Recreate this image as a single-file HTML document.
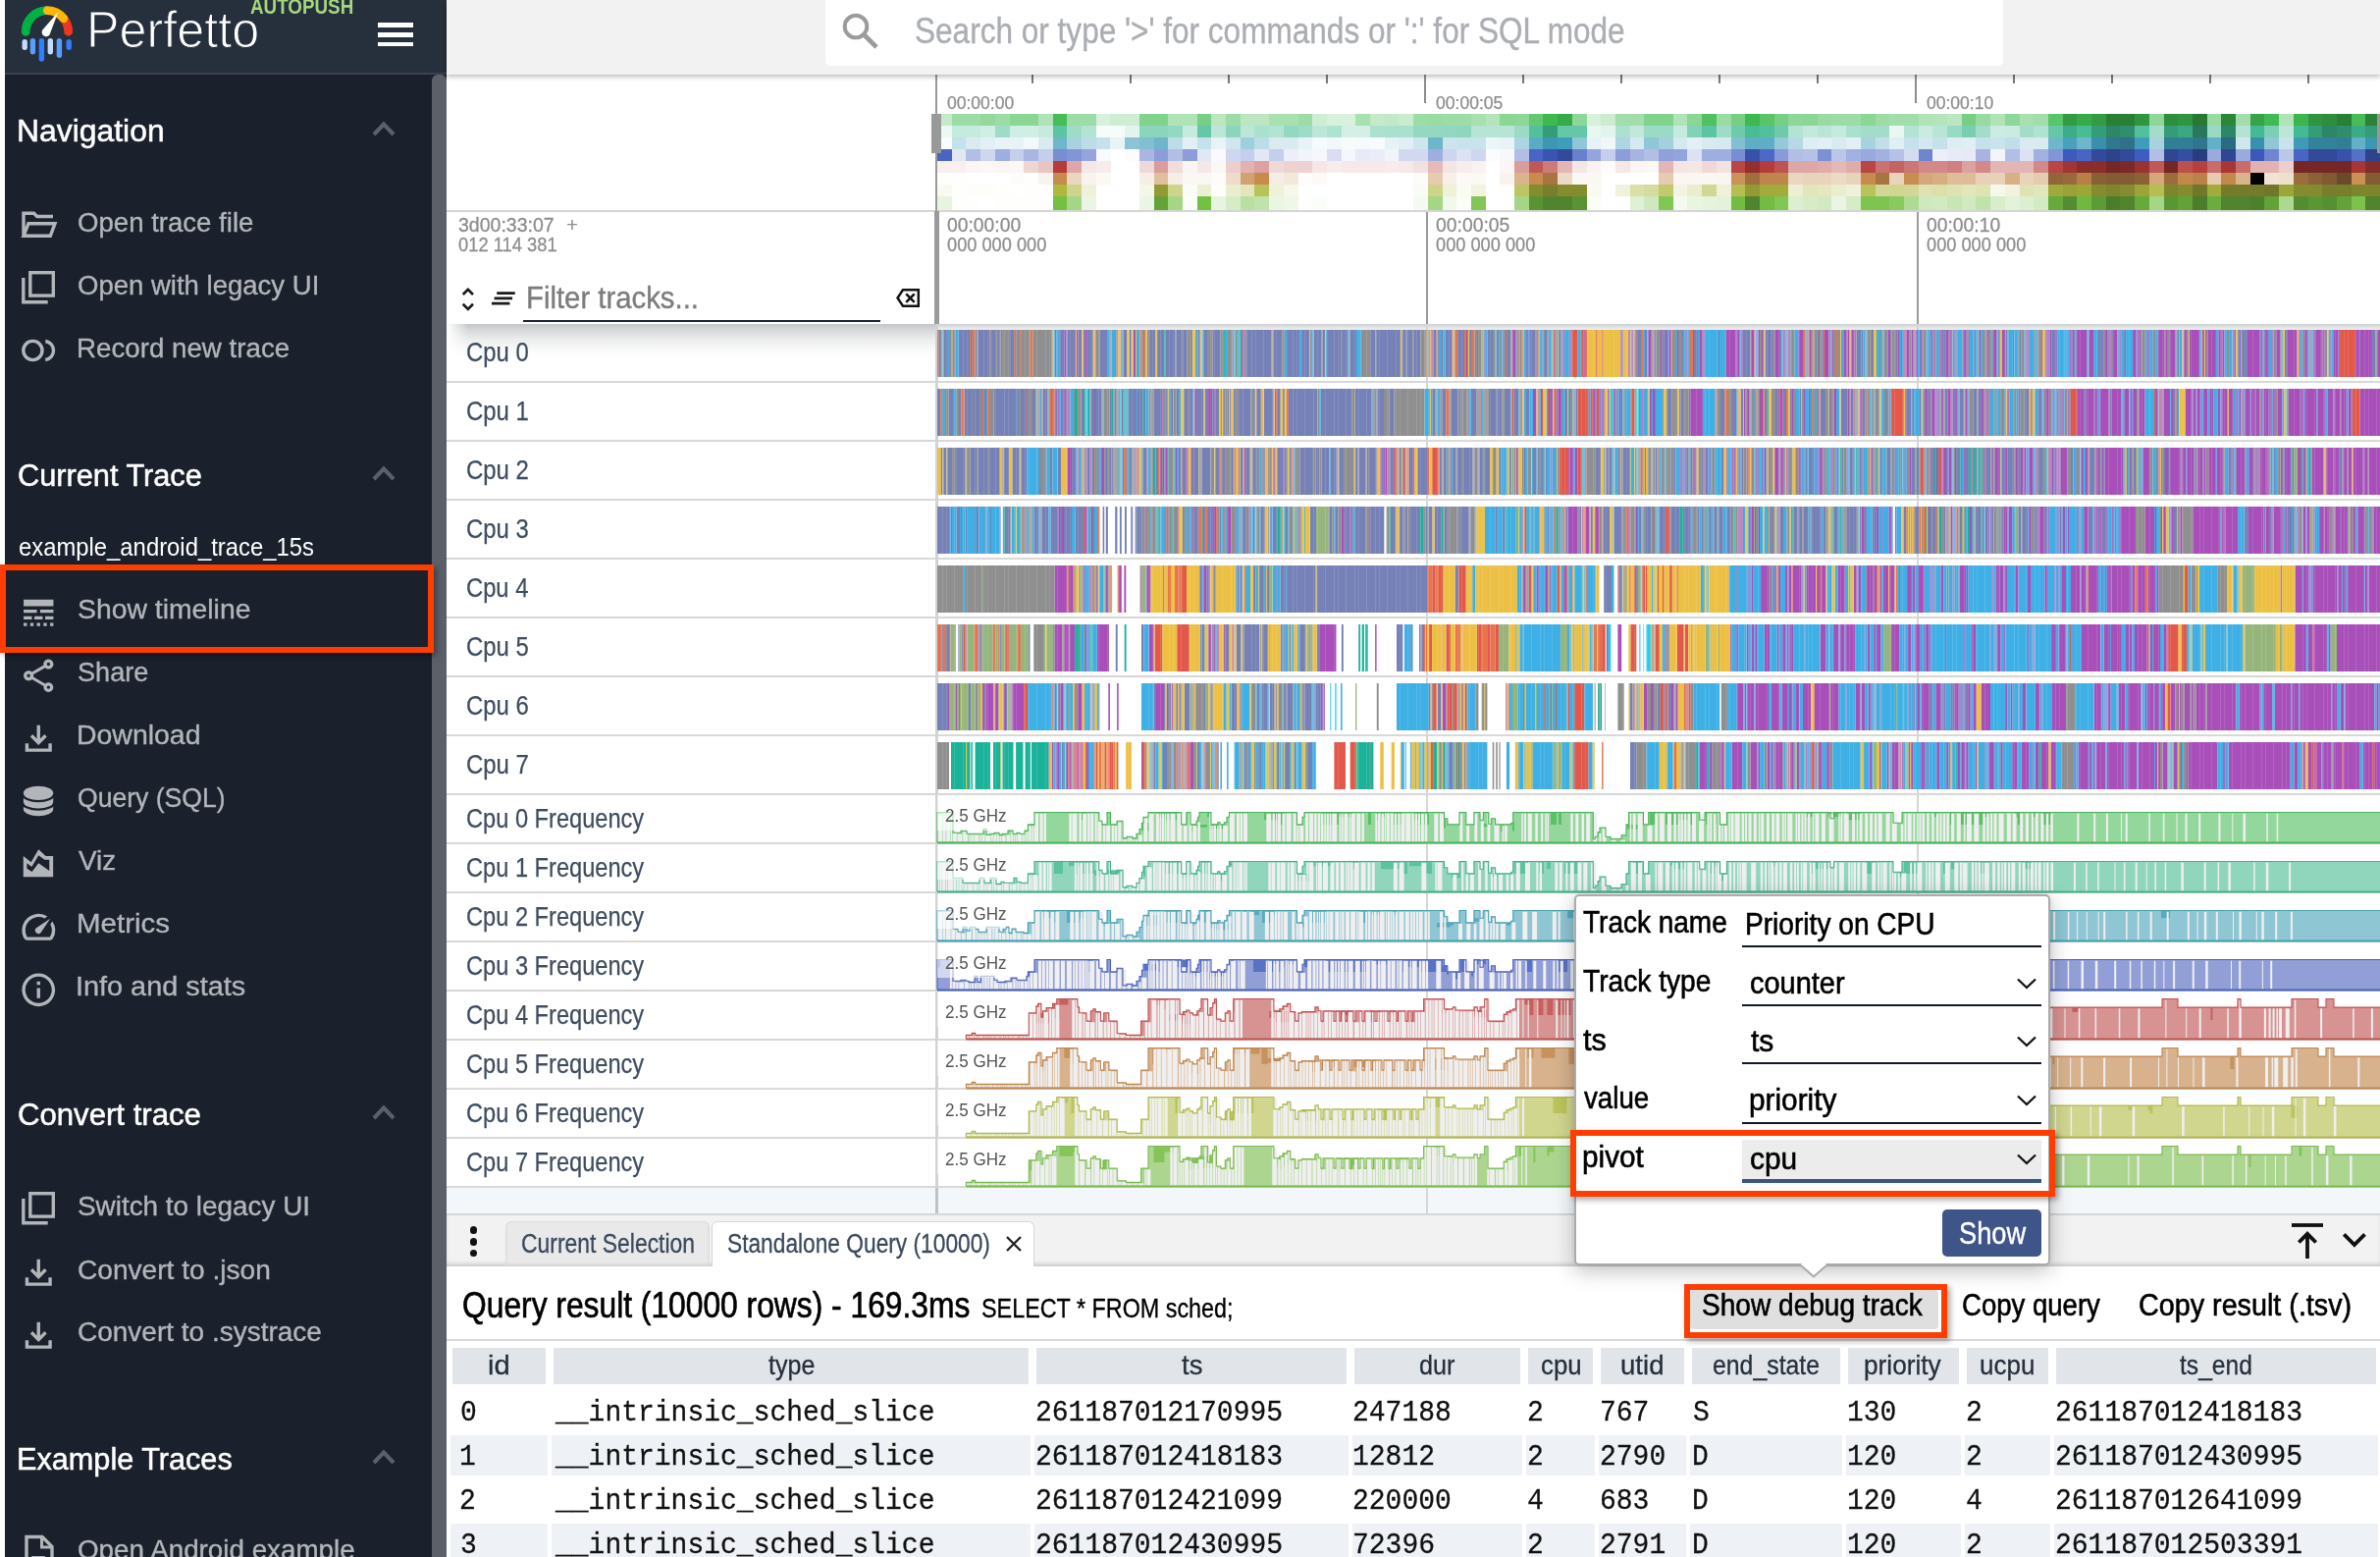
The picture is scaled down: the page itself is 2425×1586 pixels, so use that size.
<!DOCTYPE html>
<html lang="en"><head><meta charset="utf-8"><title>Perfetto UI</title>
<style>
html,body{margin:0;padding:0;background:#fff}
body{width:2425px;height:1586px;position:relative;overflow:hidden;font-family:"Liberation Sans",sans-serif}
.b{position:absolute;box-sizing:border-box}
.t{position:absolute;white-space:pre;line-height:1;transform-origin:0 0}
svg{position:absolute;overflow:visible}
#w{position:absolute;left:0;top:0;width:2425px;height:1586px;will-change:transform}
</style></head>
<body>
<div id="w">
<div class="b" style="left:5px;top:0px;width:450px;height:1586px;background:#1b212c;"></div>
<div class="b" style="left:5px;top:0px;width:450px;height:76px;background:#262f3c;border-bottom:2px solid #3a424e;"></div>
<div class="b" style="left:440px;top:76px;width:15px;height:1510px;background:#5c6069;border-radius:6px 6px 0 0;"></div>
<svg style="left:0;top:0" width="90" height="72" viewBox="0 0 90 72"><path d="M64.52 18.45 A21.7 21.7 0 0 1 69.60 32.21" fill="none" stroke="#ef3623" stroke-width="8.8" stroke-linecap="round"/><path d="M26.20 32.40 A21.7 21.7 0 0 1 47.14 10.71" fill="none" stroke="#02b144" stroke-width="8.8" stroke-linecap="round"/><path d="M48.28 10.70 A21.7 21.7 0 0 1 64.76 18.74" fill="none" stroke="#ffb606" stroke-width="8.8" stroke-linecap="round"/><path d="M59.4 12 L50.6 35.3 A4.3 4.3 0 1 1 43.3 30.6 Z" fill="#fafafa"/><rect x="22.5" y="40" width="5.4" height="10.9" rx="2.7" fill="#c3dbff"/><rect x="30.7" y="39" width="5.4" height="16.5" rx="2.7" fill="#5c9cff"/><rect x="39.7" y="39" width="5.4" height="23.7" rx="2.7" fill="#2f7fff"/><rect x="48.6" y="39" width="5.4" height="16.5" rx="2.7" fill="#c3dbff"/><rect x="57.7" y="39" width="5.4" height="20.0" rx="2.7" fill="#5c9cff"/><rect x="67.5" y="40" width="5.4" height="10.9" rx="2.7" fill="#2f7fff"/></svg>
<span class="t" style="left:87.9px;top:4.0px;font-size:52px;color:#fff;transform:scaleX(0.9670);font-weight:400;-webkit-text-stroke:1.1px #262f3c;">Perfetto</span>
<span class="t" style="left:254.6px;top:-3.0px;font-size:21.5px;color:#a6d67d;font-weight:700;transform:scaleX(0.8749);">AUTOPUSH</span>
<div class="b" style="left:385px;top:23px;width:36px;height:4.6px;background:#fff;"></div>
<div class="b" style="left:385px;top:33px;width:36px;height:4.6px;background:#fff;"></div>
<div class="b" style="left:385px;top:42.5px;width:36px;height:4.6px;background:#fff;"></div>
<span class="t" style="left:17.2px;top:118.2px;font-size:31px;color:#fff;transform:scaleX(1.0282);-webkit-text-stroke:0.5px #fff;">Navigation</span>
<svg style="left:379px;top:123.2px" width="24" height="16" viewBox="0 0 24 16"><path d="M2 14 L12 3.5 L22 14" fill="none" stroke="#5b616c" stroke-width="4"/></svg>
<span class="t" style="left:18.3px;top:469.0px;font-size:31px;color:#fff;transform:scaleX(0.9909);-webkit-text-stroke:0.5px #fff;">Current Trace</span>
<svg style="left:379px;top:474.0px" width="24" height="16" viewBox="0 0 24 16"><path d="M2 14 L12 3.5 L22 14" fill="none" stroke="#5b616c" stroke-width="4"/></svg>
<span class="t" style="left:18.3px;top:1119.8px;font-size:31px;color:#fff;transform:scaleX(1.0044);-webkit-text-stroke:0.5px #fff;">Convert trace</span>
<svg style="left:379px;top:1124.8px" width="24" height="16" viewBox="0 0 24 16"><path d="M2 14 L12 3.5 L22 14" fill="none" stroke="#5b616c" stroke-width="4"/></svg>
<span class="t" style="left:17.3px;top:1470.7px;font-size:31px;color:#fff;transform:scaleX(0.9886);-webkit-text-stroke:0.5px #fff;">Example Traces</span>
<svg style="left:379px;top:1475.7px" width="24" height="16" viewBox="0 0 24 16"><path d="M2 14 L12 3.5 L22 14" fill="none" stroke="#5b616c" stroke-width="4"/></svg>
<span class="t" style="left:18.5px;top:543.7px;font-size:26px;color:#fff;transform:scaleX(0.9169);">example_android_trace_15s</span>
<span class="t" style="left:78.8px;top:214.1px;font-size:27px;color:#b2b5ba;transform:scaleX(1.0214);-webkit-text-stroke:0.35px #b2b5ba;">Open trace file</span>
<svg style="left:20.0px;top:209.1px" width="40" height="40" viewBox="0 0 40 40"><path fill="none" stroke="#b2b5ba" stroke-width="3.4" stroke-linejoin="miter" d="M4 31.3 V8.3 H14.5 L17.8 11.5 H34 M4 31.3 L9 18.7 H36 L31.3 31.3 Z"/></svg>
<span class="t" style="left:78.8px;top:278.1px;font-size:27px;color:#b2b5ba;transform:scaleX(1.0193);-webkit-text-stroke:0.35px #b2b5ba;">Open with legacy UI</span>
<svg style="left:20.0px;top:273.1px" width="40" height="40" viewBox="0 0 40 40"><rect x="10.8" y="4.7" width="23.5" height="23.4" fill="none" stroke="#b2b5ba" stroke-width="3.4"/><path fill="none" stroke="#b2b5ba" stroke-width="3.4" d="M3.8 9.9 V34.8 H28.7"/></svg>
<span class="t" style="left:77.7px;top:342.0px;font-size:27px;color:#b2b5ba;transform:scaleX(1.0264);-webkit-text-stroke:0.35px #b2b5ba;">Record new trace</span>
<svg style="left:20.0px;top:337.0px" width="40" height="40" viewBox="0 0 40 40"><circle cx="13.4" cy="20" r="9.6" fill="none" stroke="#b2b5ba" stroke-width="3.4"/><path fill="none" stroke="#b2b5ba" stroke-width="3.4" d="M26.3 10.5 A9.6 9.6 0 0 1 26.3 29.5"/></svg>
<span class="t" style="left:78.7px;top:608.2px;font-size:27px;color:#b2b5ba;transform:scaleX(1.0495);-webkit-text-stroke:0.35px #b2b5ba;">Show timeline</span>
<svg style="left:18.9px;top:603.8px" width="40.5" height="40.5" viewBox="0 0 24 24"><path fill="#b2b5ba" fill-rule="evenodd" d="M3 16h5v-2H3v2zm6.5 0h5v-2h-5v2zm6.5 0h5v-2h-5v2zM3 20h2v-2H3v2zm4 0h2v-2H7v2zm4 0h2v-2h-2v2zm4 0h2v-2h-2v2zm4 0h2v-2h-2v2zM3 12h8v-2H3v2zm10 0h8v-2h-8v2zM3 4v4h18V4H3z"/></svg>
<span class="t" style="left:78.8px;top:672.1px;font-size:27px;color:#b2b5ba;transform:scaleX(1.0043);-webkit-text-stroke:0.35px #b2b5ba;">Share</span>
<svg style="left:18.9px;top:667.6px" width="40.5" height="40.5" viewBox="0 0 24 24"><path fill="#b2b5ba" fill-rule="evenodd" d="M18 16.08c-.76 0-1.44.3-1.96.77L8.91 12.7c.05-.23.09-.46.09-.7s-.04-.47-.09-.7l7.05-4.11c.54.5 1.25.81 2.04.81 1.66 0 3-1.34 3-3s-1.34-3-3-3-3 1.34-3 3c0 .24.04.47.09.7L8.04 9.81C7.5 9.31 6.79 9 6 9c-1.66 0-3 1.34-3 3s1.34 3 3 3c.79 0 1.5-.31 2.04-.81l7.12 4.16c-.05.21-.08.43-.08.65 0 1.61 1.31 2.92 2.92 2.92s2.92-1.31 2.92-2.92c0-1.61-1.31-2.92-2.92-2.92zM18 4c.55 0 1 .45 1 1s-.45 1-1 1-1-.45-1-1 .45-1 1-1zM6 13c-.55 0-1-.45-1-1s.45-1 1-1 1 .45 1 1-.45 1-1 1zm12 7.02c-.55 0-1-.45-1-1s.45-1 1-1 1 .45 1 1-.45 1-1 1z"/></svg>
<span class="t" style="left:77.7px;top:736.3px;font-size:27px;color:#b2b5ba;transform:scaleX(1.0534);-webkit-text-stroke:0.35px #b2b5ba;">Download</span>
<svg style="left:18.9px;top:731.8px" width="40.5" height="40.5" viewBox="0 0 24 24"><path fill="#b2b5ba" fill-rule="evenodd" d="M12 16l-5-5 1.4-1.45 2.6 2.6V4h2v8.15l2.6-2.6L17 11zM4 20v-5h2v3h12v-3h2v5z"/></svg>
<span class="t" style="left:78.8px;top:800.1px;font-size:27px;color:#b2b5ba;transform:scaleX(0.9834);-webkit-text-stroke:0.35px #b2b5ba;">Query (SQL)</span>
<svg style="left:20.0px;top:795.1px" width="40" height="40" viewBox="0 0 40 40"><path fill="#b2b5ba" d="M3.9 12.6 A15.15 6.9 0 0 1 34.2 12.6 V29.3 A15.15 6.9 0 0 1 3.9 29.3 Z"/><path fill="none" stroke="#1b212c" stroke-width="2.3" d="M3 13.8 A15.15 6.9 0 0 0 35.1 13.8 M3 22.4 A15.15 6.9 0 0 0 35.1 22.4"/></svg>
<span class="t" style="left:79.9px;top:864.1px;font-size:27px;color:#b2b5ba;transform:scaleX(1.0309);-webkit-text-stroke:0.35px #b2b5ba;">Viz</span>
<svg style="left:19.0px;top:859.1px" width="40" height="40" viewBox="0 0 40 40"><path fill="#b2b5ba" fill-rule="evenodd" d="M4.75 12.9 L12.7 19.2 L20.25 6.2 L27.6 12.9 H35.15 V34.2 H4.75 Z M8.4 20.2 L13.3 24.1 L20.25 12.3 L26.4 16.8 H31.25 V28.1 L20.25 20.2 L13.55 29 L8.4 25.7 Z"/></svg>
<span class="t" style="left:77.6px;top:928.4px;font-size:27px;color:#b2b5ba;transform:scaleX(1.0918);-webkit-text-stroke:0.35px #b2b5ba;">Metrics</span>
<svg style="left:18.9px;top:923.9px" width="40.5" height="40.5" viewBox="0 0 24 24"><path fill="#b2b5ba" fill-rule="evenodd" d="M20.38 8.57l-1.23 1.85a8 8 0 0 1-.22 7.58H5.07A8 8 0 0 1 15.58 6.85l1.85-1.23A10 10 0 0 0 3.35 19a2 2 0 0 0 1.72 1h13.85a2 2 0 0 0 1.74-1 10 10 0 0 0-.27-10.44zm-9.79 6.84a2 2 0 0 0 2.83 0l5.66-8.49-8.49 5.66a2 2 0 0 0 0 2.83z"/></svg>
<span class="t" style="left:77.4px;top:992.2px;font-size:27px;color:#b2b5ba;transform:scaleX(1.0680);-webkit-text-stroke:0.35px #b2b5ba;">Info and stats</span>
<svg style="left:18.9px;top:987.8px" width="40.5" height="40.5" viewBox="0 0 24 24"><path fill="#b2b5ba" fill-rule="evenodd" d="M11 7h2v2h-2zm0 4h2v6h-2zm1-9C6.48 2 2 6.48 2 12s4.48 10 10 10 10-4.48 10-10S17.52 2 12 2zm0 18c-4.41 0-8-3.59-8-8s3.59-8 8-8 8 3.59 8 8-3.59 8-8 8z"/></svg>
<span class="t" style="left:78.8px;top:1216.3px;font-size:27px;color:#b2b5ba;transform:scaleX(1.0323);-webkit-text-stroke:0.35px #b2b5ba;">Switch to legacy UI</span>
<svg style="left:20.0px;top:1211.3px" width="40" height="40" viewBox="0 0 40 40"><rect x="10.8" y="4.7" width="23.5" height="23.4" fill="none" stroke="#b2b5ba" stroke-width="3.4"/><path fill="none" stroke="#b2b5ba" stroke-width="3.4" d="M3.8 9.9 V34.8 H28.7"/></svg>
<span class="t" style="left:78.6px;top:1280.6px;font-size:27px;color:#b2b5ba;transform:scaleX(1.0408);-webkit-text-stroke:0.35px #b2b5ba;">Convert to .json</span>
<svg style="left:18.9px;top:1276.1px" width="40.5" height="40.5" viewBox="0 0 24 24"><path fill="#b2b5ba" fill-rule="evenodd" d="M12 16l-5-5 1.4-1.45 2.6 2.6V4h2v8.15l2.6-2.6L17 11zM4 20v-5h2v3h12v-3h2v5z"/></svg>
<span class="t" style="left:78.7px;top:1344.3px;font-size:27px;color:#b2b5ba;transform:scaleX(1.0366);-webkit-text-stroke:0.35px #b2b5ba;">Convert to .systrace</span>
<svg style="left:18.9px;top:1339.8px" width="40.5" height="40.5" viewBox="0 0 24 24"><path fill="#b2b5ba" fill-rule="evenodd" d="M12 16l-5-5 1.4-1.45 2.6 2.6V4h2v8.15l2.6-2.6L17 11zM4 20v-5h2v3h12v-3h2v5z"/></svg>
<span class="t" style="left:78.8px;top:1566.0px;font-size:27px;color:#b2b5ba;transform:scaleX(1.0290);-webkit-text-stroke:0.35px #b2b5ba;">Open Android example</span>
<svg style="left:20.0px;top:1561.0px" width="40" height="40" viewBox="0 0 40 40"><path fill="none" stroke="#b2b5ba" stroke-width="3.4" d="M7 37 V4.5 H23 L33 14.5 V37 Z"/><path fill="#b2b5ba" d="M21 5 V16.5 H32.5 V13.5 H24 V5Z"/><rect x="12" y="24" width="14" height="3.2" fill="#b2b5ba"/></svg>
<div class="b" style="left:455px;top:330px;width:498px;height:34px;background:linear-gradient(#c4c7ca,#d9dbdd 22%,#eceded 48%,#f8f8f9 72%,#fff);-webkit-mask-image:linear-gradient(90deg,transparent,#000 22px);mask-image:linear-gradient(90deg,transparent,#000 22px);"></div>
<div class="b" style="left:956px;top:330px;width:1469px;height:7px;background:linear-gradient(#cdd0d2,#e4e5e6 55%,#f6f6f6);"></div>
<span class="t" style="left:474.8px;top:345.0px;font-size:28px;color:#3f4d5f;transform:scaleX(0.8518);-webkit-text-stroke:0.25px #3f4d5f;">Cpu 0</span>
<div class="b" style="left:455px;top:388px;width:1970px;height:2px;background:#d8d8d8;"></div>
<span class="t" style="left:474.8px;top:405.0px;font-size:28px;color:#3f4d5f;transform:scaleX(0.8542);-webkit-text-stroke:0.25px #3f4d5f;">Cpu 1</span>
<div class="b" style="left:455px;top:448px;width:1970px;height:2px;background:#d8d8d8;"></div>
<span class="t" style="left:474.8px;top:465.0px;font-size:28px;color:#3f4d5f;transform:scaleX(0.8554);-webkit-text-stroke:0.25px #3f4d5f;">Cpu 2</span>
<div class="b" style="left:455px;top:508px;width:1970px;height:2px;background:#d8d8d8;"></div>
<span class="t" style="left:474.8px;top:525.0px;font-size:28px;color:#3f4d5f;transform:scaleX(0.8530);-webkit-text-stroke:0.25px #3f4d5f;">Cpu 3</span>
<div class="b" style="left:455px;top:568px;width:1970px;height:2px;background:#d8d8d8;"></div>
<span class="t" style="left:474.8px;top:585.0px;font-size:28px;color:#3f4d5f;transform:scaleX(0.8483);-webkit-text-stroke:0.25px #3f4d5f;">Cpu 4</span>
<div class="b" style="left:455px;top:628px;width:1970px;height:2px;background:#d8d8d8;"></div>
<span class="t" style="left:474.8px;top:645.0px;font-size:28px;color:#3f4d5f;transform:scaleX(0.8530);-webkit-text-stroke:0.25px #3f4d5f;">Cpu 5</span>
<div class="b" style="left:455px;top:688px;width:1970px;height:2px;background:#d8d8d8;"></div>
<span class="t" style="left:474.8px;top:705.0px;font-size:28px;color:#3f4d5f;transform:scaleX(0.8530);-webkit-text-stroke:0.25px #3f4d5f;">Cpu 6</span>
<div class="b" style="left:455px;top:748px;width:1970px;height:2px;background:#d8d8d8;"></div>
<span class="t" style="left:474.8px;top:765.0px;font-size:28px;color:#3f4d5f;transform:scaleX(0.8554);-webkit-text-stroke:0.25px #3f4d5f;">Cpu 7</span>
<div class="b" style="left:455px;top:808px;width:1970px;height:2px;background:#d8d8d8;"></div>
<span class="t" style="left:474.8px;top:820.0px;font-size:28px;color:#3f4d5f;transform:scaleX(0.8435);-webkit-text-stroke:0.25px #3f4d5f;">Cpu 0 Frequency</span>
<div class="b" style="left:455px;top:858px;width:1970px;height:2px;background:#d8d8d8;"></div>
<span class="t" style="left:474.8px;top:870.0px;font-size:28px;color:#3f4d5f;transform:scaleX(0.8435);-webkit-text-stroke:0.25px #3f4d5f;">Cpu 1 Frequency</span>
<div class="b" style="left:455px;top:908px;width:1970px;height:2px;background:#d8d8d8;"></div>
<span class="t" style="left:474.8px;top:920.0px;font-size:28px;color:#3f4d5f;transform:scaleX(0.8435);-webkit-text-stroke:0.25px #3f4d5f;">Cpu 2 Frequency</span>
<div class="b" style="left:455px;top:958px;width:1970px;height:2px;background:#d8d8d8;"></div>
<span class="t" style="left:474.8px;top:970.0px;font-size:28px;color:#3f4d5f;transform:scaleX(0.8435);-webkit-text-stroke:0.25px #3f4d5f;">Cpu 3 Frequency</span>
<div class="b" style="left:455px;top:1008px;width:1970px;height:2px;background:#d8d8d8;"></div>
<span class="t" style="left:474.8px;top:1020.0px;font-size:28px;color:#3f4d5f;transform:scaleX(0.8435);-webkit-text-stroke:0.25px #3f4d5f;">Cpu 4 Frequency</span>
<div class="b" style="left:455px;top:1058px;width:1970px;height:2px;background:#d8d8d8;"></div>
<span class="t" style="left:474.8px;top:1070.0px;font-size:28px;color:#3f4d5f;transform:scaleX(0.8435);-webkit-text-stroke:0.25px #3f4d5f;">Cpu 5 Frequency</span>
<div class="b" style="left:455px;top:1108px;width:1970px;height:2px;background:#d8d8d8;"></div>
<span class="t" style="left:474.8px;top:1120.0px;font-size:28px;color:#3f4d5f;transform:scaleX(0.8435);-webkit-text-stroke:0.25px #3f4d5f;">Cpu 6 Frequency</span>
<div class="b" style="left:455px;top:1158px;width:1970px;height:2px;background:#d8d8d8;"></div>
<span class="t" style="left:474.8px;top:1170.0px;font-size:28px;color:#3f4d5f;transform:scaleX(0.8435);-webkit-text-stroke:0.25px #3f4d5f;">Cpu 7 Frequency</span>
<div class="b" style="left:455px;top:1208px;width:1970px;height:2px;background:#d8d8d8;"></div>
<div class="b" style="left:953px;top:330px;width:3px;height:907px;background:#d0d4d9;"></div>
<div class="b" style="left:455px;top:1210px;width:1970px;height:26px;background:#f3f7fa;"></div>
<div class="b" style="left:953px;top:1210px;width:3px;height:27px;background:#bcc2c9;"></div>
<div class="b" style="left:1453px;top:330px;width:2px;height:907px;background:#d6d6d6;"></div>
<div class="b" style="left:1953px;top:330px;width:2px;height:907px;background:#d6d6d6;"></div>
<svg style="left:0;top:0" width="2425" height="220" viewBox="0 0 2425 220" shape-rendering="crispEdges"><rect x="955.0" y="116.00" width="15.0" height="12.30" fill="#c5eaca"/><rect x="969.7" y="116.00" width="29.7" height="12.30" fill="#9edca7"/><rect x="999.1" y="116.00" width="15.0" height="12.30" fill="#94d89e"/><rect x="1013.8" y="116.00" width="15.0" height="12.30" fill="#9edca7"/><rect x="1028.5" y="116.00" width="29.7" height="12.30" fill="#8bd595"/><rect x="1057.9" y="116.00" width="15.0" height="12.30" fill="#b1e3b9"/><rect x="1072.6" y="116.00" width="15.0" height="12.30" fill="#47bc58"/><rect x="1087.3" y="116.00" width="29.7" height="12.30" fill="#9edca7"/><rect x="1116.7" y="116.00" width="15.0" height="12.30" fill="#d8f1dc"/><rect x="1131.4" y="116.00" width="29.7" height="12.30" fill="#ceeed3"/><rect x="1160.8" y="116.00" width="29.7" height="12.30" fill="#81d28d"/><rect x="1190.2" y="116.00" width="29.7" height="12.30" fill="#b1e3b9"/><rect x="1219.6" y="116.00" width="15.0" height="12.30" fill="#77ce84"/><rect x="1234.3" y="116.00" width="15.0" height="12.30" fill="#bbe6c1"/><rect x="1249.0" y="116.00" width="15.0" height="12.30" fill="#9edca7"/><rect x="1263.7" y="116.00" width="29.7" height="12.30" fill="#bbe6c1"/><rect x="1293.1" y="116.00" width="29.7" height="12.30" fill="#a8e0b0"/><rect x="1322.5" y="116.00" width="15.0" height="12.30" fill="#9edca7"/><rect x="1337.2" y="116.00" width="15.0" height="12.30" fill="#ceeed3"/><rect x="1351.9" y="116.00" width="29.7" height="12.30" fill="#d8f1dc"/><rect x="1381.3" y="116.00" width="15.0" height="12.30" fill="#a8e0b0"/><rect x="1396.0" y="116.00" width="15.0" height="12.30" fill="#c5eaca"/><rect x="1410.7" y="116.00" width="15.0" height="12.30" fill="#c1e9c7"/><rect x="1425.4" y="116.00" width="15.0" height="12.30" fill="#c9ebce"/><rect x="1440.1" y="116.00" width="15.0" height="12.30" fill="#9edca7"/><rect x="1454.8" y="116.00" width="15.0" height="12.30" fill="#9adba3"/><rect x="1469.5" y="116.00" width="29.7" height="12.30" fill="#9edca7"/><rect x="1498.9" y="116.00" width="15.0" height="12.30" fill="#a8e0b0"/><rect x="1513.6" y="116.00" width="15.0" height="12.30" fill="#b5e4bc"/><rect x="1528.3" y="116.00" width="15.0" height="12.30" fill="#8bd595"/><rect x="1543.0" y="116.00" width="15.0" height="12.30" fill="#8ed699"/><rect x="1557.7" y="116.00" width="15.0" height="12.30" fill="#64c772"/><rect x="1572.4" y="116.00" width="15.0" height="12.30" fill="#3db94f"/><rect x="1587.1" y="116.00" width="15.0" height="12.30" fill="#38ab49"/><rect x="1601.8" y="116.00" width="15.0" height="12.30" fill="#8ed699"/><rect x="1616.5" y="116.00" width="15.0" height="12.30" fill="#d8f1dc"/><rect x="1631.2" y="116.00" width="15.0" height="12.30" fill="#cbeccf"/><rect x="1645.9" y="116.00" width="29.7" height="12.30" fill="#a2ddab"/><rect x="1675.3" y="116.00" width="29.7" height="12.30" fill="#81d28d"/><rect x="1704.7" y="116.00" width="15.0" height="12.30" fill="#b1e3b9"/><rect x="1719.4" y="116.00" width="15.0" height="12.30" fill="#8bd595"/><rect x="1734.1" y="116.00" width="15.0" height="12.30" fill="#50c061"/><rect x="1748.8" y="116.00" width="15.0" height="12.30" fill="#9adba3"/><rect x="1763.5" y="116.00" width="15.0" height="12.30" fill="#77ce84"/><rect x="1778.2" y="116.00" width="15.0" height="12.30" fill="#3db94f"/><rect x="1792.9" y="116.00" width="15.0" height="12.30" fill="#5ac469"/><rect x="1807.6" y="116.00" width="15.0" height="12.30" fill="#77ce84"/><rect x="1822.3" y="116.00" width="15.0" height="12.30" fill="#8ed699"/><rect x="1837.0" y="116.00" width="15.0" height="12.30" fill="#8bd595"/><rect x="1851.7" y="116.00" width="15.0" height="12.30" fill="#98daa2"/><rect x="1866.4" y="116.00" width="29.7" height="12.30" fill="#9edca7"/><rect x="1895.8" y="116.00" width="15.0" height="12.30" fill="#8bd595"/><rect x="1910.5" y="116.00" width="15.0" height="12.30" fill="#9edca7"/><rect x="1925.2" y="116.00" width="29.7" height="12.30" fill="#a2ddab"/><rect x="1954.6" y="116.00" width="15.0" height="12.30" fill="#b1e3b9"/><rect x="1969.3" y="116.00" width="15.0" height="12.30" fill="#b5e4bc"/><rect x="1984.0" y="116.00" width="15.0" height="12.30" fill="#bbe6c1"/><rect x="1998.7" y="116.00" width="15.0" height="12.30" fill="#77ce84"/><rect x="2013.4" y="116.00" width="15.0" height="12.30" fill="#98daa2"/><rect x="2028.1" y="116.00" width="15.0" height="12.30" fill="#b1e3b9"/><rect x="2042.8" y="116.00" width="15.0" height="12.30" fill="#8ed699"/><rect x="2057.5" y="116.00" width="15.0" height="12.30" fill="#a8e0b0"/><rect x="2072.2" y="116.00" width="15.0" height="12.30" fill="#a2ddab"/><rect x="2086.9" y="116.00" width="15.0" height="12.30" fill="#5ac469"/><rect x="2101.6" y="116.00" width="15.0" height="12.30" fill="#339c43"/><rect x="2116.3" y="116.00" width="15.0" height="12.30" fill="#38ab49"/><rect x="2131.0" y="116.00" width="15.0" height="12.30" fill="#339c43"/><rect x="2145.7" y="116.00" width="29.7" height="12.30" fill="#2a7f36"/><rect x="2175.1" y="116.00" width="15.0" height="12.30" fill="#319540"/><rect x="2189.8" y="116.00" width="15.0" height="12.30" fill="#8ed699"/><rect x="2204.5" y="116.00" width="15.0" height="12.30" fill="#2f8e3d"/><rect x="2219.2" y="116.00" width="15.0" height="12.30" fill="#319540"/><rect x="2233.9" y="116.00" width="15.0" height="12.30" fill="#287833"/><rect x="2248.6" y="116.00" width="15.0" height="12.30" fill="#98daa2"/><rect x="2263.3" y="116.00" width="15.0" height="12.30" fill="#2c8639"/><rect x="2278.0" y="116.00" width="15.0" height="12.30" fill="#a2ddab"/><rect x="2292.7" y="116.00" width="15.0" height="12.30" fill="#36a346"/><rect x="2307.4" y="116.00" width="15.0" height="12.30" fill="#41ba53"/><rect x="2322.1" y="116.00" width="15.0" height="12.30" fill="#b1e3b9"/><rect x="2336.8" y="116.00" width="15.0" height="12.30" fill="#3cb54d"/><rect x="2351.5" y="116.00" width="15.0" height="12.30" fill="#319540"/><rect x="2366.2" y="116.00" width="15.0" height="12.30" fill="#2f8e3d"/><rect x="2380.9" y="116.00" width="15.0" height="12.30" fill="#2a7f36"/><rect x="2395.6" y="116.00" width="15.0" height="12.30" fill="#47bc58"/><rect x="2410.3" y="116.00" width="15.0" height="12.30" fill="#2b8238"/><rect x="955.0" y="128.00" width="15.0" height="12.30" fill="#ecf8f4"/><rect x="969.7" y="128.00" width="29.7" height="12.30" fill="#c5eade"/><rect x="999.1" y="128.00" width="15.0" height="12.30" fill="#cfeee4"/><rect x="1013.8" y="128.00" width="15.0" height="12.30" fill="#9fdcc8"/><rect x="1028.5" y="128.00" width="29.7" height="12.30" fill="#cfeee4"/><rect x="1057.9" y="128.00" width="15.0" height="12.30" fill="#c5eade"/><rect x="1072.6" y="128.00" width="15.0" height="12.30" fill="#5cc4a2"/><rect x="1087.3" y="128.00" width="15.0" height="12.30" fill="#9fdcc8"/><rect x="1102.0" y="128.00" width="15.0" height="12.30" fill="#b2e3d3"/><rect x="1116.7" y="128.00" width="29.7" height="12.30" fill="#f5fcfa"/><rect x="1146.1" y="128.00" width="15.0" height="12.30" fill="#e2f4ee"/><rect x="1160.8" y="128.00" width="29.7" height="12.30" fill="#8cd5bd"/><rect x="1190.2" y="128.00" width="15.0" height="12.30" fill="#95d8c2"/><rect x="1204.9" y="128.00" width="15.0" height="12.30" fill="#c5eade"/><rect x="1219.6" y="128.00" width="15.0" height="12.30" fill="#65c7a7"/><rect x="1234.3" y="128.00" width="15.0" height="12.30" fill="#bce6d8"/><rect x="1249.0" y="128.00" width="15.0" height="12.30" fill="#8cd5bd"/><rect x="1263.7" y="128.00" width="15.0" height="12.30" fill="#bce6d8"/><rect x="1278.4" y="128.00" width="15.0" height="12.30" fill="#a9e0ce"/><rect x="1293.1" y="128.00" width="15.0" height="12.30" fill="#b2e3d3"/><rect x="1307.8" y="128.00" width="15.0" height="12.30" fill="#95d8c2"/><rect x="1322.5" y="128.00" width="15.0" height="12.30" fill="#9fdcc8"/><rect x="1337.2" y="128.00" width="15.0" height="12.30" fill="#bce6d8"/><rect x="1351.9" y="128.00" width="15.0" height="12.30" fill="#aee2d1"/><rect x="1366.6" y="128.00" width="29.7" height="12.30" fill="#d3efe6"/><rect x="1396.0" y="128.00" width="15.0" height="12.30" fill="#ace1d0"/><rect x="1410.7" y="128.00" width="29.7" height="12.30" fill="#a9e0ce"/><rect x="1440.1" y="128.00" width="29.7" height="12.30" fill="#95d8c2"/><rect x="1469.5" y="128.00" width="15.0" height="12.30" fill="#92d7c0"/><rect x="1484.2" y="128.00" width="15.0" height="12.30" fill="#90d6bf"/><rect x="1498.9" y="128.00" width="44.4" height="12.30" fill="#b6e4d5"/><rect x="1543.0" y="128.00" width="15.0" height="12.30" fill="#9bdbc6"/><rect x="1557.7" y="128.00" width="15.0" height="12.30" fill="#52c09c"/><rect x="1572.4" y="128.00" width="15.0" height="12.30" fill="#359c7a"/><rect x="1587.1" y="128.00" width="29.7" height="12.30" fill="#65c7a7"/><rect x="1616.5" y="128.00" width="15.0" height="12.30" fill="#e8f7f2"/><rect x="1631.2" y="128.00" width="15.0" height="12.30" fill="#e2f4ee"/><rect x="1645.9" y="128.00" width="15.0" height="12.30" fill="#ace1d0"/><rect x="1660.6" y="128.00" width="15.0" height="12.30" fill="#c0e8db"/><rect x="1675.3" y="128.00" width="29.7" height="12.30" fill="#9bdbc6"/><rect x="1704.7" y="128.00" width="15.0" height="12.30" fill="#c5eade"/><rect x="1719.4" y="128.00" width="15.0" height="12.30" fill="#82d2b8"/><rect x="1734.1" y="128.00" width="15.0" height="12.30" fill="#5cc4a2"/><rect x="1748.8" y="128.00" width="15.0" height="12.30" fill="#9fdcc8"/><rect x="1763.5" y="128.00" width="15.0" height="12.30" fill="#6fcaac"/><rect x="1778.2" y="128.00" width="15.0" height="12.30" fill="#49bc96"/><rect x="1792.9" y="128.00" width="15.0" height="12.30" fill="#52c09c"/><rect x="1807.6" y="128.00" width="15.0" height="12.30" fill="#6fcaac"/><rect x="1822.3" y="128.00" width="15.0" height="12.30" fill="#b2e3d3"/><rect x="1837.0" y="128.00" width="15.0" height="12.30" fill="#c2e9dc"/><rect x="1851.7" y="128.00" width="15.0" height="12.30" fill="#b8e5d6"/><rect x="1866.4" y="128.00" width="15.0" height="12.30" fill="#c5eade"/><rect x="1881.1" y="128.00" width="15.0" height="12.30" fill="#a9e0ce"/><rect x="1895.8" y="128.00" width="29.7" height="12.30" fill="#a3ddca"/><rect x="1925.2" y="128.00" width="15.0" height="12.30" fill="#e8f7f2"/><rect x="1939.9" y="128.00" width="15.0" height="12.30" fill="#b2e3d3"/><rect x="1954.6" y="128.00" width="15.0" height="12.30" fill="#c9ebe0"/><rect x="1969.3" y="128.00" width="15.0" height="12.30" fill="#b8e5d6"/><rect x="1984.0" y="128.00" width="15.0" height="12.30" fill="#99dac5"/><rect x="1998.7" y="128.00" width="15.0" height="12.30" fill="#79ceb2"/><rect x="2013.4" y="128.00" width="15.0" height="12.30" fill="#a3ddca"/><rect x="2028.1" y="128.00" width="15.0" height="12.30" fill="#cbece1"/><rect x="2042.8" y="128.00" width="15.0" height="12.30" fill="#c9ebe0"/><rect x="2057.5" y="128.00" width="15.0" height="12.30" fill="#a3ddca"/><rect x="2072.2" y="128.00" width="15.0" height="12.30" fill="#aee2d1"/><rect x="2086.9" y="128.00" width="15.0" height="12.30" fill="#65c7a7"/><rect x="2101.6" y="128.00" width="15.0" height="12.30" fill="#3bad88"/><rect x="2116.3" y="128.00" width="15.0" height="12.30" fill="#49bc96"/><rect x="2131.0" y="128.00" width="15.0" height="12.30" fill="#359c7a"/><rect x="2145.7" y="128.00" width="15.0" height="12.30" fill="#2e8669"/><rect x="2160.4" y="128.00" width="15.0" height="12.30" fill="#308e6f"/><rect x="2175.1" y="128.00" width="15.0" height="12.30" fill="#52c09c"/><rect x="2189.8" y="128.00" width="15.0" height="12.30" fill="#a3ddca"/><rect x="2204.5" y="128.00" width="15.0" height="12.30" fill="#359c7a"/><rect x="2219.2" y="128.00" width="15.0" height="12.30" fill="#39a883"/><rect x="2233.9" y="128.00" width="15.0" height="12.30" fill="#29785e"/><rect x="2248.6" y="128.00" width="15.0" height="12.30" fill="#99dac5"/><rect x="2263.3" y="128.00" width="15.0" height="12.30" fill="#2e8669"/><rect x="2278.0" y="128.00" width="15.0" height="12.30" fill="#b2e3d3"/><rect x="2292.7" y="128.00" width="15.0" height="12.30" fill="#43ba93"/><rect x="2307.4" y="128.00" width="15.0" height="12.30" fill="#7ccfb4"/><rect x="2322.1" y="128.00" width="15.0" height="12.30" fill="#bce6d8"/><rect x="2336.8" y="128.00" width="15.0" height="12.30" fill="#43ba93"/><rect x="2351.5" y="128.00" width="15.0" height="12.30" fill="#359c7a"/><rect x="2366.2" y="128.00" width="15.0" height="12.30" fill="#2e8669"/><rect x="2380.9" y="128.00" width="15.0" height="12.30" fill="#308e6f"/><rect x="2395.6" y="128.00" width="15.0" height="12.30" fill="#3aab86"/><rect x="2410.3" y="128.00" width="15.0" height="12.30" fill="#359c7a"/><rect x="955.0" y="140.00" width="15.0" height="12.30" fill="#f9fcfd"/><rect x="969.7" y="140.00" width="15.0" height="12.30" fill="#c5e1eb"/><rect x="984.4" y="140.00" width="15.0" height="12.30" fill="#d9ebf1"/><rect x="999.1" y="140.00" width="15.0" height="12.30" fill="#e2f0f5"/><rect x="1013.8" y="140.00" width="29.7" height="12.30" fill="#e8f3f7"/><rect x="1043.2" y="140.00" width="15.0" height="12.30" fill="#f3f9fb"/><rect x="1057.9" y="140.00" width="15.0" height="12.30" fill="#d9ebf1"/><rect x="1072.6" y="140.00" width="15.0" height="12.30" fill="#6fb5cc"/><rect x="1087.3" y="140.00" width="15.0" height="12.30" fill="#a9d2e0"/><rect x="1102.0" y="140.00" width="15.0" height="12.30" fill="#bcdce7"/><rect x="1116.7" y="140.00" width="15.0" height="12.30" fill="#c5e1eb"/><rect x="1131.4" y="140.00" width="15.0" height="12.30" fill="#e8f3f7"/><rect x="1146.1" y="140.00" width="15.0" height="12.30" fill="#8cc4d6"/><rect x="1160.8" y="140.00" width="15.0" height="12.30" fill="#82bfd3"/><rect x="1175.5" y="140.00" width="15.0" height="12.30" fill="#6fb5cc"/><rect x="1190.2" y="140.00" width="15.0" height="12.30" fill="#bcdce7"/><rect x="1204.9" y="140.00" width="15.0" height="12.30" fill="#e2f0f5"/><rect x="1219.6" y="140.00" width="15.0" height="12.30" fill="#c5e1eb"/><rect x="1234.3" y="140.00" width="15.0" height="12.30" fill="#e8f3f7"/><rect x="1249.0" y="140.00" width="15.0" height="12.30" fill="#cfe6ee"/><rect x="1263.7" y="140.00" width="15.0" height="12.30" fill="#9fcedd"/><rect x="1278.4" y="140.00" width="15.0" height="12.30" fill="#bcdce7"/><rect x="1293.1" y="140.00" width="29.7" height="12.30" fill="#d9ebf1"/><rect x="1322.5" y="140.00" width="15.0" height="12.30" fill="#e8f3f7"/><rect x="1337.2" y="140.00" width="15.0" height="12.30" fill="#f5fafc"/><rect x="1351.9" y="140.00" width="15.0" height="12.30" fill="#f2f8fa"/><rect x="1366.6" y="140.00" width="15.0" height="12.30" fill="#f7fbfc"/><rect x="1381.3" y="140.00" width="15.0" height="12.30" fill="#f5fafc"/><rect x="1396.0" y="140.00" width="15.0" height="12.30" fill="#f7fbfc"/><rect x="1410.7" y="140.00" width="15.0" height="12.30" fill="#e6f2f6"/><rect x="1425.4" y="140.00" width="15.0" height="12.30" fill="#e0eff4"/><rect x="1440.1" y="140.00" width="15.0" height="12.30" fill="#cde5ed"/><rect x="1454.8" y="140.00" width="15.0" height="12.30" fill="#6fb5cc"/><rect x="1469.5" y="140.00" width="15.0" height="12.30" fill="#cbe4ed"/><rect x="1484.2" y="140.00" width="29.7" height="12.30" fill="#c9e3ec"/><rect x="1513.6" y="140.00" width="15.0" height="12.30" fill="#ecf5f8"/><rect x="1528.3" y="140.00" width="15.0" height="12.30" fill="#e8f3f7"/><rect x="1543.0" y="140.00" width="15.0" height="12.30" fill="#acd4e2"/><rect x="1557.7" y="140.00" width="15.0" height="12.30" fill="#5cabc5"/><rect x="1572.4" y="140.00" width="15.0" height="12.30" fill="#3d96b4"/><rect x="1587.1" y="140.00" width="15.0" height="12.30" fill="#3f9cbb"/><rect x="1601.8" y="140.00" width="15.0" height="12.30" fill="#90c6d8"/><rect x="1616.5" y="140.00" width="15.0" height="12.30" fill="#e6f2f6"/><rect x="1631.2" y="140.00" width="15.0" height="12.30" fill="#f0f7fa"/><rect x="1645.9" y="140.00" width="15.0" height="12.30" fill="#aed5e2"/><rect x="1660.6" y="140.00" width="15.0" height="12.30" fill="#d5e9f0"/><rect x="1675.3" y="140.00" width="15.0" height="12.30" fill="#90c6d8"/><rect x="1690.0" y="140.00" width="15.0" height="12.30" fill="#a3cfde"/><rect x="1704.7" y="140.00" width="15.0" height="12.30" fill="#d5e9f0"/><rect x="1719.4" y="140.00" width="15.0" height="12.30" fill="#e2f0f5"/><rect x="1734.1" y="140.00" width="15.0" height="12.30" fill="#d9ebf1"/><rect x="1748.8" y="140.00" width="15.0" height="12.30" fill="#d5e9f0"/><rect x="1763.5" y="140.00" width="15.0" height="12.30" fill="#82bfd3"/><rect x="1778.2" y="140.00" width="29.7" height="12.30" fill="#60adc7"/><rect x="1807.6" y="140.00" width="15.0" height="12.30" fill="#95c9da"/><rect x="1822.3" y="140.00" width="15.0" height="12.30" fill="#b6d9e5"/><rect x="1837.0" y="140.00" width="15.0" height="12.30" fill="#dcedf3"/><rect x="1851.7" y="140.00" width="15.0" height="12.30" fill="#e2f0f5"/><rect x="1866.4" y="140.00" width="15.0" height="12.30" fill="#d9ebf1"/><rect x="1881.1" y="140.00" width="15.0" height="12.30" fill="#e2f0f5"/><rect x="1895.8" y="140.00" width="15.0" height="12.30" fill="#a9d2e0"/><rect x="1910.5" y="140.00" width="15.0" height="12.30" fill="#c2dfe9"/><rect x="1925.2" y="140.00" width="15.0" height="12.30" fill="#e0eff4"/><rect x="1939.9" y="140.00" width="15.0" height="12.30" fill="#c5e1eb"/><rect x="1954.6" y="140.00" width="15.0" height="12.30" fill="#d3e8ef"/><rect x="1969.3" y="140.00" width="15.0" height="12.30" fill="#c5e1eb"/><rect x="1984.0" y="140.00" width="15.0" height="12.30" fill="#dcedf3"/><rect x="1998.7" y="140.00" width="15.0" height="12.30" fill="#e0eff4"/><rect x="2013.4" y="140.00" width="15.0" height="12.30" fill="#c5e1eb"/><rect x="2028.1" y="140.00" width="15.0" height="12.30" fill="#c9e3ec"/><rect x="2042.8" y="140.00" width="15.0" height="12.30" fill="#c0dee9"/><rect x="2057.5" y="140.00" width="29.7" height="12.30" fill="#d9ebf1"/><rect x="2086.9" y="140.00" width="15.0" height="12.30" fill="#6fb5cc"/><rect x="2101.6" y="140.00" width="15.0" height="12.30" fill="#49a1be"/><rect x="2116.3" y="140.00" width="15.0" height="12.30" fill="#6fb5cc"/><rect x="2131.0" y="140.00" width="15.0" height="12.30" fill="#3a90ac"/><rect x="2145.7" y="140.00" width="15.0" height="12.30" fill="#30778f"/><rect x="2160.4" y="140.00" width="15.0" height="12.30" fill="#2e7188"/><rect x="2175.1" y="140.00" width="15.0" height="12.30" fill="#3f9cbb"/><rect x="2189.8" y="140.00" width="15.0" height="12.30" fill="#a9d2e0"/><rect x="2204.5" y="140.00" width="29.7" height="12.30" fill="#337e97"/><rect x="2233.9" y="140.00" width="15.0" height="12.30" fill="#2f758c"/><rect x="2248.6" y="140.00" width="15.0" height="12.30" fill="#65b0c9"/><rect x="2263.3" y="140.00" width="15.0" height="12.30" fill="#2b6b81"/><rect x="2278.0" y="140.00" width="15.0" height="12.30" fill="#cfe6ee"/><rect x="2292.7" y="140.00" width="15.0" height="12.30" fill="#3a90ac"/><rect x="2307.4" y="140.00" width="15.0" height="12.30" fill="#90c6d8"/><rect x="2322.1" y="140.00" width="15.0" height="12.30" fill="#c9e3ec"/><rect x="2336.8" y="140.00" width="15.0" height="12.30" fill="#3e9ab8"/><rect x="2351.5" y="140.00" width="29.7" height="12.30" fill="#34819b"/><rect x="2380.9" y="140.00" width="15.0" height="12.30" fill="#337e97"/><rect x="2395.6" y="140.00" width="15.0" height="12.30" fill="#65b0c9"/><rect x="2410.3" y="140.00" width="15.0" height="12.30" fill="#3d96b4"/><rect x="955.0" y="152.00" width="15.0" height="12.30" fill="#4964c3"/><rect x="969.7" y="152.00" width="15.0" height="12.30" fill="#e2e7f6"/><rect x="984.4" y="152.00" width="15.0" height="12.30" fill="#b2bee6"/><rect x="999.1" y="152.00" width="15.0" height="12.30" fill="#cfd6ef"/><rect x="1013.8" y="152.00" width="15.0" height="12.30" fill="#9faee0"/><rect x="1028.5" y="152.00" width="15.0" height="12.30" fill="#c5ceec"/><rect x="1043.2" y="152.00" width="15.0" height="12.30" fill="#a9b6e3"/><rect x="1057.9" y="152.00" width="15.0" height="12.30" fill="#c5ceec"/><rect x="1072.6" y="152.00" width="15.0" height="12.30" fill="#798dd3"/><rect x="1087.3" y="152.00" width="15.0" height="12.30" fill="#8295d6"/><rect x="1102.0" y="152.00" width="15.0" height="12.30" fill="#95a5dc"/><rect x="1116.7" y="152.00" width="15.0" height="12.30" fill="#f9fafd"/><rect x="1146.1" y="152.00" width="15.0" height="12.30" fill="#fbfcfe"/><rect x="1160.8" y="152.00" width="15.0" height="12.30" fill="#a9b6e3"/><rect x="1175.5" y="152.00" width="15.0" height="12.30" fill="#8c9dd9"/><rect x="1190.2" y="152.00" width="15.0" height="12.30" fill="#b2bee6"/><rect x="1204.9" y="152.00" width="15.0" height="12.30" fill="#8c9dd9"/><rect x="1219.6" y="152.00" width="15.0" height="12.30" fill="#e2e7f6"/><rect x="1234.3" y="152.00" width="15.0" height="12.30" fill="#f9fafd"/><rect x="1249.0" y="152.00" width="15.0" height="12.30" fill="#cfd6ef"/><rect x="1263.7" y="152.00" width="15.0" height="12.30" fill="#c5ceec"/><rect x="1278.4" y="152.00" width="15.0" height="12.30" fill="#e2e7f6"/><rect x="1293.1" y="152.00" width="15.0" height="12.30" fill="#c5ceec"/><rect x="1307.8" y="152.00" width="15.0" height="12.30" fill="#eceff9"/><rect x="1322.5" y="152.00" width="15.0" height="12.30" fill="#f2f4fb"/><rect x="1337.2" y="152.00" width="15.0" height="12.30" fill="#f5f7fc"/><rect x="1351.9" y="152.00" width="15.0" height="12.30" fill="#d9def2"/><rect x="1366.6" y="152.00" width="15.0" height="12.30" fill="#f5f7fc"/><rect x="1381.3" y="152.00" width="15.0" height="12.30" fill="#e8ebf7"/><rect x="1396.0" y="152.00" width="15.0" height="12.30" fill="#eaedf8"/><rect x="1410.7" y="152.00" width="15.0" height="12.30" fill="#f2f4fb"/><rect x="1425.4" y="152.00" width="29.7" height="12.30" fill="#d1d8f0"/><rect x="1454.8" y="152.00" width="15.0" height="12.30" fill="#9faee0"/><rect x="1469.5" y="152.00" width="15.0" height="12.30" fill="#cdd5ef"/><rect x="1484.2" y="152.00" width="15.0" height="12.30" fill="#dce2f4"/><rect x="1498.9" y="152.00" width="15.0" height="12.30" fill="#cfd6ef"/><rect x="1513.6" y="152.00" width="15.0" height="12.30" fill="#fbfcfe"/><rect x="1528.3" y="152.00" width="15.0" height="12.30" fill="#f7f8fc"/><rect x="1543.0" y="152.00" width="15.0" height="12.30" fill="#b2bee6"/><rect x="1557.7" y="152.00" width="15.0" height="12.30" fill="#4964c3"/><rect x="1572.4" y="152.00" width="15.0" height="12.30" fill="#3a55b1"/><rect x="1587.1" y="152.00" width="15.0" height="12.30" fill="#334a9b"/><rect x="1601.8" y="152.00" width="15.0" height="12.30" fill="#6980ce"/><rect x="1616.5" y="152.00" width="15.0" height="12.30" fill="#95a5dc"/><rect x="1631.2" y="152.00" width="15.0" height="12.30" fill="#c5ceec"/><rect x="1645.9" y="152.00" width="15.0" height="12.30" fill="#8c9dd9"/><rect x="1660.6" y="152.00" width="15.0" height="12.30" fill="#a7b4e2"/><rect x="1675.3" y="152.00" width="15.0" height="12.30" fill="#b2bee6"/><rect x="1690.0" y="152.00" width="15.0" height="12.30" fill="#90a0da"/><rect x="1704.7" y="152.00" width="15.0" height="12.30" fill="#93a4dc"/><rect x="1719.4" y="152.00" width="15.0" height="12.30" fill="#dce2f4"/><rect x="1734.1" y="152.00" width="29.7" height="12.30" fill="#9faee0"/><rect x="1763.5" y="152.00" width="15.0" height="12.30" fill="#798dd3"/><rect x="1778.2" y="152.00" width="15.0" height="12.30" fill="#3851aa"/><rect x="1792.9" y="152.00" width="15.0" height="12.30" fill="#4e69c5"/><rect x="1807.6" y="152.00" width="15.0" height="12.30" fill="#889ad8"/><rect x="1822.3" y="152.00" width="15.0" height="12.30" fill="#b2bee6"/><rect x="1837.0" y="152.00" width="15.0" height="12.30" fill="#b6c1e7"/><rect x="1851.7" y="152.00" width="15.0" height="12.30" fill="#7c90d4"/><rect x="1866.4" y="152.00" width="15.0" height="12.30" fill="#bcc6e9"/><rect x="1881.1" y="152.00" width="15.0" height="12.30" fill="#a3b1e1"/><rect x="1895.8" y="152.00" width="15.0" height="12.30" fill="#99a9de"/><rect x="1910.5" y="152.00" width="15.0" height="12.30" fill="#a3b1e1"/><rect x="1925.2" y="152.00" width="15.0" height="12.30" fill="#b6c1e7"/><rect x="1939.9" y="152.00" width="15.0" height="12.30" fill="#d5dbf1"/><rect x="1954.6" y="152.00" width="15.0" height="12.30" fill="#6f85d0"/><rect x="1969.3" y="152.00" width="15.0" height="12.30" fill="#eceff9"/><rect x="1984.0" y="152.00" width="15.0" height="12.30" fill="#e8ebf7"/><rect x="1998.7" y="152.00" width="15.0" height="12.30" fill="#e6eaf7"/><rect x="2013.4" y="152.00" width="15.0" height="12.30" fill="#a7b4e2"/><rect x="2028.1" y="152.00" width="15.0" height="12.30" fill="#f3f5fb"/><rect x="2042.8" y="152.00" width="15.0" height="12.30" fill="#b2bee6"/><rect x="2057.5" y="152.00" width="15.0" height="12.30" fill="#dce2f4"/><rect x="2072.2" y="152.00" width="15.0" height="12.30" fill="#a3b1e1"/><rect x="2086.9" y="152.00" width="15.0" height="12.30" fill="#8295d6"/><rect x="2101.6" y="152.00" width="15.0" height="12.30" fill="#3e5abc"/><rect x="2116.3" y="152.00" width="15.0" height="12.30" fill="#4964c3"/><rect x="2131.0" y="152.00" width="15.0" height="12.30" fill="#334a9b"/><rect x="2145.7" y="152.00" width="15.0" height="12.30" fill="#2e438c"/><rect x="2160.4" y="152.00" width="15.0" height="12.30" fill="#334a9b"/><rect x="2175.1" y="152.00" width="15.0" height="12.30" fill="#3f5cc0"/><rect x="2189.8" y="152.00" width="15.0" height="12.30" fill="#b2bee6"/><rect x="2204.5" y="152.00" width="15.0" height="12.30" fill="#304693"/><rect x="2219.2" y="152.00" width="15.0" height="12.30" fill="#354ea2"/><rect x="2233.9" y="152.00" width="15.0" height="12.30" fill="#293c7d"/><rect x="2248.6" y="152.00" width="15.0" height="12.30" fill="#9baade"/><rect x="2263.3" y="152.00" width="15.0" height="12.30" fill="#304693"/><rect x="2278.0" y="152.00" width="15.0" height="12.30" fill="#9baade"/><rect x="2292.7" y="152.00" width="15.0" height="12.30" fill="#3d58b9"/><rect x="2307.4" y="152.00" width="15.0" height="12.30" fill="#6f85d0"/><rect x="2322.1" y="152.00" width="15.0" height="12.30" fill="#bcc6e9"/><rect x="2336.8" y="152.00" width="15.0" height="12.30" fill="#4964c3"/><rect x="2351.5" y="152.00" width="29.7" height="12.30" fill="#334a9b"/><rect x="2380.9" y="152.00" width="15.0" height="12.30" fill="#3851aa"/><rect x="2395.6" y="152.00" width="15.0" height="12.30" fill="#5670c8"/><rect x="2410.3" y="152.00" width="15.0" height="12.30" fill="#2e438c"/><rect x="955.0" y="164.00" width="29.7" height="12.30" fill="#f9efef"/><rect x="984.4" y="164.00" width="15.0" height="12.30" fill="#fbf5f5"/><rect x="999.1" y="164.00" width="15.0" height="12.30" fill="#fcf7f7"/><rect x="1013.8" y="164.00" width="15.0" height="12.30" fill="#fbf5f5"/><rect x="1028.5" y="164.00" width="15.0" height="12.30" fill="#fcf7f7"/><rect x="1043.2" y="164.00" width="15.0" height="12.30" fill="#efd4d4"/><rect x="1057.9" y="164.00" width="15.0" height="12.30" fill="#e9c4c4"/><rect x="1072.6" y="164.00" width="15.0" height="12.30" fill="#b63b3b"/><rect x="1087.3" y="164.00" width="15.0" height="12.30" fill="#dea7a7"/><rect x="1102.0" y="164.00" width="15.0" height="12.30" fill="#f6e7e7"/><rect x="1116.7" y="164.00" width="15.0" height="12.30" fill="#f8ebeb"/><rect x="1160.8" y="164.00" width="15.0" height="12.30" fill="#f0d8d8"/><rect x="1175.5" y="164.00" width="15.0" height="12.30" fill="#da9d9d"/><rect x="1190.2" y="164.00" width="15.0" height="12.30" fill="#f2dcdc"/><rect x="1204.9" y="164.00" width="15.0" height="12.30" fill="#fbf5f5"/><rect x="1219.6" y="164.00" width="15.0" height="12.30" fill="#f6e7e7"/><rect x="1234.3" y="164.00" width="15.0" height="12.30" fill="#fcf7f7"/><rect x="1249.0" y="164.00" width="15.0" height="12.30" fill="#edcece"/><rect x="1263.7" y="164.00" width="15.0" height="12.30" fill="#e2b1b1"/><rect x="1278.4" y="164.00" width="15.0" height="12.30" fill="#dca1a1"/><rect x="1293.1" y="164.00" width="15.0" height="12.30" fill="#f0d8d8"/><rect x="1307.8" y="164.00" width="29.7" height="12.30" fill="#eed2d2"/><rect x="1337.2" y="164.00" width="15.0" height="12.30" fill="#f6e6e6"/><rect x="1351.9" y="164.00" width="15.0" height="12.30" fill="#f8eded"/><rect x="1366.6" y="164.00" width="44.4" height="12.30" fill="#f7e9e9"/><rect x="1410.7" y="164.00" width="15.0" height="12.30" fill="#f8ebeb"/><rect x="1425.4" y="164.00" width="15.0" height="12.30" fill="#f7e9e9"/><rect x="1440.1" y="164.00" width="15.0" height="12.30" fill="#f3e0e0"/><rect x="1454.8" y="164.00" width="15.0" height="12.30" fill="#e5baba"/><rect x="1469.5" y="164.00" width="15.0" height="12.30" fill="#f5e4e4"/><rect x="1484.2" y="164.00" width="15.0" height="12.30" fill="#f8eded"/><rect x="1498.9" y="164.00" width="15.0" height="12.30" fill="#faf1f1"/><rect x="1528.3" y="164.00" width="15.0" height="12.30" fill="#fbf5f5"/><rect x="1543.0" y="164.00" width="15.0" height="12.30" fill="#da9d9d"/><rect x="1557.7" y="164.00" width="15.0" height="12.30" fill="#c15858"/><rect x="1572.4" y="164.00" width="15.0" height="12.30" fill="#cd7a7a"/><rect x="1587.1" y="164.00" width="15.0" height="12.30" fill="#e3b5b5"/><rect x="1601.8" y="164.00" width="15.0" height="12.30" fill="#f6e7e7"/><rect x="1616.5" y="164.00" width="15.0" height="12.30" fill="#fbf3f3"/><rect x="1631.2" y="164.00" width="15.0" height="12.30" fill="#fefbfb"/><rect x="1645.9" y="164.00" width="15.0" height="12.30" fill="#f6e7e7"/><rect x="1660.6" y="164.00" width="15.0" height="12.30" fill="#fbf5f5"/><rect x="1675.3" y="164.00" width="15.0" height="12.30" fill="#fcf7f7"/><rect x="1690.0" y="164.00" width="15.0" height="12.30" fill="#e3b5b5"/><rect x="1704.7" y="164.00" width="15.0" height="12.30" fill="#f5e4e4"/><rect x="1719.4" y="164.00" width="15.0" height="12.30" fill="#f6e7e7"/><rect x="1734.1" y="164.00" width="15.0" height="12.30" fill="#f0d8d8"/><rect x="1748.8" y="164.00" width="15.0" height="12.30" fill="#f4e2e2"/><rect x="1763.5" y="164.00" width="15.0" height="12.30" fill="#ba4545"/><rect x="1778.2" y="164.00" width="15.0" height="12.30" fill="#932f2f"/><rect x="1792.9" y="164.00" width="15.0" height="12.30" fill="#b63b3b"/><rect x="1807.6" y="164.00" width="15.0" height="12.30" fill="#bf5353"/><rect x="1822.3" y="164.00" width="29.7" height="12.30" fill="#dea7a7"/><rect x="1851.7" y="164.00" width="15.0" height="12.30" fill="#e0abab"/><rect x="1866.4" y="164.00" width="15.0" height="12.30" fill="#e5b8b8"/><rect x="1881.1" y="164.00" width="15.0" height="12.30" fill="#e0abab"/><rect x="1895.8" y="164.00" width="15.0" height="12.30" fill="#ba4545"/><rect x="1910.5" y="164.00" width="15.0" height="12.30" fill="#ca7272"/><rect x="1925.2" y="164.00" width="15.0" height="12.30" fill="#c56262"/><rect x="1939.9" y="164.00" width="15.0" height="12.30" fill="#cc7676"/><rect x="1954.6" y="164.00" width="29.7" height="12.30" fill="#d38989"/><rect x="1984.0" y="164.00" width="15.0" height="12.30" fill="#d08080"/><rect x="1998.7" y="164.00" width="15.0" height="12.30" fill="#dca1a1"/><rect x="2013.4" y="164.00" width="15.0" height="12.30" fill="#d38989"/><rect x="2028.1" y="164.00" width="44.4" height="12.30" fill="#e3b5b5"/><rect x="2072.2" y="164.00" width="15.0" height="12.30" fill="#d38989"/><rect x="2086.9" y="164.00" width="15.0" height="12.30" fill="#ba4545"/><rect x="2101.6" y="164.00" width="15.0" height="12.30" fill="#a13434"/><rect x="2116.3" y="164.00" width="29.7" height="12.30" fill="#8b2d2d"/><rect x="2145.7" y="164.00" width="15.0" height="12.30" fill="#762626"/><rect x="2160.4" y="164.00" width="15.0" height="12.30" fill="#7d2929"/><rect x="2175.1" y="164.00" width="15.0" height="12.30" fill="#9a3232"/><rect x="2189.8" y="164.00" width="15.0" height="12.30" fill="#c15858"/><rect x="2204.5" y="164.00" width="15.0" height="12.30" fill="#762626"/><rect x="2219.2" y="164.00" width="15.0" height="12.30" fill="#bd4f4f"/><rect x="2233.9" y="164.00" width="15.0" height="12.30" fill="#b73f3f"/><rect x="2248.6" y="164.00" width="15.0" height="12.30" fill="#c86c6c"/><rect x="2263.3" y="164.00" width="15.0" height="12.30" fill="#a83636"/><rect x="2278.0" y="164.00" width="15.0" height="12.30" fill="#c86c6c"/><rect x="2292.7" y="164.00" width="29.7" height="12.30" fill="#e2b1b1"/><rect x="2322.1" y="164.00" width="15.0" height="12.30" fill="#edcece"/><rect x="2336.8" y="164.00" width="59.1" height="12.30" fill="#762626"/><rect x="2395.6" y="164.00" width="15.0" height="12.30" fill="#a83636"/><rect x="2410.3" y="164.00" width="15.0" height="12.30" fill="#842b2b"/><rect x="955.0" y="176.00" width="29.7" height="12.30" fill="#fefefd"/><rect x="1028.5" y="176.00" width="15.0" height="12.30" fill="#fdfcfa"/><rect x="1043.2" y="176.00" width="15.0" height="12.30" fill="#fefefd"/><rect x="1057.9" y="176.00" width="15.0" height="12.30" fill="#f9f3ed"/><rect x="1072.6" y="176.00" width="15.0" height="12.30" fill="#c68b4d"/><rect x="1087.3" y="176.00" width="15.0" height="12.30" fill="#ebd6c1"/><rect x="1102.0" y="176.00" width="15.0" height="12.30" fill="#f9f3ed"/><rect x="1116.7" y="176.00" width="15.0" height="12.30" fill="#fcf8f4"/><rect x="1160.8" y="176.00" width="15.0" height="12.30" fill="#f6eee4"/><rect x="1175.5" y="176.00" width="15.0" height="12.30" fill="#e0bf9d"/><rect x="1190.2" y="176.00" width="15.0" height="12.30" fill="#f6eee4"/><rect x="1204.9" y="176.00" width="29.7" height="12.30" fill="#fbf7f3"/><rect x="1234.3" y="176.00" width="15.0" height="12.30" fill="#fdfcfa"/><rect x="1249.0" y="176.00" width="15.0" height="12.30" fill="#eedcca"/><rect x="1263.7" y="176.00" width="15.0" height="12.30" fill="#d1a271"/><rect x="1278.4" y="176.00" width="15.0" height="12.30" fill="#c68b4d"/><rect x="1293.1" y="176.00" width="15.0" height="12.30" fill="#f6eee4"/><rect x="1307.8" y="176.00" width="15.0" height="12.30" fill="#f4e8db"/><rect x="1322.5" y="176.00" width="15.0" height="12.30" fill="#fefdfb"/><rect x="1337.2" y="176.00" width="15.0" height="12.30" fill="#fcf9f6"/><rect x="1440.1" y="176.00" width="15.0" height="12.30" fill="#fdfcfa"/><rect x="1454.8" y="176.00" width="15.0" height="12.30" fill="#e5cbaf"/><rect x="1469.5" y="176.00" width="15.0" height="12.30" fill="#f8f0e8"/><rect x="1484.2" y="176.00" width="15.0" height="12.30" fill="#fcf9f6"/><rect x="1498.9" y="176.00" width="15.0" height="12.30" fill="#fcf8f4"/><rect x="1528.3" y="176.00" width="15.0" height="12.30" fill="#f9f3ed"/><rect x="1543.0" y="176.00" width="15.0" height="12.30" fill="#dab48b"/><rect x="1557.7" y="176.00" width="15.0" height="12.30" fill="#c68b4d"/><rect x="1572.4" y="176.00" width="15.0" height="12.30" fill="#a77541"/><rect x="1587.1" y="176.00" width="15.0" height="12.30" fill="#eddac6"/><rect x="1601.8" y="176.00" width="29.7" height="12.30" fill="#fbf7f3"/><rect x="1660.6" y="176.00" width="29.7" height="12.30" fill="#fefefd"/><rect x="1690.0" y="176.00" width="15.0" height="12.30" fill="#e5cbaf"/><rect x="1704.7" y="176.00" width="44.4" height="12.30" fill="#faf6f1"/><rect x="1748.8" y="176.00" width="15.0" height="12.30" fill="#faf5ef"/><rect x="1763.5" y="176.00" width="15.0" height="12.30" fill="#ca9359"/><rect x="1778.2" y="176.00" width="15.0" height="12.30" fill="#9f703e"/><rect x="1792.9" y="176.00" width="29.7" height="12.30" fill="#be864a"/><rect x="1822.3" y="176.00" width="15.0" height="12.30" fill="#ebd6c1"/><rect x="1837.0" y="176.00" width="29.7" height="12.30" fill="#e9d3bb"/><rect x="1866.4" y="176.00" width="15.0" height="12.30" fill="#eddac6"/><rect x="1881.1" y="176.00" width="15.0" height="12.30" fill="#e9d3bb"/><rect x="1895.8" y="176.00" width="15.0" height="12.30" fill="#c68b4d"/><rect x="1910.5" y="176.00" width="15.0" height="12.30" fill="#a77541"/><rect x="1925.2" y="176.00" width="15.0" height="12.30" fill="#e9d3bb"/><rect x="1939.9" y="176.00" width="15.0" height="12.30" fill="#c78d51"/><rect x="1954.6" y="176.00" width="15.0" height="12.30" fill="#d4a87a"/><rect x="1969.3" y="176.00" width="15.0" height="12.30" fill="#d7ae82"/><rect x="1984.0" y="176.00" width="15.0" height="12.30" fill="#dfbd9a"/><rect x="1998.7" y="176.00" width="15.0" height="12.30" fill="#debc98"/><rect x="2013.4" y="176.00" width="29.7" height="12.30" fill="#e8d1b8"/><rect x="2042.8" y="176.00" width="15.0" height="12.30" fill="#d8b086"/><rect x="2057.5" y="176.00" width="15.0" height="12.30" fill="#e9d3bb"/><rect x="2072.2" y="176.00" width="15.0" height="12.30" fill="#e5cbaf"/><rect x="2086.9" y="176.00" width="15.0" height="12.30" fill="#906538"/><rect x="2101.6" y="176.00" width="15.0" height="12.30" fill="#986a3b"/><rect x="2116.3" y="176.00" width="15.0" height="12.30" fill="#b78047"/><rect x="2131.0" y="176.00" width="15.0" height="12.30" fill="#886035"/><rect x="2145.7" y="176.00" width="29.7" height="12.30" fill="#845c33"/><rect x="2175.1" y="176.00" width="15.0" height="12.30" fill="#8b6236"/><rect x="2189.8" y="176.00" width="15.0" height="12.30" fill="#d4a87a"/><rect x="2204.5" y="176.00" width="15.0" height="12.30" fill="#9b6d3c"/><rect x="2219.2" y="176.00" width="15.0" height="12.30" fill="#c3894c"/><rect x="2233.9" y="176.00" width="15.0" height="12.30" fill="#ba8248"/><rect x="2248.6" y="176.00" width="15.0" height="12.30" fill="#e5cbaf"/><rect x="2263.3" y="176.00" width="15.0" height="12.30" fill="#c3894c"/><rect x="2278.0" y="176.00" width="15.0" height="12.30" fill="#dab48b"/><rect x="2292.7" y="176.00" width="15.0" height="12.30" fill="#050300"/><rect x="2307.4" y="176.00" width="15.0" height="12.30" fill="#f1e2d2"/><rect x="2322.1" y="176.00" width="15.0" height="12.30" fill="#efdfcd"/><rect x="2336.8" y="176.00" width="15.0" height="12.30" fill="#9b6d3c"/><rect x="2351.5" y="176.00" width="15.0" height="12.30" fill="#8b6236"/><rect x="2366.2" y="176.00" width="15.0" height="12.30" fill="#815a32"/><rect x="2380.9" y="176.00" width="15.0" height="12.30" fill="#694a29"/><rect x="2395.6" y="176.00" width="15.0" height="12.30" fill="#c99156"/><rect x="2410.3" y="176.00" width="15.0" height="12.30" fill="#845c33"/><rect x="955.0" y="188.00" width="15.0" height="12.30" fill="#f9faf1"/><rect x="969.7" y="188.00" width="15.0" height="12.30" fill="#fefefd"/><rect x="984.4" y="188.00" width="29.7" height="12.30" fill="#fdfdf9"/><rect x="1013.8" y="188.00" width="15.0" height="12.30" fill="#fefefd"/><rect x="1043.2" y="188.00" width="15.0" height="12.30" fill="#fefefd"/><rect x="1072.6" y="188.00" width="15.0" height="12.30" fill="#aeb73e"/><rect x="1087.3" y="188.00" width="15.0" height="12.30" fill="#ced48b"/><rect x="1102.0" y="188.00" width="15.0" height="12.30" fill="#eff1d8"/><rect x="1160.8" y="188.00" width="15.0" height="12.30" fill="#f4f6e6"/><rect x="1175.5" y="188.00" width="15.0" height="12.30" fill="#939a34"/><rect x="1190.2" y="188.00" width="15.0" height="12.30" fill="#ced48b"/><rect x="1204.9" y="188.00" width="15.0" height="12.30" fill="#fcfcf7"/><rect x="1219.6" y="188.00" width="15.0" height="12.30" fill="#edefd5"/><rect x="1234.3" y="188.00" width="15.0" height="12.30" fill="#fdfdf9"/><rect x="1249.0" y="188.00" width="15.0" height="12.30" fill="#ebedcf"/><rect x="1263.7" y="188.00" width="15.0" height="12.30" fill="#e3e6bb"/><rect x="1278.4" y="188.00" width="15.0" height="12.30" fill="#bac25b"/><rect x="1293.1" y="188.00" width="15.0" height="12.30" fill="#eff1d8"/><rect x="1307.8" y="188.00" width="15.0" height="12.30" fill="#f7f8ec"/><rect x="1322.5" y="188.00" width="15.0" height="12.30" fill="#fefefd"/><rect x="1440.1" y="188.00" width="15.0" height="12.30" fill="#fbfbf5"/><rect x="1454.8" y="188.00" width="15.0" height="12.30" fill="#ced48b"/><rect x="1469.5" y="188.00" width="15.0" height="12.30" fill="#eff1d8"/><rect x="1484.2" y="188.00" width="15.0" height="12.30" fill="#fafbf3"/><rect x="1498.9" y="188.00" width="15.0" height="12.30" fill="#f2f3e0"/><rect x="1543.0" y="188.00" width="15.0" height="12.30" fill="#bec565"/><rect x="1557.7" y="188.00" width="15.0" height="12.30" fill="#858c2f"/><rect x="1572.4" y="188.00" width="15.0" height="12.30" fill="#787e2b"/><rect x="1587.1" y="188.00" width="29.7" height="12.30" fill="#858c2f"/><rect x="1616.5" y="188.00" width="15.0" height="12.30" fill="#f9faf1"/><rect x="1645.9" y="188.00" width="15.0" height="12.30" fill="#f0f2dc"/><rect x="1660.6" y="188.00" width="15.0" height="12.30" fill="#dbdfa8"/><rect x="1675.3" y="188.00" width="15.0" height="12.30" fill="#d6db9e"/><rect x="1690.0" y="188.00" width="15.0" height="12.30" fill="#c2c96e"/><rect x="1704.7" y="188.00" width="15.0" height="12.30" fill="#f3f4e2"/><rect x="1719.4" y="188.00" width="15.0" height="12.30" fill="#ebedcf"/><rect x="1734.1" y="188.00" width="15.0" height="12.30" fill="#d2d795"/><rect x="1748.8" y="188.00" width="15.0" height="12.30" fill="#eff1d8"/><rect x="1763.5" y="188.00" width="15.0" height="12.30" fill="#b6be51"/><rect x="1778.2" y="188.00" width="15.0" height="12.30" fill="#939a34"/><rect x="1792.9" y="188.00" width="29.7" height="12.30" fill="#a3ac3a"/><rect x="1822.3" y="188.00" width="15.0" height="12.30" fill="#edefd5"/><rect x="1837.0" y="188.00" width="15.0" height="12.30" fill="#e3e6bb"/><rect x="1851.7" y="188.00" width="15.0" height="12.30" fill="#e4e7bf"/><rect x="1866.4" y="188.00" width="15.0" height="12.30" fill="#ebedcf"/><rect x="1881.1" y="188.00" width="15.0" height="12.30" fill="#eff1d8"/><rect x="1895.8" y="188.00" width="15.0" height="12.30" fill="#bac25b"/><rect x="1910.5" y="188.00" width="15.0" height="12.30" fill="#d2d795"/><rect x="1925.2" y="188.00" width="15.0" height="12.30" fill="#d0d58f"/><rect x="1939.9" y="188.00" width="15.0" height="12.30" fill="#d2d795"/><rect x="1954.6" y="188.00" width="15.0" height="12.30" fill="#dfe2b2"/><rect x="1969.3" y="188.00" width="15.0" height="12.30" fill="#dbdfa8"/><rect x="1984.0" y="188.00" width="15.0" height="12.30" fill="#dfe2b2"/><rect x="1998.7" y="188.00" width="15.0" height="12.30" fill="#e3e6bb"/><rect x="2013.4" y="188.00" width="15.0" height="12.30" fill="#dfe2b2"/><rect x="2028.1" y="188.00" width="15.0" height="12.30" fill="#f7f8ec"/><rect x="2042.8" y="188.00" width="15.0" height="12.30" fill="#f1f3de"/><rect x="2057.5" y="188.00" width="15.0" height="12.30" fill="#dfe2b2"/><rect x="2072.2" y="188.00" width="15.0" height="12.30" fill="#e3e6bb"/><rect x="2086.9" y="188.00" width="15.0" height="12.30" fill="#a0a939"/><rect x="2101.6" y="188.00" width="15.0" height="12.30" fill="#9aa237"/><rect x="2116.3" y="188.00" width="15.0" height="12.30" fill="#9ea638"/><rect x="2131.0" y="188.00" width="15.0" height="12.30" fill="#858c2f"/><rect x="2145.7" y="188.00" width="15.0" height="12.30" fill="#7e852d"/><rect x="2160.4" y="188.00" width="15.0" height="12.30" fill="#858c2f"/><rect x="2175.1" y="188.00" width="15.0" height="12.30" fill="#9ca438"/><rect x="2189.8" y="188.00" width="15.0" height="12.30" fill="#b6be51"/><rect x="2204.5" y="188.00" width="15.0" height="12.30" fill="#7e852d"/><rect x="2219.2" y="188.00" width="15.0" height="12.30" fill="#858c2f"/><rect x="2233.9" y="188.00" width="15.0" height="12.30" fill="#717728"/><rect x="2248.6" y="188.00" width="15.0" height="12.30" fill="#a3ac3a"/><rect x="2263.3" y="188.00" width="44.4" height="12.30" fill="#757b2a"/><rect x="2307.4" y="188.00" width="15.0" height="12.30" fill="#717728"/><rect x="2322.1" y="188.00" width="15.0" height="12.30" fill="#9ea638"/><rect x="2336.8" y="188.00" width="29.7" height="12.30" fill="#858c2f"/><rect x="2366.2" y="188.00" width="29.7" height="12.30" fill="#787e2b"/><rect x="2395.6" y="188.00" width="29.7" height="12.30" fill="#7e852d"/><rect x="955.0" y="200.00" width="15.0" height="14.00" fill="#e7f4df"/><rect x="969.7" y="200.00" width="29.7" height="14.00" fill="#fefefd"/><rect x="1013.8" y="200.00" width="59.1" height="14.00" fill="#fefefd"/><rect x="1072.6" y="200.00" width="15.0" height="14.00" fill="#74c043"/><rect x="1087.3" y="200.00" width="15.0" height="14.00" fill="#a5d685"/><rect x="1102.0" y="200.00" width="15.0" height="14.00" fill="#eaf6e3"/><rect x="1160.8" y="200.00" width="15.0" height="14.00" fill="#eaf6e3"/><rect x="1175.5" y="200.00" width="15.0" height="14.00" fill="#62a239"/><rect x="1190.2" y="200.00" width="15.0" height="14.00" fill="#a5d685"/><rect x="1204.9" y="200.00" width="15.0" height="14.00" fill="#fbfdf9"/><rect x="1219.6" y="200.00" width="15.0" height="14.00" fill="#74c043"/><rect x="1234.3" y="200.00" width="15.0" height="14.00" fill="#e7f4df"/><rect x="1249.0" y="200.00" width="15.0" height="14.00" fill="#d5ecc7"/><rect x="1263.7" y="200.00" width="15.0" height="14.00" fill="#bae0a1"/><rect x="1278.4" y="200.00" width="15.0" height="14.00" fill="#c0e3aa"/><rect x="1293.1" y="200.00" width="15.0" height="14.00" fill="#eaf6e3"/><rect x="1307.8" y="200.00" width="15.0" height="14.00" fill="#eef7e8"/><rect x="1322.5" y="200.00" width="15.0" height="14.00" fill="#fefefd"/><rect x="1337.2" y="200.00" width="15.0" height="14.00" fill="#fbfdf9"/><rect x="1440.1" y="200.00" width="15.0" height="14.00" fill="#f4faf0"/><rect x="1454.8" y="200.00" width="15.0" height="14.00" fill="#a5d685"/><rect x="1469.5" y="200.00" width="15.0" height="14.00" fill="#f1f9ec"/><rect x="1484.2" y="200.00" width="15.0" height="14.00" fill="#fbfdf9"/><rect x="1498.9" y="200.00" width="15.0" height="14.00" fill="#82c656"/><rect x="1543.0" y="200.00" width="15.0" height="14.00" fill="#a5d685"/><rect x="1557.7" y="200.00" width="15.0" height="14.00" fill="#599333"/><rect x="1572.4" y="200.00" width="29.7" height="14.00" fill="#50842e"/><rect x="1601.8" y="200.00" width="15.0" height="14.00" fill="#599333"/><rect x="1616.5" y="200.00" width="15.0" height="14.00" fill="#fbfdf9"/><rect x="1660.6" y="200.00" width="15.0" height="14.00" fill="#dff1d4"/><rect x="1675.3" y="200.00" width="15.0" height="14.00" fill="#cee9bd"/><rect x="1690.0" y="200.00" width="15.0" height="14.00" fill="#82c656"/><rect x="1704.7" y="200.00" width="15.0" height="14.00" fill="#f4faf0"/><rect x="1719.4" y="200.00" width="15.0" height="14.00" fill="#e9f5e1"/><rect x="1734.1" y="200.00" width="15.0" height="14.00" fill="#e6f4dd"/><rect x="1748.8" y="200.00" width="15.0" height="14.00" fill="#e3f2d9"/><rect x="1763.5" y="200.00" width="15.0" height="14.00" fill="#71bc41"/><rect x="1778.2" y="200.00" width="15.0" height="14.00" fill="#50842e"/><rect x="1792.9" y="200.00" width="15.0" height="14.00" fill="#71bc41"/><rect x="1807.6" y="200.00" width="15.0" height="14.00" fill="#82c656"/><rect x="1822.3" y="200.00" width="15.0" height="14.00" fill="#dcefd0"/><rect x="1837.0" y="200.00" width="15.0" height="14.00" fill="#d5ecc7"/><rect x="1851.7" y="200.00" width="15.0" height="14.00" fill="#d1eac1"/><rect x="1866.4" y="200.00" width="15.0" height="14.00" fill="#eaf6e3"/><rect x="1881.1" y="200.00" width="15.0" height="14.00" fill="#d5ecc7"/><rect x="1895.8" y="200.00" width="29.7" height="14.00" fill="#7ec450"/><rect x="1925.2" y="200.00" width="15.0" height="14.00" fill="#89c95f"/><rect x="1939.9" y="200.00" width="15.0" height="14.00" fill="#aeda92"/><rect x="1954.6" y="200.00" width="15.0" height="14.00" fill="#cee9bd"/><rect x="1969.3" y="200.00" width="15.0" height="14.00" fill="#d1eac1"/><rect x="1984.0" y="200.00" width="15.0" height="14.00" fill="#c7e6b4"/><rect x="1998.7" y="200.00" width="15.0" height="14.00" fill="#d1eac1"/><rect x="2013.4" y="200.00" width="15.0" height="14.00" fill="#c0e3aa"/><rect x="2028.1" y="200.00" width="15.0" height="14.00" fill="#d8edca"/><rect x="2042.8" y="200.00" width="15.0" height="14.00" fill="#e3f2d9"/><rect x="2057.5" y="200.00" width="15.0" height="14.00" fill="#dcefd0"/><rect x="2072.2" y="200.00" width="15.0" height="14.00" fill="#d3ebc3"/><rect x="2086.9" y="200.00" width="15.0" height="14.00" fill="#66aa3b"/><rect x="2101.6" y="200.00" width="15.0" height="14.00" fill="#548c31"/><rect x="2116.3" y="200.00" width="15.0" height="14.00" fill="#6fb940"/><rect x="2131.0" y="200.00" width="15.0" height="14.00" fill="#5d9b36"/><rect x="2145.7" y="200.00" width="15.0" height="14.00" fill="#4b7d2b"/><rect x="2160.4" y="200.00" width="15.0" height="14.00" fill="#50842e"/><rect x="2175.1" y="200.00" width="15.0" height="14.00" fill="#66aa3b"/><rect x="2189.8" y="200.00" width="15.0" height="14.00" fill="#a5d685"/><rect x="2204.5" y="200.00" width="15.0" height="14.00" fill="#5b9634"/><rect x="2219.2" y="200.00" width="15.0" height="14.00" fill="#62a239"/><rect x="2233.9" y="200.00" width="15.0" height="14.00" fill="#4b7d2b"/><rect x="2248.6" y="200.00" width="15.0" height="14.00" fill="#69ae3d"/><rect x="2263.3" y="200.00" width="29.7" height="14.00" fill="#50842e"/><rect x="2292.7" y="200.00" width="15.0" height="14.00" fill="#4d802d"/><rect x="2307.4" y="200.00" width="15.0" height="14.00" fill="#62a239"/><rect x="2322.1" y="200.00" width="15.0" height="14.00" fill="#acd98e"/><rect x="2336.8" y="200.00" width="15.0" height="14.00" fill="#548c31"/><rect x="2351.5" y="200.00" width="15.0" height="14.00" fill="#5b9634"/><rect x="2366.2" y="200.00" width="15.0" height="14.00" fill="#579032"/><rect x="2380.9" y="200.00" width="15.0" height="14.00" fill="#62a239"/><rect x="2395.6" y="200.00" width="15.0" height="14.00" fill="#7bc34c"/><rect x="2410.3" y="200.00" width="15.0" height="14.00" fill="#50842e"/></svg>
<svg style="left:0;top:336px" width="2425" height="48" viewBox="0 0 2425 48"><path fill="#e8744a" d="M955.0 0h1.5v48h-1.5zM969.5 0h1.0v48h-1.0zM988.0 0h1.0v48h-1.0zM991.0 0h2.5v48h-2.5zM1033.1 0h1.0v48h-1.0zM1039.1 0h1.0v48h-1.0zM1049.6 0h3.0v48h-3.0zM1079.1 0h1.0v48h-1.0zM1115.4 0h1.0v48h-1.0zM1130.4 0h1.0v48h-1.0zM1138.5 0h1.0v48h-1.0zM1161.5 0h2.0v48h-2.0zM1166.0 0h1.0v48h-1.0zM1295.4 0h1.0v48h-1.0zM1459.5 0h1.0v48h-1.0zM1463.5 0h1.0v48h-1.0zM1479.5 0h1.0v48h-1.0zM1482.5 0h2.5v48h-2.5zM1492.0 0h2.0v48h-2.0zM1500.0 0h2.5v48h-2.5zM1529.0 0h1.5v48h-1.5zM1533.0 0h1.0v48h-1.0zM1535.0 0h1.0v48h-1.0zM1540.5 0h0.7v48h-0.7zM1547.2 0h1.0v48h-1.0zM1550.2 0h1.5v48h-1.5zM1566.7 0h1.0v48h-1.0zM1571.7 0h1.0v48h-1.0zM1583.7 0h1.5v48h-1.5zM1590.7 0h1.0v48h-1.0zM1658.5 0h1.0v48h-1.0zM1672.0 0h2.0v48h-2.0zM1683.5 0h1.0v48h-1.0zM1702.5 0h1.0v48h-1.0zM1722.0 0h3.0v48h-3.0zM1837.0 0h2.5v48h-2.5zM1842.5 0h1.0v48h-1.0zM1845.0 0h1.0v48h-1.0zM1847.5 0h1.0v48h-1.0zM1858.0 0h1.0v48h-1.0zM1871.0 0h1.0v48h-1.0zM1900.5 0h1.0v48h-1.0zM1931.0 0h1.0v48h-1.0zM1940.5 0h1.0v48h-1.0zM2143.1 0h1.0v48h-1.0zM2150.6 0h1.5v48h-1.5z"/><path fill="#7581b7" d="M956.5 0h1.5v48h-1.5zM961.5 0h3.5v48h-3.5zM976.5 0h11.5v48h-11.5zM989.0 0h1.0v48h-1.0zM993.5 0h2.0v48h-2.0zM996.5 0h12.1v48h-12.1zM1010.1 0h5.0v48h-5.0zM1016.1 0h2.0v48h-2.0zM1019.6 0h1.5v48h-1.5zM1029.1 0h4.0v48h-4.0zM1034.1 0h1.0v48h-1.0zM1038.1 0h1.0v48h-1.0zM1071.6 0h1.0v48h-1.0zM1074.6 0h2.0v48h-2.0zM1080.1 0h4.5v48h-4.5zM1087.4 0h8.5v48h-8.5zM1098.4 0h4.0v48h-4.0zM1103.9 0h2.0v48h-2.0zM1107.9 0h5.5v48h-5.5zM1120.4 0h8.5v48h-8.5zM1131.5 0h1.0v48h-1.0zM1137.5 0h1.0v48h-1.0zM1142.5 0h1.0v48h-1.0zM1144.5 0h3.5v48h-3.5zM1150.5 0h2.0v48h-2.0zM1172.0 0h5.5v48h-5.5zM1180.0 0h6.4v48h-6.4zM1187.4 0h10.0v48h-10.0zM1198.4 0h6.5v48h-6.5zM1205.9 0h3.5v48h-3.5zM1220.4 0h2.0v48h-2.0zM1226.9 0h4.0v48h-4.0zM1235.4 0h8.0v48h-8.0zM1255.4 0h1.0v48h-1.0zM1261.4 0h1.0v48h-1.0zM1270.2 0h25.2v48h-25.2zM1297.4 0h9.0v48h-9.0zM1311.1 0h13.0v48h-13.0zM1326.1 0h8.0v48h-8.0zM1335.1 0h1.0v48h-1.0zM1338.6 0h8.0v48h-8.0zM1347.6 0h2.5v48h-2.5zM1352.1 0h14.0v48h-14.0zM1367.1 0h6.5v48h-6.5zM1375.6 0h6.4v48h-6.4zM1396.2 0h5.0v48h-5.0zM1402.2 0h25.0v48h-25.0zM1429.2 0h3.0v48h-3.0zM1433.2 0h6.0v48h-6.0zM1440.2 0h7.0v48h-7.0zM1451.7 0h1.0v48h-1.0zM1455.5 0h1.0v48h-1.0zM1460.5 0h3.0v48h-3.0zM1468.0 0h2.5v48h-2.5zM1472.5 0h7.0v48h-7.0zM1485.0 0h7.0v48h-7.0zM1497.0 0h2.0v48h-2.0zM1505.0 0h1.0v48h-1.0zM1515.5 0h5.5v48h-5.5zM1526.0 0h1.0v48h-1.0zM1534.0 0h1.0v48h-1.0zM1536.0 0h3.5v48h-3.5zM1546.2 0h1.0v48h-1.0zM1554.2 0h2.0v48h-2.0zM1558.2 0h6.5v48h-6.5zM1572.7 0h4.0v48h-4.0zM1577.7 0h1.0v48h-1.0zM1586.2 0h1.0v48h-1.0zM1588.2 0h2.5v48h-2.5zM1598.3 0h1.0v48h-1.0zM1616.8 0h0.1v48h-0.1zM1653.5 0h1.0v48h-1.0zM1669.0 0h3.0v48h-3.0zM1675.0 0h0.1v48h-0.1zM1676.0 0h2.5v48h-2.5zM1682.5 0h1.0v48h-1.0zM1685.5 0h2.0v48h-2.0zM1693.5 0h4.5v48h-4.5zM1707.0 0h1.0v48h-1.0zM1714.0 0h1.0v48h-1.0zM1718.5 0h1.0v48h-1.0zM1726.0 0h4.0v48h-4.0zM1751.0 0h1.0v48h-1.0zM1757.9 0h1.0v48h-1.0zM1768.4 0h1.0v48h-1.0zM1772.4 0h1.0v48h-1.0zM1775.4 0h8.1v48h-8.1zM1789.5 0h1.0v48h-1.0zM1798.5 0h4.5v48h-4.5zM1805.0 0h1.0v48h-1.0zM1813.0 0h2.5v48h-2.5zM1816.5 0h1.0v48h-1.0zM1821.5 0h1.0v48h-1.0zM1823.5 0h1.0v48h-1.0zM1841.5 0h1.0v48h-1.0zM1856.5 0h1.5v48h-1.5zM1891.5 0h4.5v48h-4.5zM1897.0 0h1.5v48h-1.5zM1907.0 0h2.0v48h-2.0zM1926.0 0h1.5v48h-1.5zM1932.0 0h1.5v48h-1.5zM1937.0 0h1.0v48h-1.0zM1941.5 0h1.0v48h-1.0zM1950.5 0h1.0v48h-1.0zM1955.8 0h2.5v48h-2.5zM1966.3 0h3.5v48h-3.5zM1978.8 0h4.0v48h-4.0zM1992.3 0h1.5v48h-1.5zM2003.3 0h1.5v48h-1.5zM2011.3 0h2.0v48h-2.0zM2023.4 0h1.0v48h-1.0zM2035.9 0h1.0v48h-1.0zM2043.9 0h1.5v48h-1.5zM2046.4 0h1.5v48h-1.5zM2050.9 0h1.5v48h-1.5zM2057.9 0h1.5v48h-1.5zM2075.4 0h1.0v48h-1.0zM2085.7 0h1.0v48h-1.0zM2090.2 0h5.0v48h-5.0zM2102.2 0h1.0v48h-1.0zM2104.2 0h1.0v48h-1.0zM2108.2 0h1.0v48h-1.0zM2110.2 0h1.5v48h-1.5zM2113.1 0h1.0v48h-1.0zM2115.1 0h1.0v48h-1.0zM2127.6 0h1.0v48h-1.0zM2137.1 0h6.0v48h-6.0zM2144.1 0h1.0v48h-1.0zM2147.6 0h2.0v48h-2.0zM2152.1 0h1.0v48h-1.0zM2157.6 0h1.0v48h-1.0zM2164.1 0h2.0v48h-2.0zM2179.3 0h2.0v48h-2.0zM2185.8 0h1.0v48h-1.0zM2218.8 0h1.5v48h-1.5zM2268.9 0h1.0v48h-1.0zM2276.4 0h2.0v48h-2.0zM2280.9 0h1.0v48h-1.0zM2284.9 0h5.0v48h-5.0zM2302.4 0h1.5v48h-1.5zM2306.4 0h1.5v48h-1.5zM2310.9 0h1.0v48h-1.0zM2327.9 0h3.0v48h-3.0zM2351.4 0h1.0v48h-1.0zM2353.4 0h1.0v48h-1.0zM2355.4 0h1.0v48h-1.0zM2358.9 0h1.0v48h-1.0zM2374.4 0h1.0v48h-1.0zM2382.4 0h1.7v48h-1.7zM2403.9 0h1.0v48h-1.0zM2416.9 0h3.5v48h-3.5zM2421.9 0h1.0v48h-1.0z"/><path fill="#8f8f8f" d="M958.0 0h1.5v48h-1.5zM960.5 0h1.0v48h-1.0zM965.0 0h1.0v48h-1.0zM967.0 0h2.5v48h-2.5zM970.5 0h3.0v48h-3.0zM990.0 0h1.0v48h-1.0zM995.5 0h1.0v48h-1.0zM1008.6 0h1.5v48h-1.5zM1015.1 0h1.0v48h-1.0zM1018.1 0h1.5v48h-1.5zM1021.1 0h8.0v48h-8.0zM1035.1 0h3.0v48h-3.0zM1040.1 0h9.5v48h-9.5zM1052.6 0h19.0v48h-19.0zM1113.4 0h1.0v48h-1.0zM1116.4 0h4.0v48h-4.0zM1136.0 0h1.5v48h-1.5zM1141.5 0h1.0v48h-1.0zM1152.5 0h1.0v48h-1.0zM1163.5 0h2.5v48h-2.5zM1168.5 0h3.5v48h-3.5zM1197.4 0h1.0v48h-1.0zM1204.9 0h1.0v48h-1.0zM1209.4 0h6.0v48h-6.0zM1217.9 0h1.0v48h-1.0zM1222.4 0h1.0v48h-1.0zM1224.4 0h1.0v48h-1.0zM1230.9 0h4.5v48h-4.5zM1243.4 0h3.5v48h-3.5zM1250.9 0h4.5v48h-4.5zM1256.4 0h1.0v48h-1.0zM1258.4 0h2.0v48h-2.0zM1265.9 0h1.5v48h-1.5zM1268.4 0h1.5v48h-1.5zM1296.4 0h1.0v48h-1.0zM1306.4 0h2.5v48h-2.5zM1337.6 0h1.0v48h-1.0zM1346.6 0h1.0v48h-1.0zM1366.1 0h1.0v48h-1.0zM1374.6 0h1.0v48h-1.0zM1386.8 0h9.5v48h-9.5zM1401.2 0h1.0v48h-1.0zM1428.2 0h1.0v48h-1.0zM1432.2 0h1.0v48h-1.0zM1439.2 0h1.0v48h-1.0zM1447.2 0h4.5v48h-4.5zM1452.7 0h1.0v48h-1.0zM1454.5 0h1.0v48h-1.0zM1456.5 0h1.0v48h-1.0zM1464.5 0h1.5v48h-1.5zM1481.5 0h1.0v48h-1.0zM1495.0 0h1.0v48h-1.0zM1499.0 0h1.0v48h-1.0zM1502.5 0h2.5v48h-2.5zM1506.0 0h3.5v48h-3.5zM1521.0 0h2.5v48h-2.5zM1524.5 0h1.5v48h-1.5zM1539.5 0h1.0v48h-1.0zM1545.2 0h1.0v48h-1.0zM1548.2 0h2.0v48h-2.0zM1564.7 0h1.0v48h-1.0zM1576.7 0h1.0v48h-1.0zM1580.7 0h1.0v48h-1.0zM1652.5 0h1.0v48h-1.0zM1663.5 0h1.0v48h-1.0zM1666.5 0h2.5v48h-2.5zM1674.0 0h1.0v48h-1.0zM1684.5 0h1.0v48h-1.0zM1687.5 0h4.5v48h-4.5zM1703.5 0h3.5v48h-3.5zM1710.0 0h4.0v48h-4.0zM1731.0 0h1.0v48h-1.0zM1734.5 0h1.0v48h-1.0zM1783.5 0h1.5v48h-1.5zM1793.0 0h2.0v48h-2.0zM1796.0 0h1.5v48h-1.5zM1806.0 0h2.5v48h-2.5zM1818.5 0h1.0v48h-1.0zM1820.5 0h1.0v48h-1.0zM1824.5 0h4.0v48h-4.0zM1840.5 0h1.0v48h-1.0zM1846.0 0h1.5v48h-1.5zM1848.5 0h2.5v48h-2.5zM1852.0 0h1.0v48h-1.0zM1854.0 0h2.5v48h-2.5zM1863.5 0h2.0v48h-2.0zM1868.0 0h3.0v48h-3.0zM1872.0 0h3.0v48h-3.0zM1876.0 0h1.0v48h-1.0zM1881.5 0h1.0v48h-1.0zM1885.5 0h1.0v48h-1.0zM1889.5 0h2.0v48h-2.0zM1902.5 0h4.5v48h-4.5zM1916.0 0h2.5v48h-2.5zM1919.5 0h4.0v48h-4.0zM1927.5 0h3.5v48h-3.5zM1935.0 0h1.0v48h-1.0zM1945.5 0h2.0v48h-2.0zM1949.5 0h1.0v48h-1.0zM1951.5 0h0.8v48h-0.8zM1959.3 0h3.0v48h-3.0zM1963.3 0h1.0v48h-1.0zM1969.8 0h1.0v48h-1.0zM1971.8 0h1.0v48h-1.0zM1976.8 0h1.0v48h-1.0zM1985.3 0h1.0v48h-1.0zM1989.3 0h1.0v48h-1.0zM1993.8 0h1.0v48h-1.0zM1999.3 0h1.0v48h-1.0zM2004.8 0h1.0v48h-1.0zM2015.4 0h1.5v48h-1.5zM2019.9 0h3.5v48h-3.5zM2025.9 0h3.0v48h-3.0zM2029.9 0h1.0v48h-1.0zM2042.9 0h1.0v48h-1.0zM2055.9 0h1.0v48h-1.0zM2059.4 0h3.0v48h-3.0zM2063.4 0h1.0v48h-1.0zM2065.4 0h1.0v48h-1.0zM2071.9 0h1.5v48h-1.5zM2076.4 0h3.5v48h-3.5zM2083.4 0h1.3v48h-1.3zM2182.3 0h3.5v48h-3.5zM2193.3 0h3.5v48h-3.5zM2205.3 0h1.0v48h-1.0zM2208.8 0h1.5v48h-1.5zM2217.3 0h1.5v48h-1.5zM2224.4 0h1.0v48h-1.0zM2227.9 0h2.0v48h-2.0zM2247.9 0h2.0v48h-2.0zM2262.9 0h1.5v48h-1.5zM2269.9 0h2.0v48h-2.0zM2274.4 0h1.0v48h-1.0zM2279.9 0h1.0v48h-1.0zM2283.9 0h1.0v48h-1.0zM2316.4 0h3.0v48h-3.0zM2323.4 0h1.0v48h-1.0zM2345.9 0h1.0v48h-1.0zM2347.9 0h1.0v48h-1.0zM2354.4 0h1.0v48h-1.0zM2364.9 0h1.5v48h-1.5zM2368.4 0h3.0v48h-3.0zM2420.4 0h1.5v48h-1.5z"/><path fill="#3eb0e5" d="M959.5 0h1.0v48h-1.0zM966.0 0h1.0v48h-1.0zM973.5 0h3.0v48h-3.0zM1073.6 0h1.0v48h-1.0zM1076.6 0h2.5v48h-2.5zM1086.6 0h0.8v48h-0.8zM1128.9 0h1.5v48h-1.5zM1131.4 0h0.1v48h-0.1zM1132.5 0h3.5v48h-3.5zM1143.5 0h1.0v48h-1.0zM1158.0 0h3.5v48h-3.5zM1179.0 0h1.0v48h-1.0zM1218.9 0h1.5v48h-1.5zM1225.4 0h1.5v48h-1.5zM1247.9 0h3.0v48h-3.0zM1257.4 0h1.0v48h-1.0zM1262.4 0h1.0v48h-1.0zM1308.9 0h2.3v48h-2.3zM1324.1 0h2.0v48h-2.0zM1336.1 0h1.5v48h-1.5zM1351.1 0h1.0v48h-1.0zM1373.6 0h1.0v48h-1.0zM1382.0 0h4.7v48h-4.7zM1466.0 0h2.0v48h-2.0zM1470.5 0h2.0v48h-2.0zM1511.5 0h1.0v48h-1.0zM1513.5 0h2.0v48h-2.0zM1523.5 0h1.0v48h-1.0zM1527.0 0h2.0v48h-2.0zM1530.5 0h2.5v48h-2.5zM1544.2 0h1.0v48h-1.0zM1552.7 0h1.5v48h-1.5zM1557.2 0h1.0v48h-1.0zM1568.7 0h3.0v48h-3.0zM1578.7 0h2.0v48h-2.0zM1591.7 0h1.0v48h-1.0zM1593.7 0h4.6v48h-4.6zM1600.3 0h1.0v48h-1.0zM1607.3 0h3.5v48h-3.5zM1660.5 0h1.0v48h-1.0zM1675.0 0h1.0v48h-1.0zM1678.5 0h1.0v48h-1.0zM1699.0 0h1.5v48h-1.5zM1708.0 0h1.0v48h-1.0zM1715.0 0h2.5v48h-2.5zM1719.5 0h2.5v48h-2.5zM1730.0 0h1.0v48h-1.0zM1736.5 0h14.5v48h-14.5zM1752.0 0h5.9v48h-5.9zM1773.4 0h1.0v48h-1.0zM1788.5 0h1.0v48h-1.0zM1790.5 0h1.0v48h-1.0zM1804.0 0h1.0v48h-1.0zM1815.5 0h1.0v48h-1.0zM1819.5 0h1.0v48h-1.0zM1828.5 0h4.0v48h-4.0zM1839.5 0h1.0v48h-1.0zM1851.0 0h1.0v48h-1.0zM1865.5 0h1.0v48h-1.0zM1877.0 0h2.0v48h-2.0zM1896.0 0h1.0v48h-1.0zM1898.5 0h2.0v48h-2.0zM1901.5 0h1.0v48h-1.0zM1912.0 0h4.0v48h-4.0zM1918.5 0h1.0v48h-1.0zM1936.0 0h1.0v48h-1.0zM1938.0 0h1.5v48h-1.5zM1953.8 0h2.0v48h-2.0zM1962.3 0h1.0v48h-1.0zM1964.3 0h2.0v48h-2.0zM1972.8 0h3.0v48h-3.0zM1987.8 0h1.5v48h-1.5zM1991.3 0h1.0v48h-1.0zM1994.8 0h4.5v48h-4.5zM2006.8 0h4.5v48h-4.5zM2013.3 0h2.0v48h-2.0zM2017.9 0h2.0v48h-2.0zM2028.9 0h1.0v48h-1.0zM2034.4 0h1.5v48h-1.5zM2036.9 0h1.0v48h-1.0zM2045.4 0h1.0v48h-1.0zM2047.9 0h3.0v48h-3.0zM2052.4 0h3.5v48h-3.5zM2056.9 0h1.0v48h-1.0zM2062.4 0h1.0v48h-1.0zM2067.4 0h4.5v48h-4.5zM2073.4 0h2.0v48h-2.0zM2087.7 0h1.0v48h-1.0zM2096.2 0h6.0v48h-6.0zM2103.2 0h1.0v48h-1.0zM2105.2 0h3.0v48h-3.0zM2114.1 0h1.0v48h-1.0zM2126.1 0h1.5v48h-1.5zM2133.1 0h4.0v48h-4.0zM2158.6 0h1.0v48h-1.0zM2160.6 0h3.5v48h-3.5zM2166.1 0h7.0v48h-7.0zM2176.6 0h1.0v48h-1.0zM2186.8 0h1.5v48h-1.5zM2189.8 0h3.5v48h-3.5zM2196.8 0h2.0v48h-2.0zM2216.3 0h1.0v48h-1.0zM2220.3 0h3.0v48h-3.0zM2240.9 0h2.0v48h-2.0zM2257.9 0h2.5v48h-2.5zM2266.4 0h2.5v48h-2.5zM2271.9 0h2.5v48h-2.5zM2282.9 0h1.0v48h-1.0zM2305.4 0h1.0v48h-1.0zM2311.9 0h3.5v48h-3.5zM2324.4 0h1.5v48h-1.5zM2343.4 0h2.5v48h-2.5zM2352.4 0h1.0v48h-1.0zM2356.4 0h1.0v48h-1.0zM2372.4 0h1.0v48h-1.0zM2375.4 0h2.0v48h-2.0z"/><path fill="#ecc044" d="M1072.6 0h1.0v48h-1.0zM1095.9 0h1.0v48h-1.0zM1102.4 0h1.5v48h-1.5zM1114.4 0h1.0v48h-1.0zM1139.5 0h2.0v48h-2.0zM1148.0 0h2.5v48h-2.5zM1153.5 0h1.5v48h-1.5zM1157.0 0h1.0v48h-1.0zM1167.0 0h1.5v48h-1.5zM1177.5 0h1.5v48h-1.5zM1215.4 0h2.5v48h-2.5zM1223.4 0h1.0v48h-1.0zM1334.1 0h1.0v48h-1.0zM1350.1 0h1.0v48h-1.0zM1427.2 0h1.0v48h-1.0zM1453.7 0h0.8v48h-0.8zM1457.5 0h1.0v48h-1.0zM1480.5 0h1.0v48h-1.0zM1496.0 0h1.0v48h-1.0zM1616.8 0h9.5v48h-9.5zM1627.3 0h5.0v48h-5.0zM1633.3 0h18.2v48h-18.2zM1654.5 0h4.0v48h-4.0zM1661.5 0h1.0v48h-1.0zM1664.5 0h1.0v48h-1.0zM1787.5 0h1.0v48h-1.0zM1797.5 0h1.0v48h-1.0zM1875.0 0h1.0v48h-1.0zM1884.5 0h1.0v48h-1.0zM1909.0 0h3.0v48h-3.0zM2037.9 0h2.0v48h-2.0zM2080.9 0h2.5v48h-2.5zM2223.4 0h1.0v48h-1.0zM2229.9 0h1.0v48h-1.0zM2242.9 0h1.0v48h-1.0zM2245.9 0h1.0v48h-1.0zM2278.4 0h1.5v48h-1.5zM2325.9 0h2.0v48h-2.0zM2340.4 0h2.0v48h-2.0zM2371.4 0h1.0v48h-1.0z"/><path fill="#a94fba" d="M1084.6 0h2.0v48h-2.0zM1096.9 0h1.5v48h-1.5zM1105.9 0h2.0v48h-2.0zM1155.0 0h2.0v48h-2.0zM1264.9 0h1.0v48h-1.0zM1267.4 0h1.0v48h-1.0zM1458.5 0h1.0v48h-1.0zM1494.0 0h1.0v48h-1.0zM1512.5 0h1.0v48h-1.0zM1541.2 0h3.0v48h-3.0zM1556.2 0h1.0v48h-1.0zM1565.7 0h1.0v48h-1.0zM1582.7 0h1.0v48h-1.0zM1592.7 0h1.0v48h-1.0zM1599.3 0h1.0v48h-1.0zM1613.8 0h1.0v48h-1.0zM1651.5 0h1.0v48h-1.0zM1659.5 0h1.0v48h-1.0zM1662.5 0h1.0v48h-1.0zM1665.5 0h1.0v48h-1.0zM1679.5 0h3.0v48h-3.0zM1692.0 0h1.5v48h-1.5zM1698.0 0h1.0v48h-1.0zM1700.5 0h2.0v48h-2.0zM1709.0 0h1.0v48h-1.0zM1717.5 0h1.0v48h-1.0zM1725.0 0h1.0v48h-1.0zM1732.0 0h2.5v48h-2.5zM1735.5 0h1.0v48h-1.0zM1758.9 0h9.5v48h-9.5zM1769.4 0h3.0v48h-3.0zM1774.4 0h1.0v48h-1.0zM1785.0 0h2.5v48h-2.5zM1791.5 0h1.5v48h-1.5zM1795.0 0h1.0v48h-1.0zM1803.0 0h1.0v48h-1.0zM1808.5 0h4.5v48h-4.5zM1817.5 0h1.0v48h-1.0zM1822.5 0h1.0v48h-1.0zM1832.5 0h4.5v48h-4.5zM1843.5 0h1.5v48h-1.5zM1853.0 0h1.0v48h-1.0zM1859.0 0h4.5v48h-4.5zM1866.5 0h1.5v48h-1.5zM1879.0 0h2.5v48h-2.5zM1882.5 0h2.0v48h-2.0zM1886.5 0h3.0v48h-3.0zM1923.5 0h2.5v48h-2.5zM1933.5 0h1.5v48h-1.5zM1939.5 0h1.0v48h-1.0zM1942.5 0h3.0v48h-3.0zM1947.5 0h2.0v48h-2.0zM1952.3 0h1.5v48h-1.5zM1958.3 0h1.0v48h-1.0zM1970.8 0h1.0v48h-1.0zM1975.8 0h1.0v48h-1.0zM1977.8 0h1.0v48h-1.0zM1982.8 0h2.5v48h-2.5zM1986.3 0h1.5v48h-1.5zM1990.3 0h1.0v48h-1.0zM2000.3 0h3.0v48h-3.0zM2005.8 0h1.0v48h-1.0zM2016.9 0h1.0v48h-1.0zM2024.4 0h1.5v48h-1.5zM2030.9 0h3.5v48h-3.5zM2039.9 0h3.0v48h-3.0zM2064.4 0h1.0v48h-1.0zM2066.4 0h1.0v48h-1.0zM2079.9 0h1.0v48h-1.0zM2084.7 0h1.0v48h-1.0zM2086.7 0h1.0v48h-1.0zM2088.7 0h1.5v48h-1.5zM2095.2 0h1.0v48h-1.0zM2109.2 0h1.0v48h-1.0zM2111.7 0h1.4v48h-1.4zM2116.1 0h10.0v48h-10.0zM2128.6 0h4.5v48h-4.5zM2145.1 0h2.5v48h-2.5zM2149.6 0h1.0v48h-1.0zM2153.1 0h4.5v48h-4.5zM2159.6 0h1.0v48h-1.0zM2173.1 0h3.5v48h-3.5zM2177.6 0h1.7v48h-1.7zM2181.3 0h1.0v48h-1.0zM2188.3 0h1.5v48h-1.5zM2198.8 0h6.5v48h-6.5zM2206.3 0h2.5v48h-2.5zM2210.3 0h6.0v48h-6.0zM2223.3 0h0.1v48h-0.1zM2225.4 0h2.5v48h-2.5zM2230.9 0h10.0v48h-10.0zM2243.9 0h2.0v48h-2.0zM2246.9 0h1.0v48h-1.0zM2249.9 0h8.0v48h-8.0zM2260.4 0h2.5v48h-2.5zM2264.4 0h2.0v48h-2.0zM2275.4 0h1.0v48h-1.0zM2281.9 0h1.0v48h-1.0zM2289.9 0h12.5v48h-12.5zM2303.9 0h1.5v48h-1.5zM2307.9 0h3.0v48h-3.0zM2315.4 0h1.0v48h-1.0zM2319.4 0h4.0v48h-4.0zM2330.9 0h9.5v48h-9.5zM2342.4 0h1.0v48h-1.0zM2346.9 0h1.0v48h-1.0zM2348.9 0h2.5v48h-2.5zM2357.4 0h1.5v48h-1.5zM2359.9 0h5.0v48h-5.0zM2366.4 0h2.0v48h-2.0zM2373.4 0h1.0v48h-1.0zM2377.4 0h5.0v48h-5.0zM2399.9 0h4.0v48h-4.0zM2404.9 0h12.0v48h-12.0zM2422.9 0h2.1v48h-2.1z"/><path fill="#1bb29a" d="M1186.4 0h1.0v48h-1.0zM1246.9 0h1.0v48h-1.0zM1260.4 0h1.0v48h-1.0zM1263.4 0h1.5v48h-1.5zM1269.9 0h0.2v48h-0.2z"/><path fill="#96b57c" d="M1509.5 0h2.0v48h-2.0zM1551.7 0h1.0v48h-1.0zM1567.7 0h1.0v48h-1.0zM1581.7 0h1.0v48h-1.0zM1585.2 0h1.0v48h-1.0zM1587.2 0h1.0v48h-1.0z"/><path fill="#e2594b" d="M1601.3 0h6.0v48h-6.0zM1610.8 0h3.0v48h-3.0zM1614.8 0h2.0v48h-2.0zM1626.3 0h1.0v48h-1.0zM1632.3 0h1.0v48h-1.0zM2384.1 0h15.8v48h-15.8z"/></svg>
<div class="b" style="left:955px;top:336px;width:1470px;height:48px;background:repeating-linear-gradient(90deg,transparent 0 5px,rgba(255,255,255,.12) 5px 6px,transparent 6px 9px,rgba(255,255,255,.1) 9px 10px,transparent 10px 17px,rgba(255,255,255,.12) 17px 18px,transparent 18px 21px);"></div>
<svg style="left:0;top:396px" width="2425" height="48" viewBox="0 0 2425 48"><path fill="#7581b7" d="M955.0 0h3.2v48h-3.2zM966.5 0h4.5v48h-4.5zM977.0 0h2.5v48h-2.5zM982.5 0h7.5v48h-7.5zM991.0 0h7.0v48h-7.0zM1000.0 0h1.0v48h-1.0zM1002.0 0h3.0v48h-3.0zM1012.5 0h23.5v48h-23.5zM1037.0 0h1.0v48h-1.0zM1040.0 0h6.0v48h-6.0zM1047.0 0h1.0v48h-1.0zM1052.0 0h3.5v48h-3.5zM1062.5 0h5.0v48h-5.0zM1071.0 0h1.0v48h-1.0zM1074.5 0h0.2v48h-0.2zM1075.8 0h2.0v48h-2.0zM1080.8 0h3.0v48h-3.0zM1084.8 0h2.5v48h-2.5zM1089.3 0h1.3v48h-1.3zM1101.5 0h2.5v48h-2.5zM1105.5 0h1.0v48h-1.0zM1111.5 0h2.5v48h-2.5zM1116.0 0h6.5v48h-6.5zM1130.5 0h2.5v48h-2.5zM1135.5 0h2.0v48h-2.0zM1142.5 0h2.0v48h-2.0zM1146.5 0h1.0v48h-1.0zM1149.5 0h8.5v48h-8.5zM1159.0 0h5.5v48h-5.5zM1166.0 0h1.5v48h-1.5zM1172.5 0h1.0v48h-1.0zM1175.6 0h7.5v48h-7.5zM1188.1 0h1.0v48h-1.0zM1193.1 0h2.5v48h-2.5zM1198.6 0h2.5v48h-2.5zM1206.6 0h3.5v48h-3.5zM1211.1 0h4.5v48h-4.5zM1219.1 0h7.5v48h-7.5zM1227.6 0h3.5v48h-3.5zM1238.6 0h3.5v48h-3.5zM1244.1 0h1.0v48h-1.0zM1247.1 0h1.5v48h-1.5zM1250.6 0h1.5v48h-1.5zM1253.1 0h1.5v48h-1.5zM1256.6 0h2.5v48h-2.5zM1262.1 0h12.5v48h-12.5zM1278.2 0h1.0v48h-1.0zM1280.2 0h4.5v48h-4.5zM1287.7 0h10.0v48h-10.0zM1298.7 0h1.5v48h-1.5zM1301.2 0h3.5v48h-3.5zM1312.7 0h29.6v48h-29.6zM1345.8 0h31.5v48h-31.5zM1380.8 0h16.5v48h-16.5zM1398.3 0h1.0v48h-1.0zM1400.8 0h1.7v48h-1.7zM1403.5 0h6.5v48h-6.5zM1415.5 0h5.0v48h-5.0zM1459.3 0h3.0v48h-3.0zM1469.3 0h4.0v48h-4.0zM1476.3 0h1.0v48h-1.0zM1478.8 0h7.0v48h-7.0zM1488.3 0h2.0v48h-2.0zM1495.8 0h1.0v48h-1.0zM1498.8 0h5.5v48h-5.5zM1505.8 0h1.0v48h-1.0zM1516.8 0h8.0v48h-8.0zM1525.8 0h4.5v48h-4.5zM1532.8 0h6.8v48h-6.8zM1542.5 0h5.0v48h-5.0zM1550.5 0h1.0v48h-1.0zM1555.0 0h3.5v48h-3.5zM1579.0 0h1.0v48h-1.0zM1585.5 0h2.0v48h-2.0zM1599.0 0h1.0v48h-1.0zM1605.5 0h1.8v48h-1.8zM1625.3 0h1.5v48h-1.5zM1631.8 0h2.0v48h-2.0zM1637.8 0h1.0v48h-1.0zM1646.8 0h1.0v48h-1.0zM1649.3 0h4.0v48h-4.0zM1682.0 0h1.0v48h-1.0zM1693.9 0h1.0v48h-1.0zM1698.9 0h4.5v48h-4.5zM1712.4 0h3.5v48h-3.5zM1720.9 0h1.4v48h-1.4zM1748.5 0h1.0v48h-1.0zM1753.0 0h4.5v48h-4.5zM1765.0 0h4.5v48h-4.5zM1773.5 0h2.5v48h-2.5zM1780.0 0h1.0v48h-1.0zM1783.5 0h1.0v48h-1.0zM1789.5 0h1.0v48h-1.0zM1797.5 0h2.5v48h-2.5zM1809.0 0h2.0v48h-2.0zM1816.5 0h3.5v48h-3.5zM1823.5 0h2.5v48h-2.5zM1834.0 0h1.0v48h-1.0zM1845.0 0h1.0v48h-1.0zM1852.0 0h1.5v48h-1.5zM1854.5 0h5.5v48h-5.5zM1875.5 0h7.0v48h-7.0zM1885.5 0h3.0v48h-3.0zM1894.5 0h1.0v48h-1.0zM1897.5 0h3.0v48h-3.0zM1906.5 0h1.0v48h-1.0zM1914.5 0h1.0v48h-1.0zM1921.0 0h1.0v48h-1.0zM1942.2 0h5.0v48h-5.0zM1948.2 0h2.0v48h-2.0zM1955.2 0h2.5v48h-2.5zM1963.1 0h1.0v48h-1.0zM1965.1 0h2.0v48h-2.0zM1971.6 0h1.0v48h-1.0zM1975.6 0h1.0v48h-1.0zM1977.6 0h1.5v48h-1.5zM1981.6 0h3.0v48h-3.0zM1989.6 0h2.5v48h-2.5zM1994.6 0h1.0v48h-1.0zM1996.6 0h3.5v48h-3.5zM2001.6 0h1.0v48h-1.0zM2004.6 0h1.0v48h-1.0zM2010.1 0h4.5v48h-4.5zM2015.6 0h3.5v48h-3.5zM2033.2 0h1.5v48h-1.5zM2043.2 0h1.0v48h-1.0zM2056.2 0h2.5v48h-2.5zM2062.7 0h5.0v48h-5.0zM2076.2 0h4.5v48h-4.5zM2081.7 0h1.0v48h-1.0zM2093.7 0h1.0v48h-1.0zM2096.7 0h1.0v48h-1.0zM2099.2 0h1.5v48h-1.5zM2123.2 0h2.5v48h-2.5zM2133.7 0h1.0v48h-1.0zM2149.7 0h2.0v48h-2.0zM2161.2 0h1.0v48h-1.0zM2163.2 0h1.5v48h-1.5zM2198.5 0h1.0v48h-1.0zM2214.0 0h2.5v48h-2.5zM2217.5 0h1.5v48h-1.5zM2280.8 0h1.0v48h-1.0zM2297.8 0h1.0v48h-1.0zM2311.3 0h2.0v48h-2.0zM2343.8 0h1.0v48h-1.0zM2368.8 0h1.0v48h-1.0zM2395.8 0h0.9v48h-0.9z"/><path fill="#e8744a" d="M958.2 0h1.9v48h-1.9zM961.0 0h1.0v48h-1.0zM979.5 0h3.0v48h-3.0zM1001.0 0h1.0v48h-1.0zM1006.0 0h2.0v48h-2.0zM1046.0 0h1.0v48h-1.0zM1057.5 0h1.0v48h-1.0zM1061.5 0h1.0v48h-1.0zM1068.5 0h2.5v48h-2.5zM1072.0 0h2.5v48h-2.5zM1087.3 0h1.0v48h-1.0zM1473.3 0h3.0v48h-3.0zM1494.8 0h1.0v48h-1.0zM1507.8 0h1.0v48h-1.0zM1514.8 0h1.0v48h-1.0zM1747.5 0h1.0v48h-1.0zM1757.5 0h3.5v48h-3.5zM1770.5 0h1.0v48h-1.0zM1788.0 0h1.5v48h-1.5zM1796.0 0h1.5v48h-1.5zM1813.0 0h1.0v48h-1.0zM1820.0 0h2.0v48h-2.0zM1846.0 0h1.0v48h-1.0zM1849.0 0h1.0v48h-1.0zM1853.5 0h1.0v48h-1.0zM1861.0 0h1.0v48h-1.0zM1889.5 0h1.0v48h-1.0zM1902.5 0h1.5v48h-1.5z"/><path fill="#3eb0e5" d="M960.0 0h1.0v48h-1.0zM962.0 0h1.0v48h-1.0zM971.0 0h3.5v48h-3.5zM1005.0 0h1.0v48h-1.0zM1036.0 0h1.0v48h-1.0zM1056.5 0h1.0v48h-1.0zM1059.5 0h2.0v48h-2.0zM1067.5 0h1.0v48h-1.0zM1078.8 0h2.0v48h-2.0zM1090.5 0h3.5v48h-3.5zM1107.5 0h1.5v48h-1.5zM1123.5 0h1.0v48h-1.0zM1128.0 0h1.0v48h-1.0zM1138.5 0h1.0v48h-1.0zM1145.5 0h1.0v48h-1.0zM1147.5 0h1.0v48h-1.0zM1158.0 0h1.0v48h-1.0zM1167.5 0h3.0v48h-3.0zM1187.1 0h1.0v48h-1.0zM1189.1 0h1.0v48h-1.0zM1192.1 0h1.0v48h-1.0zM1201.1 0h2.0v48h-2.0zM1215.6 0h1.0v48h-1.0zM1238.6 0h0.0v48h-0.0zM1344.8 0h1.0v48h-1.0zM1397.3 0h1.0v48h-1.0zM1451.4 0h5.5v48h-5.5zM1457.9 0h1.4v48h-1.4zM1462.3 0h1.0v48h-1.0zM1464.3 0h3.0v48h-3.0zM1496.8 0h2.0v48h-2.0zM1508.8 0h3.0v48h-3.0zM1512.8 0h1.0v48h-1.0zM1539.5 0h1.0v48h-1.0zM1547.5 0h1.0v48h-1.0zM1552.5 0h2.5v48h-2.5zM1558.5 0h3.5v48h-3.5zM1566.5 0h1.0v48h-1.0zM1568.5 0h1.5v48h-1.5zM1575.5 0h1.5v48h-1.5zM1592.0 0h3.0v48h-3.0zM1598.0 0h1.0v48h-1.0zM1602.5 0h1.0v48h-1.0zM1604.5 0h1.0v48h-1.0zM1619.8 0h1.0v48h-1.0zM1630.8 0h1.0v48h-1.0zM1647.8 0h1.5v48h-1.5zM1653.3 0h1.5v48h-1.5zM1655.8 0h5.5v48h-5.5zM1670.8 0h2.5v48h-2.5zM1675.0 0h4.5v48h-4.5zM1683.0 0h1.0v48h-1.0zM1687.0 0h6.9v48h-6.9zM1734.9 0h12.6v48h-12.6zM1769.5 0h1.0v48h-1.0zM1787.0 0h1.0v48h-1.0zM1801.0 0h1.0v48h-1.0zM1830.0 0h4.0v48h-4.0zM1837.0 0h1.0v48h-1.0zM1839.0 0h4.0v48h-4.0zM1844.0 0h1.0v48h-1.0zM1847.0 0h2.0v48h-2.0zM1851.0 0h1.0v48h-1.0zM1860.0 0h1.0v48h-1.0zM1862.0 0h1.0v48h-1.0zM1871.0 0h3.5v48h-3.5zM1891.5 0h1.0v48h-1.0zM1904.0 0h2.5v48h-2.5zM1909.5 0h1.0v48h-1.0zM1916.5 0h3.5v48h-3.5zM1924.5 0h2.0v48h-2.0zM1947.2 0h1.0v48h-1.0zM1950.2 0h5.0v48h-5.0zM1958.6 0h1.5v48h-1.5zM1973.6 0h1.0v48h-1.0zM1995.6 0h1.0v48h-1.0zM2005.6 0h1.0v48h-1.0zM2021.6 0h0.0v48h-0.0zM2027.7 0h3.5v48h-3.5zM2034.7 0h3.5v48h-3.5zM2042.2 0h1.0v48h-1.0zM2047.7 0h3.5v48h-3.5zM2054.2 0h2.0v48h-2.0zM2073.2 0h3.0v48h-3.0zM2080.7 0h1.0v48h-1.0zM2090.7 0h1.0v48h-1.0zM2092.7 0h1.0v48h-1.0zM2094.7 0h1.0v48h-1.0zM2101.7 0h2.0v48h-2.0zM2106.2 0h1.0v48h-1.0zM2137.7 0h2.0v48h-2.0zM2162.2 0h1.0v48h-1.0zM2169.2 0h1.5v48h-1.5zM2172.2 0h1.0v48h-1.0zM2185.6 0h9.5v48h-9.5zM2199.5 0h1.0v48h-1.0zM2203.5 0h1.0v48h-1.0zM2211.0 0h1.0v48h-1.0zM2219.0 0h1.2v48h-1.2zM2233.5 0h1.0v48h-1.0zM2237.5 0h1.0v48h-1.0zM2242.3 0h2.5v48h-2.5zM2249.3 0h2.0v48h-2.0zM2255.3 0h4.5v48h-4.5zM2262.3 0h2.1v48h-2.1zM2275.8 0h2.5v48h-2.5zM2279.8 0h1.0v48h-1.0zM2283.3 0h1.0v48h-1.0zM2286.3 0h1.0v48h-1.0zM2292.8 0h1.0v48h-1.0zM2305.3 0h1.5v48h-1.5zM2314.8 0h1.0v48h-1.0zM2325.3 0h2.0v48h-2.0zM2329.3 0h1.5v48h-1.5zM2346.8 0h1.5v48h-1.5zM2360.3 0h1.0v48h-1.0zM2369.8 0h1.5v48h-1.5zM2377.3 0h1.0v48h-1.0zM2390.8 0h2.0v48h-2.0z"/><path fill="#8f8f8f" d="M963.0 0h3.5v48h-3.5zM974.5 0h2.5v48h-2.5zM990.0 0h1.0v48h-1.0zM998.0 0h2.0v48h-2.0zM1008.0 0h4.5v48h-4.5zM1038.0 0h2.0v48h-2.0zM1048.0 0h4.0v48h-4.0zM1055.5 0h1.0v48h-1.0zM1058.5 0h1.0v48h-1.0zM1094.0 0h1.0v48h-1.0zM1098.0 0h3.5v48h-3.5zM1110.5 0h1.0v48h-1.0zM1122.5 0h1.0v48h-1.0zM1124.5 0h3.5v48h-3.5zM1129.0 0h1.5v48h-1.5zM1134.5 0h1.0v48h-1.0zM1137.5 0h1.0v48h-1.0zM1139.5 0h2.0v48h-2.0zM1170.5 0h2.0v48h-2.0zM1173.5 0h2.1v48h-2.1zM1184.6 0h2.5v48h-2.5zM1195.6 0h3.0v48h-3.0zM1205.6 0h1.0v48h-1.0zM1210.1 0h1.0v48h-1.0zM1216.6 0h1.0v48h-1.0zM1246.1 0h1.0v48h-1.0zM1248.6 0h2.0v48h-2.0zM1259.1 0h3.0v48h-3.0zM1274.7 0h3.5v48h-3.5zM1284.7 0h1.0v48h-1.0zM1306.7 0h2.5v48h-2.5zM1342.3 0h2.5v48h-2.5zM1377.3 0h3.5v48h-3.5zM1399.3 0h1.5v48h-1.5zM1402.5 0h1.0v48h-1.0zM1410.0 0h5.5v48h-5.5zM1420.5 0h30.8v48h-30.8zM1463.3 0h1.0v48h-1.0zM1467.3 0h2.0v48h-2.0zM1477.3 0h1.5v48h-1.5zM1485.8 0h2.5v48h-2.5zM1490.3 0h4.5v48h-4.5zM1504.3 0h1.5v48h-1.5zM1506.8 0h1.0v48h-1.0zM1511.8 0h1.0v48h-1.0zM1513.8 0h1.0v48h-1.0zM1515.8 0h1.0v48h-1.0zM1524.8 0h1.0v48h-1.0zM1530.3 0h2.5v48h-2.5zM1591.0 0h1.0v48h-1.0zM1596.0 0h1.0v48h-1.0zM1600.0 0h2.5v48h-2.5zM1603.5 0h1.0v48h-1.0zM1617.8 0h1.0v48h-1.0zM1645.8 0h1.0v48h-1.0zM1654.8 0h1.0v48h-1.0zM1661.3 0h1.0v48h-1.0zM1665.3 0h1.5v48h-1.5zM1697.9 0h1.0v48h-1.0zM1703.4 0h6.0v48h-6.0zM1710.9 0h1.5v48h-1.5zM1715.9 0h5.0v48h-5.0zM1749.5 0h3.5v48h-3.5zM1761.0 0h4.0v48h-4.0zM1778.5 0h1.5v48h-1.5zM1782.5 0h1.0v48h-1.0zM1784.5 0h2.5v48h-2.5zM1790.5 0h2.5v48h-2.5zM1800.0 0h1.0v48h-1.0zM1805.0 0h4.0v48h-4.0zM1811.0 0h1.0v48h-1.0zM1827.0 0h3.0v48h-3.0zM1836.0 0h1.0v48h-1.0zM1850.0 0h1.0v48h-1.0zM1865.0 0h3.5v48h-3.5zM1884.0 0h1.5v48h-1.5zM1890.5 0h1.0v48h-1.0zM1892.5 0h1.0v48h-1.0zM1900.5 0h2.0v48h-2.0zM1907.5 0h2.0v48h-2.0zM1910.5 0h4.0v48h-4.0zM1920.0 0h1.0v48h-1.0zM1922.0 0h2.5v48h-2.5zM1960.1 0h1.0v48h-1.0zM1967.1 0h1.0v48h-1.0zM1976.6 0h1.0v48h-1.0zM1980.6 0h1.0v48h-1.0zM1987.6 0h1.0v48h-1.0zM2000.1 0h1.5v48h-1.5zM2006.6 0h3.5v48h-3.5zM2014.6 0h1.0v48h-1.0zM2021.7 0h2.0v48h-2.0zM2024.7 0h2.0v48h-2.0zM2032.2 0h1.0v48h-1.0zM2038.2 0h4.0v48h-4.0zM2046.7 0h1.0v48h-1.0zM2051.2 0h3.0v48h-3.0zM2058.7 0h4.0v48h-4.0zM2070.2 0h1.0v48h-1.0zM2082.7 0h1.5v48h-1.5zM2087.7 0h3.0v48h-3.0zM2097.7 0h1.5v48h-1.5zM2103.7 0h2.5v48h-2.5zM2108.2 0h1.7v48h-1.7zM2148.7 0h1.0v48h-1.0zM2177.2 0h2.5v48h-2.5zM2284.3 0h1.0v48h-1.0zM2302.3 0h1.5v48h-1.5zM2317.8 0h3.0v48h-3.0zM2330.8 0h1.0v48h-1.0zM2384.3 0h1.0v48h-1.0z"/><path fill="#a94fba" d="M1074.8 0h1.0v48h-1.0zM1077.8 0h1.0v48h-1.0zM1083.8 0h1.0v48h-1.0zM1088.3 0h1.0v48h-1.0zM1115.0 0h1.0v48h-1.0zM1183.1 0h1.5v48h-1.5zM1191.1 0h1.0v48h-1.0zM1217.6 0h1.5v48h-1.5zM1231.1 0h4.5v48h-4.5zM1237.1 0h1.5v48h-1.5zM1562.0 0h3.5v48h-3.5zM1570.0 0h1.0v48h-1.0zM1578.0 0h1.0v48h-1.0zM1580.0 0h2.5v48h-2.5zM1587.5 0h3.5v48h-3.5zM1595.0 0h1.0v48h-1.0zM1618.8 0h1.0v48h-1.0zM1622.8 0h2.5v48h-2.5zM1629.3 0h1.5v48h-1.5zM1633.8 0h1.0v48h-1.0zM1638.8 0h1.0v48h-1.0zM1643.8 0h2.0v48h-2.0zM1669.8 0h1.0v48h-1.0zM1673.3 0h1.0v48h-1.0zM1681.0 0h1.0v48h-1.0zM1684.0 0h3.0v48h-3.0zM1722.3 0h12.6v48h-12.6zM1777.0 0h1.5v48h-1.5zM1781.0 0h1.5v48h-1.5zM1793.0 0h3.0v48h-3.0zM1812.0 0h1.0v48h-1.0zM1814.0 0h2.5v48h-2.5zM1826.0 0h1.0v48h-1.0zM1838.0 0h1.0v48h-1.0zM1843.0 0h1.0v48h-1.0zM1864.0 0h1.0v48h-1.0zM1868.5 0h2.5v48h-2.5zM1882.5 0h1.5v48h-1.5zM1888.5 0h1.0v48h-1.0zM1895.5 0h2.0v48h-2.0zM1926.5 0h0.6v48h-0.6zM1941.2 0h1.0v48h-1.0zM1961.1 0h2.0v48h-2.0zM1964.1 0h1.0v48h-1.0zM1968.1 0h3.5v48h-3.5zM1972.6 0h1.0v48h-1.0zM1974.6 0h1.0v48h-1.0zM1979.1 0h1.5v48h-1.5zM1984.6 0h3.0v48h-3.0zM1988.6 0h1.0v48h-1.0zM1992.1 0h2.5v48h-2.5zM2002.6 0h2.0v48h-2.0zM2019.1 0h2.5v48h-2.5zM2023.7 0h1.0v48h-1.0zM2026.7 0h1.0v48h-1.0zM2045.2 0h1.5v48h-1.5zM2069.2 0h1.0v48h-1.0zM2084.2 0h3.5v48h-3.5zM2091.7 0h1.0v48h-1.0zM2095.7 0h1.0v48h-1.0zM2100.7 0h1.0v48h-1.0zM2107.2 0h1.0v48h-1.0zM2116.2 0h7.0v48h-7.0zM2125.7 0h8.0v48h-8.0zM2134.7 0h3.0v48h-3.0zM2139.7 0h9.0v48h-9.0zM2151.7 0h9.5v48h-9.5zM2164.7 0h4.5v48h-4.5zM2170.7 0h1.5v48h-1.5zM2173.2 0h4.0v48h-4.0zM2179.7 0h5.8v48h-5.8zM2197.0 0h1.5v48h-1.5zM2200.5 0h1.0v48h-1.0zM2202.5 0h1.0v48h-1.0zM2204.5 0h6.5v48h-6.5zM2213.0 0h1.0v48h-1.0zM2226.5 0h7.0v48h-7.0zM2234.5 0h3.0v48h-3.0zM2238.5 0h3.8v48h-3.8zM2244.8 0h4.5v48h-4.5zM2251.3 0h4.0v48h-4.0zM2259.8 0h2.5v48h-2.5zM2264.3 0h5.5v48h-5.5zM2270.8 0h5.0v48h-5.0zM2278.3 0h1.5v48h-1.5zM2281.8 0h1.5v48h-1.5zM2285.3 0h1.0v48h-1.0zM2287.3 0h5.5v48h-5.5zM2293.8 0h4.0v48h-4.0zM2298.8 0h3.5v48h-3.5zM2303.8 0h1.5v48h-1.5zM2306.8 0h4.5v48h-4.5zM2313.3 0h1.5v48h-1.5zM2315.8 0h2.0v48h-2.0zM2320.8 0h4.5v48h-4.5zM2331.8 0h12.0v48h-12.0zM2344.8 0h2.0v48h-2.0zM2348.3 0h12.0v48h-12.0zM2361.3 0h7.5v48h-7.5zM2371.3 0h6.0v48h-6.0zM2378.3 0h6.0v48h-6.0zM2385.3 0h5.5v48h-5.5zM2392.8 0h3.0v48h-3.0zM2404.6 0h20.4v48h-20.4z"/><path fill="#1bb29a" d="M1095.0 0h3.0v48h-3.0zM1104.0 0h1.5v48h-1.5zM1109.0 0h1.5v48h-1.5zM1114.0 0h1.0v48h-1.0zM1133.0 0h1.5v48h-1.5zM1144.5 0h1.0v48h-1.0zM1148.5 0h1.0v48h-1.0zM1164.5 0h1.5v48h-1.5zM1235.6 0h1.5v48h-1.5zM1548.5 0h1.0v48h-1.0zM2031.2 0h1.0v48h-1.0z"/><path fill="#27cde6" d="M1106.5 0h1.0v48h-1.0zM1141.5 0h1.0v48h-1.0zM1640.8 0h3.0v48h-3.0zM1666.8 0h1.0v48h-1.0zM1668.8 0h1.0v48h-1.0z"/><path fill="#ecc044" d="M1190.1 0h1.0v48h-1.0zM1203.1 0h2.5v48h-2.5zM1226.6 0h1.0v48h-1.0zM1242.1 0h2.0v48h-2.0zM1245.1 0h1.0v48h-1.0zM1252.1 0h1.0v48h-1.0zM1254.6 0h2.0v48h-2.0zM1279.2 0h1.0v48h-1.0zM1285.7 0h2.0v48h-2.0zM1297.7 0h1.0v48h-1.0zM1304.7 0h2.0v48h-2.0zM1309.2 0h2.0v48h-2.0zM1456.9 0h1.0v48h-1.0zM1551.5 0h1.0v48h-1.0zM1565.5 0h1.0v48h-1.0zM1572.0 0h3.5v48h-3.5zM1582.5 0h1.0v48h-1.0zM1597.0 0h1.0v48h-1.0zM1634.8 0h3.0v48h-3.0zM1639.8 0h1.0v48h-1.0zM1667.8 0h1.0v48h-1.0zM1679.5 0h1.5v48h-1.5zM1694.9 0h3.0v48h-3.0zM1709.4 0h1.5v48h-1.5zM1771.5 0h2.0v48h-2.0zM1776.0 0h1.0v48h-1.0zM1802.0 0h3.0v48h-3.0zM1822.0 0h1.5v48h-1.5zM1835.0 0h1.0v48h-1.0zM1863.0 0h1.0v48h-1.0zM1874.5 0h1.0v48h-1.0zM1893.5 0h1.0v48h-1.0zM1915.5 0h1.0v48h-1.0zM1939.7 0h1.5v48h-1.5zM1957.7 0h0.9v48h-0.9zM2044.2 0h1.0v48h-1.0zM2067.7 0h1.5v48h-1.5zM2071.2 0h2.0v48h-2.0zM2220.2 0h6.3v48h-6.3zM2269.8 0h1.0v48h-1.0zM2327.3 0h2.0v48h-2.0z"/><path fill="#e2594b" d="M1300.2 0h1.0v48h-1.0zM1311.2 0h1.5v48h-1.5zM1540.5 0h2.0v48h-2.0zM1549.5 0h1.0v48h-1.0zM1567.5 0h1.0v48h-1.0zM1571.0 0h1.0v48h-1.0zM1577.0 0h1.0v48h-1.0zM1583.5 0h2.0v48h-2.0zM1607.4 0h10.5v48h-10.5zM1620.8 0h2.0v48h-2.0zM1626.8 0h2.5v48h-2.5zM1662.3 0h3.0v48h-3.0zM1674.3 0h0.8v48h-0.8zM1927.1 0h12.6v48h-12.6zM2109.9 0h6.3v48h-6.3zM2195.0 0h2.0v48h-2.0zM2201.5 0h1.0v48h-1.0zM2212.0 0h1.0v48h-1.0zM2216.5 0h1.0v48h-1.0zM2396.7 0h7.9v48h-7.9z"/></svg>
<div class="b" style="left:955px;top:396px;width:1470px;height:48px;background:repeating-linear-gradient(90deg,transparent 0 5px,rgba(255,255,255,.12) 5px 6px,transparent 6px 9px,rgba(255,255,255,.1) 9px 10px,transparent 10px 17px,rgba(255,255,255,.12) 17px 18px,transparent 18px 21px);"></div>
<svg style="left:0;top:456px" width="2425" height="48" viewBox="0 0 2425 48"><path fill="#ecc044" d="M955.0 0h3.8v48h-3.8zM960.3 0h1.0v48h-1.0zM964.3 0h1.0v48h-1.0zM983.6 0h1.0v48h-1.0zM1018.6 0h2.0v48h-2.0zM1021.6 0h1.0v48h-1.0zM1028.1 0h3.5v48h-3.5zM1038.6 0h1.0v48h-1.0zM1081.1 0h6.5v48h-6.5zM1102.6 0h2.0v48h-2.0zM1141.6 0h1.0v48h-1.0zM1157.6 0h1.0v48h-1.0zM1160.6 0h2.0v48h-2.0zM1210.8 0h2.0v48h-2.0zM1221.3 0h1.0v48h-1.0zM1237.3 0h1.0v48h-1.0zM1256.8 0h1.0v48h-1.0zM1258.8 0h3.0v48h-3.0zM1262.8 0h1.0v48h-1.0zM1266.8 0h1.0v48h-1.0zM1274.3 0h1.0v48h-1.0zM1288.8 0h3.0v48h-3.0zM1295.8 0h1.5v48h-1.5zM1299.3 0h2.0v48h-2.0zM1311.8 0h2.0v48h-2.0zM1362.6 0h1.0v48h-1.0zM1379.6 0h1.5v48h-1.5zM1403.4 0h3.0v48h-3.0zM1424.4 0h1.0v48h-1.0zM1427.9 0h1.0v48h-1.0zM1432.4 0h1.0v48h-1.0zM1441.4 0h3.0v48h-3.0zM1456.0 0h3.2v48h-3.2zM1465.6 0h1.0v48h-1.0zM1469.6 0h1.0v48h-1.0zM1500.6 0h1.0v48h-1.0zM1518.1 0h3.0v48h-3.0zM1524.6 0h2.5v48h-2.5zM1535.6 0h2.0v48h-2.0zM1540.0 0h1.0v48h-1.0zM1542.0 0h1.0v48h-1.0zM1544.0 0h1.0v48h-1.0zM1547.5 0h3.5v48h-3.5zM1560.0 0h1.0v48h-1.0zM1574.0 0h1.0v48h-1.0zM1586.0 0h1.0v48h-1.0zM1630.8 0h3.5v48h-3.5zM1635.3 0h1.0v48h-1.0zM1644.3 0h1.0v48h-1.0zM1650.8 0h1.0v48h-1.0zM1660.8 0h1.0v48h-1.0zM1665.1 0h1.0v48h-1.0zM1667.6 0h1.0v48h-1.0zM1675.0 0h1.0v48h-1.0zM1677.0 0h1.5v48h-1.5zM1682.5 0h1.0v48h-1.0zM1728.7 0h2.0v48h-2.0zM1756.3 0h3.0v48h-3.0zM1768.8 0h1.5v48h-1.5zM1782.8 0h1.5v48h-1.5zM1800.8 0h1.0v48h-1.0zM1806.3 0h2.0v48h-2.0zM1818.8 0h1.5v48h-1.5zM1826.3 0h3.0v48h-3.0zM1873.8 0h1.0v48h-1.0zM1889.8 0h1.0v48h-1.0zM1913.8 0h1.0v48h-1.0zM2038.4 0h1.0v48h-1.0zM2086.4 0h1.0v48h-1.0zM2165.5 0h1.5v48h-1.5zM2177.0 0h1.0v48h-1.0zM2200.5 0h1.5v48h-1.5zM2368.2 0h2.0v48h-2.0zM2396.2 0h1.5v48h-1.5z"/><path fill="#7581b7" d="M958.8 0h1.5v48h-1.5zM961.3 0h3.0v48h-3.0zM965.3 0h4.8v48h-4.8zM974.1 0h9.5v48h-9.5zM988.6 0h6.5v48h-6.5zM996.6 0h10.5v48h-10.5zM1008.1 0h10.5v48h-10.5zM1022.6 0h5.5v48h-5.5zM1031.6 0h7.0v48h-7.0zM1040.6 0h5.8v48h-5.8zM1056.9 0h1.0v48h-1.0zM1059.0 0h1.0v48h-1.0zM1070.0 0h2.5v48h-2.5zM1077.5 0h3.6v48h-3.6zM1092.1 0h4.5v48h-4.5zM1101.6 0h1.0v48h-1.0zM1104.6 0h1.0v48h-1.0zM1107.6 0h3.0v48h-3.0zM1112.6 0h2.5v48h-2.5zM1118.1 0h2.0v48h-2.0zM1126.1 0h3.0v48h-3.0zM1130.1 0h2.0v48h-2.0zM1133.1 0h1.5v48h-1.5zM1135.6 0h1.0v48h-1.0zM1137.6 0h1.0v48h-1.0zM1143.6 0h1.5v48h-1.5zM1151.1 0h2.5v48h-2.5zM1155.6 0h1.0v48h-1.0zM1164.6 0h4.0v48h-4.0zM1171.1 0h1.0v48h-1.0zM1172.5 0h1.0v48h-1.0zM1177.5 0h1.5v48h-1.5zM1195.5 0h1.0v48h-1.0zM1200.8 0h2.5v48h-2.5zM1204.3 0h4.0v48h-4.0zM1213.8 0h7.5v48h-7.5zM1222.3 0h1.0v48h-1.0zM1224.3 0h9.0v48h-9.0zM1238.3 0h4.5v48h-4.5zM1244.8 0h4.0v48h-4.0zM1253.8 0h3.0v48h-3.0zM1263.8 0h3.0v48h-3.0zM1269.3 0h4.0v48h-4.0zM1276.3 0h4.5v48h-4.5zM1287.8 0h1.0v48h-1.0zM1291.8 0h1.0v48h-1.0zM1297.3 0h1.0v48h-1.0zM1301.3 0h6.0v48h-6.0zM1308.3 0h2.5v48h-2.5zM1313.8 0h1.5v48h-1.5zM1317.4 0h1.0v48h-1.0zM1324.4 0h13.5v48h-13.5zM1340.4 0h4.0v48h-4.0zM1346.4 0h8.0v48h-8.0zM1355.4 0h6.0v48h-6.0zM1361.6 0h1.0v48h-1.0zM1364.6 0h4.5v48h-4.5zM1378.1 0h1.5v48h-1.5zM1381.1 0h2.5v48h-2.5zM1384.6 0h7.0v48h-7.0zM1392.6 0h1.5v48h-1.5zM1395.1 0h7.3v48h-7.3zM1407.4 0h2.5v48h-2.5zM1416.4 0h3.5v48h-3.5zM1425.4 0h2.5v48h-2.5zM1435.4 0h4.5v48h-4.5zM1444.4 0h10.0v48h-10.0zM1466.6 0h3.0v48h-3.0zM1470.6 0h2.5v48h-2.5zM1476.6 0h1.0v48h-1.0zM1480.1 0h3.5v48h-3.5zM1484.6 0h5.5v48h-5.5zM1491.1 0h9.5v48h-9.5zM1501.6 0h1.0v48h-1.0zM1505.6 0h1.0v48h-1.0zM1507.6 0h3.5v48h-3.5zM1513.1 0h5.0v48h-5.0zM1527.1 0h2.5v48h-2.5zM1534.6 0h1.0v48h-1.0zM1539.0 0h1.0v48h-1.0zM1543.0 0h1.0v48h-1.0zM1553.0 0h1.0v48h-1.0zM1562.0 0h3.5v48h-3.5zM1569.0 0h1.0v48h-1.0zM1571.0 0h1.0v48h-1.0zM1575.0 0h1.0v48h-1.0zM1579.5 0h1.0v48h-1.0zM1588.0 0h0.4v48h-0.4zM1625.8 0h5.0v48h-5.0zM1634.3 0h1.0v48h-1.0zM1636.3 0h2.5v48h-2.5zM1639.8 0h2.5v48h-2.5zM1643.3 0h1.0v48h-1.0zM1648.3 0h2.5v48h-2.5zM1653.3 0h7.5v48h-7.5zM1676.0 0h1.0v48h-1.0zM1678.5 0h1.0v48h-1.0zM1683.5 0h1.0v48h-1.0zM1686.5 0h2.0v48h-2.0zM1701.2 0h1.0v48h-1.0zM1705.2 0h2.5v48h-2.5zM1711.2 0h1.5v48h-1.5zM1713.7 0h1.0v48h-1.0zM1718.2 0h2.0v48h-2.0zM1722.2 0h2.0v48h-2.0zM1733.2 0h2.5v48h-2.5zM1737.7 0h2.5v48h-2.5zM1742.2 0h1.0v48h-1.0zM1753.8 0h2.5v48h-2.5zM1774.8 0h1.5v48h-1.5zM1790.3 0h2.5v48h-2.5zM1794.8 0h2.0v48h-2.0zM1812.3 0h1.0v48h-1.0zM1821.3 0h1.5v48h-1.5zM1839.8 0h2.0v48h-2.0zM1842.8 0h5.5v48h-5.5zM1857.8 0h1.0v48h-1.0zM1860.8 0h1.0v48h-1.0zM1864.8 0h1.0v48h-1.0zM1869.8 0h1.0v48h-1.0zM1876.3 0h2.0v48h-2.0zM1881.3 0h1.0v48h-1.0zM1884.3 0h3.5v48h-3.5zM1892.8 0h1.0v48h-1.0zM1894.8 0h3.0v48h-3.0zM1904.3 0h1.0v48h-1.0zM1906.3 0h2.0v48h-2.0zM1910.8 0h1.0v48h-1.0zM1915.8 0h2.5v48h-2.5zM1922.8 0h4.0v48h-4.0zM1939.8 0h1.0v48h-1.0zM1947.8 0h4.0v48h-4.0zM1952.8 0h2.7v48h-2.7zM1960.5 0h1.0v48h-1.0zM1966.5 0h4.5v48h-4.5zM1975.0 0h1.0v48h-1.0zM1978.5 0h1.0v48h-1.0zM1983.0 0h1.0v48h-1.0zM1988.5 0h1.0v48h-1.0zM1993.0 0h4.5v48h-4.5zM2002.0 0h3.9v48h-3.9zM2007.9 0h1.0v48h-1.0zM2012.9 0h1.5v48h-1.5zM2023.4 0h5.0v48h-5.0zM2036.9 0h1.5v48h-1.5zM2039.4 0h3.5v48h-3.5zM2045.4 0h5.5v48h-5.5zM2055.9 0h3.0v48h-3.0zM2066.4 0h1.0v48h-1.0zM2076.9 0h5.0v48h-5.0zM2088.4 0h1.0v48h-1.0zM2090.4 0h0.6v48h-0.6zM2096.5 0h1.0v48h-1.0zM2098.5 0h1.0v48h-1.0zM2110.0 0h2.5v48h-2.5zM2115.0 0h1.0v48h-1.0zM2122.0 0h1.0v48h-1.0zM2127.5 0h1.0v48h-1.0zM2130.0 0h4.5v48h-4.5zM2139.0 0h1.0v48h-1.0zM2144.0 0h0.6v48h-0.6zM2164.5 0h1.0v48h-1.0zM2167.0 0h1.0v48h-1.0zM2173.5 0h2.5v48h-2.5zM2205.0 0h1.0v48h-1.0zM2209.0 0h1.8v48h-1.8zM2222.8 0h1.0v48h-1.0zM2235.3 0h1.5v48h-1.5zM2238.3 0h1.0v48h-1.0zM2244.3 0h1.0v48h-1.0zM2264.8 0h1.0v48h-1.0zM2266.8 0h1.0v48h-1.0zM2270.3 0h3.5v48h-3.5zM2277.8 0h1.0v48h-1.0zM2287.3 0h1.5v48h-1.5zM2296.3 0h1.0v48h-1.0zM2299.3 0h1.0v48h-1.0zM2316.3 0h1.7v48h-1.7zM2377.2 0h1.0v48h-1.0zM2383.7 0h3.0v48h-3.0zM2407.7 0h1.0v48h-1.0z"/><path fill="#8f8f8f" d="M970.1 0h4.0v48h-4.0zM984.6 0h4.0v48h-4.0zM995.1 0h1.5v48h-1.5zM1007.1 0h1.0v48h-1.0zM1020.6 0h1.0v48h-1.0zM1039.6 0h1.0v48h-1.0zM1060.0 0h3.0v48h-3.0zM1064.0 0h2.5v48h-2.5zM1069.0 0h1.0v48h-1.0zM1097.6 0h1.0v48h-1.0zM1106.6 0h1.0v48h-1.0zM1117.1 0h1.0v48h-1.0zM1120.1 0h1.0v48h-1.0zM1125.1 0h1.0v48h-1.0zM1129.1 0h1.0v48h-1.0zM1134.6 0h1.0v48h-1.0zM1136.6 0h1.0v48h-1.0zM1156.6 0h1.0v48h-1.0zM1163.6 0h1.0v48h-1.0zM1168.6 0h1.0v48h-1.0zM1172.1 0h0.4v48h-0.4zM1173.5 0h1.5v48h-1.5zM1184.0 0h1.0v48h-1.0zM1189.0 0h1.5v48h-1.5zM1192.0 0h3.5v48h-3.5zM1209.3 0h1.5v48h-1.5zM1223.3 0h1.0v48h-1.0zM1233.3 0h4.0v48h-4.0zM1243.8 0h1.0v48h-1.0zM1248.8 0h5.0v48h-5.0zM1273.3 0h1.0v48h-1.0zM1275.3 0h1.0v48h-1.0zM1280.8 0h3.0v48h-3.0zM1285.8 0h1.0v48h-1.0zM1293.8 0h2.0v48h-2.0zM1310.8 0h1.0v48h-1.0zM1315.3 0h1.0v48h-1.0zM1317.3 0h0.1v48h-0.1zM1319.4 0h5.0v48h-5.0zM1337.9 0h2.5v48h-2.5zM1344.4 0h2.0v48h-2.0zM1363.6 0h1.0v48h-1.0zM1369.1 0h9.0v48h-9.0zM1383.6 0h1.0v48h-1.0zM1391.6 0h1.0v48h-1.0zM1394.1 0h1.0v48h-1.0zM1402.4 0h1.0v48h-1.0zM1410.9 0h1.0v48h-1.0zM1413.4 0h1.0v48h-1.0zM1415.4 0h1.0v48h-1.0zM1423.4 0h1.0v48h-1.0zM1428.9 0h1.0v48h-1.0zM1433.4 0h1.0v48h-1.0zM1454.4 0h0.2v48h-0.2zM1473.1 0h1.0v48h-1.0zM1475.1 0h1.5v48h-1.5zM1477.6 0h1.5v48h-1.5zM1483.6 0h1.0v48h-1.0zM1490.1 0h1.0v48h-1.0zM1502.6 0h3.0v48h-3.0zM1506.6 0h1.0v48h-1.0zM1512.1 0h1.0v48h-1.0zM1521.1 0h3.5v48h-3.5zM1538.0 0h1.0v48h-1.0zM1546.5 0h1.0v48h-1.0zM1551.0 0h1.0v48h-1.0zM1556.5 0h3.5v48h-3.5zM1566.5 0h1.5v48h-1.5zM1570.0 0h1.0v48h-1.0zM1587.0 0h1.0v48h-1.0zM1598.9 0h1.0v48h-1.0zM1610.9 0h1.5v48h-1.5zM1613.4 0h1.0v48h-1.0zM1616.8 0h9.0v48h-9.0zM1638.8 0h1.0v48h-1.0zM1651.8 0h1.5v48h-1.5zM1668.6 0h1.0v48h-1.0zM1671.6 0h2.0v48h-2.0zM1674.6 0h0.5v48h-0.5zM1679.5 0h3.0v48h-3.0zM1684.5 0h2.0v48h-2.0zM1692.5 0h4.0v48h-4.0zM1697.5 0h3.7v48h-3.7zM1702.2 0h3.0v48h-3.0zM1720.2 0h1.0v48h-1.0zM1724.2 0h2.0v48h-2.0zM1727.7 0h1.0v48h-1.0zM1730.7 0h2.5v48h-2.5zM1735.7 0h1.0v48h-1.0zM1744.2 0h3.3v48h-3.3zM1763.8 0h1.0v48h-1.0zM1765.8 0h1.0v48h-1.0zM1767.8 0h1.0v48h-1.0zM1773.3 0h1.5v48h-1.5zM1776.3 0h3.5v48h-3.5zM1784.3 0h3.0v48h-3.0zM1788.3 0h1.0v48h-1.0zM1799.3 0h1.5v48h-1.5zM1801.8 0h4.5v48h-4.5zM1813.3 0h1.0v48h-1.0zM1816.8 0h2.0v48h-2.0zM1822.8 0h3.5v48h-3.5zM1829.3 0h3.5v48h-3.5zM1834.8 0h1.0v48h-1.0zM1838.8 0h1.0v48h-1.0zM1856.8 0h1.0v48h-1.0zM1858.8 0h2.0v48h-2.0zM1865.8 0h1.0v48h-1.0zM1867.8 0h2.0v48h-2.0zM1878.3 0h3.0v48h-3.0zM1882.3 0h1.0v48h-1.0zM1897.8 0h1.0v48h-1.0zM1909.3 0h1.5v48h-1.5zM1912.8 0h1.0v48h-1.0zM1921.8 0h1.0v48h-1.0zM1927.8 0h3.0v48h-3.0zM1934.8 0h2.0v48h-2.0zM1938.8 0h1.0v48h-1.0zM1942.8 0h2.5v48h-2.5zM1951.8 0h1.0v48h-1.0zM1961.5 0h1.0v48h-1.0zM1964.0 0h1.5v48h-1.5zM1990.5 0h1.5v48h-1.5zM2008.9 0h1.0v48h-1.0zM2014.4 0h1.0v48h-1.0zM2016.9 0h1.0v48h-1.0zM2018.9 0h1.0v48h-1.0zM2020.9 0h1.0v48h-1.0zM2028.4 0h1.5v48h-1.5zM2031.9 0h1.0v48h-1.0zM2050.9 0h2.5v48h-2.5zM2061.4 0h1.0v48h-1.0zM2073.4 0h1.0v48h-1.0zM2075.4 0h1.5v48h-1.5zM2081.9 0h2.0v48h-2.0zM2095.5 0h1.0v48h-1.0zM2107.0 0h3.0v48h-3.0zM2116.0 0h3.5v48h-3.5zM2128.5 0h1.5v48h-1.5zM2134.5 0h1.0v48h-1.0zM2137.0 0h1.0v48h-1.0zM2140.0 0h1.0v48h-1.0zM2143.0 0h1.0v48h-1.0zM2171.0 0h2.5v48h-2.5zM2176.0 0h1.0v48h-1.0zM2179.5 0h2.0v48h-2.0zM2190.0 0h3.5v48h-3.5zM2197.0 0h2.5v48h-2.5zM2202.0 0h3.0v48h-3.0zM2221.8 0h1.0v48h-1.0zM2236.8 0h1.5v48h-1.5zM2247.3 0h3.0v48h-3.0zM2265.8 0h1.0v48h-1.0zM2274.8 0h1.5v48h-1.5zM2297.3 0h1.0v48h-1.0zM2301.3 0h1.5v48h-1.5zM2309.8 0h1.5v48h-1.5zM2313.3 0h2.0v48h-2.0zM2320.9 0h1.0v48h-1.0zM2334.9 0h1.0v48h-1.0zM2336.9 0h1.0v48h-1.0zM2348.9 0h1.0v48h-1.0zM2367.2 0h1.0v48h-1.0zM2386.7 0h1.0v48h-1.0zM2391.7 0h1.0v48h-1.0zM2412.7 0h1.0v48h-1.0z"/><path fill="#3eb0e5" d="M1046.4 0h10.5v48h-10.5zM1057.9 0h1.1v48h-1.1zM1063.0 0h1.0v48h-1.0zM1066.5 0h2.5v48h-2.5zM1072.5 0h5.0v48h-5.0zM1096.6 0h1.0v48h-1.0zM1099.6 0h2.0v48h-2.0zM1111.6 0h1.0v48h-1.0zM1121.1 0h1.0v48h-1.0zM1140.6 0h1.0v48h-1.0zM1142.6 0h1.0v48h-1.0zM1148.1 0h3.0v48h-3.0zM1154.6 0h1.0v48h-1.0zM1162.6 0h1.0v48h-1.0zM1169.6 0h1.5v48h-1.5zM1186.5 0h1.5v48h-1.5zM1199.0 0h1.9v48h-1.9zM1283.8 0h2.0v48h-2.0zM1318.4 0h1.0v48h-1.0zM1354.4 0h1.0v48h-1.0zM1361.4 0h0.1v48h-0.1zM1474.1 0h1.0v48h-1.0zM1479.1 0h1.0v48h-1.0zM1511.1 0h1.0v48h-1.0zM1529.6 0h5.0v48h-5.0zM1537.6 0h0.5v48h-0.5zM1541.0 0h1.0v48h-1.0zM1552.0 0h1.0v48h-1.0zM1554.0 0h2.5v48h-2.5zM1561.0 0h1.0v48h-1.0zM1565.5 0h1.0v48h-1.0zM1568.0 0h1.0v48h-1.0zM1572.0 0h2.0v48h-2.0zM1576.0 0h3.5v48h-3.5zM1581.5 0h4.5v48h-4.5zM1603.4 0h1.5v48h-1.5zM1612.4 0h1.0v48h-1.0zM1614.4 0h2.0v48h-2.0zM1642.3 0h1.0v48h-1.0zM1645.3 0h3.0v48h-3.0zM1661.8 0h3.3v48h-3.3zM1666.1 0h1.5v48h-1.5zM1669.6 0h1.0v48h-1.0zM1688.5 0h1.0v48h-1.0zM1690.5 0h2.0v48h-2.0zM1696.5 0h1.0v48h-1.0zM1707.7 0h3.5v48h-3.5zM1714.7 0h1.0v48h-1.0zM1716.7 0h1.5v48h-1.5zM1721.2 0h1.0v48h-1.0zM1740.2 0h1.0v48h-1.0zM1743.2 0h1.0v48h-1.0zM1747.5 0h6.3v48h-6.3zM1760.3 0h3.5v48h-3.5zM1771.3 0h2.0v48h-2.0zM1781.8 0h1.0v48h-1.0zM1787.3 0h1.0v48h-1.0zM1792.8 0h2.0v48h-2.0zM1796.8 0h1.0v48h-1.0zM1835.8 0h3.0v48h-3.0zM1841.8 0h1.0v48h-1.0zM1848.3 0h3.0v48h-3.0zM1852.3 0h1.0v48h-1.0zM1862.8 0h2.0v48h-2.0zM1870.8 0h1.0v48h-1.0zM1872.8 0h1.0v48h-1.0zM1883.3 0h1.0v48h-1.0zM1888.8 0h1.0v48h-1.0zM1891.8 0h1.0v48h-1.0zM1893.8 0h1.0v48h-1.0zM1898.8 0h3.5v48h-3.5zM1914.8 0h1.0v48h-1.0zM1918.3 0h3.5v48h-3.5zM1926.8 0h1.0v48h-1.0zM1931.8 0h3.0v48h-3.0zM1936.8 0h2.0v48h-2.0zM1940.8 0h2.0v48h-2.0zM1962.5 0h1.5v48h-1.5zM1984.0 0h1.5v48h-1.5zM1989.5 0h1.0v48h-1.0zM1999.0 0h2.0v48h-2.0zM2017.9 0h1.0v48h-1.0zM2030.9 0h1.0v48h-1.0zM2064.4 0h2.0v48h-2.0zM2071.4 0h2.0v48h-2.0zM2083.9 0h1.5v48h-1.5zM2092.0 0h1.5v48h-1.5zM2106.0 0h1.0v48h-1.0zM2112.5 0h2.5v48h-2.5zM2119.5 0h1.0v48h-1.0zM2123.0 0h2.0v48h-2.0zM2141.0 0h1.0v48h-1.0zM2163.5 0h1.0v48h-1.0zM2168.0 0h2.0v48h-2.0zM2178.0 0h1.5v48h-1.5zM2181.5 0h2.0v48h-2.0zM2193.5 0h3.5v48h-3.5zM2227.3 0h1.0v48h-1.0zM2257.8 0h1.0v48h-1.0zM2267.8 0h2.5v48h-2.5zM2276.3 0h1.5v48h-1.5zM2288.8 0h2.5v48h-2.5zM2312.3 0h1.0v48h-1.0zM2315.3 0h1.0v48h-1.0zM2317.9 0h3.0v48h-3.0zM2333.9 0h1.0v48h-1.0zM2350.9 0h2.0v48h-2.0z"/><path fill="#a94fba" d="M1087.6 0h4.5v48h-4.5zM1098.6 0h1.0v48h-1.0zM1105.6 0h1.0v48h-1.0zM1110.6 0h1.0v48h-1.0zM1122.1 0h3.0v48h-3.0zM1139.6 0h1.0v48h-1.0zM1158.6 0h1.0v48h-1.0zM1181.5 0h2.5v48h-2.5zM1185.0 0h1.5v48h-1.5zM1188.0 0h1.0v48h-1.0zM1197.5 0h1.5v48h-1.5zM1208.3 0h1.0v48h-1.0zM1257.8 0h1.0v48h-1.0zM1261.8 0h1.0v48h-1.0zM1267.8 0h1.5v48h-1.5zM1286.8 0h1.0v48h-1.0zM1298.3 0h1.0v48h-1.0zM1307.3 0h1.0v48h-1.0zM1406.4 0h1.0v48h-1.0zM1409.9 0h1.0v48h-1.0zM1411.9 0h1.5v48h-1.5zM1414.4 0h1.0v48h-1.0zM1419.9 0h1.0v48h-1.0zM1429.9 0h1.0v48h-1.0zM1545.0 0h1.5v48h-1.5zM1580.5 0h1.0v48h-1.0zM1597.9 0h1.0v48h-1.0zM1599.9 0h3.5v48h-3.5zM1604.9 0h2.5v48h-2.5zM1712.7 0h1.0v48h-1.0zM1715.7 0h1.0v48h-1.0zM1726.2 0h1.5v48h-1.5zM1736.7 0h1.0v48h-1.0zM1741.2 0h1.0v48h-1.0zM1759.3 0h1.0v48h-1.0zM1764.8 0h1.0v48h-1.0zM1766.8 0h1.0v48h-1.0zM1770.3 0h1.0v48h-1.0zM1779.8 0h1.0v48h-1.0zM1789.3 0h1.0v48h-1.0zM1797.8 0h1.5v48h-1.5zM1808.3 0h4.0v48h-4.0zM1814.3 0h2.5v48h-2.5zM1820.3 0h1.0v48h-1.0zM1832.8 0h2.0v48h-2.0zM1851.3 0h1.0v48h-1.0zM1853.3 0h3.5v48h-3.5zM1866.8 0h1.0v48h-1.0zM1871.8 0h1.0v48h-1.0zM1887.8 0h1.0v48h-1.0zM1908.3 0h1.0v48h-1.0zM1930.8 0h1.0v48h-1.0zM1945.3 0h2.5v48h-2.5zM1973.0 0h1.0v48h-1.0zM1979.5 0h3.5v48h-3.5zM1985.5 0h3.0v48h-3.0zM1992.0 0h1.0v48h-1.0zM2001.0 0h1.0v48h-1.0zM2009.9 0h1.0v48h-1.0zM2021.9 0h1.5v48h-1.5zM2029.9 0h1.0v48h-1.0zM2032.9 0h4.0v48h-4.0zM2042.9 0h2.5v48h-2.5zM2053.4 0h2.5v48h-2.5zM2058.9 0h2.5v48h-2.5zM2062.4 0h2.0v48h-2.0zM2067.4 0h4.0v48h-4.0zM2074.4 0h1.0v48h-1.0zM2087.4 0h1.0v48h-1.0zM2089.4 0h1.0v48h-1.0zM2091.0 0h1.0v48h-1.0zM2093.5 0h2.0v48h-2.0zM2097.5 0h1.0v48h-1.0zM2099.5 0h6.5v48h-6.5zM2120.5 0h1.5v48h-1.5zM2125.0 0h2.5v48h-2.5zM2135.5 0h1.5v48h-1.5zM2138.0 0h1.0v48h-1.0zM2142.0 0h1.0v48h-1.0zM2144.6 0h18.9v48h-18.9zM2170.0 0h1.0v48h-1.0zM2183.5 0h6.5v48h-6.5zM2199.5 0h1.0v48h-1.0zM2206.0 0h3.0v48h-3.0zM2210.8 0h11.0v48h-11.0zM2223.8 0h3.5v48h-3.5zM2228.3 0h7.0v48h-7.0zM2239.3 0h5.0v48h-5.0zM2245.3 0h2.0v48h-2.0zM2250.3 0h7.5v48h-7.5zM2258.8 0h6.0v48h-6.0zM2273.8 0h1.0v48h-1.0zM2278.8 0h8.5v48h-8.5zM2291.3 0h5.0v48h-5.0zM2298.3 0h1.0v48h-1.0zM2300.3 0h1.0v48h-1.0zM2302.8 0h7.0v48h-7.0zM2311.3 0h1.0v48h-1.0zM2321.9 0h1.0v48h-1.0zM2323.9 0h2.5v48h-2.5zM2327.4 0h6.5v48h-6.5zM2340.9 0h4.0v48h-4.0zM2346.4 0h2.5v48h-2.5zM2354.4 0h1.0v48h-1.0zM2355.7 0h11.5v48h-11.5zM2370.2 0h7.0v48h-7.0zM2378.2 0h5.5v48h-5.5zM2387.7 0h4.0v48h-4.0zM2392.7 0h3.5v48h-3.5zM2397.7 0h10.0v48h-10.0zM2408.7 0h4.0v48h-4.0zM2413.7 0h11.3v48h-11.3z"/><path fill="#e8744a" d="M1115.1 0h1.0v48h-1.0zM1132.1 0h1.0v48h-1.0zM1145.1 0h3.0v48h-3.0zM1153.6 0h1.0v48h-1.0zM1159.6 0h1.0v48h-1.0zM1180.0 0h1.5v48h-1.5zM1203.3 0h1.0v48h-1.0zM1212.8 0h1.0v48h-1.0zM1242.8 0h1.0v48h-1.0zM1292.8 0h1.0v48h-1.0zM1316.3 0h1.0v48h-1.0zM1420.9 0h2.5v48h-2.5zM1430.9 0h1.5v48h-1.5zM1434.4 0h1.0v48h-1.0zM1439.9 0h1.5v48h-1.5zM1670.6 0h1.0v48h-1.0zM1780.8 0h1.0v48h-1.0zM1903.3 0h1.0v48h-1.0zM1905.3 0h1.0v48h-1.0z"/><path fill="#1bb29a" d="M1116.1 0h1.0v48h-1.0zM1138.6 0h1.0v48h-1.0zM1175.0 0h2.5v48h-2.5zM1179.0 0h1.0v48h-1.0zM1190.5 0h1.5v48h-1.5zM1196.5 0h1.0v48h-1.0zM1861.8 0h1.0v48h-1.0zM1874.8 0h1.5v48h-1.5zM1890.8 0h1.0v48h-1.0zM1902.3 0h1.0v48h-1.0zM1911.8 0h1.0v48h-1.0zM1955.5 0h1.0v48h-1.0zM1971.0 0h2.0v48h-2.0zM1997.5 0h1.5v48h-1.5zM2005.9 0h2.0v48h-2.0zM2010.9 0h2.0v48h-2.0zM2015.4 0h1.5v48h-1.5zM2019.9 0h1.0v48h-1.0zM2085.4 0h1.0v48h-1.0zM2326.4 0h1.0v48h-1.0zM2335.9 0h1.0v48h-1.0zM2344.9 0h1.5v48h-1.5zM2352.9 0h1.5v48h-1.5z"/><path fill="#e2594b" d="M1454.5 0h1.5v48h-1.5zM1459.3 0h6.3v48h-6.3zM1588.5 0h9.5v48h-9.5zM1607.4 0h3.5v48h-3.5zM1616.4 0h0.4v48h-0.4zM1673.6 0h1.0v48h-1.0zM1689.5 0h1.0v48h-1.0zM1956.5 0h4.0v48h-4.0zM1965.5 0h1.0v48h-1.0zM1974.0 0h1.0v48h-1.0zM1976.0 0h2.5v48h-2.5z"/><path fill="#96b57c" d="M2322.9 0h1.0v48h-1.0zM2337.9 0h3.0v48h-3.0zM2349.9 0h1.0v48h-1.0zM2355.4 0h0.3v48h-0.3z"/></svg>
<div class="b" style="left:955px;top:456px;width:1470px;height:48px;background:repeating-linear-gradient(90deg,transparent 0 5px,rgba(255,255,255,.12) 5px 6px,transparent 6px 9px,rgba(255,255,255,.1) 9px 10px,transparent 10px 17px,rgba(255,255,255,.12) 17px 18px,transparent 18px 21px);"></div>
<svg style="left:0;top:516px" width="2425" height="48" viewBox="0 0 2425 48"><path fill="#7581b7" d="M955.0 0h12.0v48h-12.0zM968.5 0h1.5v48h-1.5zM974.5 0h3.5v48h-3.5zM979.0 0h1.0v48h-1.0zM983.5 0h1.5v48h-1.5zM993.0 0h1.0v48h-1.0zM995.0 0h2.5v48h-2.5zM1002.0 0h1.0v48h-1.0zM1004.5 0h1.0v48h-1.0zM1009.0 0h1.0v48h-1.0zM1018.5 0h1.0v48h-1.0zM1021.8 0h1.0v48h-1.0zM1023.8 0h6.0v48h-6.0zM1046.3 0h1.5v48h-1.5zM1053.5 0h5.0v48h-5.0zM1059.5 0h1.0v48h-1.0zM1061.5 0h7.0v48h-7.0zM1070.5 0h8.0v48h-8.0zM1080.0 0h2.0v48h-2.0zM1084.0 0h8.0v48h-8.0zM1095.5 0h7.5v48h-7.5zM1107.5 0h1.0v48h-1.0zM1113.0 0h2.0v48h-2.0zM1123.6 0h1.6v48h-1.6zM1126.8 0h2.2v48h-2.2zM1136.2 0h2.2v48h-2.2zM1140.9 0h1.9v48h-1.9zM1146.0 0h1.9v48h-1.9zM1152.3 0h1.9v48h-1.9zM1158.7 0h5.0v48h-5.0zM1194.7 0h1.0v48h-1.0zM1204.6 0h1.5v48h-1.5zM1211.1 0h1.0v48h-1.0zM1216.1 0h4.0v48h-4.0zM1221.1 0h1.0v48h-1.0zM1227.1 0h1.0v48h-1.0zM1230.1 0h6.0v48h-6.0zM1242.6 0h2.0v48h-2.0zM1250.1 0h1.0v48h-1.0zM1259.1 0h1.0v48h-1.0zM1262.6 0h1.0v48h-1.0zM1265.6 0h3.5v48h-3.5zM1274.3 0h1.0v48h-1.0zM1276.8 0h1.5v48h-1.5zM1280.3 0h1.5v48h-1.5zM1284.3 0h4.5v48h-4.5zM1291.8 0h1.0v48h-1.0zM1293.8 0h1.0v48h-1.0zM1296.8 0h5.0v48h-5.0zM1305.8 0h1.0v48h-1.0zM1309.8 0h2.5v48h-2.5zM1322.8 0h1.0v48h-1.0zM1324.8 0h1.0v48h-1.0zM1334.8 0h6.3v48h-6.3zM1354.7 0h2.5v48h-2.5zM1360.2 0h3.5v48h-3.5zM1369.7 0h6.0v48h-6.0zM1376.7 0h2.0v48h-2.0zM1380.2 0h11.5v48h-11.5zM1396.2 0h14.0v48h-14.0zM1416.6 0h4.5v48h-4.5zM1425.6 0h4.0v48h-4.0zM1431.6 0h3.0v48h-3.0zM1437.1 0h10.0v48h-10.0zM1452.6 0h2.0v48h-2.0zM1455.6 0h4.0v48h-4.0zM1461.6 0h6.5v48h-6.5zM1471.6 0h2.5v48h-2.5zM1476.1 0h1.0v48h-1.0zM1483.1 0h1.5v48h-1.5zM1488.1 0h8.5v48h-8.5zM1497.6 0h1.0v48h-1.0zM1502.6 0h0.8v48h-0.8zM1523.3 0h2.5v48h-2.5zM1530.8 0h2.5v48h-2.5zM1550.3 0h1.5v48h-1.5zM1553.8 0h2.0v48h-2.0zM1573.8 0h1.0v48h-1.0zM1576.3 0h2.0v48h-2.0zM1579.8 0h1.0v48h-1.0zM1591.3 0h1.0v48h-1.0zM1593.3 0h1.0v48h-1.0zM1595.3 0h2.0v48h-2.0zM1607.4 0h1.5v48h-1.5zM1609.9 0h1.5v48h-1.5zM1620.4 0h2.5v48h-2.5zM1628.9 0h0.6v48h-0.6zM1633.4 0h7.0v48h-7.0zM1644.4 0h8.0v48h-8.0zM1654.9 0h1.0v48h-1.0zM1660.4 0h1.0v48h-1.0zM1669.9 0h2.5v48h-2.5zM1674.9 0h0.2v48h-0.2zM1677.0 0h5.5v48h-5.5zM1684.0 0h1.0v48h-1.0zM1688.5 0h1.0v48h-1.0zM1690.5 0h6.6v48h-6.6zM1700.8 0h1.0v48h-1.0zM1702.8 0h9.0v48h-9.0zM1714.8 0h8.0v48h-8.0zM1723.8 0h1.0v48h-1.0zM1729.8 0h1.5v48h-1.5zM1733.3 0h2.5v48h-2.5zM1736.8 0h1.0v48h-1.0zM1740.8 0h3.0v48h-3.0zM1746.3 0h3.5v48h-3.5zM1751.8 0h4.0v48h-4.0zM1759.3 0h4.5v48h-4.5zM1781.5 0h3.0v48h-3.0zM1791.0 0h1.0v48h-1.0zM1801.0 0h1.0v48h-1.0zM1803.0 0h3.0v48h-3.0zM1810.5 0h1.0v48h-1.0zM1813.5 0h3.5v48h-3.5zM1824.5 0h1.7v48h-1.7zM1827.3 0h4.0v48h-4.0zM1832.3 0h4.0v48h-4.0zM1837.3 0h5.5v48h-5.5zM1845.8 0h10.0v48h-10.0zM1857.3 0h3.0v48h-3.0zM1861.8 0h1.0v48h-1.0zM1868.3 0h4.5v48h-4.5zM1877.3 0h1.0v48h-1.0zM1879.8 0h1.0v48h-1.0zM1881.8 0h10.0v48h-10.0zM1894.8 0h1.8v48h-1.8zM1899.1 0h1.0v48h-1.0zM1901.1 0h1.0v48h-1.0zM1907.6 0h4.5v48h-4.5zM1930.9 0h1.5v48h-1.5zM1939.4 0h3.0v48h-3.0zM1950.4 0h5.1v48h-5.1zM1966.0 0h2.0v48h-2.0zM1969.0 0h4.0v48h-4.0zM1980.0 0h2.5v48h-2.5zM1990.5 0h1.0v48h-1.0zM1992.5 0h1.0v48h-1.0zM1996.5 0h2.5v48h-2.5zM2012.5 0h6.0v48h-6.0zM2019.5 0h2.2v48h-2.2zM2022.7 0h3.0v48h-3.0zM2027.7 0h1.0v48h-1.0zM2029.7 0h1.5v48h-1.5zM2037.2 0h1.0v48h-1.0zM2039.2 0h2.5v48h-2.5zM2056.2 0h3.0v48h-3.0zM2060.2 0h6.0v48h-6.0zM2072.2 0h3.0v48h-3.0zM2077.2 0h1.0v48h-1.0zM2082.7 0h2.0v48h-2.0zM2084.7 0h1.5v48h-1.5zM2098.7 0h2.0v48h-2.0zM2117.2 0h1.0v48h-1.0zM2119.2 0h1.0v48h-1.0zM2127.7 0h4.5v48h-4.5zM2134.7 0h1.0v48h-1.0zM2137.7 0h1.5v48h-1.5zM2141.2 0h4.0v48h-4.0zM2153.2 0h1.0v48h-1.0zM2214.0 0h4.0v48h-4.0zM2260.9 0h2.0v48h-2.0zM2264.9 0h1.0v48h-1.0zM2266.9 0h0.6v48h-0.6zM2286.4 0h4.5v48h-4.5zM2306.4 0h2.0v48h-2.0zM2312.9 0h1.5v48h-1.5zM2315.4 0h1.0v48h-1.0zM2323.9 0h1.0v48h-1.0zM2325.9 0h1.0v48h-1.0zM2327.9 0h1.0v48h-1.0zM2330.5 0h4.5v48h-4.5zM2336.0 0h1.0v48h-1.0zM2338.5 0h1.0v48h-1.0zM2340.5 0h1.0v48h-1.0zM2356.5 0h1.0v48h-1.0zM2363.0 0h1.0v48h-1.0zM2378.4 0h1.5v48h-1.5zM2384.9 0h1.0v48h-1.0zM2399.9 0h1.0v48h-1.0zM2408.9 0h1.0v48h-1.0zM2411.9 0h1.0v48h-1.0zM2413.9 0h1.0v48h-1.0zM2417.4 0h1.0v48h-1.0z"/><path fill="#3eb0e5" d="M967.0 0h1.5v48h-1.5zM970.0 0h4.5v48h-4.5zM978.0 0h1.0v48h-1.0zM980.0 0h3.5v48h-3.5zM985.0 0h8.0v48h-8.0zM994.0 0h1.0v48h-1.0zM997.5 0h4.5v48h-4.5zM1003.0 0h1.5v48h-1.5zM1005.5 0h3.5v48h-3.5zM1010.0 0h8.5v48h-8.5zM1019.5 0h0.1v48h-0.1zM1030.8 0h3.0v48h-3.0zM1035.8 0h4.0v48h-4.0zM1041.8 0h2.0v48h-2.0zM1045.3 0h1.0v48h-1.0zM1047.8 0h1.0v48h-1.0zM1051.5 0h2.0v48h-2.0zM1058.5 0h1.0v48h-1.0zM1068.5 0h2.0v48h-2.0zM1092.0 0h3.5v48h-3.5zM1108.5 0h2.5v48h-2.5zM1115.0 0h3.0v48h-3.0zM1172.2 0h1.0v48h-1.0zM1177.7 0h1.0v48h-1.0zM1180.7 0h2.0v48h-2.0zM1183.7 0h3.5v48h-3.5zM1208.1 0h2.0v48h-2.0zM1212.1 0h2.0v48h-2.0zM1244.6 0h2.5v48h-2.5zM1249.1 0h1.0v48h-1.0zM1260.1 0h2.5v48h-2.5zM1264.6 0h1.0v48h-1.0zM1273.3 0h1.0v48h-1.0zM1275.3 0h1.5v48h-1.5zM1278.3 0h1.0v48h-1.0zM1283.3 0h1.0v48h-1.0zM1294.8 0h2.0v48h-2.0zM1307.8 0h1.0v48h-1.0zM1312.3 0h1.0v48h-1.0zM1317.3 0h1.0v48h-1.0zM1320.8 0h1.0v48h-1.0zM1328.8 0h1.2v48h-1.2zM1359.2 0h1.0v48h-1.0zM1378.7 0h1.5v48h-1.5zM1513.8 0h9.5v48h-9.5zM1525.8 0h5.0v48h-5.0zM1533.3 0h1.0v48h-1.0zM1535.3 0h9.0v48h-9.0zM1547.8 0h2.5v48h-2.5zM1556.8 0h1.5v48h-1.5zM1559.3 0h3.0v48h-3.0zM1563.3 0h5.0v48h-5.0zM1574.8 0h1.5v48h-1.5zM1578.3 0h1.5v48h-1.5zM1580.8 0h2.0v48h-2.0zM1588.8 0h1.5v48h-1.5zM1597.3 0h0.6v48h-0.6zM1643.4 0h1.0v48h-1.0zM1665.9 0h1.0v48h-1.0zM1668.9 0h1.0v48h-1.0zM1672.4 0h1.0v48h-1.0zM1676.0 0h1.0v48h-1.0zM1687.5 0h1.0v48h-1.0zM1689.5 0h1.0v48h-1.0zM1722.8 0h1.0v48h-1.0zM1731.3 0h2.0v48h-2.0zM1739.8 0h1.0v48h-1.0zM1743.8 0h1.5v48h-1.5zM1749.8 0h1.0v48h-1.0zM1755.8 0h3.5v48h-3.5zM1766.3 0h1.0v48h-1.0zM1777.0 0h1.5v48h-1.5zM1780.5 0h1.0v48h-1.0zM1793.0 0h3.5v48h-3.5zM1797.5 0h3.5v48h-3.5zM1817.0 0h3.5v48h-3.5zM1842.8 0h2.0v48h-2.0zM1855.8 0h1.5v48h-1.5zM1865.3 0h1.0v48h-1.0zM1872.8 0h1.0v48h-1.0zM1876.3 0h1.0v48h-1.0zM1892.8 0h1.0v48h-1.0zM1902.1 0h5.5v48h-5.5zM1914.1 0h3.0v48h-3.0zM1918.1 0h6.5v48h-6.5zM1927.6 0h1.0v48h-1.0zM1932.4 0h5.0v48h-5.0zM1944.9 0h1.0v48h-1.0zM1946.9 0h1.0v48h-1.0zM1989.5 0h1.0v48h-1.0zM1991.5 0h1.0v48h-1.0zM1995.5 0h1.0v48h-1.0zM2002.0 0h2.5v48h-2.5zM2009.0 0h1.0v48h-1.0zM2021.7 0h1.0v48h-1.0zM2026.7 0h1.0v48h-1.0zM2034.7 0h1.5v48h-1.5zM2045.2 0h1.5v48h-1.5zM2050.2 0h3.0v48h-3.0zM2066.2 0h1.0v48h-1.0zM2086.2 0h1.0v48h-1.0zM2088.2 0h7.5v48h-7.5zM2096.7 0h1.0v48h-1.0zM2100.7 0h1.0v48h-1.0zM2104.2 0h2.5v48h-2.5zM2108.7 0h7.5v48h-7.5zM2118.2 0h1.0v48h-1.0zM2120.2 0h3.0v48h-3.0zM2132.2 0h1.5v48h-1.5zM2146.7 0h4.5v48h-4.5zM2154.2 0h1.0v48h-1.0zM2156.2 0h4.1v48h-4.1zM2195.0 0h1.0v48h-1.0zM2197.0 0h4.0v48h-4.0zM2204.0 0h1.0v48h-1.0zM2209.5 0h1.0v48h-1.0zM2211.5 0h1.0v48h-1.0zM2262.9 0h1.0v48h-1.0zM2280.1 0h6.3v48h-6.3zM2326.9 0h1.0v48h-1.0zM2335.0 0h1.0v48h-1.0zM2339.5 0h1.0v48h-1.0zM2345.5 0h1.0v48h-1.0zM2349.5 0h1.0v48h-1.0zM2358.5 0h4.5v48h-4.5zM2400.9 0h1.5v48h-1.5zM2412.9 0h1.0v48h-1.0z"/><path fill="#1bb29a" d="M1022.8 0h1.0v48h-1.0zM1033.8 0h1.0v48h-1.0zM1048.8 0h0.7v48h-0.7zM1157.7 0h1.0v48h-1.0zM1179.7 0h1.0v48h-1.0zM1193.2 0h1.5v48h-1.5zM1225.1 0h1.0v48h-1.0zM1301.8 0h3.0v48h-3.0zM1308.8 0h1.0v48h-1.0zM1415.6 0h1.0v48h-1.0zM1447.1 0h3.0v48h-3.0zM1468.1 0h2.0v48h-2.0zM1512.8 0h1.0v48h-1.0zM1534.3 0h1.0v48h-1.0zM1545.3 0h1.5v48h-1.5zM1555.8 0h1.0v48h-1.0zM1585.3 0h2.5v48h-2.5zM1711.8 0h3.0v48h-3.0zM1724.8 0h1.0v48h-1.0zM1737.8 0h1.0v48h-1.0zM1767.3 0h1.0v48h-1.0zM1826.3 0h1.0v48h-1.0zM1867.3 0h1.0v48h-1.0zM1874.8 0h1.5v48h-1.5zM1962.0 0h1.0v48h-1.0zM1975.5 0h2.5v48h-2.5zM2004.5 0h2.5v48h-2.5zM2018.5 0h1.0v48h-1.0z"/><path fill="#ecc044" d="M1029.8 0h1.0v48h-1.0zM1034.8 0h1.0v48h-1.0zM1200.8 0h3.8v48h-3.8zM1288.8 0h3.0v48h-3.0zM1292.8 0h1.0v48h-1.0zM1306.8 0h1.0v48h-1.0zM1325.8 0h3.0v48h-3.0zM1330.0 0h4.7v48h-4.7zM1422.6 0h3.0v48h-3.0zM1459.6 0h2.0v48h-2.0zM1504.4 0h8.5v48h-8.5zM1546.8 0h1.0v48h-1.0zM1551.8 0h1.0v48h-1.0zM1569.3 0h3.5v48h-3.5zM1611.4 0h1.0v48h-1.0zM1613.4 0h1.0v48h-1.0zM1619.4 0h1.0v48h-1.0zM1622.9 0h2.0v48h-2.0zM1640.4 0h3.0v48h-3.0zM1778.5 0h2.0v48h-2.0zM1796.5 0h1.0v48h-1.0zM1802.0 0h1.0v48h-1.0zM1808.5 0h1.0v48h-1.0zM1823.0 0h1.5v48h-1.5zM1862.8 0h2.5v48h-2.5zM1893.8 0h1.0v48h-1.0zM1937.4 0h2.0v48h-2.0zM1943.9 0h1.0v48h-1.0zM1945.9 0h1.0v48h-1.0zM1947.9 0h1.5v48h-1.5zM1957.0 0h1.0v48h-1.0zM1963.0 0h1.0v48h-1.0zM1986.5 0h1.0v48h-1.0zM2000.0 0h1.0v48h-1.0zM2203.0 0h1.0v48h-1.0zM2207.0 0h2.5v48h-2.5zM2218.0 0h1.0v48h-1.0z"/><path fill="#96b57c" d="M1039.8 0h1.0v48h-1.0zM1279.3 0h1.0v48h-1.0zM1318.3 0h1.5v48h-1.5zM1341.1 0h12.6v48h-12.6zM1503.4 0h1.0v48h-1.0zM1787.0 0h1.0v48h-1.0zM1809.5 0h1.0v48h-1.0zM1974.5 0h1.0v48h-1.0zM1982.5 0h1.0v48h-1.0zM1984.5 0h1.0v48h-1.0zM1999.0 0h1.0v48h-1.0zM2011.5 0h1.0v48h-1.0zM2053.2 0h3.0v48h-3.0zM2059.2 0h1.0v48h-1.0zM2353.5 0h3.0v48h-3.0zM2368.0 0h0.3v48h-0.3zM2393.4 0h1.5v48h-1.5z"/><path fill="#e8744a" d="M1040.8 0h1.0v48h-1.0zM1043.8 0h1.5v48h-1.5zM1049.5 0h1.0v48h-1.0zM1105.0 0h1.0v48h-1.0zM1118.0 0h2.4v48h-2.4zM1188.2 0h1.0v48h-1.0zM1220.1 0h1.0v48h-1.0zM1222.1 0h3.0v48h-3.0zM1228.1 0h2.0v48h-2.0zM1239.1 0h1.0v48h-1.0zM1248.1 0h1.0v48h-1.0zM1552.8 0h1.0v48h-1.0zM1568.3 0h1.0v48h-1.0zM1582.8 0h1.0v48h-1.0zM1594.3 0h1.0v48h-1.0zM1608.9 0h1.0v48h-1.0zM1614.4 0h1.0v48h-1.0zM1624.9 0h1.0v48h-1.0zM1632.4 0h1.0v48h-1.0zM1656.9 0h2.5v48h-2.5zM1942.4 0h1.5v48h-1.5zM1949.4 0h1.0v48h-1.0zM1955.5 0h1.5v48h-1.5zM1959.0 0h3.0v48h-3.0zM1973.0 0h1.5v48h-1.5zM1993.5 0h2.0v48h-2.0z"/><path fill="#8f8f8f" d="M1050.5 0h1.0v48h-1.0zM1060.5 0h1.0v48h-1.0zM1103.0 0h1.0v48h-1.0zM1111.0 0h1.0v48h-1.0zM1163.7 0h3.0v48h-3.0zM1167.7 0h4.5v48h-4.5zM1173.2 0h4.5v48h-4.5zM1178.7 0h1.0v48h-1.0zM1182.7 0h1.0v48h-1.0zM1190.2 0h3.0v48h-3.0zM1195.7 0h4.5v48h-4.5zM1206.1 0h2.0v48h-2.0zM1210.1 0h1.0v48h-1.0zM1214.1 0h1.0v48h-1.0zM1240.1 0h2.5v48h-2.5zM1247.1 0h1.0v48h-1.0zM1254.6 0h4.5v48h-4.5zM1263.6 0h1.0v48h-1.0zM1269.1 0h3.5v48h-3.5zM1281.8 0h1.5v48h-1.5zM1304.8 0h1.0v48h-1.0zM1313.3 0h4.0v48h-4.0zM1319.8 0h1.0v48h-1.0zM1321.8 0h1.0v48h-1.0zM1323.8 0h1.0v48h-1.0zM1353.7 0h1.0v48h-1.0zM1357.2 0h2.0v48h-2.0zM1363.7 0h3.0v48h-3.0zM1391.7 0h3.5v48h-3.5zM1410.2 0h0.2v48h-0.2zM1412.6 0h3.0v48h-3.0zM1421.1 0h1.5v48h-1.5zM1429.6 0h2.0v48h-2.0zM1434.6 0h2.5v48h-2.5zM1450.1 0h2.5v48h-2.5zM1454.6 0h1.0v48h-1.0zM1470.1 0h1.5v48h-1.5zM1474.1 0h2.0v48h-2.0zM1477.1 0h6.0v48h-6.0zM1484.6 0h3.5v48h-3.5zM1496.6 0h1.0v48h-1.0zM1498.6 0h4.0v48h-4.0zM1544.3 0h1.0v48h-1.0zM1558.3 0h1.0v48h-1.0zM1562.3 0h1.0v48h-1.0zM1572.8 0h1.0v48h-1.0zM1583.8 0h1.5v48h-1.5zM1587.8 0h1.0v48h-1.0zM1590.3 0h1.0v48h-1.0zM1592.3 0h1.0v48h-1.0zM1629.4 0h3.0v48h-3.0zM1652.4 0h2.5v48h-2.5zM1655.9 0h1.0v48h-1.0zM1661.4 0h4.5v48h-4.5zM1673.4 0h1.5v48h-1.5zM1675.0 0h1.0v48h-1.0zM1682.5 0h1.5v48h-1.5zM1685.0 0h2.5v48h-2.5zM1701.8 0h1.0v48h-1.0zM1725.8 0h4.0v48h-4.0zM1735.8 0h1.0v48h-1.0zM1738.8 0h1.0v48h-1.0zM1745.3 0h1.0v48h-1.0zM1750.8 0h1.0v48h-1.0zM1763.8 0h2.5v48h-2.5zM1768.3 0h2.2v48h-2.2zM1771.5 0h1.0v48h-1.0zM1773.5 0h1.0v48h-1.0zM1775.5 0h1.5v48h-1.5zM1789.0 0h2.0v48h-2.0zM1806.0 0h2.5v48h-2.5zM1812.5 0h1.0v48h-1.0zM1820.5 0h2.5v48h-2.5zM1831.3 0h1.0v48h-1.0zM1836.3 0h1.0v48h-1.0zM1844.8 0h1.0v48h-1.0zM1860.3 0h1.5v48h-1.5zM1866.3 0h1.0v48h-1.0zM1873.8 0h1.0v48h-1.0zM1878.3 0h1.5v48h-1.5zM1880.8 0h1.0v48h-1.0zM1891.8 0h1.0v48h-1.0zM1958.0 0h1.0v48h-1.0zM1964.0 0h1.0v48h-1.0zM1968.0 0h1.0v48h-1.0zM1978.0 0h2.0v48h-2.0zM1985.5 0h1.0v48h-1.0zM2001.0 0h1.0v48h-1.0zM2010.0 0h1.5v48h-1.5zM2031.2 0h3.5v48h-3.5zM2036.2 0h1.0v48h-1.0zM2038.2 0h1.0v48h-1.0zM2069.7 0h2.5v48h-2.5zM2075.2 0h1.0v48h-1.0zM2151.2 0h1.0v48h-1.0zM2176.1 0h9.5v48h-9.5zM2201.0 0h1.0v48h-1.0zM2206.0 0h1.0v48h-1.0zM2219.0 0h2.5v48h-2.5zM2223.4 0h11.0v48h-11.0zM2337.0 0h1.5v48h-1.5zM2342.5 0h3.0v48h-3.0zM2372.9 0h3.5v48h-3.5zM2377.4 0h1.0v48h-1.0zM2391.9 0h1.5v48h-1.5zM2395.9 0h2.0v48h-2.0zM2409.9 0h2.0v48h-2.0zM2414.9 0h1.5v48h-1.5z"/><path fill="#a94fba" d="M1078.5 0h1.5v48h-1.5zM1082.0 0h2.0v48h-2.0zM1104.0 0h1.0v48h-1.0zM1106.0 0h1.5v48h-1.5zM1112.0 0h1.0v48h-1.0zM1156.7 0h1.0v48h-1.0zM1166.7 0h1.0v48h-1.0zM1187.2 0h1.0v48h-1.0zM1189.2 0h1.0v48h-1.0zM1200.2 0h0.6v48h-0.6zM1215.1 0h1.0v48h-1.0zM1226.1 0h1.0v48h-1.0zM1236.1 0h3.0v48h-3.0zM1251.1 0h3.5v48h-3.5zM1272.6 0h0.7v48h-0.7zM1366.7 0h3.0v48h-3.0zM1375.7 0h1.0v48h-1.0zM1395.2 0h1.0v48h-1.0zM1597.9 0h9.5v48h-9.5zM1612.4 0h1.0v48h-1.0zM1615.4 0h4.0v48h-4.0zM1625.9 0h3.0v48h-3.0zM1659.4 0h1.0v48h-1.0zM1666.9 0h2.0v48h-2.0zM1770.5 0h1.0v48h-1.0zM1772.5 0h1.0v48h-1.0zM1774.5 0h1.0v48h-1.0zM1784.5 0h2.5v48h-2.5zM1788.0 0h1.0v48h-1.0zM1792.0 0h1.0v48h-1.0zM1811.5 0h1.0v48h-1.0zM1896.6 0h2.5v48h-2.5zM1900.1 0h1.0v48h-1.0zM1912.1 0h2.0v48h-2.0zM1917.1 0h1.0v48h-1.0zM1924.6 0h3.0v48h-3.0zM1928.6 0h0.1v48h-0.1zM1965.0 0h1.0v48h-1.0zM1983.5 0h1.0v48h-1.0zM1987.5 0h2.0v48h-2.0zM2007.0 0h2.0v48h-2.0zM2025.7 0h1.0v48h-1.0zM2028.7 0h1.0v48h-1.0zM2041.7 0h3.5v48h-3.5zM2046.7 0h3.5v48h-3.5zM2067.2 0h2.5v48h-2.5zM2076.2 0h1.0v48h-1.0zM2078.2 0h4.5v48h-4.5zM2084.7 0h0.0v48h-0.0zM2087.2 0h1.0v48h-1.0zM2095.7 0h1.0v48h-1.0zM2097.7 0h1.0v48h-1.0zM2101.7 0h2.5v48h-2.5zM2106.7 0h2.0v48h-2.0zM2116.2 0h1.0v48h-1.0zM2123.2 0h4.5v48h-4.5zM2133.7 0h1.0v48h-1.0zM2135.7 0h2.0v48h-2.0zM2139.2 0h2.0v48h-2.0zM2145.2 0h1.5v48h-1.5zM2152.2 0h1.0v48h-1.0zM2155.2 0h1.0v48h-1.0zM2160.3 0h15.8v48h-15.8zM2185.6 0h9.5v48h-9.5zM2196.0 0h1.0v48h-1.0zM2202.0 0h1.0v48h-1.0zM2205.0 0h1.0v48h-1.0zM2210.5 0h1.0v48h-1.0zM2212.5 0h1.5v48h-1.5zM2221.5 0h1.9v48h-1.9zM2234.4 0h26.5v48h-26.5zM2263.9 0h1.0v48h-1.0zM2265.9 0h1.0v48h-1.0zM2267.5 0h12.6v48h-12.6zM2290.9 0h15.5v48h-15.5zM2308.4 0h4.5v48h-4.5zM2314.4 0h1.0v48h-1.0zM2316.4 0h7.5v48h-7.5zM2324.9 0h1.0v48h-1.0zM2328.9 0h1.6v48h-1.6zM2341.5 0h1.0v48h-1.0zM2346.5 0h3.0v48h-3.0zM2350.5 0h3.0v48h-3.0zM2357.5 0h1.0v48h-1.0zM2364.0 0h4.0v48h-4.0zM2368.4 0h4.5v48h-4.5zM2376.4 0h1.0v48h-1.0zM2379.9 0h5.0v48h-5.0zM2385.9 0h6.0v48h-6.0zM2394.9 0h1.0v48h-1.0zM2397.9 0h2.0v48h-2.0zM2402.4 0h6.5v48h-6.5zM2416.4 0h1.0v48h-1.0zM2418.4 0h6.6v48h-6.6z"/><path fill="#e2594b" d="M1697.1 0h3.8v48h-3.8z"/></svg>
<div class="b" style="left:955px;top:516px;width:1470px;height:48px;background:repeating-linear-gradient(90deg,transparent 0 5px,rgba(255,255,255,.12) 5px 6px,transparent 6px 9px,rgba(255,255,255,.1) 9px 10px,transparent 10px 17px,rgba(255,255,255,.12) 17px 18px,transparent 18px 21px);"></div>
<svg style="left:0;top:576px" width="2425" height="48" viewBox="0 0 2425 48"><path fill="#8f8f8f" d="M955.0 0h27.1v48h-27.1zM984.0 0h16.1v48h-16.1zM1001.0 0h73.7v48h-73.7zM1802.1 0h2.0v48h-2.0zM1805.1 0h1.0v48h-1.0zM1811.1 0h1.0v48h-1.0zM1891.6 0h1.0v48h-1.0zM1901.1 0h1.0v48h-1.0zM1908.1 0h1.0v48h-1.0zM1913.6 0h1.0v48h-1.0zM1970.6 0h1.0v48h-1.0zM1983.6 0h2.0v48h-2.0zM1990.6 0h1.0v48h-1.0zM1995.6 0h0.8v48h-0.8zM2199.7 0h25.2v48h-25.2zM2232.5 0h4.5v48h-4.5zM2238.0 0h1.0v48h-1.0zM2259.6 0h9.5v48h-9.5z"/><path fill="#3eb0e5" d="M982.1 0h1.9v48h-1.9zM1101.7 0h1.0v48h-1.0zM1104.7 0h5.0v48h-5.0zM1118.2 0h1.0v48h-1.0zM1120.2 0h4.5v48h-4.5zM1125.7 0h1.0v48h-1.0zM1167.4 0h1.0v48h-1.0zM1225.3 0h1.0v48h-1.0zM1232.3 0h1.0v48h-1.0zM1259.1 0h1.5v48h-1.5zM1262.6 0h1.0v48h-1.0zM1265.6 0h1.0v48h-1.0zM1269.1 0h5.0v48h-5.0zM1279.1 0h3.0v48h-3.0zM1288.1 0h0.9v48h-0.9zM1296.6 0h3.5v48h-3.5zM1301.1 0h3.5v48h-3.5zM1310.1 0h1.0v48h-1.0zM1500.2 0h3.2v48h-3.2zM1545.9 0h4.7v48h-4.7zM1556.7 0h1.0v48h-1.0zM1562.2 0h3.5v48h-3.5zM1567.7 0h6.5v48h-6.5zM1580.2 0h6.5v48h-6.5zM1590.2 0h3.0v48h-3.0zM1598.2 0h3.0v48h-3.0zM1604.2 0h8.5v48h-8.5zM1613.7 0h1.0v48h-1.0zM1616.7 0h8.5v48h-8.5zM1642.0 0h2.5v48h-2.5zM1651.9 0h1.5v48h-1.5zM1671.4 0h1.0v48h-1.0zM1682.5 0h2.0v48h-2.0zM1686.5 0h1.0v48h-1.0zM1732.9 0h3.0v48h-3.0zM1738.4 0h1.0v48h-1.0zM1740.4 0h1.0v48h-1.0zM1747.4 0h0.1v48h-0.1zM1762.7 0h6.5v48h-6.5zM1771.1 0h9.5v48h-9.5zM1781.6 0h3.0v48h-3.0zM1786.6 0h7.5v48h-7.5zM1806.1 0h1.0v48h-1.0zM1808.1 0h1.0v48h-1.0zM1814.1 0h5.0v48h-5.0zM1821.6 0h1.0v48h-1.0zM1835.6 0h1.0v48h-1.0zM1838.6 0h2.0v48h-2.0zM1861.6 0h5.0v48h-5.0zM1869.6 0h3.0v48h-3.0zM1879.6 0h3.5v48h-3.5zM1884.1 0h1.5v48h-1.5zM1892.6 0h1.0v48h-1.0zM1896.1 0h5.0v48h-5.0zM1917.1 0h2.0v48h-2.0zM1933.1 0h2.0v48h-2.0zM1936.1 0h7.0v48h-7.0zM1948.1 0h1.0v48h-1.0zM1951.6 0h3.0v48h-3.0zM1960.6 0h6.0v48h-6.0zM1967.6 0h2.0v48h-2.0zM1971.6 0h6.0v48h-6.0zM1980.1 0h3.5v48h-3.5zM1985.6 0h4.0v48h-4.0zM1991.6 0h4.0v48h-4.0zM2003.0 0h1.0v48h-1.0zM2005.5 0h24.0v48h-24.0zM2030.5 0h3.0v48h-3.0zM2037.0 0h1.0v48h-1.0zM2041.5 0h1.0v48h-1.0zM2045.0 0h9.0v48h-9.0zM2056.5 0h9.5v48h-9.5zM2069.0 0h14.5v48h-14.5zM2086.0 0h7.5v48h-7.5zM2094.5 0h3.0v48h-3.0zM2098.5 0h2.5v48h-2.5zM2105.0 0h5.0v48h-5.0zM2119.4 0h1.0v48h-1.0zM2125.4 0h1.0v48h-1.0zM2137.9 0h3.0v48h-3.0zM2141.9 0h3.0v48h-3.0zM2145.9 0h1.0v48h-1.0zM2150.9 0h1.0v48h-1.0zM2170.9 0h1.5v48h-1.5zM2195.9 0h2.0v48h-2.0zM2229.5 0h3.0v48h-3.0zM2241.0 0h18.7v48h-18.7zM2275.6 0h4.0v48h-4.0zM2280.6 0h1.0v48h-1.0zM2345.9 0h1.0v48h-1.0zM2352.4 0h1.0v48h-1.0zM2354.4 0h2.0v48h-2.0zM2381.4 0h1.0v48h-1.0zM2385.9 0h1.0v48h-1.0zM2389.9 0h1.5v48h-1.5zM2408.9 0h1.0v48h-1.0zM2412.4 0h1.0v48h-1.0z"/><path fill="#96b57c" d="M1000.1 0h0.9v48h-0.9zM1094.7 0h2.0v48h-2.0zM1099.7 0h2.0v48h-2.0zM1115.2 0h2.0v48h-2.0zM1124.7 0h1.0v48h-1.0zM1129.2 0h1.5v48h-1.5zM1131.7 0h1.4v48h-1.4zM1161.4 0h1.0v48h-1.0zM1163.4 0h4.0v48h-4.0zM1293.6 0h3.0v48h-3.0zM1550.7 0h1.0v48h-1.0zM1554.7 0h1.0v48h-1.0zM1560.2 0h1.0v48h-1.0zM1577.2 0h2.0v48h-2.0zM1597.2 0h1.0v48h-1.0zM1602.2 0h1.0v48h-1.0zM1614.7 0h1.0v48h-1.0zM1625.2 0h1.1v48h-1.1zM1655.4 0h3.0v48h-3.0zM1668.9 0h2.5v48h-2.5zM1735.9 0h1.5v48h-1.5zM1739.4 0h1.0v48h-1.0zM2274.6 0h1.0v48h-1.0zM2279.6 0h1.0v48h-1.0zM2284.6 0h12.9v48h-12.9z"/><path fill="#a94fba" d="M1074.8 0h12.5v48h-12.5zM1088.8 0h4.9v48h-4.9zM1103.7 0h1.0v48h-1.0zM1110.7 0h1.0v48h-1.0zM1117.2 0h1.0v48h-1.0zM1126.7 0h2.5v48h-2.5zM1139.7 0h3.1v48h-3.1zM1145.4 0h1.9v48h-1.9zM1162.4 0h1.0v48h-1.0zM1168.4 0h4.0v48h-4.0zM1226.3 0h3.0v48h-3.0zM1231.3 0h1.0v48h-1.0zM1551.7 0h3.0v48h-3.0zM1565.7 0h2.0v48h-2.0zM1574.2 0h3.0v48h-3.0zM1579.2 0h1.0v48h-1.0zM1593.2 0h3.0v48h-3.0zM1780.6 0h1.0v48h-1.0zM1784.6 0h2.0v48h-2.0zM1794.1 0h8.0v48h-8.0zM1804.1 0h1.0v48h-1.0zM1807.1 0h1.0v48h-1.0zM1809.1 0h1.0v48h-1.0zM1812.1 0h2.0v48h-2.0zM1819.1 0h2.5v48h-2.5zM1822.6 0h3.0v48h-3.0zM1826.6 0h9.0v48h-9.0zM1836.6 0h1.0v48h-1.0zM1840.6 0h9.5v48h-9.5zM1851.1 0h4.0v48h-4.0zM1856.1 0h4.5v48h-4.5zM1872.6 0h7.0v48h-7.0zM1888.6 0h3.0v48h-3.0zM1893.6 0h2.5v48h-2.5zM1902.1 0h6.0v48h-6.0zM1909.1 0h3.0v48h-3.0zM1915.6 0h1.5v48h-1.5zM1919.1 0h5.0v48h-5.0zM1925.1 0h5.5v48h-5.5zM1935.1 0h1.0v48h-1.0zM1943.1 0h5.0v48h-5.0zM1949.1 0h2.5v48h-2.5zM1954.6 0h6.0v48h-6.0zM1966.6 0h1.0v48h-1.0zM1969.6 0h1.0v48h-1.0zM1977.6 0h2.5v48h-2.5zM1989.6 0h1.0v48h-1.0zM1996.5 0h6.5v48h-6.5zM2004.0 0h1.5v48h-1.5zM2029.5 0h1.0v48h-1.0zM2033.5 0h3.5v48h-3.5zM2038.0 0h3.5v48h-3.5zM2042.5 0h2.5v48h-2.5zM2054.0 0h2.5v48h-2.5zM2066.0 0h3.0v48h-3.0zM2083.5 0h2.5v48h-2.5zM2093.5 0h1.0v48h-1.0zM2097.5 0h1.0v48h-1.0zM2101.0 0h4.0v48h-4.0zM2109.9 0h9.5v48h-9.5zM2120.4 0h5.0v48h-5.0zM2127.9 0h10.0v48h-10.0zM2140.9 0h1.0v48h-1.0zM2144.9 0h1.0v48h-1.0zM2146.9 0h4.0v48h-4.0zM2151.9 0h19.0v48h-19.0zM2172.4 0h3.0v48h-3.0zM2177.4 0h8.5v48h-8.5zM2188.4 0h7.5v48h-7.5zM2197.9 0h1.8v48h-1.8zM2323.6 0h1.3v48h-1.3zM2338.4 0h7.5v48h-7.5zM2346.9 0h5.5v48h-5.5zM2353.4 0h1.0v48h-1.0zM2356.4 0h25.0v48h-25.0zM2382.4 0h3.5v48h-3.5zM2386.9 0h3.0v48h-3.0zM2391.4 0h17.5v48h-17.5zM2409.9 0h2.5v48h-2.5zM2413.4 0h11.6v48h-11.6z"/><path fill="#e8744a" d="M1087.3 0h1.5v48h-1.5zM1093.7 0h1.0v48h-1.0zM1098.7 0h1.0v48h-1.0zM1102.7 0h1.0v48h-1.0zM1111.7 0h1.0v48h-1.0zM1113.7 0h1.5v48h-1.5zM1130.7 0h1.0v48h-1.0zM1138.7 0h1.0v48h-1.0zM1185.0 0h1.5v48h-1.5zM1190.0 0h3.0v48h-3.0zM1197.0 0h3.5v48h-3.5zM1201.5 0h3.5v48h-3.5zM1268.1 0h1.0v48h-1.0zM1454.5 0h4.7v48h-4.7zM1462.3 0h3.5v48h-3.5zM1825.6 0h1.0v48h-1.0zM1855.1 0h1.0v48h-1.0zM1912.1 0h1.5v48h-1.5zM1914.6 0h1.0v48h-1.0zM1931.6 0h1.5v48h-1.5zM2126.4 0h1.5v48h-1.5zM2175.4 0h2.0v48h-2.0zM2185.9 0h2.5v48h-2.5z"/><path fill="#ecc044" d="M1096.7 0h2.0v48h-2.0zM1119.2 0h1.0v48h-1.0zM1172.5 0h12.5v48h-12.5zM1186.5 0h3.5v48h-3.5zM1193.0 0h4.1v48h-4.1zM1209.0 0h13.3v48h-13.3zM1233.3 0h3.0v48h-3.0zM1238.6 0h20.5v48h-20.5zM1266.6 0h1.5v48h-1.5zM1274.1 0h3.0v48h-3.0zM1282.1 0h1.0v48h-1.0zM1290.1 0h1.0v48h-1.0zM1340.4 0h1.3v48h-1.3zM1470.3 0h12.6v48h-12.6zM1493.9 0h6.3v48h-6.3zM1503.4 0h42.5v48h-42.5zM1561.2 0h1.0v48h-1.0zM1589.2 0h1.0v48h-1.0zM1603.2 0h1.0v48h-1.0zM1612.7 0h1.0v48h-1.0zM1626.3 0h3.2v48h-3.2zM1653.4 0h1.0v48h-1.0zM1658.4 0h2.0v48h-2.0zM1661.4 0h3.5v48h-3.5zM1672.4 0h1.0v48h-1.0zM1676.0 0h1.0v48h-1.0zM1678.5 0h4.0v48h-4.0zM1684.5 0h2.0v48h-2.0zM1687.5 0h1.5v48h-1.5zM1690.0 0h4.0v48h-4.0zM1695.5 0h5.7v48h-5.7zM1703.7 0h5.0v48h-5.0zM1709.7 0h23.2v48h-23.2zM1737.4 0h1.0v48h-1.0zM1741.4 0h6.0v48h-6.0zM1747.5 0h14.2v48h-14.2zM1810.1 0h1.0v48h-1.0zM1837.6 0h1.0v48h-1.0zM1850.1 0h1.0v48h-1.0zM1860.6 0h1.0v48h-1.0zM1866.6 0h3.0v48h-3.0zM1883.1 0h1.0v48h-1.0zM1885.6 0h3.0v48h-3.0zM1924.1 0h1.0v48h-1.0zM1930.6 0h1.0v48h-1.0zM2225.0 0h1.0v48h-1.0zM2237.0 0h1.0v48h-1.0zM2239.0 0h2.0v48h-2.0zM2269.1 0h5.5v48h-5.5zM2281.6 0h3.0v48h-3.0zM2297.4 0h26.2v48h-26.2zM2324.9 0h13.6v48h-13.6z"/><path fill="#7581b7" d="M1109.7 0h1.0v48h-1.0zM1112.7 0h1.0v48h-1.0zM1172.4 0h0.0v48h-0.0zM1222.3 0h3.0v48h-3.0zM1229.3 0h2.0v48h-2.0zM1236.3 0h2.3v48h-2.3zM1260.6 0h2.0v48h-2.0zM1263.6 0h2.0v48h-2.0zM1277.1 0h2.0v48h-2.0zM1283.1 0h5.0v48h-5.0zM1289.1 0h1.0v48h-1.0zM1291.1 0h2.5v48h-2.5zM1300.1 0h1.0v48h-1.0zM1304.6 0h5.5v48h-5.5zM1311.1 0h29.4v48h-29.4zM1341.7 0h112.8v48h-112.8zM1482.9 0h3.5v48h-3.5zM1493.4 0h0.5v48h-0.5zM1634.2 0h7.8v48h-7.8zM1649.4 0h2.5v48h-2.5zM1665.9 0h2.0v48h-2.0zM1761.7 0h1.0v48h-1.0zM1769.2 0h2.0v48h-2.0z"/><path fill="#e2594b" d="M1200.5 0h1.0v48h-1.0zM1205.0 0h4.0v48h-4.0zM1459.3 0h3.0v48h-3.0zM1465.8 0h4.5v48h-4.5zM1486.4 0h7.0v48h-7.0zM1555.7 0h1.0v48h-1.0zM1557.7 0h2.5v48h-2.5zM1586.7 0h2.5v48h-2.5zM1596.2 0h1.0v48h-1.0zM1601.2 0h1.0v48h-1.0zM1615.7 0h1.0v48h-1.0zM1648.4 0h1.0v48h-1.0zM1654.4 0h1.0v48h-1.0zM1660.4 0h1.0v48h-1.0zM1664.9 0h1.0v48h-1.0zM1667.9 0h1.0v48h-1.0zM1673.4 0h1.8v48h-1.8zM1675.0 0h1.0v48h-1.0zM1677.0 0h1.5v48h-1.5zM1689.0 0h1.0v48h-1.0zM1694.0 0h1.5v48h-1.5zM1701.2 0h2.5v48h-2.5zM1708.7 0h1.0v48h-1.0zM2226.0 0h3.5v48h-3.5z"/></svg>
<div class="b" style="left:955px;top:576px;width:1470px;height:48px;background:repeating-linear-gradient(90deg,transparent 0 5px,rgba(255,255,255,.12) 5px 6px,transparent 6px 9px,rgba(255,255,255,.1) 9px 10px,transparent 10px 17px,rgba(255,255,255,.12) 17px 18px,transparent 18px 21px);"></div>
<svg style="left:0;top:636px" width="2425" height="48" viewBox="0 0 2425 48"><path fill="#e8744a" d="M955.0 0h4.5v48h-4.5zM961.0 0h3.0v48h-3.0zM967.0 0h1.5v48h-1.5zM980.9 0h1.0v48h-1.0zM984.4 0h1.0v48h-1.0zM992.4 0h4.0v48h-4.0zM997.4 0h1.0v48h-1.0zM1011.4 0h2.5v48h-2.5zM1016.9 0h1.0v48h-1.0zM1023.9 0h1.0v48h-1.0zM1025.9 0h1.0v48h-1.0zM1036.4 0h1.5v48h-1.5zM1038.9 0h1.0v48h-1.0zM1447.5 0h1.0v48h-1.0zM1451.0 0h1.0v48h-1.0zM1453.0 0h1.0v48h-1.0zM1482.9 0h3.0v48h-3.0zM1486.9 0h1.0v48h-1.0zM1489.4 0h1.0v48h-1.0zM1493.4 0h0.6v48h-0.6zM1509.7 0h5.5v48h-5.5zM1518.7 0h5.0v48h-5.0zM1625.1 0h2.0v48h-2.0zM1628.1 0h3.0v48h-3.0z"/><path fill="#7581b7" d="M959.5 0h1.5v48h-1.5zM964.0 0h3.0v48h-3.0zM976.4 0h1.0v48h-1.0zM979.4 0h1.5v48h-1.5zM983.4 0h1.0v48h-1.0zM996.4 0h1.0v48h-1.0zM998.4 0h2.0v48h-2.0zM1018.9 0h1.0v48h-1.0zM1047.9 0h1.6v48h-1.6zM1136.8 0h1.9v48h-1.9zM1163.0 0h2.5v48h-2.5zM1175.5 0h0.1v48h-0.1zM1222.9 0h1.0v48h-1.0zM1224.9 0h2.7v48h-2.7zM1230.6 0h1.0v48h-1.0zM1235.1 0h1.5v48h-1.5zM1239.6 0h1.0v48h-1.0zM1248.6 0h4.0v48h-4.0zM1257.6 0h1.0v48h-1.0zM1259.6 0h5.0v48h-5.0zM1267.6 0h15.5v48h-15.5zM1286.1 0h5.0v48h-5.0zM1293.1 0h0.7v48h-0.7zM1304.7 0h2.0v48h-2.0zM1307.7 0h2.0v48h-2.0zM1313.7 0h1.5v48h-1.5zM1322.2 0h1.0v48h-1.0zM1324.2 0h6.0v48h-6.0zM1332.2 0h1.0v48h-1.0zM1334.2 0h1.0v48h-1.0zM1341.7 0h2.5v48h-2.5zM1366.9 0h1.9v48h-1.9zM1423.0 0h6.3v48h-6.3zM1436.9 0h1.0v48h-1.0zM1439.4 0h0.3v48h-0.3zM1446.0 0h1.5v48h-1.5zM1448.5 0h2.5v48h-2.5zM1636.7 0h2.2v48h-2.2z"/><path fill="#96b57c" d="M968.5 0h5.4v48h-5.4zM977.4 0h2.0v48h-2.0zM985.4 0h7.0v48h-7.0zM1000.4 0h11.0v48h-11.0zM1013.9 0h3.0v48h-3.0zM1017.9 0h1.0v48h-1.0zM1019.9 0h4.0v48h-4.0zM1027.9 0h8.5v48h-8.5zM1039.9 0h8.0v48h-8.0zM1063.8 0h1.5v48h-1.5zM1066.3 0h6.5v48h-6.5zM1082.3 0h2.0v48h-2.0zM1088.8 0h1.0v48h-1.0zM1312.2 0h1.5v48h-1.5zM1330.2 0h1.0v48h-1.0zM1333.2 0h1.0v48h-1.0zM1335.2 0h2.5v48h-2.5zM1527.0 0h10.5v48h-10.5zM1590.0 0h7.0v48h-7.0zM1599.5 0h1.0v48h-1.0zM1603.1 0h1.5v48h-1.5zM1617.6 0h1.0v48h-1.0zM1621.1 0h1.5v48h-1.5zM1725.4 0h1.0v48h-1.0zM1737.9 0h3.5v48h-3.5zM1750.9 0h1.3v48h-1.3zM1919.2 0h7.9v48h-7.9zM2288.0 0h30.9v48h-30.9zM2322.9 0h2.9v48h-2.9zM2374.7 0h6.3v48h-6.3z"/><path fill="#e2594b" d="M981.9 0h1.5v48h-1.5zM1024.9 0h1.0v48h-1.0zM1026.9 0h1.0v48h-1.0zM1037.9 0h1.0v48h-1.0zM1176.6 0h7.5v48h-7.5zM1199.2 0h12.6v48h-12.6zM1456.1 0h3.0v48h-3.0zM1469.6 0h1.0v48h-1.0zM1473.4 0h4.5v48h-4.5zM1485.9 0h1.0v48h-1.0zM1505.0 0h4.7v48h-4.7zM1515.2 0h3.5v48h-3.5zM1523.7 0h3.3v48h-3.3zM1624.1 0h1.0v48h-1.0zM1631.1 0h4.6v48h-4.6zM1661.4 0h5.9v48h-5.9zM1683.3 0h1.0v48h-1.0zM1686.3 0h4.5v48h-4.5zM1697.3 0h1.5v48h-1.5zM1700.2 0h1.0v48h-1.0zM1708.7 0h7.0v48h-7.0zM1716.7 0h3.5v48h-3.5zM1722.7 0h1.0v48h-1.0zM2109.0 0h1.0v48h-1.0zM2159.0 0h1.0v48h-1.0zM2161.0 0h1.0v48h-1.0zM2187.5 0h2.0v48h-2.0zM2194.0 0h1.0v48h-1.0zM2207.5 0h1.0v48h-1.0zM2209.2 0h10.5v48h-10.5zM2222.6 0h5.5v48h-5.5zM2356.4 0h1.0v48h-1.0z"/><path fill="#8f8f8f" d="M1053.3 0h10.5v48h-10.5zM1072.8 0h1.9v48h-1.9zM1265.6 0h2.0v48h-2.0zM1284.1 0h1.0v48h-1.0zM1291.1 0h1.0v48h-1.0z"/><path fill="#ecc044" d="M1065.3 0h1.0v48h-1.0zM1175.6 0h1.0v48h-1.0zM1184.1 0h15.1v48h-15.1zM1211.9 0h11.0v48h-11.0zM1227.6 0h3.0v48h-3.0zM1234.1 0h1.0v48h-1.0zM1241.6 0h5.5v48h-5.5zM1252.6 0h3.0v48h-3.0zM1256.6 0h0.9v48h-0.9zM1258.6 0h1.0v48h-1.0zM1264.6 0h1.0v48h-1.0zM1283.1 0h1.0v48h-1.0zM1285.1 0h1.0v48h-1.0zM1292.1 0h1.0v48h-1.0zM1293.8 0h10.9v48h-10.9zM1315.2 0h1.0v48h-1.0zM1318.2 0h4.0v48h-4.0zM1331.2 0h1.0v48h-1.0zM1337.7 0h4.0v48h-4.0zM1452.0 0h1.0v48h-1.0zM1454.0 0h2.1v48h-2.1zM1459.1 0h10.5v48h-10.5zM1470.6 0h2.8v48h-2.8zM1477.9 0h5.0v48h-5.0zM1487.9 0h1.5v48h-1.5zM1490.4 0h3.0v48h-3.0zM1493.9 0h11.0v48h-11.0zM1537.5 0h6.8v48h-6.8zM1545.3 0h3.0v48h-3.0zM1551.8 0h0.4v48h-0.4zM1601.1 0h2.0v48h-2.0zM1604.6 0h7.0v48h-7.0zM1612.6 0h5.0v48h-5.0zM1618.6 0h1.5v48h-1.5zM1623.1 0h1.0v48h-1.0zM1627.1 0h1.0v48h-1.0zM1659.4 0h2.0v48h-2.0zM1682.3 0h1.0v48h-1.0zM1685.3 0h1.0v48h-1.0zM1690.8 0h3.0v48h-3.0zM1701.2 0h7.5v48h-7.5zM1715.7 0h1.0v48h-1.0zM1720.2 0h2.5v48h-2.5zM1723.7 0h1.7v48h-1.7zM1726.4 0h11.5v48h-11.5zM1742.4 0h8.5v48h-8.5zM1752.2 0h11.0v48h-11.0zM2219.6 0h3.0v48h-3.0zM2230.6 0h1.0v48h-1.0zM2232.6 0h1.0v48h-1.0zM2242.6 0h1.5v48h-1.5zM2245.1 0h2.0v48h-2.0zM2268.6 0h1.0v48h-1.0zM2285.1 0h2.5v48h-2.5zM2318.9 0h4.0v48h-4.0zM2325.8 0h12.6v48h-12.6z"/><path fill="#a94fba" d="M1074.8 0h7.5v48h-7.5zM1084.3 0h4.5v48h-4.5zM1089.8 0h5.5v48h-5.5zM1100.7 0h1.0v48h-1.0zM1105.2 0h2.0v48h-2.0zM1108.2 0h1.0v48h-1.0zM1117.7 0h12.2v48h-12.2zM1170.5 0h5.0v48h-5.0zM1231.6 0h2.5v48h-2.5zM1236.6 0h2.0v48h-2.0zM1240.6 0h1.0v48h-1.0zM1247.1 0h1.5v48h-1.5zM1255.6 0h1.0v48h-1.0zM1344.2 0h17.3v48h-17.3zM1401.0 0h1.6v48h-1.6zM1648.4 0h3.8v48h-3.8zM1763.2 0h1.0v48h-1.0zM1769.2 0h2.0v48h-2.0zM1776.2 0h1.0v48h-1.0zM1779.7 0h2.0v48h-2.0zM1784.7 0h2.5v48h-2.5zM1788.2 0h2.5v48h-2.5zM1797.7 0h5.5v48h-5.5zM1810.7 0h2.0v48h-2.0zM1816.2 0h3.5v48h-3.5zM1820.7 0h2.0v48h-2.0zM1824.1 0h3.0v48h-3.0zM1838.6 0h1.0v48h-1.0zM1854.6 0h6.0v48h-6.0zM1863.6 0h1.0v48h-1.0zM1868.1 0h5.4v48h-5.4zM1874.6 0h5.0v48h-5.0zM1881.1 0h9.5v48h-9.5zM1899.6 0h1.0v48h-1.0zM1902.6 0h2.5v48h-2.5zM1909.1 0h2.0v48h-2.0zM1912.1 0h4.5v48h-4.5zM1927.1 0h8.5v48h-8.5zM1940.6 0h1.0v48h-1.0zM1944.1 0h3.5v48h-3.5zM1949.6 0h1.0v48h-1.0zM1952.1 0h4.0v48h-4.0zM1957.1 0h1.0v48h-1.0zM1960.1 0h1.0v48h-1.0zM1962.1 0h3.0v48h-3.0zM1966.1 0h1.5v48h-1.5zM1982.1 0h1.0v48h-1.0zM2001.1 0h1.0v48h-1.0zM2009.1 0h4.0v48h-4.0zM2027.6 0h1.0v48h-1.0zM2032.6 0h1.0v48h-1.0zM2034.6 0h4.0v48h-4.0zM2042.1 0h1.5v48h-1.5zM2066.1 0h1.0v48h-1.0zM2070.6 0h1.0v48h-1.0zM2072.6 0h1.0v48h-1.0zM2090.1 0h4.9v48h-4.9zM2097.5 0h6.5v48h-6.5zM2105.5 0h1.0v48h-1.0zM2121.0 0h19.5v48h-19.5zM2143.5 0h6.5v48h-6.5zM2151.0 0h8.0v48h-8.0zM2160.0 0h1.0v48h-1.0zM2166.0 0h3.0v48h-3.0zM2170.0 0h2.5v48h-2.5zM2175.0 0h12.5v48h-12.5zM2190.5 0h2.5v48h-2.5zM2195.0 0h6.0v48h-6.0zM2205.0 0h2.5v48h-2.5zM2208.5 0h0.7v48h-0.7zM2338.4 0h11.5v48h-11.5zM2351.9 0h4.5v48h-4.5zM2357.4 0h13.5v48h-13.5zM2372.9 0h1.7v48h-1.7zM2381.0 0h44.0v48h-44.0z"/><path fill="#1bb29a" d="M1095.2 0h5.5v48h-5.5zM1104.2 0h1.0v48h-1.0zM1110.2 0h1.5v48h-1.5zM1112.7 0h1.0v48h-1.0zM1145.7 0h1.9v48h-1.9zM1384.2 0h1.9v48h-1.9zM1387.7 0h2.2v48h-2.2zM1391.2 0h2.5v48h-2.5z"/><path fill="#3eb0e5" d="M1101.7 0h2.5v48h-2.5zM1107.2 0h1.0v48h-1.0zM1109.2 0h1.0v48h-1.0zM1111.7 0h1.0v48h-1.0zM1113.7 0h4.0v48h-4.0zM1165.5 0h5.0v48h-5.0zM1223.9 0h1.0v48h-1.0zM1238.6 0h1.0v48h-1.0zM1306.7 0h1.0v48h-1.0zM1309.7 0h2.5v48h-2.5zM1316.2 0h2.0v48h-2.0zM1323.2 0h1.0v48h-1.0zM1430.9 0h6.0v48h-6.0zM1437.9 0h1.5v48h-1.5zM1544.3 0h1.0v48h-1.0zM1548.3 0h3.5v48h-3.5zM1552.2 0h37.8v48h-37.8zM1597.0 0h2.5v48h-2.5zM1600.5 0h0.5v48h-0.5zM1611.6 0h1.0v48h-1.0zM1620.1 0h1.0v48h-1.0zM1622.6 0h0.6v48h-0.6zM1670.4 0h1.0v48h-1.0zM1681.3 0h1.0v48h-1.0zM1684.3 0h1.0v48h-1.0zM1693.8 0h3.5v48h-3.5zM1698.8 0h1.4v48h-1.4zM1741.4 0h1.0v48h-1.0zM1764.2 0h5.0v48h-5.0zM1771.2 0h5.0v48h-5.0zM1777.2 0h2.5v48h-2.5zM1781.7 0h3.0v48h-3.0zM1787.2 0h1.0v48h-1.0zM1790.7 0h7.0v48h-7.0zM1803.2 0h7.5v48h-7.5zM1812.7 0h3.5v48h-3.5zM1819.7 0h1.0v48h-1.0zM1822.7 0h1.4v48h-1.4zM1827.1 0h11.5v48h-11.5zM1839.6 0h15.0v48h-15.0zM1860.6 0h3.0v48h-3.0zM1864.6 0h3.5v48h-3.5zM1873.6 0h1.0v48h-1.0zM1879.6 0h1.5v48h-1.5zM1890.6 0h9.1v48h-9.1zM1900.6 0h2.0v48h-2.0zM1905.1 0h4.0v48h-4.0zM1911.1 0h1.0v48h-1.0zM1916.6 0h2.6v48h-2.6zM1935.6 0h5.0v48h-5.0zM1941.6 0h2.5v48h-2.5zM1947.6 0h2.0v48h-2.0zM1950.6 0h1.5v48h-1.5zM1956.1 0h1.0v48h-1.0zM1958.1 0h2.0v48h-2.0zM1961.1 0h1.0v48h-1.0zM1965.1 0h1.0v48h-1.0zM1967.6 0h14.5v48h-14.5zM1983.1 0h18.0v48h-18.0zM2002.1 0h7.0v48h-7.0zM2013.1 0h14.5v48h-14.5zM2028.6 0h4.0v48h-4.0zM2033.6 0h1.0v48h-1.0zM2038.6 0h3.5v48h-3.5zM2043.6 0h22.5v48h-22.5zM2067.1 0h3.5v48h-3.5zM2071.6 0h1.0v48h-1.0zM2073.6 0h16.5v48h-16.5zM2095.0 0h2.5v48h-2.5zM2104.0 0h1.5v48h-1.5zM2106.5 0h2.5v48h-2.5zM2110.0 0h11.0v48h-11.0zM2140.5 0h3.0v48h-3.0zM2150.0 0h1.0v48h-1.0zM2162.0 0h4.0v48h-4.0zM2169.0 0h1.0v48h-1.0zM2172.5 0h2.5v48h-2.5zM2189.5 0h1.0v48h-1.0zM2193.0 0h1.0v48h-1.0zM2201.0 0h4.0v48h-4.0zM2228.1 0h2.5v48h-2.5zM2231.6 0h1.0v48h-1.0zM2233.6 0h9.0v48h-9.0zM2244.1 0h1.0v48h-1.0zM2247.1 0h21.5v48h-21.5zM2269.6 0h15.5v48h-15.5zM2287.6 0h0.4v48h-0.4zM2349.9 0h2.0v48h-2.0zM2370.9 0h2.0v48h-2.0z"/><path fill="#27cde6" d="M1638.9 0h2.5v48h-2.5zM1674.4 0h0.7v48h-0.7zM1677.5 0h3.8v48h-3.8z"/></svg>
<div class="b" style="left:955px;top:636px;width:1470px;height:48px;background:repeating-linear-gradient(90deg,transparent 0 5px,rgba(255,255,255,.12) 5px 6px,transparent 6px 9px,rgba(255,255,255,.1) 9px 10px,transparent 10px 17px,rgba(255,255,255,.12) 17px 18px,transparent 18px 21px);"></div>
<svg style="left:0;top:696px" width="2425" height="48" viewBox="0 0 2425 48"><path fill="#7581b7" d="M955.0 0h11.0v48h-11.0zM977.0 0h1.0v48h-1.0zM987.0 0h2.5v48h-2.5zM1003.0 0h1.5v48h-1.5zM1025.0 0h1.0v48h-1.0zM1031.5 0h0.7v48h-0.7zM1078.1 0h2.5v48h-2.5zM1112.6 0h1.0v48h-1.0zM1114.6 0h1.0v48h-1.0zM1175.6 0h1.5v48h-1.5zM1186.1 0h1.5v48h-1.5zM1190.1 0h3.0v48h-3.0zM1198.7 0h1.5v48h-1.5zM1202.2 0h1.0v48h-1.0zM1206.7 0h5.5v48h-5.5zM1226.2 0h2.5v48h-2.5zM1234.2 0h1.5v48h-1.5zM1254.5 0h5.5v48h-5.5zM1262.5 0h1.0v48h-1.0zM1280.7 0h3.0v48h-3.0zM1285.7 0h6.0v48h-6.0zM1293.7 0h5.0v48h-5.0zM1307.7 0h3.0v48h-3.0zM1311.7 0h5.5v48h-5.5zM1326.2 0h1.5v48h-1.5zM1329.2 0h7.0v48h-7.0zM1338.7 0h1.0v48h-1.0zM1340.7 0h5.1v48h-5.1zM1464.6 0h4.0v48h-4.0zM1660.4 0h3.0v48h-3.0zM1665.4 0h1.0v48h-1.0zM1667.4 0h1.0v48h-1.0zM1674.9 0h0.3v48h-0.3zM1684.0 0h1.0v48h-1.0zM1688.5 0h2.5v48h-2.5zM1695.5 0h2.0v48h-2.0zM1699.5 0h3.5v48h-3.5zM1706.5 0h1.0v48h-1.0zM1950.2 0h1.0v48h-1.0zM1965.2 0h4.5v48h-4.5zM1977.2 0h1.0v48h-1.0zM1980.7 0h2.0v48h-2.0zM1987.2 0h4.5v48h-4.5zM1995.7 0h1.0v48h-1.0zM1999.2 0h1.0v48h-1.0zM2002.2 0h3.0v48h-3.0zM2007.2 0h1.0v48h-1.0z"/><path fill="#a94fba" d="M966.0 0h1.0v48h-1.0zM974.0 0h1.0v48h-1.0zM1001.0 0h2.0v48h-2.0zM1004.5 0h8.0v48h-8.0zM1013.5 0h4.0v48h-4.0zM1022.5 0h2.5v48h-2.5zM1028.5 0h1.0v48h-1.0zM1030.5 0h1.0v48h-1.0zM1032.2 0h11.0v48h-11.0zM1080.6 0h2.5v48h-2.5zM1095.1 0h1.0v48h-1.0zM1098.1 0h4.5v48h-4.5zM1110.6 0h1.0v48h-1.0zM1129.3 0h1.6v48h-1.6zM1138.1 0h1.6v48h-1.6zM1177.1 0h9.0v48h-9.0zM1188.6 0h1.5v48h-1.5zM1194.1 0h1.5v48h-1.5zM1345.8 0h2.0v48h-2.0zM1348.8 0h1.0v48h-1.0zM1456.1 0h1.5v48h-1.5zM1469.6 0h4.0v48h-4.0zM1485.6 0h1.0v48h-1.0zM1534.3 0h1.0v48h-1.0zM1537.3 0h0.8v48h-0.8zM1670.4 0h1.0v48h-1.0zM1675.0 0h3.0v48h-3.0zM1682.0 0h2.0v48h-2.0zM1703.0 0h2.5v48h-2.5zM1707.5 0h2.2v48h-2.2zM1769.5 0h7.0v48h-7.0zM1777.5 0h2.0v48h-2.0zM1781.0 0h6.5v48h-6.5zM1788.5 0h13.5v48h-13.5zM1805.0 0h8.5v48h-8.5zM1815.5 0h6.5v48h-6.5zM1823.0 0h3.5v48h-3.5zM1830.0 0h3.5v48h-3.5zM1837.0 0h8.1v48h-8.1zM1848.3 0h15.8v48h-15.8zM1865.1 0h8.5v48h-8.5zM1880.6 0h1.0v48h-1.0zM1890.6 0h5.0v48h-5.0zM1896.6 0h3.5v48h-3.5zM1903.6 0h3.0v48h-3.0zM1908.6 0h1.0v48h-1.0zM1915.6 0h1.0v48h-1.0zM1943.6 0h1.0v48h-1.0zM1949.2 0h1.0v48h-1.0zM1953.2 0h3.0v48h-3.0zM1957.7 0h7.5v48h-7.5zM1972.2 0h5.0v48h-5.0zM1979.2 0h1.5v48h-1.5zM1991.7 0h4.0v48h-4.0zM1996.7 0h1.0v48h-1.0zM2001.2 0h1.0v48h-1.0zM2005.2 0h2.0v48h-2.0zM2010.2 0h3.6v48h-3.6zM2018.5 0h9.5v48h-9.5zM2043.0 0h2.5v48h-2.5zM2048.5 0h2.0v48h-2.0zM2056.5 0h1.0v48h-1.0zM2061.0 0h3.5v48h-3.5zM2074.0 0h4.5v48h-4.5zM2080.5 0h1.0v48h-1.0zM2091.0 0h14.2v48h-14.2zM2133.6 0h8.0v48h-8.0zM2143.6 0h1.0v48h-1.0zM2145.6 0h1.0v48h-1.0zM2147.6 0h3.0v48h-3.0zM2156.6 0h1.0v48h-1.0zM2158.6 0h7.0v48h-7.0zM2168.1 0h13.5v48h-13.5zM2182.6 0h1.0v48h-1.0zM2185.6 0h1.5v48h-1.5zM2188.1 0h6.0v48h-6.0zM2195.1 0h5.5v48h-5.5zM2202.1 0h4.0v48h-4.0zM2211.5 0h5.0v48h-5.0zM2219.0 0h1.0v48h-1.0zM2221.0 0h1.0v48h-1.0zM2225.5 0h5.5v48h-5.5zM2232.8 0h2.0v48h-2.0zM2235.8 0h1.0v48h-1.0zM2237.8 0h9.5v48h-9.5zM2248.8 0h29.7v48h-29.7zM2281.7 0h20.5v48h-20.5zM2303.2 0h1.0v48h-1.0zM2306.2 0h9.0v48h-9.0zM2317.7 0h16.5v48h-16.5zM2335.2 0h7.0v48h-7.0zM2343.2 0h32.0v48h-32.0zM2376.2 0h5.5v48h-5.5zM2384.7 0h4.0v48h-4.0zM2389.7 0h29.5v48h-29.5zM2421.2 0h2.5v48h-2.5z"/><path fill="#96b57c" d="M967.0 0h7.0v48h-7.0zM975.0 0h2.0v48h-2.0zM978.0 0h1.0v48h-1.0zM980.0 0h7.0v48h-7.0zM989.5 0h4.0v48h-4.0zM996.5 0h2.5v48h-2.5zM1017.5 0h1.0v48h-1.0zM1021.5 0h1.0v48h-1.0zM1027.0 0h1.5v48h-1.5zM1029.5 0h1.0v48h-1.0zM1212.2 0h1.0v48h-1.0zM1214.2 0h1.5v48h-1.5zM1228.7 0h2.5v48h-2.5zM1381.1 0h1.3v48h-1.3zM1541.0 0h5.5v48h-5.5zM1553.0 0h1.0v48h-1.0zM1565.0 0h1.0v48h-1.0zM1578.0 0h1.0v48h-1.0zM1581.0 0h1.0v48h-1.0zM1596.5 0h1.0v48h-1.0zM1864.1 0h1.0v48h-1.0zM1910.6 0h1.0v48h-1.0zM1932.1 0h1.0v48h-1.0zM1939.1 0h1.0v48h-1.0z"/><path fill="#ecc044" d="M979.0 0h1.0v48h-1.0zM999.0 0h2.0v48h-2.0zM1012.5 0h1.0v48h-1.0zM1018.5 0h3.0v48h-3.0zM1026.0 0h1.0v48h-1.0zM1077.1 0h1.0v48h-1.0zM1084.6 0h1.0v48h-1.0zM1093.1 0h2.0v48h-2.0zM1102.6 0h2.5v48h-2.5zM1111.6 0h1.0v48h-1.0zM1115.6 0h2.5v48h-2.5zM1187.6 0h1.0v48h-1.0zM1193.1 0h1.0v48h-1.0zM1195.6 0h2.1v48h-2.1zM1200.2 0h1.0v48h-1.0zM1204.2 0h2.5v48h-2.5zM1216.7 0h1.5v48h-1.5zM1231.2 0h2.0v48h-2.0zM1235.7 0h10.8v48h-10.8zM1249.5 0h3.5v48h-3.5zM1260.0 0h2.5v48h-2.5zM1273.2 0h1.5v48h-1.5zM1292.7 0h1.0v48h-1.0zM1298.7 0h1.0v48h-1.0zM1301.2 0h1.5v48h-1.5zM1325.2 0h1.0v48h-1.0zM1457.6 0h1.5v48h-1.5zM1463.6 0h1.0v48h-1.0zM1468.6 0h1.0v48h-1.0zM1487.6 0h1.5v48h-1.5zM1491.1 0h1.5v48h-1.5zM1512.2 0h1.0v48h-1.0zM1535.3 0h2.0v48h-2.0zM1554.0 0h1.0v48h-1.0zM1564.0 0h1.0v48h-1.0zM1659.4 0h1.0v48h-1.0zM1666.4 0h1.0v48h-1.0zM1669.4 0h1.0v48h-1.0zM1671.4 0h3.5v48h-3.5zM1709.7 0h6.3v48h-6.3zM1845.2 0h3.2v48h-3.2zM2013.8 0h4.7v48h-4.7zM2206.0 0h2.5v48h-2.5zM2220.0 0h1.0v48h-1.0z"/><path fill="#8f8f8f" d="M993.5 0h3.0v48h-3.0zM1072.6 0h1.0v48h-1.0zM1088.1 0h1.0v48h-1.0zM1096.1 0h2.0v48h-2.0zM1118.1 0h1.0v48h-1.0zM1197.7 0h1.0v48h-1.0zM1201.2 0h1.0v48h-1.0zM1203.2 0h1.0v48h-1.0zM1213.2 0h1.0v48h-1.0zM1215.7 0h1.0v48h-1.0zM1218.2 0h8.0v48h-8.0zM1233.2 0h1.0v48h-1.0zM1274.7 0h5.0v48h-5.0zM1284.7 0h1.0v48h-1.0zM1299.7 0h1.5v48h-1.5zM1302.7 0h4.0v48h-4.0zM1310.7 0h1.0v48h-1.0zM1317.2 0h1.0v48h-1.0zM1320.2 0h1.0v48h-1.0zM1324.2 0h1.0v48h-1.0zM1327.7 0h1.5v48h-1.5zM1337.7 0h1.0v48h-1.0zM1402.8 0h1.9v48h-1.9zM1459.1 0h1.0v48h-1.0zM1473.6 0h1.0v48h-1.0zM1479.1 0h2.0v48h-2.0zM1484.6 0h1.0v48h-1.0zM1486.6 0h1.0v48h-1.0zM1490.1 0h1.0v48h-1.0zM1494.1 0h1.0v48h-1.0zM1503.5 0h3.0v48h-3.0zM1509.7 0h2.5v48h-2.5zM1513.2 0h2.2v48h-2.2zM1624.6 0h1.0v48h-1.0zM1629.1 0h1.5v48h-1.5zM1635.1 0h0.6v48h-0.6zM1648.4 0h6.3v48h-6.3zM1663.4 0h1.0v48h-1.0zM1678.0 0h4.0v48h-4.0zM1685.0 0h3.5v48h-3.5zM1691.0 0h1.0v48h-1.0zM1705.5 0h1.0v48h-1.0zM1717.5 0h1.0v48h-1.0zM1719.5 0h1.0v48h-1.0zM1722.5 0h3.0v48h-3.0zM1753.8 0h6.3v48h-6.3zM2105.2 0h9.5v48h-9.5zM2216.5 0h2.5v48h-2.5zM2222.0 0h3.5v48h-3.5zM2231.0 0h1.8v48h-1.8zM2234.8 0h1.0v48h-1.0zM2236.8 0h1.0v48h-1.0zM2247.3 0h1.5v48h-1.5z"/><path fill="#e2594b" d="M1043.2 0h3.8v48h-3.8zM1071.6 0h1.0v48h-1.0zM1074.6 0h1.5v48h-1.5zM1263.5 0h1.0v48h-1.0zM1460.1 0h3.5v48h-3.5zM1474.6 0h4.5v48h-4.5zM1481.1 0h3.5v48h-3.5zM1489.1 0h1.0v48h-1.0zM1492.6 0h1.5v48h-1.5zM1495.1 0h0.4v48h-0.4zM1552.0 0h1.0v48h-1.0zM1573.0 0h1.0v48h-1.0zM1580.0 0h1.0v48h-1.0zM1585.0 0h1.0v48h-1.0zM1597.5 0h1.5v48h-1.5zM1604.2 0h10.1v48h-10.1zM1664.4 0h1.0v48h-1.0zM1692.0 0h3.5v48h-3.5zM1697.5 0h2.0v48h-2.0zM1716.0 0h1.5v48h-1.5zM1718.5 0h1.0v48h-1.0zM1720.5 0h2.0v48h-2.0zM2208.5 0h3.0v48h-3.0z"/><path fill="#3eb0e5" d="M1047.0 0h24.6v48h-24.6zM1073.6 0h1.0v48h-1.0zM1076.1 0h1.0v48h-1.0zM1083.1 0h1.5v48h-1.5zM1085.6 0h2.5v48h-2.5zM1089.1 0h4.0v48h-4.0zM1105.1 0h5.5v48h-5.5zM1113.6 0h1.0v48h-1.0zM1119.1 0h1.3v48h-1.3zM1163.0 0h12.6v48h-12.6zM1246.5 0h3.0v48h-3.0zM1253.0 0h1.5v48h-1.5zM1264.5 0h8.6v48h-8.6zM1279.7 0h1.0v48h-1.0zM1283.7 0h1.0v48h-1.0zM1291.7 0h1.0v48h-1.0zM1306.7 0h1.0v48h-1.0zM1318.2 0h2.0v48h-2.0zM1321.2 0h3.0v48h-3.0zM1336.2 0h1.5v48h-1.5zM1339.7 0h1.0v48h-1.0zM1366.0 0h1.6v48h-1.6zM1423.0 0h33.1v48h-33.1zM1495.5 0h8.0v48h-8.0zM1538.0 0h3.0v48h-3.0zM1546.5 0h5.5v48h-5.5zM1555.0 0h9.0v48h-9.0zM1566.0 0h7.0v48h-7.0zM1574.0 0h4.0v48h-4.0zM1579.0 0h1.0v48h-1.0zM1582.0 0h3.0v48h-3.0zM1586.0 0h10.5v48h-10.5zM1599.0 0h5.2v48h-5.2zM1614.3 0h8.8v48h-8.8zM1668.4 0h1.0v48h-1.0zM1725.4 0h26.8v48h-26.8zM1760.1 0h9.5v48h-9.5zM1776.5 0h1.0v48h-1.0zM1779.5 0h1.5v48h-1.5zM1787.5 0h1.0v48h-1.0zM1802.0 0h3.0v48h-3.0zM1813.5 0h2.0v48h-2.0zM1822.0 0h1.0v48h-1.0zM1826.5 0h3.5v48h-3.5zM1833.5 0h3.5v48h-3.5zM1873.6 0h7.0v48h-7.0zM1881.6 0h9.0v48h-9.0zM1895.6 0h1.0v48h-1.0zM1900.1 0h3.5v48h-3.5zM1906.6 0h2.0v48h-2.0zM1909.6 0h1.0v48h-1.0zM1911.6 0h4.0v48h-4.0zM1916.6 0h15.5v48h-15.5zM1933.1 0h6.0v48h-6.0zM1940.1 0h3.5v48h-3.5zM1944.6 0h4.6v48h-4.6zM1951.2 0h2.0v48h-2.0zM1956.2 0h1.5v48h-1.5zM1969.7 0h2.5v48h-2.5zM1978.2 0h1.0v48h-1.0zM1982.7 0h4.5v48h-4.5zM1997.7 0h1.5v48h-1.5zM2000.2 0h1.0v48h-1.0zM2008.2 0h2.0v48h-2.0zM2028.0 0h15.0v48h-15.0zM2045.5 0h3.0v48h-3.0zM2050.5 0h6.0v48h-6.0zM2057.5 0h3.5v48h-3.5zM2064.5 0h9.5v48h-9.5zM2078.5 0h2.0v48h-2.0zM2081.5 0h9.5v48h-9.5zM2114.6 0h18.9v48h-18.9zM2141.6 0h2.0v48h-2.0zM2144.6 0h1.0v48h-1.0zM2146.6 0h1.0v48h-1.0zM2150.6 0h6.0v48h-6.0zM2157.6 0h1.0v48h-1.0zM2165.6 0h2.5v48h-2.5zM2181.6 0h1.0v48h-1.0zM2183.6 0h2.0v48h-2.0zM2187.1 0h1.0v48h-1.0zM2194.1 0h1.0v48h-1.0zM2200.6 0h1.5v48h-1.5zM2278.5 0h3.2v48h-3.2zM2302.2 0h1.0v48h-1.0zM2304.2 0h2.0v48h-2.0zM2315.2 0h2.5v48h-2.5zM2334.2 0h1.0v48h-1.0zM2342.2 0h1.0v48h-1.0zM2375.2 0h1.0v48h-1.0zM2381.7 0h3.0v48h-3.0zM2388.7 0h1.0v48h-1.0zM2419.2 0h2.0v48h-2.0zM2423.7 0h1.3v48h-1.3z"/><path fill="#27cde6" d="M1347.8 0h1.0v48h-1.0zM1355.3 0h1.0v48h-1.0zM1360.3 0h1.3v48h-1.3z"/><path fill="#1bb29a" d="M1628.1 0h1.0v48h-1.0zM1630.6 0h1.5v48h-1.5z"/></svg>
<div class="b" style="left:955px;top:696px;width:1470px;height:48px;background:repeating-linear-gradient(90deg,transparent 0 5px,rgba(255,255,255,.12) 5px 6px,transparent 6px 9px,rgba(255,255,255,.1) 9px 10px,transparent 10px 17px,rgba(255,255,255,.12) 17px 18px,transparent 18px 21px);"></div>
<svg style="left:0;top:756px" width="2425" height="48" viewBox="0 0 2425 48"><path fill="#8f8f8f" d="M955.0 0h12.0v48h-12.0zM1166.5 0h2.0v48h-2.0zM1169.5 0h1.0v48h-1.0zM1174.5 0h1.0v48h-1.0zM1190.0 0h3.5v48h-3.5zM1195.5 0h3.0v48h-3.0zM1200.5 0h1.0v48h-1.0zM1203.5 0h1.0v48h-1.0zM1209.5 0h1.0v48h-1.0zM1216.0 0h2.0v48h-2.0zM1228.5 0h3.5v48h-3.5zM1235.5 0h1.0v48h-1.0zM1238.5 0h1.0v48h-1.0zM1240.5 0h1.3v48h-1.3zM1262.6 0h1.0v48h-1.0zM1269.1 0h2.0v48h-2.0zM1273.1 0h1.0v48h-1.0zM1277.6 0h1.5v48h-1.5zM1282.1 0h1.0v48h-1.0zM1292.6 0h1.0v48h-1.0zM1296.6 0h1.5v48h-1.5zM1331.1 0h1.0v48h-1.0zM1466.5 0h2.5v48h-2.5zM1483.0 0h2.0v48h-2.0zM1488.0 0h2.0v48h-2.0zM1491.5 0h2.0v48h-2.0zM1520.7 0h1.6v48h-1.6zM1524.2 0h1.6v48h-1.6zM1527.3 0h1.3v48h-1.3zM1667.3 0h7.9v48h-7.9zM1675.0 0h2.5v48h-2.5zM1717.5 0h9.5v48h-9.5zM1744.3 0h7.9v48h-7.9zM1753.2 0h1.0v48h-1.0zM1780.7 0h3.0v48h-3.0zM1797.7 0h3.0v48h-3.0zM1808.2 0h1.0v48h-1.0zM1816.2 0h1.0v48h-1.0zM1819.7 0h1.0v48h-1.0zM1840.7 0h1.0v48h-1.0zM1864.2 0h3.0v48h-3.0zM2100.5 0h12.6v48h-12.6zM2201.0 0h2.5v48h-2.5zM2221.0 0h1.0v48h-1.0zM2225.0 0h3.0v48h-3.0zM2229.0 0h0.7v48h-0.7z"/><path fill="#1bb29a" d="M969.0 0h15.0v48h-15.0zM985.0 0h3.5v48h-3.5zM989.5 0h1.5v48h-1.5zM993.5 0h15.5v48h-15.5zM1012.0 0h7.5v48h-7.5zM1021.5 0h11.0v48h-11.0zM1035.0 0h7.5v48h-7.5zM1044.5 0h5.5v48h-5.5zM1051.0 0h17.5v48h-17.5zM1381.1 0h1.0v48h-1.0zM1383.1 0h12.0v48h-12.0zM1396.1 0h3.3v48h-3.3zM1461.0 0h3.0v48h-3.0zM1465.5 0h1.0v48h-1.0zM1471.0 0h1.5v48h-1.5zM1486.0 0h1.0v48h-1.0zM1728.0 0h2.5v48h-2.5zM1740.0 0h1.0v48h-1.0zM1963.2 0h1.0v48h-1.0zM1982.2 0h1.0v48h-1.0zM1992.7 0h1.5v48h-1.5zM2037.7 0h1.0v48h-1.0zM2077.2 0h2.5v48h-2.5z"/><path fill="#ecc044" d="M984.0 0h1.0v48h-1.0zM1019.5 0h1.0v48h-1.0zM1069.5 0h2.5v48h-2.5zM1081.0 0h1.0v48h-1.0zM1085.0 0h1.0v48h-1.0zM1092.5 0h1.0v48h-1.0zM1099.5 0h1.0v48h-1.0zM1103.5 0h2.5v48h-2.5zM1115.5 0h1.0v48h-1.0zM1118.5 0h1.4v48h-1.4zM1121.9 0h1.5v48h-1.5zM1124.4 0h1.0v48h-1.0zM1127.4 0h1.0v48h-1.0zM1135.9 0h2.0v48h-2.0zM1147.2 0h5.7v48h-5.7zM1168.5 0h1.0v48h-1.0zM1170.5 0h1.0v48h-1.0zM1172.5 0h1.0v48h-1.0zM1180.5 0h3.5v48h-3.5zM1205.5 0h1.0v48h-1.0zM1207.5 0h1.0v48h-1.0zM1219.0 0h1.0v48h-1.0zM1224.5 0h1.0v48h-1.0zM1226.5 0h1.0v48h-1.0zM1233.0 0h1.0v48h-1.0zM1275.1 0h2.5v48h-2.5zM1289.1 0h1.5v48h-1.5zM1291.6 0h1.0v48h-1.0zM1298.1 0h2.0v48h-2.0zM1308.1 0h1.0v48h-1.0zM1316.1 0h1.0v48h-1.0zM1326.6 0h3.5v48h-3.5zM1406.3 0h3.5v48h-3.5zM1417.7 0h3.2v48h-3.2zM1426.8 0h1.0v48h-1.0zM1437.8 0h4.0v48h-4.0zM1442.8 0h3.5v48h-3.5zM1447.8 0h1.5v48h-1.5zM1451.3 0h3.2v48h-3.2zM1455.5 0h2.5v48h-2.5zM1464.0 0h1.5v48h-1.5zM1469.0 0h1.0v48h-1.0zM1482.0 0h1.0v48h-1.0zM1490.0 0h1.5v48h-1.5zM1543.7 0h3.5v48h-3.5zM1552.2 0h1.0v48h-1.0zM1554.7 0h1.0v48h-1.0zM1556.7 0h3.0v48h-3.0zM1586.7 0h1.0v48h-1.0zM1599.2 0h1.0v48h-1.0zM1601.2 0h1.0v48h-1.0zM1622.5 0h2.2v48h-2.2zM1690.8 0h7.9v48h-7.9zM1704.6 0h1.5v48h-1.5zM1708.1 0h4.5v48h-4.5zM1715.6 0h1.0v48h-1.0zM1756.7 0h1.0v48h-1.0zM1822.7 0h1.5v48h-1.5zM1838.7 0h1.0v48h-1.0zM1895.6 0h3.5v48h-3.5zM1912.1 0h3.0v48h-3.0zM1936.6 0h1.5v48h-1.5zM1946.1 0h1.0v48h-1.0zM1987.2 0h1.5v48h-1.5zM2014.2 0h1.5v48h-1.5zM2087.2 0h2.5v48h-2.5zM2198.0 0h1.0v48h-1.0zM2209.5 0h1.0v48h-1.0zM2213.5 0h1.0v48h-1.0zM2219.0 0h1.0v48h-1.0zM2345.7 0h1.0v48h-1.0zM2348.7 0h3.0v48h-3.0z"/><path fill="#7581b7" d="M1068.5 0h1.0v48h-1.0zM1075.5 0h1.0v48h-1.0zM1082.0 0h1.0v48h-1.0zM1086.0 0h1.0v48h-1.0zM1091.5 0h1.0v48h-1.0zM1093.5 0h1.0v48h-1.0zM1173.5 0h1.0v48h-1.0zM1175.5 0h2.0v48h-2.0zM1185.0 0h4.0v48h-4.0zM1194.5 0h1.0v48h-1.0zM1199.5 0h1.0v48h-1.0zM1206.5 0h1.0v48h-1.0zM1220.0 0h2.0v48h-2.0zM1237.5 0h1.0v48h-1.0zM1263.6 0h1.0v48h-1.0zM1267.6 0h1.5v48h-1.5zM1272.1 0h1.0v48h-1.0zM1283.1 0h2.0v48h-2.0zM1295.6 0h1.0v48h-1.0zM1301.1 0h2.0v48h-2.0zM1309.1 0h5.0v48h-5.0zM1318.6 0h1.5v48h-1.5zM1321.6 0h1.0v48h-1.0zM1332.1 0h5.0v48h-5.0zM1341.1 0h0.0v48h-0.0zM1454.5 0h1.0v48h-1.0zM1473.5 0h1.0v48h-1.0zM1475.5 0h5.0v48h-5.0zM1661.0 0h6.3v48h-6.3z"/><path fill="#a94fba" d="M1072.0 0h1.5v48h-1.5zM1076.5 0h2.5v48h-2.5zM1087.0 0h1.5v48h-1.5zM1089.5 0h2.0v48h-2.0zM1095.5 0h1.0v48h-1.0zM1097.5 0h2.0v48h-2.0zM1100.5 0h1.0v48h-1.0zM1102.5 0h1.0v48h-1.0zM1107.0 0h2.0v48h-2.0zM1163.0 0h1.0v48h-1.0zM1208.5 0h1.0v48h-1.0zM1212.5 0h3.5v48h-3.5zM1227.5 0h1.0v48h-1.0zM1731.5 0h7.5v48h-7.5zM1742.0 0h2.3v48h-2.3zM1752.2 0h1.0v48h-1.0zM1754.2 0h2.5v48h-2.5zM1764.7 0h10.5v48h-10.5zM1783.7 0h6.5v48h-6.5zM1791.2 0h2.0v48h-2.0zM1800.7 0h2.5v48h-2.5zM1804.2 0h2.0v48h-2.0zM1807.2 0h1.0v48h-1.0zM1809.2 0h7.0v48h-7.0zM1821.7 0h1.0v48h-1.0zM1824.2 0h3.0v48h-3.0zM1830.7 0h2.5v48h-2.5zM1839.7 0h1.0v48h-1.0zM1843.7 0h1.0v48h-1.0zM1849.7 0h1.0v48h-1.0zM1852.7 0h4.0v48h-4.0zM1861.2 0h3.0v48h-3.0zM1904.6 0h2.5v48h-2.5zM1915.1 0h1.0v48h-1.0zM1922.6 0h2.0v48h-2.0zM1927.6 0h7.0v48h-7.0zM1935.6 0h1.0v48h-1.0zM1938.1 0h1.0v48h-1.0zM1944.6 0h1.5v48h-1.5zM1947.1 0h2.1v48h-2.1zM1957.2 0h4.5v48h-4.5zM1964.2 0h1.0v48h-1.0zM1973.2 0h3.0v48h-3.0zM1983.2 0h2.0v48h-2.0zM1986.2 0h1.0v48h-1.0zM1994.2 0h3.0v48h-3.0zM1998.2 0h4.0v48h-4.0zM2003.2 0h2.5v48h-2.5zM2012.7 0h1.5v48h-1.5zM2022.2 0h1.0v48h-1.0zM2024.7 0h1.0v48h-1.0zM2026.7 0h5.5v48h-5.5zM2036.7 0h1.0v48h-1.0zM2038.7 0h2.0v48h-2.0zM2050.2 0h5.5v48h-5.5zM2059.7 0h8.0v48h-8.0zM2070.2 0h1.0v48h-1.0zM2073.7 0h3.5v48h-3.5zM2079.7 0h7.5v48h-7.5zM2089.7 0h5.5v48h-5.5zM2114.1 0h1.5v48h-1.5zM2117.6 0h10.5v48h-10.5zM2129.1 0h2.0v48h-2.0zM2132.6 0h2.0v48h-2.0zM2135.6 0h10.0v48h-10.0zM2146.6 0h18.0v48h-18.0zM2166.1 0h1.0v48h-1.0zM2168.1 0h9.5v48h-9.5zM2178.6 0h16.4v48h-16.4zM2196.0 0h2.0v48h-2.0zM2199.0 0h2.0v48h-2.0zM2203.5 0h5.0v48h-5.0zM2211.5 0h1.0v48h-1.0zM2214.5 0h3.5v48h-3.5zM2222.0 0h1.0v48h-1.0zM2228.0 0h1.0v48h-1.0zM2229.7 0h29.9v48h-29.9zM2265.1 0h2.0v48h-2.0zM2270.7 0h63.0v48h-63.0zM2337.2 0h4.0v48h-4.0zM2344.7 0h1.0v48h-1.0zM2346.7 0h2.0v48h-2.0zM2351.7 0h4.0v48h-4.0zM2357.7 0h1.5v48h-1.5zM2360.2 0h5.0v48h-5.0zM2366.2 0h9.5v48h-9.5zM2377.7 0h9.0v48h-9.0zM2387.7 0h17.0v48h-17.0zM2407.7 0h9.5v48h-9.5zM2419.2 0h5.8v48h-5.8z"/><path fill="#3eb0e5" d="M1073.5 0h2.0v48h-2.0zM1079.0 0h2.0v48h-2.0zM1083.0 0h2.0v48h-2.0zM1109.0 0h5.5v48h-5.5zM1171.5 0h1.0v48h-1.0zM1177.5 0h3.0v48h-3.0zM1184.0 0h1.0v48h-1.0zM1189.0 0h1.0v48h-1.0zM1193.5 0h1.0v48h-1.0zM1202.5 0h1.0v48h-1.0zM1218.0 0h1.0v48h-1.0zM1222.0 0h2.5v48h-2.5zM1225.5 0h1.0v48h-1.0zM1232.0 0h1.0v48h-1.0zM1234.0 0h1.5v48h-1.5zM1236.5 0h1.0v48h-1.0zM1243.4 0h1.6v48h-1.6zM1250.0 0h1.6v48h-1.6zM1257.6 0h5.0v48h-5.0zM1266.6 0h1.0v48h-1.0zM1271.1 0h1.0v48h-1.0zM1274.1 0h1.0v48h-1.0zM1279.1 0h3.0v48h-3.0zM1285.1 0h4.0v48h-4.0zM1294.6 0h1.0v48h-1.0zM1304.1 0h1.5v48h-1.5zM1306.6 0h1.5v48h-1.5zM1314.1 0h1.0v48h-1.0zM1320.1 0h1.5v48h-1.5zM1322.6 0h4.0v48h-4.0zM1330.1 0h1.0v48h-1.0zM1337.1 0h3.0v48h-3.0zM1427.8 0h3.0v48h-3.0zM1431.8 0h1.0v48h-1.0zM1436.8 0h1.0v48h-1.0zM1441.8 0h1.0v48h-1.0zM1446.3 0h1.5v48h-1.5zM1449.3 0h2.0v48h-2.0zM1460.0 0h1.0v48h-1.0zM1470.0 0h1.0v48h-1.0zM1472.5 0h1.0v48h-1.0zM1474.5 0h1.0v48h-1.0zM1480.5 0h1.5v48h-1.5zM1487.0 0h1.0v48h-1.0zM1493.5 0h1.0v48h-1.0zM1495.5 0h19.9v48h-19.9zM1534.9 0h3.2v48h-3.2zM1547.2 0h5.0v48h-5.0zM1561.7 0h21.0v48h-21.0zM1585.7 0h1.0v48h-1.0zM1591.2 0h8.0v48h-8.0zM1602.2 0h2.0v48h-2.0zM1618.4 0h4.1v48h-4.1zM1677.5 0h13.2v48h-13.2zM1698.6 0h6.0v48h-6.0zM1712.6 0h1.0v48h-1.0zM1714.6 0h1.0v48h-1.0zM1716.6 0h0.9v48h-0.9zM1727.0 0h1.0v48h-1.0zM1730.5 0h1.0v48h-1.0zM1739.0 0h1.0v48h-1.0zM1741.0 0h1.0v48h-1.0zM1757.7 0h7.0v48h-7.0zM1775.2 0h4.5v48h-4.5zM1790.2 0h1.0v48h-1.0zM1793.2 0h4.5v48h-4.5zM1803.2 0h1.0v48h-1.0zM1806.2 0h1.0v48h-1.0zM1817.2 0h2.5v48h-2.5zM1828.2 0h1.5v48h-1.5zM1834.2 0h4.5v48h-4.5zM1841.7 0h2.0v48h-2.0zM1844.7 0h1.0v48h-1.0zM1848.7 0h1.0v48h-1.0zM1850.7 0h1.0v48h-1.0zM1856.7 0h4.5v48h-4.5zM1867.2 0h28.4v48h-28.4zM1899.1 0h5.5v48h-5.5zM1907.1 0h1.5v48h-1.5zM1917.1 0h5.5v48h-5.5zM1925.6 0h2.0v48h-2.0zM1939.1 0h2.5v48h-2.5zM1942.6 0h1.0v48h-1.0zM1949.2 0h8.0v48h-8.0zM1961.7 0h1.5v48h-1.5zM1965.2 0h8.0v48h-8.0zM1976.2 0h6.0v48h-6.0zM1985.2 0h1.0v48h-1.0zM1988.7 0h4.0v48h-4.0zM1997.2 0h1.0v48h-1.0zM2002.2 0h1.0v48h-1.0zM2005.7 0h7.0v48h-7.0zM2015.7 0h6.5v48h-6.5zM2023.2 0h1.5v48h-1.5zM2025.7 0h1.0v48h-1.0zM2032.2 0h4.5v48h-4.5zM2040.7 0h9.5v48h-9.5zM2055.7 0h4.0v48h-4.0zM2067.7 0h2.5v48h-2.5zM2071.2 0h2.5v48h-2.5zM2095.2 0h5.3v48h-5.3zM2113.1 0h1.0v48h-1.0zM2115.6 0h2.0v48h-2.0zM2128.1 0h1.0v48h-1.0zM2131.1 0h1.5v48h-1.5zM2134.6 0h1.0v48h-1.0zM2145.6 0h1.0v48h-1.0zM2164.6 0h1.5v48h-1.5zM2167.1 0h1.0v48h-1.0zM2177.6 0h1.0v48h-1.0zM2195.0 0h1.0v48h-1.0zM2208.5 0h1.0v48h-1.0zM2210.5 0h1.0v48h-1.0zM2212.5 0h1.0v48h-1.0zM2218.0 0h1.0v48h-1.0zM2220.0 0h1.0v48h-1.0zM2223.0 0h2.0v48h-2.0zM2259.6 0h5.5v48h-5.5zM2267.1 0h3.5v48h-3.5zM2333.7 0h3.5v48h-3.5zM2341.2 0h3.5v48h-3.5zM2355.7 0h0.1v48h-0.1zM2365.2 0h1.0v48h-1.0zM2375.7 0h1.0v48h-1.0zM2404.7 0h3.0v48h-3.0z"/><path fill="#e2594b" d="M1088.5 0h1.0v48h-1.0zM1094.5 0h1.0v48h-1.0zM1096.5 0h1.0v48h-1.0zM1101.5 0h1.0v48h-1.0zM1106.0 0h1.0v48h-1.0zM1114.5 0h1.0v48h-1.0zM1116.5 0h2.0v48h-2.0zM1119.9 0h1.0v48h-1.0zM1125.4 0h2.0v48h-2.0zM1128.4 0h1.0v48h-1.0zM1130.4 0h4.0v48h-4.0zM1137.9 0h1.5v48h-1.5zM1164.0 0h2.5v48h-2.5zM1198.5 0h1.0v48h-1.0zM1201.5 0h1.0v48h-1.0zM1204.5 0h1.0v48h-1.0zM1210.5 0h2.0v48h-2.0zM1239.5 0h1.0v48h-1.0zM1359.3 0h11.7v48h-11.7zM1375.7 0h5.4v48h-5.4zM1395.1 0h1.0v48h-1.0zM1458.0 0h2.0v48h-2.0zM1485.0 0h1.0v48h-1.0zM1494.5 0h1.0v48h-1.0zM1604.2 0h14.2v48h-14.2zM1706.1 0h2.0v48h-2.0zM1713.6 0h1.0v48h-1.0zM1827.2 0h1.0v48h-1.0zM1833.2 0h1.0v48h-1.0zM1845.7 0h3.0v48h-3.0zM2355.7 0h2.0v48h-2.0zM2359.2 0h1.0v48h-1.0zM2376.7 0h1.0v48h-1.0zM2386.7 0h1.0v48h-1.0zM2417.2 0h2.0v48h-2.0z"/><path fill="#e8744a" d="M1120.9 0h1.0v48h-1.0zM1123.4 0h1.0v48h-1.0zM1129.4 0h1.0v48h-1.0zM1134.4 0h1.5v48h-1.5zM1632.0 0h1.6v48h-1.6z"/><path fill="#96b57c" d="M1264.6 0h2.0v48h-2.0zM1290.6 0h1.0v48h-1.0zM1293.6 0h1.0v48h-1.0zM1300.1 0h1.0v48h-1.0zM1303.1 0h1.0v48h-1.0zM1305.6 0h1.0v48h-1.0zM1315.1 0h1.0v48h-1.0zM1317.1 0h1.5v48h-1.5zM1340.1 0h1.0v48h-1.0zM1382.1 0h1.0v48h-1.0zM1553.2 0h1.5v48h-1.5zM1555.7 0h1.0v48h-1.0zM1559.7 0h2.0v48h-2.0zM1582.7 0h3.0v48h-3.0zM1587.7 0h3.5v48h-3.5zM1600.2 0h1.0v48h-1.0zM1779.7 0h1.0v48h-1.0zM1820.7 0h1.0v48h-1.0zM1829.7 0h1.0v48h-1.0zM1851.7 0h1.0v48h-1.0zM1908.6 0h3.5v48h-3.5zM1916.1 0h1.0v48h-1.0zM1924.6 0h1.0v48h-1.0zM1934.6 0h1.0v48h-1.0zM1941.6 0h1.0v48h-1.0zM1943.6 0h1.0v48h-1.0z"/></svg>
<div class="b" style="left:955px;top:756px;width:1470px;height:48px;background:repeating-linear-gradient(90deg,transparent 0 5px,rgba(255,255,255,.12) 5px 6px,transparent 6px 9px,rgba(255,255,255,.1) 9px 10px,transparent 10px 17px,rgba(255,255,255,.12) 17px 18px,transparent 18px 21px);"></div>
<svg style="left:0;top:809px" width="2425" height="51" viewBox="0 0 2425 51"><path d="M955.0 49.5V18.5H971.0V39.3H979.0V37.1H985.0V40.2H991.0V40.2H994.0V40.2H1002.0V35.2H1005.0V41.4H1009.0V40.2H1013.0V39.3H1018.0V41.4H1021.0V40.2H1027.0V37.1H1032.0V40.2H1036.0V39.3H1039.0V40.2H1044.0V37.1H1047.4V30.9H1054.0V18.5H1119.7V27.2H1123.0V30.9H1128.0V18.5H1131.5V30.9H1138.0V27.2H1144.0V44.9H1148.0V43.3H1154.0V44.9H1158.0V40.2H1161.0V35.5H1163.4V29.3H1165.0V23.2H1170.0V18.5H1203.7V30.9H1208.8V18.5H1213.0V30.9H1219.0V27.2H1220.5V23.2H1222.0V18.5H1234.0V30.9H1240.7V28.7H1243.0V30.9H1247.4V28.7H1250.0V23.2H1252.5V18.5H1321.4V30.9H1327.0V23.2H1329.0V18.5H1471.5V24.7H1474.9V30.9H1487.0V18.5H1493.8V30.9H1501.9V18.5H1508.0V26.2H1511.3V18.5H1516.7V30.3H1519.4V24.7H1523.5V30.9H1539.6V29.3H1541.7V18.5H1623.3V45.8H1625.3V43.3H1628.0V38.6H1630.0V34.0H1636.0V43.3H1641.0V45.5H1652.0V41.8H1657.0V30.9H1659.6V18.5H1674.5V30.9H1679.7V18.5H1731.7V26.2H1737.0V18.5H1752.5V30.9H1759.4V18.5H1865.0V24.7H1868.6V18.5H1929.0V29.3H1938.0V18.5H2425.0V49.5Z" fill="#94d79c"/><path d="M955.0 18.5h4V23.2h-4zM1049.0 30.9h6V33.7h-6zM1102.0 18.5h4V26.2h-4zM1164.0 29.3h9V37.4h-9zM1173.0 18.5h2V30.9h-2zM1178.0 18.5h9V23.2h-9zM1187.0 18.5h3V26.2h-3zM1190.0 18.5h9V26.2h-9zM1214.0 30.9h2V38.3h-2zM1216.0 30.9h14V33.7h-14zM1230.0 18.5h2V23.2h-2zM1232.0 30.9h14V35.5h-14zM1288.0 18.5h14V26.2h-14zM1302.0 18.5h6V30.9h-6zM1346.0 18.5h14V30.9h-14zM1360.0 18.5h4V30.9h-4zM1364.0 18.5h14V23.2h-14zM1394.0 18.5h3V30.9h-3zM1403.0 18.5h2V26.2h-2zM1407.0 18.5h4V23.2h-4zM1420.0 18.5h9V30.9h-9zM1441.0 18.5h6V26.2h-6zM1447.0 18.5h9V30.9h-9zM1469.0 24.7h4V34.6h-4zM1511.0 30.3h6V33.2h-6zM1529.0 30.9h3V38.3h-3zM1541.0 29.3h2V37.4h-2zM1580.0 18.5h6V30.9h-6zM1588.0 18.5h3V30.9h-3zM1658.0 30.9h14V35.5h-14zM1681.0 18.5h6V30.9h-6zM1697.0 18.5h14V30.9h-14zM1711.0 18.5h9V26.2h-9zM1720.0 18.5h4V30.9h-4zM1738.0 18.5h2V30.9h-2zM1746.0 18.5h3V30.9h-3zM1841.0 18.5h6V23.2h-6zM1862.0 18.5h14V23.2h-14zM1882.0 18.5h14V26.2h-14zM1971.0 18.5h3V23.2h-3zM1987.0 18.5h2V30.9h-2zM1998.0 18.5h14V30.9h-14zM2012.0 18.5h9V30.9h-9zM2021.0 18.5h6V23.2h-6zM2053.0 18.5h3V23.2h-3zM2056.0 18.5h2V30.9h-2zM2072.0 18.5h2V23.2h-2zM2081.0 18.5h9V30.9h-9z" fill="#5bc066"/><path d="M955.0 19.7h5V48.5h-5zM960.6 19.7h3V48.5h-3zM964.2 19.7h4V48.5h-4zM968.8 19.7h1.5V48.5h-1.5zM970.9 19.7h4V48.5h-4zM975.5 40.5h5V48.5h-5zM981.2 38.3h5V48.5h-5zM987.3 41.4h1.5V48.5h-1.5zM989.4 41.4h2.5V48.5h-2.5zM992.5 41.4h5V48.5h-5zM998.4 41.4h2V48.5h-2zM1001.0 41.4h2.5V48.5h-2.5zM1004.1 36.4h5V48.5h-5zM1009.7 41.4h2V48.5h-2zM1012.3 41.4h3V48.5h-3zM1015.9 40.5h2V48.5h-2zM1018.5 42.6h1.5V48.5h-1.5zM1020.6 42.6h4V48.5h-4zM1025.5 41.4h4V48.5h-4zM1030.1 38.3h2V48.5h-2zM1032.7 41.4h1.5V48.5h-1.5zM1034.8 41.4h1.5V48.5h-1.5zM1036.9 40.5h4V48.5h-4zM1041.5 41.4h2V48.5h-2zM1044.1 38.3h1.5V48.5h-1.5zM1046.2 38.3h1.5V48.5h-1.5zM1048.3 32.1h2.5V48.5h-2.5zM1051.5 32.1h2V48.5h-2zM1054.1 19.7h4V48.5h-4zM1059.6 19.7h3V48.5h-3zM1063.5 19.7h2.5V48.5h-2.5zM1089.3 19.7h2.5V48.5h-2.5zM1092.4 19.7h5V48.5h-5zM1099.5 19.7h2.5V48.5h-2.5zM1103.1 19.7h4V48.5h-4zM1108.1 19.7h2.5V48.5h-2.5zM1111.2 19.7h3V48.5h-3zM1115.7 19.7h2V48.5h-2zM1118.4 19.7h4V48.5h-4zM1123.9 32.1h2.5V48.5h-2.5zM1127.1 32.1h4V48.5h-4zM1132.7 32.1h2.5V48.5h-2.5zM1135.8 32.1h2.5V48.5h-2.5zM1139.2 28.4h3V48.5h-3zM1142.8 28.4h1.5V48.5h-1.5zM1144.9 46.1h3V48.5h-3zM1148.5 44.5h2V48.5h-2zM1151.1 44.5h2.5V48.5h-2.5zM1154.5 46.1h2V48.5h-2zM1157.3 46.1h2V48.5h-2zM1159.9 41.4h4V48.5h-4zM1165.3 24.4h4V48.5h-4zM1170.5 19.7h5V48.5h-5zM1177.9 19.7h3V48.5h-3zM1181.5 19.7h1.5V48.5h-1.5zM1183.7 19.7h2.5V48.5h-2.5zM1186.9 19.7h1.5V48.5h-1.5zM1189.1 19.7h2.5V48.5h-2.5zM1192.5 19.7h5V48.5h-5zM1199.3 19.7h5V48.5h-5zM1205.7 32.1h4V48.5h-4zM1211.4 19.7h3V48.5h-3zM1215.3 32.1h4V48.5h-4zM1220.4 28.4h2.5V48.5h-2.5zM1232.3 19.7h1.5V48.5h-1.5zM1234.4 32.1h1.5V48.5h-1.5zM1236.5 32.1h2.5V48.5h-2.5zM1240.1 32.1h1.5V48.5h-1.5zM1242.2 29.9h2.5V48.5h-2.5zM1246.0 32.1h5V48.5h-5zM1252.9 19.7h5V48.5h-5zM1260.0 19.7h3V48.5h-3zM1263.6 19.7h2.5V48.5h-2.5zM1267.0 19.7h4V48.5h-4zM1290.3 19.7h5V48.5h-5zM1296.5 19.7h2.5V48.5h-2.5zM1299.9 19.7h1.5V48.5h-1.5zM1302.0 19.7h3V48.5h-3zM1306.5 19.7h3V48.5h-3zM1310.6 19.7h5V48.5h-5zM1317.7 19.7h3V48.5h-3zM1321.5 32.1h2V48.5h-2zM1324.3 32.1h4V48.5h-4zM1330.1 19.7h3V48.5h-3zM1334.1 19.7h4V48.5h-4zM1339.1 19.7h2.5V48.5h-2.5zM1342.7 19.7h2.5V48.5h-2.5zM1346.0 19.7h2.5V48.5h-2.5zM1349.3 19.7h2V48.5h-2zM1351.9 19.7h2V48.5h-2zM1354.5 19.7h2V48.5h-2zM1357.2 19.7h5V48.5h-5zM1364.6 19.7h1.5V48.5h-1.5zM1366.7 19.7h2V48.5h-2zM1369.5 19.7h4V48.5h-4zM1374.7 19.7h1.5V48.5h-1.5zM1376.8 19.7h4V48.5h-4zM1382.2 19.7h4V48.5h-4zM1387.4 19.7h2.5V48.5h-2.5zM1401.3 19.7h2V48.5h-2zM1403.9 19.7h2.5V48.5h-2.5zM1407.5 19.7h2.5V48.5h-2.5zM1410.7 19.7h1.5V48.5h-1.5zM1412.8 19.7h3V48.5h-3zM1416.8 19.7h3V48.5h-3zM1420.7 19.7h2.5V48.5h-2.5zM1424.2 19.7h2.5V48.5h-2.5zM1427.5 19.7h4V48.5h-4zM1432.3 19.7h5V48.5h-5zM1438.4 19.7h2.5V48.5h-2.5zM1441.7 19.7h2.5V48.5h-2.5zM1445.0 19.7h2V48.5h-2zM1447.9 19.7h3V48.5h-3zM1451.7 19.7h2.5V48.5h-2.5zM1461.3 19.7h4V48.5h-4zM1467.0 19.7h4V48.5h-4zM1487.3 19.7h3V48.5h-3zM1494.2 32.1h3V48.5h-3zM1502.3 19.7h3V48.5h-3zM1508.8 27.4h3V48.5h-3zM1515.4 19.7h3V48.5h-3zM1522.5 25.9h5V48.5h-5zM1530.5 32.1h1.5V48.5h-1.5zM1532.8 32.1h3V48.5h-3zM1550.3 19.7h1.5V48.5h-1.5zM1552.9 19.7h2V48.5h-2zM1556.8 19.7h4V48.5h-4zM1564.3 19.7h2.5V48.5h-2.5zM1570.2 19.7h2V48.5h-2zM1574.3 19.7h1.5V48.5h-1.5zM1576.5 19.7h1.5V48.5h-1.5zM1600.3 19.7h2.5V48.5h-2.5zM1605.3 19.7h3V48.5h-3zM1611.5 19.7h2.5V48.5h-2.5zM1616.2 19.7h4V48.5h-4zM1623.1 19.7h4V48.5h-4zM1629.4 39.9h2V48.5h-2zM1632.7 35.2h4V48.5h-4zM1641.5 46.7h5V48.5h-5zM1651.1 46.7h5V48.5h-5zM1660.7 19.7h1.5V48.5h-1.5zM1663.7 19.7h3V48.5h-3zM1668.7 19.7h5V48.5h-5zM1678.5 32.1h5V48.5h-5zM1686.2 19.7h3V48.5h-3zM1690.9 19.7h5V48.5h-5zM1699.0 19.7h4V48.5h-4zM1705.4 19.7h2.5V48.5h-2.5zM1709.7 19.7h2V48.5h-2zM1712.4 19.7h2.5V48.5h-2.5zM1715.9 19.7h2.5V48.5h-2.5zM1719.4 19.7h3V48.5h-3zM1724.0 19.7h4V48.5h-4zM1731.1 19.7h5V48.5h-5zM1739.4 19.7h2V48.5h-2zM1742.2 19.7h2V48.5h-2zM1746.0 19.7h2.5V48.5h-2.5zM1750.9 19.7h2.5V48.5h-2.5zM1754.4 32.1h1.5V48.5h-1.5zM1757.0 32.1h3V48.5h-3zM1761.4 19.7h1.5V48.5h-1.5zM1763.6 19.7h3V48.5h-3zM1767.7 19.7h5V48.5h-5zM1774.6 19.7h2.5V48.5h-2.5zM1778.1 19.7h2V48.5h-2zM1781.6 19.7h3V48.5h-3zM1786.8 19.7h3V48.5h-3zM1791.8 19.7h1.5V48.5h-1.5zM1794.2 19.7h3V48.5h-3zM1799.9 19.7h3V48.5h-3zM1805.2 19.7h3V48.5h-3zM1809.4 19.7h4V48.5h-4zM1815.7 19.7h2V48.5h-2zM1818.5 19.7h1.5V48.5h-1.5zM1821.3 19.7h5V48.5h-5zM1829.5 19.7h1.5V48.5h-1.5zM1831.7 19.7h2.5V48.5h-2.5zM1835.5 19.7h2V48.5h-2zM1838.5 19.7h2V48.5h-2zM1841.9 19.7h2.5V48.5h-2.5zM1846.7 19.7h1.5V48.5h-1.5zM1849.4 19.7h4V48.5h-4zM1855.9 19.7h4V48.5h-4zM1863.5 19.7h5V48.5h-5zM1873.2 19.7h1.5V48.5h-1.5zM1875.4 19.7h2V48.5h-2zM1878.7 19.7h5V48.5h-5zM1887.1 19.7h3V48.5h-3zM1891.7 19.7h1.5V48.5h-1.5zM1894.6 19.7h3V48.5h-3zM1900.2 19.7h3V48.5h-3zM1905.1 19.7h3V48.5h-3zM1909.9 19.7h2.5V48.5h-2.5zM1913.7 19.7h4V48.5h-4zM1921.6 19.7h4V48.5h-4zM1927.7 19.7h5V48.5h-5zM1936.8 30.5h2.5V48.5h-2.5zM1940.5 19.7h2V48.5h-2zM1943.7 19.7h4V48.5h-4zM1949.3 19.7h2V48.5h-2zM1953.1 19.7h1.5V48.5h-1.5zM1955.4 19.7h2V48.5h-2zM1958.5 19.7h2.5V48.5h-2.5zM1963.2 19.7h2.5V48.5h-2.5zM1968.2 19.7h2.5V48.5h-2.5zM1972.8 19.7h2.5V48.5h-2.5zM1976.5 19.7h2V48.5h-2zM1979.8 19.7h2.5V48.5h-2.5zM1983.4 19.7h2.5V48.5h-2.5zM1988.1 19.7h3V48.5h-3zM1993.8 19.7h4V48.5h-4zM2000.9 19.7h1.5V48.5h-1.5zM2003.9 19.7h5V48.5h-5zM2011.3 19.7h5V48.5h-5zM2020.3 19.7h2.5V48.5h-2.5zM2024.2 19.7h2.5V48.5h-2.5zM2028.1 19.7h2V48.5h-2zM2031.5 19.7h3V48.5h-3zM2036.5 19.7h5V48.5h-5zM2044.9 19.7h4V48.5h-4zM2050.6 19.7h4V48.5h-4zM2058.2 19.7h3V48.5h-3zM2063.9 19.7h3V48.5h-3zM2069.9 19.7h2V48.5h-2zM2073.7 19.7h3V48.5h-3zM2079.4 19.7h3V48.5h-3zM2084.8 19.7h2.5V48.5h-2.5zM2089.3 19.7h2.5V48.5h-2.5zM2116.4 19.7h2V48.5h-2zM2133.2 19.7h2V48.5h-2zM2145.9 19.7h2V48.5h-2zM2161.0 19.7h1V48.5h-1zM2165.7 19.7h2V48.5h-2zM2189.3 19.7h1.5V48.5h-1.5zM2203.9 19.7h1.5V48.5h-1.5zM2217.6 19.7h1V48.5h-1zM2226.5 19.7h2V48.5h-2zM2240.2 19.7h2V48.5h-2zM2260.4 19.7h2V48.5h-2zM2274.3 19.7h1V48.5h-1zM2285.5 19.7h2.5V48.5h-2.5zM2309.3 19.7h1.5V48.5h-1.5zM2319.7 19.7h1.5V48.5h-1.5z" fill="#efefef"/><path d="M955.0 49.5V18.5H971.0V39.3H979.0V37.1H985.0V40.2H991.0V40.2H994.0V40.2H1002.0V35.2H1005.0V41.4H1009.0V40.2H1013.0V39.3H1018.0V41.4H1021.0V40.2H1027.0V37.1H1032.0V40.2H1036.0V39.3H1039.0V40.2H1044.0V37.1H1047.4V30.9H1054.0V18.5H1119.7V27.2H1123.0V30.9H1128.0V18.5H1131.5V30.9H1138.0V27.2H1144.0V44.9H1148.0V43.3H1154.0V44.9H1158.0V40.2H1161.0V35.5H1163.4V29.3H1165.0V23.2H1170.0V18.5H1203.7V30.9H1208.8V18.5H1213.0V30.9H1219.0V27.2H1220.5V23.2H1222.0V18.5H1234.0V30.9H1240.7V28.7H1243.0V30.9H1247.4V28.7H1250.0V23.2H1252.5V18.5H1321.4V30.9H1327.0V23.2H1329.0V18.5H1471.5V24.7H1474.9V30.9H1487.0V18.5H1493.8V30.9H1501.9V18.5H1508.0V26.2H1511.3V18.5H1516.7V30.3H1519.4V24.7H1523.5V30.9H1539.6V29.3H1541.7V18.5H1623.3V45.8H1625.3V43.3H1628.0V38.6H1630.0V34.0H1636.0V43.3H1641.0V45.5H1652.0V41.8H1657.0V30.9H1659.6V18.5H1674.5V30.9H1679.7V18.5H1731.7V26.2H1737.0V18.5H1752.5V30.9H1759.4V18.5H1865.0V24.7H1868.6V18.5H1929.0V29.3H1938.0V18.5H2425.0" fill="none" stroke="#4bb35a" stroke-width="1.1"/><path d="M955.0 49.5H2425.0" stroke="#4bb35a" stroke-width="1.9"/></svg>
<div class="b" style="left:955px;top:810px;width:70px;height:36px;background:rgba(255,255,255,.6);"></div>
<span class="t" style="left:962.7px;top:822.0px;font-size:18.5px;color:#555;transform:scaleX(0.9228);">2.5 GHz</span>
<svg style="left:0;top:859px" width="2425" height="51" viewBox="0 0 2425 51"><path d="M955.0 49.5V18.5H971.0V35.2H976.0V35.2H981.0V40.2H986.0V40.2H994.0V40.2H998.0V35.2H1003.0V40.2H1009.0V35.2H1015.0V41.4H1020.0V39.3H1023.0V40.2H1027.0V40.2H1033.0V35.2H1036.0V39.3H1040.0V40.2H1046.0V40.2H1047.4V30.9H1054.0V18.5H1119.7V27.2H1123.0V30.9H1128.0V18.5H1131.5V30.9H1138.0V27.2H1144.0V44.9H1148.0V43.3H1154.0V44.9H1158.0V40.2H1161.0V35.5H1163.4V29.3H1165.0V23.2H1170.0V18.5H1203.7V30.9H1208.8V18.5H1213.0V30.9H1219.0V27.2H1220.5V23.2H1222.0V18.5H1234.0V30.9H1240.7V28.7H1243.0V30.9H1247.4V28.7H1250.0V23.2H1252.5V18.5H1321.4V30.9H1327.0V23.2H1329.0V18.5H1471.5V24.7H1474.9V30.9H1487.0V18.5H1493.8V30.9H1501.9V18.5H1508.0V26.2H1511.3V18.5H1516.7V30.3H1519.4V24.7H1523.5V30.9H1539.6V29.3H1541.7V18.5H1623.3V45.8H1625.3V43.3H1628.0V38.6H1630.0V34.0H1636.0V43.3H1641.0V45.5H1652.0V41.8H1657.0V30.9H1659.6V18.5H1674.5V30.9H1679.7V18.5H1731.7V26.2H1737.0V18.5H1752.5V30.9H1759.4V18.5H1865.0V24.7H1868.6V18.5H1929.0V29.3H1938.0V18.5H2425.0V49.5Z" fill="#90d6bd"/><path d="M1049.0 30.9h9V33.7h-9zM1074.0 18.5h9V30.9h-9zM1089.0 18.5h6V23.2h-6zM1095.0 18.5h4V30.9h-4zM1099.0 18.5h4V23.2h-4zM1103.0 18.5h4V30.9h-4zM1107.0 18.5h2V23.2h-2zM1109.0 18.5h6V30.9h-6zM1115.0 27.2h6V32.8h-6zM1121.0 30.9h2V38.3h-2zM1128.0 27.2h14V30.5h-14zM1165.0 23.2h2V33.7h-2zM1187.0 18.5h14V30.9h-14zM1201.0 18.5h2V30.9h-2zM1203.0 30.9h3V35.5h-3zM1206.0 30.9h14V33.7h-14zM1220.0 27.2h4V30.5h-4zM1224.0 18.5h2V30.9h-2zM1226.0 18.5h6V30.9h-6zM1244.0 30.9h2V38.3h-2zM1246.0 30.9h4V33.7h-4zM1253.0 18.5h2V23.2h-2zM1322.0 30.9h14V38.3h-14zM1338.0 18.5h6V23.2h-6zM1344.0 18.5h14V23.2h-14zM1378.0 18.5h6V26.2h-6zM1407.0 18.5h14V26.2h-14zM1421.0 18.5h6V26.2h-6zM1430.0 18.5h4V30.9h-4zM1436.0 18.5h14V23.2h-14zM1450.0 18.5h9V30.9h-9zM1479.0 30.9h9V35.5h-9zM1520.0 30.9h6V33.7h-6zM1543.0 18.5h14V30.9h-14zM1568.0 18.5h2V30.9h-2zM1570.0 18.5h3V30.9h-3zM1576.0 18.5h4V26.2h-4zM1594.0 18.5h14V30.9h-14zM1664.0 18.5h3V30.9h-3zM1667.0 18.5h6V30.9h-6zM1702.0 18.5h4V23.2h-4zM1706.0 18.5h6V26.2h-6zM1714.0 18.5h2V26.2h-2zM1743.0 18.5h4V30.9h-4zM1747.0 18.5h4V23.2h-4zM1751.0 30.9h6V38.3h-6zM1806.0 18.5h4V23.2h-4zM1845.0 18.5h3V30.9h-3zM1848.0 18.5h2V30.9h-2zM1850.0 18.5h14V26.2h-14zM1902.0 18.5h9V30.9h-9zM1934.0 29.3h6V34.4h-6zM1940.0 18.5h14V30.9h-14zM1980.0 18.5h6V30.9h-6zM1988.0 18.5h4V26.2h-4zM2001.0 18.5h3V23.2h-3zM2018.0 18.5h9V30.9h-9zM2061.0 18.5h9V26.2h-9z" fill="#5cc2a0"/><path d="M955.0 19.7h2V48.5h-2zM957.6 19.7h2V48.5h-2zM960.2 19.7h3V48.5h-3zM963.8 19.7h1.5V48.5h-1.5zM965.9 19.7h5V48.5h-5zM971.5 36.4h2.5V48.5h-2.5zM974.7 36.4h2V48.5h-2zM977.3 36.4h2.5V48.5h-2.5zM980.4 36.4h1.5V48.5h-1.5zM982.5 41.4h3V48.5h-3zM986.1 41.4h5V48.5h-5zM991.7 41.4h4V48.5h-4zM996.4 41.4h1.5V48.5h-1.5zM998.5 36.4h4V48.5h-4zM1003.1 41.4h2.5V48.5h-2.5zM1006.2 41.4h4V48.5h-4zM1010.9 36.4h1.5V48.5h-1.5zM1013.0 36.4h2.5V48.5h-2.5zM1016.1 42.6h4V48.5h-4zM1020.7 40.5h1.5V48.5h-1.5zM1022.8 40.5h5V48.5h-5zM1028.9 41.4h2V48.5h-2zM1031.5 41.4h4V48.5h-4zM1036.3 40.5h2V48.5h-2zM1038.9 40.5h1.5V48.5h-1.5zM1041.0 41.4h2.5V48.5h-2.5zM1044.1 41.4h3V48.5h-3zM1047.8 32.1h2V48.5h-2zM1050.4 32.1h1.5V48.5h-1.5zM1052.5 32.1h5V48.5h-5zM1058.6 19.7h3V48.5h-3zM1062.8 19.7h3V48.5h-3zM1067.0 19.7h1.5V48.5h-1.5zM1069.1 19.7h2.5V48.5h-2.5zM1094.8 19.7h2V48.5h-2zM1097.5 19.7h2V48.5h-2zM1100.3 19.7h3V48.5h-3zM1104.7 19.7h1.5V48.5h-1.5zM1106.8 19.7h2.5V48.5h-2.5zM1110.3 19.7h3V48.5h-3zM1117.3 19.7h2.5V48.5h-2.5zM1120.7 28.4h4V48.5h-4zM1126.3 32.1h3V48.5h-3zM1130.3 19.7h1.5V48.5h-1.5zM1132.4 32.1h2V48.5h-2zM1135.0 32.1h5V48.5h-5zM1141.5 28.4h4V48.5h-4zM1146.8 46.1h3V48.5h-3zM1150.8 44.5h1.5V48.5h-1.5zM1153.0 44.5h4V48.5h-4zM1158.1 41.4h2.5V48.5h-2.5zM1161.5 36.8h5V48.5h-5zM1168.7 24.4h5V48.5h-5zM1175.1 19.7h2.5V48.5h-2.5zM1178.2 19.7h1.5V48.5h-1.5zM1180.3 19.7h3V48.5h-3zM1184.2 19.7h2.5V48.5h-2.5zM1187.6 19.7h3V48.5h-3zM1191.9 19.7h2.5V48.5h-2.5zM1195.1 19.7h4V48.5h-4zM1200.7 19.7h4V48.5h-4zM1205.6 32.1h2.5V48.5h-2.5zM1209.1 19.7h2.5V48.5h-2.5zM1212.3 19.7h4V48.5h-4zM1217.4 32.1h2V48.5h-2zM1220.3 28.4h3V48.5h-3zM1224.7 19.7h2.5V48.5h-2.5zM1228.2 19.7h1.5V48.5h-1.5zM1230.5 19.7h2.5V48.5h-2.5zM1233.6 19.7h2V48.5h-2zM1236.6 32.1h1.5V48.5h-1.5zM1238.7 32.1h5V48.5h-5zM1245.2 32.1h5V48.5h-5zM1252.4 24.4h3V48.5h-3zM1256.7 19.7h2V48.5h-2zM1259.6 19.7h2V48.5h-2zM1262.2 19.7h4V48.5h-4zM1267.2 19.7h1.5V48.5h-1.5zM1269.3 19.7h1.5V48.5h-1.5zM1292.3 19.7h2.5V48.5h-2.5zM1295.4 19.7h4V48.5h-4zM1301.1 19.7h3V48.5h-3zM1304.7 19.7h5V48.5h-5zM1311.8 19.7h2V48.5h-2zM1314.8 19.7h4V48.5h-4zM1319.8 19.7h2.5V48.5h-2.5zM1323.3 32.1h2.5V48.5h-2.5zM1326.6 32.1h4V48.5h-4zM1331.3 19.7h1.5V48.5h-1.5zM1333.4 19.7h5V48.5h-5zM1340.8 19.7h1.5V48.5h-1.5zM1342.9 19.7h4V48.5h-4zM1348.0 19.7h5V48.5h-5zM1355.5 19.7h4V48.5h-4zM1361.1 19.7h3V48.5h-3zM1365.6 19.7h4V48.5h-4zM1371.0 19.7h1.5V48.5h-1.5zM1373.1 19.7h2V48.5h-2zM1375.7 19.7h3V48.5h-3zM1379.7 19.7h5V48.5h-5zM1386.6 19.7h5V48.5h-5zM1393.4 19.7h3V48.5h-3zM1397.7 19.7h3V48.5h-3zM1419.9 19.7h4V48.5h-4zM1425.6 19.7h5V48.5h-5zM1448.3 19.7h5V48.5h-5zM1462.3 19.7h1.5V48.5h-1.5zM1464.4 19.7h5V48.5h-5zM1480.3 32.1h4V48.5h-4zM1489.2 19.7h2V48.5h-2zM1493.5 19.7h2.5V48.5h-2.5zM1497.9 32.1h4V48.5h-4zM1506.1 19.7h3V48.5h-3zM1513.2 19.7h2.5V48.5h-2.5zM1519.0 31.5h2V48.5h-2zM1522.0 25.9h3V48.5h-3zM1527.1 32.1h4V48.5h-4zM1534.7 32.1h2.5V48.5h-2.5zM1539.1 32.1h3V48.5h-3zM1544.8 19.7h4V48.5h-4zM1554.0 19.7h5V48.5h-5zM1565.3 19.7h2V48.5h-2zM1568.6 19.7h2.5V48.5h-2.5zM1584.3 19.7h3V48.5h-3zM1588.8 19.7h3V48.5h-3zM1595.4 19.7h2V48.5h-2zM1599.8 19.7h4V48.5h-4zM1607.4 19.7h4V48.5h-4zM1613.3 19.7h4V48.5h-4zM1621.1 19.7h5V48.5h-5zM1631.8 35.2h5V48.5h-5zM1642.5 46.7h2V48.5h-2zM1645.3 46.7h2V48.5h-2zM1649.2 46.7h4V48.5h-4zM1656.3 43.0h3V48.5h-3zM1661.9 19.7h5V48.5h-5zM1669.0 19.7h4V48.5h-4zM1676.7 32.1h5V48.5h-5zM1686.5 19.7h1.5V48.5h-1.5zM1689.2 19.7h5V48.5h-5zM1697.0 19.7h4V48.5h-4zM1703.8 19.7h2V48.5h-2zM1706.9 19.7h3V48.5h-3zM1712.5 19.7h2V48.5h-2zM1715.8 19.7h2V48.5h-2zM1719.3 19.7h5V48.5h-5zM1726.8 19.7h2V48.5h-2zM1729.8 19.7h2.5V48.5h-2.5zM1734.5 27.4h4V48.5h-4zM1740.3 19.7h2V48.5h-2zM1743.9 19.7h2.5V48.5h-2.5zM1747.9 19.7h1.5V48.5h-1.5zM1750.0 19.7h4V48.5h-4zM1756.0 32.1h4V48.5h-4zM1761.8 19.7h2.5V48.5h-2.5zM1766.1 19.7h2V48.5h-2zM1770.0 19.7h1.5V48.5h-1.5zM1772.4 19.7h1.5V48.5h-1.5zM1774.6 19.7h5V48.5h-5zM1784.2 19.7h5V48.5h-5zM1793.8 19.7h2.5V48.5h-2.5zM1798.0 19.7h2V48.5h-2zM1801.8 19.7h1.5V48.5h-1.5zM1804.3 19.7h3V48.5h-3zM1808.6 19.7h3V48.5h-3zM1813.1 19.7h2.5V48.5h-2.5zM1816.9 19.7h4V48.5h-4zM1823.9 19.7h2.5V48.5h-2.5zM1828.1 19.7h2V48.5h-2zM1830.9 19.7h2V48.5h-2zM1834.8 19.7h1.5V48.5h-1.5zM1837.1 19.7h4V48.5h-4zM1843.9 19.7h2V48.5h-2zM1846.7 19.7h3V48.5h-3zM1852.7 19.7h1.5V48.5h-1.5zM1855.4 19.7h1.5V48.5h-1.5zM1857.9 19.7h3V48.5h-3zM1862.5 19.7h2.5V48.5h-2.5zM1866.0 25.9h1.5V48.5h-1.5zM1868.8 19.7h3V48.5h-3zM1873.9 19.7h5V48.5h-5zM1883.2 19.7h2V48.5h-2zM1886.1 19.7h1.5V48.5h-1.5zM1888.5 19.7h2.5V48.5h-2.5zM1892.3 19.7h3V48.5h-3zM1897.3 19.7h5V48.5h-5zM1907.2 19.7h4V48.5h-4zM1913.2 19.7h2V48.5h-2zM1916.3 19.7h1.5V48.5h-1.5zM1918.6 19.7h4V48.5h-4zM1925.4 19.7h1.5V48.5h-1.5zM1927.9 19.7h1.5V48.5h-1.5zM1930.0 30.5h2V48.5h-2zM1933.8 30.5h2V48.5h-2zM1937.3 30.5h5V48.5h-5zM1946.2 19.7h2V48.5h-2zM1950.1 19.7h2V48.5h-2zM1953.4 19.7h5V48.5h-5zM1962.1 19.7h1.5V48.5h-1.5zM1964.9 19.7h2.5V48.5h-2.5zM1968.4 19.7h2V48.5h-2zM1972.0 19.7h5V48.5h-5zM1981.8 19.7h5V48.5h-5zM1991.3 19.7h4V48.5h-4zM1996.9 19.7h2V48.5h-2zM1999.6 19.7h5V48.5h-5zM2009.0 19.7h2V48.5h-2zM2012.4 19.7h2V48.5h-2zM2015.6 19.7h2.5V48.5h-2.5zM2019.3 19.7h1.5V48.5h-1.5zM2021.8 19.7h5V48.5h-5zM2030.1 19.7h3V48.5h-3zM2035.2 19.7h2.5V48.5h-2.5zM2039.2 19.7h1.5V48.5h-1.5zM2041.8 19.7h2.5V48.5h-2.5zM2046.1 19.7h2V48.5h-2zM2049.3 19.7h4V48.5h-4zM2056.8 19.7h2V48.5h-2zM2060.7 19.7h3V48.5h-3zM2065.9 19.7h1.5V48.5h-1.5zM2068.9 19.7h3V48.5h-3zM2073.1 19.7h2.5V48.5h-2.5zM2076.7 19.7h3V48.5h-3zM2082.2 19.7h1.5V48.5h-1.5zM2084.9 19.7h2.5V48.5h-2.5zM2089.6 19.7h2.5V48.5h-2.5zM2112.9 19.7h2V48.5h-2zM2125.2 19.7h1.5V48.5h-1.5zM2137.2 19.7h1.5V48.5h-1.5zM2154.5 19.7h1V48.5h-1zM2163.9 19.7h1.5V48.5h-1.5zM2175.7 19.7h2V48.5h-2zM2186.8 19.7h1V48.5h-1zM2195.5 19.7h1.5V48.5h-1.5zM2205.7 19.7h1.5V48.5h-1.5zM2222.4 19.7h2.5V48.5h-2.5zM2245.7 19.7h2V48.5h-2zM2259.6 19.7h1.5V48.5h-1.5zM2270.4 19.7h2.5V48.5h-2.5zM2296.1 19.7h1.5V48.5h-1.5zM2308.8 19.7h2.5V48.5h-2.5zM2332.1 19.7h2V48.5h-2z" fill="#efefef"/><path d="M955.0 49.5V18.5H971.0V35.2H976.0V35.2H981.0V40.2H986.0V40.2H994.0V40.2H998.0V35.2H1003.0V40.2H1009.0V35.2H1015.0V41.4H1020.0V39.3H1023.0V40.2H1027.0V40.2H1033.0V35.2H1036.0V39.3H1040.0V40.2H1046.0V40.2H1047.4V30.9H1054.0V18.5H1119.7V27.2H1123.0V30.9H1128.0V18.5H1131.5V30.9H1138.0V27.2H1144.0V44.9H1148.0V43.3H1154.0V44.9H1158.0V40.2H1161.0V35.5H1163.4V29.3H1165.0V23.2H1170.0V18.5H1203.7V30.9H1208.8V18.5H1213.0V30.9H1219.0V27.2H1220.5V23.2H1222.0V18.5H1234.0V30.9H1240.7V28.7H1243.0V30.9H1247.4V28.7H1250.0V23.2H1252.5V18.5H1321.4V30.9H1327.0V23.2H1329.0V18.5H1471.5V24.7H1474.9V30.9H1487.0V18.5H1493.8V30.9H1501.9V18.5H1508.0V26.2H1511.3V18.5H1516.7V30.3H1519.4V24.7H1523.5V30.9H1539.6V29.3H1541.7V18.5H1623.3V45.8H1625.3V43.3H1628.0V38.6H1630.0V34.0H1636.0V43.3H1641.0V45.5H1652.0V41.8H1657.0V30.9H1659.6V18.5H1674.5V30.9H1679.7V18.5H1731.7V26.2H1737.0V18.5H1752.5V30.9H1759.4V18.5H1865.0V24.7H1868.6V18.5H1929.0V29.3H1938.0V18.5H2425.0" fill="none" stroke="#45b08a" stroke-width="1.1"/><path d="M955.0 49.5H2425.0" stroke="#45b08a" stroke-width="1.9"/></svg>
<div class="b" style="left:955px;top:860px;width:70px;height:36px;background:rgba(255,255,255,.6);"></div>
<span class="t" style="left:962.7px;top:872.0px;font-size:18.5px;color:#555;transform:scaleX(0.9228);">2.5 GHz</span>
<svg style="left:0;top:909px" width="2425" height="51" viewBox="0 0 2425 51"><path d="M955.0 49.5V18.5H971.0V37.1H976.0V40.2H981.0V35.2H985.0V39.3H988.0V35.2H994.0V37.1H997.0V40.2H1002.0V40.2H1005.0V35.2H1010.0V35.2H1018.0V40.2H1022.0V37.1H1025.0V35.2H1028.0V41.4H1031.0V37.1H1035.0V40.2H1043.0V41.4H1047.4V30.9H1054.0V18.5H1119.7V27.2H1123.0V30.9H1128.0V18.5H1131.5V30.9H1138.0V27.2H1144.0V44.9H1148.0V43.3H1154.0V44.9H1158.0V40.2H1161.0V35.5H1163.4V29.3H1165.0V23.2H1170.0V18.5H1203.7V30.9H1208.8V18.5H1213.0V30.9H1219.0V27.2H1220.5V23.2H1222.0V18.5H1234.0V30.9H1240.7V28.7H1243.0V30.9H1247.4V28.7H1250.0V23.2H1252.5V18.5H1321.4V30.9H1327.0V23.2H1329.0V18.5H1471.5V24.7H1474.9V30.9H1487.0V18.5H1493.8V30.9H1501.9V18.5H1508.0V26.2H1511.3V18.5H1516.7V30.3H1519.4V24.7H1523.5V30.9H1539.6V29.3H1541.7V18.5H1623.3V45.8H1625.3V43.3H1628.0V38.6H1630.0V34.0H1636.0V43.3H1641.0V45.5H1652.0V41.8H1657.0V30.9H1659.6V18.5H1674.5V30.9H1679.7V18.5H1731.7V26.2H1737.0V18.5H1752.5V30.9H1759.4V18.5H1865.0V24.7H1868.6V18.5H1929.0V29.3H1938.0V18.5H2425.0V49.5Z" fill="#8fc6d4"/><path d="M957.0 18.5h2V30.9h-2zM1062.0 18.5h2V26.2h-2zM1067.0 18.5h6V26.2h-6zM1073.0 18.5h3V30.9h-3zM1087.0 18.5h9V30.9h-9zM1096.0 18.5h4V30.9h-4zM1100.0 18.5h4V26.2h-4zM1124.0 30.9h6V33.7h-6zM1168.0 23.2h14V33.7h-14zM1187.0 18.5h14V30.9h-14zM1207.0 30.9h14V33.7h-14zM1221.0 23.2h4V29.7h-4zM1225.0 18.5h6V30.9h-6zM1231.0 30.9h3V38.3h-3zM1234.0 30.9h3V35.5h-3zM1237.0 30.9h9V38.3h-9zM1246.0 30.9h9V38.3h-9zM1267.0 18.5h3V30.9h-3zM1274.0 18.5h9V23.2h-9zM1286.0 18.5h9V30.9h-9zM1295.0 18.5h4V23.2h-4zM1326.0 30.9h6V35.5h-6zM1337.0 18.5h14V30.9h-14zM1385.0 18.5h2V23.2h-2zM1387.0 18.5h6V30.9h-6zM1397.0 18.5h9V23.2h-9zM1419.0 18.5h4V23.2h-4zM1464.0 30.9h14V35.5h-14zM1478.0 30.9h3V33.7h-3zM1502.0 26.2h9V29.7h-9zM1535.0 30.9h4V33.7h-4zM1597.0 18.5h2V26.2h-2zM1599.0 18.5h14V26.2h-14zM1613.0 18.5h4V26.2h-4zM1667.0 18.5h4V23.2h-4zM1684.0 18.5h9V23.2h-9zM1740.0 30.9h14V38.3h-14zM1811.0 18.5h4V26.2h-4zM1821.0 18.5h2V30.9h-2zM1823.0 18.5h9V23.2h-9zM1846.0 18.5h2V26.2h-2zM1856.0 18.5h3V30.9h-3zM1876.0 18.5h9V30.9h-9zM1908.0 18.5h2V30.9h-2zM1924.0 18.5h4V23.2h-4zM1942.0 18.5h9V30.9h-9zM1953.0 18.5h9V30.9h-9zM1962.0 18.5h6V30.9h-6zM2006.0 18.5h4V26.2h-4zM2016.0 18.5h3V26.2h-3zM2019.0 18.5h14V26.2h-14zM2078.0 18.5h4V23.2h-4zM2202.0 18.5h9V26.2h-9z" fill="#58a9c2"/><path d="M955.0 19.7h5V48.5h-5zM960.6 19.7h2.5V48.5h-2.5zM963.7 19.7h5V48.5h-5zM969.3 19.7h4V48.5h-4zM973.9 38.3h5V48.5h-5zM979.7 41.4h4V48.5h-4zM984.8 36.4h5V48.5h-5zM990.9 36.4h3V48.5h-3zM994.5 38.3h2V48.5h-2zM997.1 41.4h2.5V48.5h-2.5zM1000.2 41.4h2.5V48.5h-2.5zM1003.3 41.4h2.5V48.5h-2.5zM1006.4 36.4h4V48.5h-4zM1011.3 36.4h2V48.5h-2zM1013.9 36.4h3V48.5h-3zM1017.5 36.4h2.5V48.5h-2.5zM1020.6 41.4h4V48.5h-4zM1025.3 36.4h3V48.5h-3zM1028.9 42.6h2V48.5h-2zM1031.5 38.3h4V48.5h-4zM1036.3 41.4h4V48.5h-4zM1041.1 41.4h1.5V48.5h-1.5zM1043.2 42.6h3V48.5h-3zM1046.8 42.6h4V48.5h-4zM1051.4 32.1h2.5V48.5h-2.5zM1054.5 19.7h5V48.5h-5zM1061.2 19.7h2V48.5h-2zM1063.8 19.7h5V48.5h-5zM1070.3 19.7h4V48.5h-4zM1075.3 19.7h4V48.5h-4zM1090.3 19.7h4V48.5h-4zM1095.4 19.7h4V48.5h-4zM1100.9 19.7h2.5V48.5h-2.5zM1104.0 19.7h3V48.5h-3zM1107.8 19.7h1.5V48.5h-1.5zM1109.9 19.7h1.5V48.5h-1.5zM1112.1 19.7h5V48.5h-5zM1119.4 19.7h5V48.5h-5zM1125.8 32.1h5V48.5h-5zM1132.5 32.1h2.5V48.5h-2.5zM1136.1 32.1h5V48.5h-5zM1142.3 28.4h4V48.5h-4zM1148.2 44.5h1.5V48.5h-1.5zM1150.3 44.5h4V48.5h-4zM1155.6 46.1h1.5V48.5h-1.5zM1157.7 46.1h3V48.5h-3zM1165.3 24.4h3V48.5h-3zM1169.3 24.4h1.5V48.5h-1.5zM1171.5 19.7h4V48.5h-4zM1176.2 19.7h2V48.5h-2zM1178.8 19.7h3V48.5h-3zM1182.4 19.7h2.5V48.5h-2.5zM1185.5 19.7h3V48.5h-3zM1189.5 19.7h2.5V48.5h-2.5zM1192.8 19.7h5V48.5h-5zM1199.6 19.7h1.5V48.5h-1.5zM1201.9 19.7h2V48.5h-2zM1204.6 32.1h2.5V48.5h-2.5zM1207.7 32.1h2V48.5h-2zM1210.3 19.7h5V48.5h-5zM1217.0 32.1h1.5V48.5h-1.5zM1219.2 28.4h3V48.5h-3zM1222.9 19.7h4V48.5h-4zM1228.7 19.7h5V48.5h-5zM1234.9 32.1h2V48.5h-2zM1237.5 32.1h2V48.5h-2zM1240.2 32.1h1.5V48.5h-1.5zM1242.3 29.9h4V48.5h-4zM1248.3 29.9h2.5V48.5h-2.5zM1251.6 24.4h3V48.5h-3zM1255.6 19.7h2.5V48.5h-2.5zM1259.1 19.7h5V48.5h-5zM1265.4 19.7h5V48.5h-5zM1272.7 19.7h5V48.5h-5zM1288.9 19.7h4V48.5h-4zM1294.2 19.7h4V48.5h-4zM1298.9 19.7h2.5V48.5h-2.5zM1302.0 19.7h2.5V48.5h-2.5zM1305.3 19.7h2V48.5h-2zM1308.0 19.7h4V48.5h-4zM1316.3 19.7h3V48.5h-3zM1320.7 19.7h2V48.5h-2zM1323.3 32.1h4V48.5h-4zM1328.7 24.4h4V48.5h-4zM1334.0 19.7h3V48.5h-3zM1337.9 19.7h2.5V48.5h-2.5zM1341.5 19.7h1.5V48.5h-1.5zM1343.7 19.7h1.5V48.5h-1.5zM1345.8 19.7h3V48.5h-3zM1349.7 19.7h1.5V48.5h-1.5zM1351.8 19.7h2V48.5h-2zM1354.4 19.7h4V48.5h-4zM1360.3 19.7h4V48.5h-4zM1365.1 19.7h1.5V48.5h-1.5zM1367.2 19.7h2.5V48.5h-2.5zM1371.0 19.7h4V48.5h-4zM1376.1 19.7h5V48.5h-5zM1382.1 19.7h1.5V48.5h-1.5zM1384.2 19.7h5V48.5h-5zM1391.1 19.7h2V48.5h-2zM1393.9 19.7h2.5V48.5h-2.5zM1397.6 19.7h1.5V48.5h-1.5zM1399.7 19.7h3V48.5h-3zM1403.5 19.7h1.5V48.5h-1.5zM1405.7 19.7h5V48.5h-5zM1411.9 19.7h1.5V48.5h-1.5zM1414.0 19.7h2V48.5h-2zM1416.6 19.7h1.5V48.5h-1.5zM1418.7 19.7h2V48.5h-2zM1421.7 19.7h2.5V48.5h-2.5zM1425.4 19.7h5V48.5h-5zM1431.9 19.7h4V48.5h-4zM1437.0 19.7h2V48.5h-2zM1439.6 19.7h2.5V48.5h-2.5zM1443.0 19.7h2V48.5h-2zM1445.6 19.7h4V48.5h-4zM1451.4 19.7h2.5V48.5h-2.5zM1454.8 19.7h2V48.5h-2zM1467.1 19.7h3V48.5h-3zM1471.3 19.7h2V48.5h-2zM1486.0 32.1h4V48.5h-4zM1494.3 32.1h4V48.5h-4zM1501.8 32.1h2.5V48.5h-2.5zM1507.5 19.7h4V48.5h-4zM1513.6 19.7h3V48.5h-3zM1518.3 31.5h2V48.5h-2zM1521.2 25.9h2V48.5h-2zM1524.2 32.1h2.5V48.5h-2.5zM1528.8 32.1h5V48.5h-5zM1540.3 30.5h4V48.5h-4zM1551.3 19.7h5V48.5h-5zM1561.1 19.7h5V48.5h-5zM1581.8 19.7h4V48.5h-4zM1587.7 19.7h2V48.5h-2zM1603.3 19.7h4V48.5h-4zM1612.7 19.7h4V48.5h-4zM1619.1 19.7h1.5V48.5h-1.5zM1622.4 19.7h1.5V48.5h-1.5zM1625.4 44.5h4V48.5h-4zM1634.5 35.2h3V48.5h-3zM1639.0 44.5h1.5V48.5h-1.5zM1642.0 46.7h1.5V48.5h-1.5zM1645.2 46.7h2V48.5h-2zM1648.5 46.7h5V48.5h-5zM1660.5 19.7h1.5V48.5h-1.5zM1663.2 19.7h1.5V48.5h-1.5zM1665.8 19.7h2V48.5h-2zM1669.8 19.7h2.5V48.5h-2.5zM1674.3 19.7h2V48.5h-2zM1679.0 32.1h3V48.5h-3zM1685.6 19.7h2V48.5h-2zM1689.3 19.7h2V48.5h-2zM1694.1 19.7h2V48.5h-2zM1698.3 19.7h4V48.5h-4zM1705.2 19.7h5V48.5h-5zM1714.7 19.7h4V48.5h-4zM1722.0 19.7h4V48.5h-4zM1730.7 19.7h4V48.5h-4zM1736.9 27.4h2V48.5h-2zM1740.5 19.7h3V48.5h-3zM1748.0 19.7h3V48.5h-3zM1754.4 32.1h3V48.5h-3zM1759.0 32.1h5V48.5h-5zM1768.5 19.7h3V48.5h-3zM1773.7 19.7h4V48.5h-4zM1781.4 19.7h3V48.5h-3zM1788.3 19.7h1.5V48.5h-1.5zM1791.2 19.7h2.5V48.5h-2.5zM1797.0 19.7h1.5V48.5h-1.5zM1800.4 19.7h2.5V48.5h-2.5zM1805.9 19.7h4V48.5h-4zM1815.1 19.7h2V48.5h-2zM1818.3 19.7h2V48.5h-2zM1822.1 19.7h2V48.5h-2zM1826.5 19.7h1.5V48.5h-1.5zM1829.0 19.7h3V48.5h-3zM1835.8 19.7h3V48.5h-3zM1840.7 19.7h2.5V48.5h-2.5zM1846.1 19.7h1.5V48.5h-1.5zM1849.7 19.7h5V48.5h-5zM1857.9 19.7h2V48.5h-2zM1862.9 19.7h3V48.5h-3zM1867.9 25.9h2.5V48.5h-2.5zM1872.0 19.7h3V48.5h-3zM1878.6 19.7h2.5V48.5h-2.5zM1883.4 19.7h1.5V48.5h-1.5zM1886.5 19.7h2.5V48.5h-2.5zM1892.2 19.7h2.5V48.5h-2.5zM1897.1 19.7h3V48.5h-3zM1903.9 19.7h2.5V48.5h-2.5zM1908.0 19.7h4V48.5h-4zM1915.4 19.7h2V48.5h-2zM1918.4 19.7h2V48.5h-2zM1922.3 19.7h4V48.5h-4zM1930.7 30.5h4V48.5h-4zM1940.4 19.7h5V48.5h-5zM1948.9 19.7h2.5V48.5h-2.5zM1954.7 19.7h1.5V48.5h-1.5zM1957.3 19.7h4V48.5h-4zM1966.1 19.7h2V48.5h-2zM1969.4 19.7h5V48.5h-5zM1977.4 19.7h4V48.5h-4zM1987.1 19.7h3V48.5h-3zM1994.6 19.7h4V48.5h-4zM2003.5 19.7h1.5V48.5h-1.5zM2006.9 19.7h5V48.5h-5zM2015.3 19.7h1.5V48.5h-1.5zM2019.0 19.7h2.5V48.5h-2.5zM2023.9 19.7h2.5V48.5h-2.5zM2028.0 19.7h5V48.5h-5zM2035.9 19.7h2.5V48.5h-2.5zM2041.3 19.7h4V48.5h-4zM2050.1 19.7h1.5V48.5h-1.5zM2053.2 19.7h2.5V48.5h-2.5zM2058.3 19.7h4V48.5h-4zM2067.0 19.7h2V48.5h-2zM2070.2 19.7h2.5V48.5h-2.5zM2074.0 19.7h3V48.5h-3zM2081.0 19.7h2.5V48.5h-2.5zM2085.3 19.7h1V48.5h-1zM2092.1 19.7h2V48.5h-2zM2106.9 19.7h1.5V48.5h-1.5zM2116.1 19.7h1V48.5h-1zM2125.8 19.7h1V48.5h-1zM2137.7 19.7h1V48.5h-1zM2143.2 19.7h2V48.5h-2zM2166.1 19.7h1.5V48.5h-1.5zM2177.9 19.7h1.5V48.5h-1.5zM2190.7 19.7h2V48.5h-2zM2207.7 19.7h2V48.5h-2zM2228.8 19.7h2V48.5h-2zM2238.6 19.7h1V48.5h-1zM2245.8 19.7h2.5V48.5h-2.5zM2257.8 19.7h2V48.5h-2zM2275.0 19.7h1V48.5h-1zM2281.4 19.7h2.5V48.5h-2.5zM2298.8 19.7h1V48.5h-1zM2304.3 19.7h2.5V48.5h-2.5zM2318.2 19.7h2V48.5h-2zM2333.9 19.7h2V48.5h-2z" fill="#efefef"/><path d="M955.0 49.5V18.5H971.0V37.1H976.0V40.2H981.0V35.2H985.0V39.3H988.0V35.2H994.0V37.1H997.0V40.2H1002.0V40.2H1005.0V35.2H1010.0V35.2H1018.0V40.2H1022.0V37.1H1025.0V35.2H1028.0V41.4H1031.0V37.1H1035.0V40.2H1043.0V41.4H1047.4V30.9H1054.0V18.5H1119.7V27.2H1123.0V30.9H1128.0V18.5H1131.5V30.9H1138.0V27.2H1144.0V44.9H1148.0V43.3H1154.0V44.9H1158.0V40.2H1161.0V35.5H1163.4V29.3H1165.0V23.2H1170.0V18.5H1203.7V30.9H1208.8V18.5H1213.0V30.9H1219.0V27.2H1220.5V23.2H1222.0V18.5H1234.0V30.9H1240.7V28.7H1243.0V30.9H1247.4V28.7H1250.0V23.2H1252.5V18.5H1321.4V30.9H1327.0V23.2H1329.0V18.5H1471.5V24.7H1474.9V30.9H1487.0V18.5H1493.8V30.9H1501.9V18.5H1508.0V26.2H1511.3V18.5H1516.7V30.3H1519.4V24.7H1523.5V30.9H1539.6V29.3H1541.7V18.5H1623.3V45.8H1625.3V43.3H1628.0V38.6H1630.0V34.0H1636.0V43.3H1641.0V45.5H1652.0V41.8H1657.0V30.9H1659.6V18.5H1674.5V30.9H1679.7V18.5H1731.7V26.2H1737.0V18.5H1752.5V30.9H1759.4V18.5H1865.0V24.7H1868.6V18.5H1929.0V29.3H1938.0V18.5H2425.0" fill="none" stroke="#459fb3" stroke-width="1.1"/><path d="M955.0 49.5H2425.0" stroke="#459fb3" stroke-width="1.9"/></svg>
<div class="b" style="left:955px;top:910px;width:70px;height:36px;background:rgba(255,255,255,.6);"></div>
<span class="t" style="left:962.7px;top:922.0px;font-size:18.5px;color:#555;transform:scaleX(0.9228);">2.5 GHz</span>
<svg style="left:0;top:959px" width="2425" height="51" viewBox="0 0 2425 51"><path d="M955.0 49.5V18.5H971.0V40.2H975.0V40.2H979.0V39.3H984.0V40.2H987.0V41.4H993.0V35.2H996.0V41.4H999.0V35.2H1007.0V35.2H1013.0V39.3H1016.0V41.4H1024.0V40.2H1030.0V37.1H1036.0V39.3H1041.0V39.3H1046.0V35.2H1047.4V30.9H1054.0V18.5H1119.7V27.2H1123.0V30.9H1128.0V18.5H1131.5V30.9H1138.0V27.2H1144.0V44.9H1148.0V43.3H1154.0V44.9H1158.0V40.2H1161.0V35.5H1163.4V29.3H1165.0V23.2H1170.0V18.5H1203.7V30.9H1208.8V18.5H1213.0V30.9H1219.0V27.2H1220.5V23.2H1222.0V18.5H1234.0V30.9H1240.7V28.7H1243.0V30.9H1247.4V28.7H1250.0V23.2H1252.5V18.5H1321.4V30.9H1327.0V23.2H1329.0V18.5H1471.5V24.7H1474.9V30.9H1487.0V18.5H1493.8V30.9H1501.9V18.5H1508.0V26.2H1511.3V18.5H1516.7V30.3H1519.4V24.7H1523.5V30.9H1539.6V29.3H1541.7V18.5H1623.3V45.8H1625.3V43.3H1628.0V38.6H1630.0V34.0H1636.0V43.3H1641.0V45.5H1652.0V41.8H1657.0V30.9H1659.6V18.5H1674.5V30.9H1679.7V18.5H1731.7V26.2H1737.0V18.5H1752.5V30.9H1759.4V18.5H1865.0V24.7H1868.6V18.5H1929.0V29.3H1938.0V18.5H2425.0V49.5Z" fill="#919fd6"/><path d="M955.0 18.5h3V26.2h-3zM1048.0 30.9h2V35.5h-2zM1108.0 18.5h6V30.9h-6zM1166.0 23.2h14V29.7h-14zM1180.0 18.5h2V30.9h-2zM1191.0 18.5h2V30.9h-2zM1197.0 18.5h14V26.2h-14zM1211.0 30.9h6V33.7h-6zM1217.0 30.9h6V35.5h-6zM1223.0 18.5h9V30.9h-9zM1232.0 30.9h2V38.3h-2zM1234.0 30.9h14V35.5h-14zM1254.0 18.5h3V26.2h-3zM1277.0 18.5h14V30.9h-14zM1293.0 18.5h4V30.9h-4zM1297.0 18.5h6V23.2h-6zM1303.0 18.5h3V30.9h-3zM1306.0 18.5h3V26.2h-3zM1313.0 18.5h3V23.2h-3zM1316.0 18.5h4V23.2h-4zM1329.0 18.5h4V26.2h-4zM1351.0 18.5h14V30.9h-14zM1365.0 18.5h14V30.9h-14zM1379.0 18.5h14V30.9h-14zM1399.0 18.5h14V23.2h-14zM1429.0 18.5h2V30.9h-2zM1431.0 18.5h2V30.9h-2zM1433.0 18.5h14V26.2h-14zM1447.0 18.5h9V30.9h-9zM1456.0 18.5h14V30.9h-14zM1470.0 24.7h4V30.9h-4zM1474.0 30.9h2V33.7h-2zM1482.0 30.9h6V38.3h-6zM1488.0 18.5h4V30.9h-4zM1492.0 30.9h4V35.5h-4zM1499.0 30.9h2V35.5h-2zM1505.0 18.5h9V23.2h-9zM1555.0 18.5h6V30.9h-6zM1588.0 18.5h9V30.9h-9zM1618.0 18.5h4V23.2h-4zM1660.0 18.5h9V30.9h-9zM1708.0 18.5h6V26.2h-6zM1724.0 18.5h6V30.9h-6zM1737.0 18.5h14V30.9h-14zM1764.0 18.5h9V26.2h-9zM1777.0 18.5h9V30.9h-9zM1786.0 18.5h2V30.9h-2zM1788.0 18.5h2V30.9h-2zM1829.0 18.5h3V30.9h-3zM1904.0 18.5h4V30.9h-4zM1945.0 18.5h6V23.2h-6zM1980.0 18.5h3V23.2h-3zM1983.0 18.5h14V26.2h-14zM2009.0 18.5h14V26.2h-14zM2041.0 18.5h3V30.9h-3zM2053.0 18.5h3V30.9h-3z" fill="#5a72c6"/><path d="M967.9 19.7h2V48.5h-2zM970.5 19.7h3V48.5h-3zM974.1 41.4h2.5V48.5h-2.5zM977.2 41.4h5V48.5h-5zM982.9 40.5h4V48.5h-4zM987.5 42.6h1.5V48.5h-1.5zM989.6 42.6h2.5V48.5h-2.5zM992.8 42.6h2V48.5h-2zM995.4 36.4h2V48.5h-2zM998.0 42.6h2V48.5h-2zM1000.6 36.4h2V48.5h-2zM1003.2 36.4h2.5V48.5h-2.5zM1006.3 36.4h2V48.5h-2zM1008.9 36.4h3V48.5h-3zM1012.5 36.4h5V48.5h-5zM1018.2 42.6h1.5V48.5h-1.5zM1020.3 42.6h2.5V48.5h-2.5zM1023.4 42.6h2.5V48.5h-2.5zM1026.5 41.4h5V48.5h-5zM1032.2 38.3h2.5V48.5h-2.5zM1035.3 38.3h1.5V48.5h-1.5zM1037.4 40.5h2V48.5h-2zM1040.0 40.5h3V48.5h-3zM1043.7 40.5h3V48.5h-3zM1047.3 36.4h1.5V48.5h-1.5zM1049.4 32.1h3V48.5h-3zM1053.0 32.1h4V48.5h-4zM1058.0 19.7h3V48.5h-3zM1061.8 19.7h3V48.5h-3zM1065.8 19.7h2.5V48.5h-2.5zM1068.9 19.7h4V48.5h-4zM1074.6 19.7h5V48.5h-5zM1081.0 19.7h4V48.5h-4zM1086.9 19.7h5V48.5h-5zM1093.2 19.7h2V48.5h-2zM1095.8 19.7h2.5V48.5h-2.5zM1099.3 19.7h2.5V48.5h-2.5zM1102.4 19.7h3V48.5h-3zM1106.0 19.7h1.5V48.5h-1.5zM1108.1 19.7h1.5V48.5h-1.5zM1110.2 19.7h5V48.5h-5zM1116.9 19.7h4V48.5h-4zM1122.3 28.4h3V48.5h-3zM1126.0 32.1h4V48.5h-4zM1131.9 32.1h5V48.5h-5zM1138.7 28.4h4V48.5h-4zM1143.5 28.4h4V48.5h-4zM1148.3 44.5h4V48.5h-4zM1154.2 46.1h5V48.5h-5zM1160.5 41.4h2V48.5h-2zM1163.3 36.8h5V48.5h-5zM1170.1 19.7h1.5V48.5h-1.5zM1172.2 19.7h1.5V48.5h-1.5zM1174.3 19.7h2.5V48.5h-2.5zM1178.0 19.7h2.5V48.5h-2.5zM1181.6 19.7h3V48.5h-3zM1185.5 19.7h3V48.5h-3zM1189.8 19.7h4V48.5h-4zM1194.6 19.7h5V48.5h-5zM1201.2 19.7h3V48.5h-3zM1205.1 32.1h2.5V48.5h-2.5zM1208.4 32.1h1.5V48.5h-1.5zM1210.5 19.7h1.5V48.5h-1.5zM1212.6 19.7h2V48.5h-2zM1215.4 32.1h2.5V48.5h-2.5zM1218.9 32.1h4V48.5h-4zM1224.4 19.7h2V48.5h-2zM1227.0 19.7h2.5V48.5h-2.5zM1230.4 19.7h2V48.5h-2zM1233.0 19.7h1.5V48.5h-1.5zM1235.1 32.1h2.5V48.5h-2.5zM1238.7 32.1h1.5V48.5h-1.5zM1240.8 29.9h3V48.5h-3zM1245.0 32.1h1.5V48.5h-1.5zM1247.1 32.1h2.5V48.5h-2.5zM1250.5 24.4h2.5V48.5h-2.5zM1254.1 19.7h5V48.5h-5zM1261.4 19.7h1.5V48.5h-1.5zM1263.7 19.7h5V48.5h-5zM1289.8 19.7h1.5V48.5h-1.5zM1292.0 19.7h4V48.5h-4zM1297.4 19.7h2V48.5h-2zM1300.2 19.7h3V48.5h-3zM1304.4 19.7h4V48.5h-4zM1309.7 19.7h1.5V48.5h-1.5zM1311.8 19.7h1.5V48.5h-1.5zM1313.9 19.7h3V48.5h-3zM1317.7 19.7h5V48.5h-5zM1325.1 32.1h5V48.5h-5zM1332.2 19.7h4V48.5h-4zM1337.5 19.7h3V48.5h-3zM1341.3 19.7h2V48.5h-2zM1344.3 19.7h3V48.5h-3zM1348.5 19.7h5V48.5h-5zM1355.4 19.7h4V48.5h-4zM1360.2 19.7h2V48.5h-2zM1363.1 19.7h2V48.5h-2zM1365.7 19.7h4V48.5h-4zM1370.8 19.7h2V48.5h-2zM1373.7 19.7h5V48.5h-5zM1380.8 19.7h5V48.5h-5zM1387.7 19.7h1.5V48.5h-1.5zM1389.8 19.7h1.5V48.5h-1.5zM1391.9 19.7h4V48.5h-4zM1397.4 19.7h5V48.5h-5zM1404.0 19.7h2.5V48.5h-2.5zM1407.1 19.7h5V48.5h-5zM1413.8 19.7h3V48.5h-3zM1417.6 19.7h4V48.5h-4zM1423.2 19.7h1.5V48.5h-1.5zM1425.5 19.7h3V48.5h-3zM1429.8 19.7h5V48.5h-5zM1436.5 19.7h1.5V48.5h-1.5zM1438.7 19.7h5V48.5h-5zM1445.9 19.7h2.5V48.5h-2.5zM1449.0 19.7h3V48.5h-3zM1452.6 19.7h2.5V48.5h-2.5zM1463.3 19.7h5V48.5h-5zM1479.9 32.1h3V48.5h-3zM1485.2 32.1h3V48.5h-3zM1492.1 19.7h5V48.5h-5zM1502.6 19.7h2V48.5h-2zM1506.8 19.7h5V48.5h-5zM1517.7 31.5h5V48.5h-5zM1526.5 32.1h1.5V48.5h-1.5zM1529.7 32.1h1.5V48.5h-1.5zM1531.9 32.1h3V48.5h-3zM1539.0 32.1h2.5V48.5h-2.5zM1544.6 19.7h1.5V48.5h-1.5zM1547.1 19.7h3V48.5h-3zM1554.2 19.7h1.5V48.5h-1.5zM1562.3 19.7h3V48.5h-3zM1572.3 19.7h3V48.5h-3zM1582.3 19.7h2V48.5h-2zM1586.3 19.7h1.5V48.5h-1.5zM1589.8 19.7h3V48.5h-3zM1600.3 19.7h3V48.5h-3zM1605.2 19.7h2V48.5h-2zM1609.9 19.7h4V48.5h-4zM1617.6 19.7h2V48.5h-2zM1622.2 19.7h1.5V48.5h-1.5zM1624.8 47.0h3V48.5h-3zM1630.6 35.2h4V48.5h-4zM1638.1 44.5h5V48.5h-5zM1649.3 46.7h5V48.5h-5zM1658.8 32.1h4V48.5h-4zM1665.2 19.7h1.5V48.5h-1.5zM1668.2 19.7h5V48.5h-5zM1678.0 32.1h1.5V48.5h-1.5zM1680.5 19.7h2.5V48.5h-2.5zM1684.4 19.7h5V48.5h-5zM1695.6 19.7h5V48.5h-5zM1706.1 19.7h4V48.5h-4zM1713.2 19.7h3V48.5h-3zM1720.0 19.7h1.5V48.5h-1.5zM1723.0 19.7h5V48.5h-5zM1730.9 19.7h2V48.5h-2zM1735.2 27.4h2.5V48.5h-2.5zM1739.4 19.7h2V48.5h-2zM1742.7 19.7h1.5V48.5h-1.5zM1745.4 19.7h2V48.5h-2zM1750.2 19.7h1.5V48.5h-1.5zM1752.8 32.1h2.5V48.5h-2.5zM1758.4 32.1h2.5V48.5h-2.5zM1763.7 19.7h1.5V48.5h-1.5zM1766.0 19.7h2V48.5h-2zM1769.6 19.7h2V48.5h-2zM1772.7 19.7h2V48.5h-2zM1777.1 19.7h2V48.5h-2zM1781.0 19.7h5V48.5h-5zM1790.2 19.7h5V48.5h-5zM1797.9 19.7h1.5V48.5h-1.5zM1800.8 19.7h1.5V48.5h-1.5zM1804.0 19.7h2V48.5h-2zM1807.8 19.7h1.5V48.5h-1.5zM1811.0 19.7h4V48.5h-4zM1819.0 19.7h2V48.5h-2zM1822.7 19.7h1.5V48.5h-1.5zM1825.9 19.7h2V48.5h-2zM1829.4 19.7h5V48.5h-5zM1838.5 19.7h2.5V48.5h-2.5zM1844.7 19.7h2.5V48.5h-2.5zM1850.1 19.7h4V48.5h-4zM1857.7 19.7h4V48.5h-4zM1865.7 25.9h1.5V48.5h-1.5zM1868.1 25.9h1.5V48.5h-1.5zM1870.7 19.7h2V48.5h-2zM1874.1 19.7h4V48.5h-4zM1880.4 19.7h2V48.5h-2zM1884.9 19.7h4V48.5h-4zM1891.7 19.7h4V48.5h-4zM1901.6 19.7h1.5V48.5h-1.5zM1904.2 19.7h3V48.5h-3zM1910.6 19.7h2.5V48.5h-2.5zM1915.7 19.7h3V48.5h-3zM1920.3 19.7h2.5V48.5h-2.5zM1925.8 19.7h2V48.5h-2zM1930.2 30.5h3V48.5h-3zM1935.0 30.5h2.5V48.5h-2.5zM1939.1 19.7h1.5V48.5h-1.5zM1941.7 19.7h4V48.5h-4zM1950.9 19.7h2V48.5h-2zM1954.8 19.7h3V48.5h-3zM1960.4 19.7h5V48.5h-5zM1972.0 19.7h5V48.5h-5zM1979.7 19.7h1.5V48.5h-1.5zM1983.2 19.7h5V48.5h-5zM1995.2 19.7h4V48.5h-4zM2003.7 19.7h2.5V48.5h-2.5zM2008.8 19.7h2.5V48.5h-2.5zM2014.5 19.7h5V48.5h-5zM2024.6 19.7h4V48.5h-4zM2030.8 19.7h2.5V48.5h-2.5zM2035.8 19.7h2V48.5h-2zM2039.6 19.7h3V48.5h-3zM2046.8 19.7h4V48.5h-4zM2055.9 19.7h2V48.5h-2zM2059.1 19.7h2.5V48.5h-2.5zM2065.3 19.7h2V48.5h-2zM2068.6 19.7h5V48.5h-5zM2078.2 19.7h2V48.5h-2zM2081.2 19.7h5V48.5h-5zM2091.9 19.7h1.5V48.5h-1.5zM2106.7 19.7h1.5V48.5h-1.5zM2120.5 19.7h2.5V48.5h-2.5zM2134.8 19.7h2.5V48.5h-2.5zM2154.2 19.7h2V48.5h-2zM2169.8 19.7h1.5V48.5h-1.5zM2181.4 19.7h1.5V48.5h-1.5zM2194.8 19.7h1.5V48.5h-1.5zM2204.3 19.7h1V48.5h-1zM2214.1 19.7h2V48.5h-2zM2233.8 19.7h2V48.5h-2zM2247.2 19.7h2.5V48.5h-2.5zM2273.0 19.7h1V48.5h-1zM2281.2 19.7h2V48.5h-2zM2304.9 19.7h1V48.5h-1zM2313.2 19.7h2V48.5h-2z" fill="#efefef"/><path d="M955.0 49.5V18.5H971.0V40.2H975.0V40.2H979.0V39.3H984.0V40.2H987.0V41.4H993.0V35.2H996.0V41.4H999.0V35.2H1007.0V35.2H1013.0V39.3H1016.0V41.4H1024.0V40.2H1030.0V37.1H1036.0V39.3H1041.0V39.3H1046.0V35.2H1047.4V30.9H1054.0V18.5H1119.7V27.2H1123.0V30.9H1128.0V18.5H1131.5V30.9H1138.0V27.2H1144.0V44.9H1148.0V43.3H1154.0V44.9H1158.0V40.2H1161.0V35.5H1163.4V29.3H1165.0V23.2H1170.0V18.5H1203.7V30.9H1208.8V18.5H1213.0V30.9H1219.0V27.2H1220.5V23.2H1222.0V18.5H1234.0V30.9H1240.7V28.7H1243.0V30.9H1247.4V28.7H1250.0V23.2H1252.5V18.5H1321.4V30.9H1327.0V23.2H1329.0V18.5H1471.5V24.7H1474.9V30.9H1487.0V18.5H1493.8V30.9H1501.9V18.5H1508.0V26.2H1511.3V18.5H1516.7V30.3H1519.4V24.7H1523.5V30.9H1539.6V29.3H1541.7V18.5H1623.3V45.8H1625.3V43.3H1628.0V38.6H1630.0V34.0H1636.0V43.3H1641.0V45.5H1652.0V41.8H1657.0V30.9H1659.6V18.5H1674.5V30.9H1679.7V18.5H1731.7V26.2H1737.0V18.5H1752.5V30.9H1759.4V18.5H1865.0V24.7H1868.6V18.5H1929.0V29.3H1938.0V18.5H2425.0" fill="none" stroke="#4c62b8" stroke-width="1.1"/><path d="M955.0 49.5H2425.0" stroke="#4c62b8" stroke-width="1.9"/></svg>
<div class="b" style="left:955px;top:960px;width:70px;height:36px;background:rgba(255,255,255,.6);"></div>
<span class="t" style="left:962.7px;top:972.0px;font-size:18.5px;color:#555;transform:scaleX(0.9228);">2.5 GHz</span>
<svg style="left:0;top:1009px" width="2425" height="51" viewBox="0 0 2425 51"><path d="M984.4 49.5V45.4H990.3V43.4H993.7V45.4H1048.3V22.8H1055.8V15.9H1057.5V13.4H1060.9V26.9H1062.6V20.8H1066.0V17.5H1072.6V13.4H1076.8V8.5H1097.9V16.7H1099.5V22.8H1107.0V31.1H1111.3V20.8H1113.8V18.8H1116.3V21.6H1121.4V31.1H1124.7V22.8H1129.8V31.1H1138.2V43.8H1147.4V45.4H1162.6V31.1H1170.0V8.5H1202.0V24.1H1205.4V21.6H1208.8V20.0H1212.0V22.8H1215.5V24.9H1219.7V20.8H1222.2V18.8H1223.9V8.5H1230.6V24.9H1233.0V17.5H1235.7V12.6H1237.4V8.5H1239.4V29.0H1244.0V31.1H1248.3V22.8H1250.8V20.8H1253.3V31.1H1256.7V8.5H1297.9V20.8H1303.7V18.8H1307.0V15.9H1311.3V13.4H1314.7V21.6H1319.7V31.1H1323.0V22.8H1326.4V21.6H1339.9V16.7H1343.2V20.8H1346.0V31.1H1348.0V20.8H1359.0V31.1H1361.0V20.8H1365.0V31.1H1366.5V20.8H1371.0V31.1H1372.5V20.8H1379.0V31.1H1381.0V20.8H1388.0V31.1H1390.0V20.8H1401.0V31.1H1403.0V20.8H1414.0V31.1H1416.0V20.8H1423.0V31.1H1424.5V20.8H1432.0V31.1H1434.0V20.8H1438.0V31.1H1439.5V20.8H1450.6V8.5H1471.5V18.8H1480.3V16.7H1483.0V20.0H1501.9V16.7H1505.3V20.8H1508.0V16.7H1512.7V8.5H1516.0V31.1H1532.2V24.1H1535.0V21.6H1538.3V20.0H1541.7V18.8H1544.4V8.5H1640.0V17.1H2203.0V8.5H2219.0V17.1H2280.0V8.5H2283.0V17.1H2335.0V8.5H2362.0V17.1H2370.0V8.5H2378.0V17.1H2425.0V49.5Z" fill="#d79292"/><path d="M1055.4 22.8h14V33.5h-14zM1071.4 17.5h2V22.3h-2zM1073.4 13.4h6V27.9h-6zM1079.4 8.5h9V14.6h-9zM1178.4 8.5h6V14.6h-6zM1184.4 8.5h6V18.8h-6zM1190.4 24.1h14V30.4h-14zM1204.4 24.1h9V34.2h-9zM1293.4 20.8h6V28.0h-6zM1299.4 20.8h14V32.3h-14zM1315.4 21.6h2V32.8h-2zM1358.4 20.8h3V25.1h-3zM1363.4 20.8h14V25.1h-14zM1396.4 20.8h9V32.3h-9zM1405.4 20.8h2V32.3h-2zM1413.4 20.8h9V25.1h-9zM1469.4 18.8h6V23.4h-6zM1501.4 20.0h14V27.4h-14zM1537.4 21.6h3V25.8h-3zM1553.4 8.5h2V14.6h-2zM1555.4 8.5h3V14.6h-3zM1558.4 8.5h4V24.9h-4zM1566.4 8.5h6V24.9h-6zM1576.4 8.5h6V24.9h-6zM1586.4 8.5h14V24.9h-14zM1633.4 8.5h6V24.9h-6zM1639.4 17.1h9V30.1h-9zM1654.4 17.1h9V30.1h-9zM1663.4 17.1h2V25.2h-2zM1688.4 17.1h6V22.0h-6zM1710.4 17.1h14V25.2h-14zM1776.4 17.1h9V25.2h-9zM1789.4 17.1h4V25.2h-4zM1831.4 17.1h14V25.2h-14zM1847.4 17.1h4V25.2h-4zM1855.4 17.1h14V25.2h-14zM1869.4 17.1h9V22.0h-9zM1902.4 17.1h3V25.2h-3zM1919.4 17.1h2V25.2h-2zM1927.4 17.1h9V30.1h-9zM1949.4 17.1h9V22.0h-9zM1983.4 17.1h3V25.2h-3zM1986.4 17.1h6V25.2h-6zM2002.4 17.1h14V22.0h-14zM2024.4 17.1h4V30.1h-4zM2028.4 17.1h14V22.0h-14zM2050.4 17.1h4V22.0h-4zM2056.4 17.1h14V30.1h-14zM2070.4 17.1h9V22.0h-9zM2111.4 17.1h3V22.0h-3zM2114.4 17.1h3V22.0h-3zM2252.4 17.1h2V30.1h-2z" fill="#c85f5f"/><path d="M984.4 46.6h3V48.5h-3zM988.0 46.6h4V48.5h-4zM992.6 44.6h1.5V48.5h-1.5zM994.7 46.6h2V48.5h-2zM997.3 46.6h5V48.5h-5zM1002.9 46.6h2V48.5h-2zM1005.5 46.6h1.5V48.5h-1.5zM1007.6 46.6h2V48.5h-2zM1010.2 46.6h3V48.5h-3zM1013.8 46.6h5V48.5h-5zM1019.4 46.6h3V48.5h-3zM1023.0 46.6h1.5V48.5h-1.5zM1025.1 46.6h2V48.5h-2zM1027.7 46.6h4V48.5h-4zM1032.3 46.6h5V48.5h-5zM1037.9 46.6h1.5V48.5h-1.5zM1040.0 46.6h2.5V48.5h-2.5zM1043.1 46.6h2.5V48.5h-2.5zM1046.2 46.6h1.5V48.5h-1.5zM1048.3 24.0h4V48.5h-4zM1052.9 24.0h3V48.5h-3zM1056.5 17.1h2V48.5h-2zM1059.1 14.6h1.5V48.5h-1.5zM1061.2 28.1h1.5V48.5h-1.5zM1063.3 22.0h5V48.5h-5zM1069.2 18.7h2V48.5h-2zM1071.8 18.7h3V48.5h-3zM1075.4 14.6h4V48.5h-4zM1092.3 9.7h3V48.5h-3zM1095.9 9.7h2V48.5h-2zM1098.5 17.9h4V48.5h-4zM1103.4 24.0h2V48.5h-2zM1106.0 24.0h4V48.5h-4zM1110.6 32.2h5V48.5h-5zM1116.6 22.8h1.5V48.5h-1.5zM1118.7 22.8h5V48.5h-5zM1124.6 32.2h3V48.5h-3zM1128.2 24.0h3V48.5h-3zM1131.9 32.2h3V48.5h-3zM1135.5 32.2h5V48.5h-5zM1141.2 45.0h5V48.5h-5zM1146.9 45.0h4V48.5h-4zM1151.7 46.6h4V48.5h-4zM1156.3 46.6h5V48.5h-5zM1162.1 46.6h4V48.5h-4zM1166.7 32.2h2.5V48.5h-2.5zM1169.8 32.2h3V48.5h-3zM1173.4 9.7h5V48.5h-5zM1179.5 9.7h1.5V48.5h-1.5zM1181.6 9.7h5V48.5h-5zM1187.5 9.7h4V48.5h-4zM1192.2 9.7h5V48.5h-5zM1198.0 9.7h1.5V48.5h-1.5zM1200.1 9.7h4V48.5h-4zM1205.0 25.3h2.5V48.5h-2.5zM1208.1 22.8h1.5V48.5h-1.5zM1210.2 21.2h2V48.5h-2zM1212.8 24.0h5V48.5h-5zM1218.4 26.1h3V48.5h-3zM1222.0 22.0h4V48.5h-4zM1226.9 9.7h4V48.5h-4zM1231.7 26.1h4V48.5h-4zM1236.3 13.8h3V48.5h-3zM1239.9 30.2h3V48.5h-3zM1243.5 30.2h5V48.5h-5zM1249.4 24.0h2.5V48.5h-2.5zM1252.5 22.0h5V48.5h-5zM1258.5 9.7h4V48.5h-4zM1263.5 9.7h2.5V48.5h-2.5zM1295.3 9.7h2.5V48.5h-2.5zM1298.4 22.0h1.5V48.5h-1.5zM1300.5 22.0h5V48.5h-5zM1306.4 19.9h2V48.5h-2zM1309.0 17.1h1.5V48.5h-1.5zM1311.1 17.1h1.5V48.5h-1.5zM1313.2 14.6h5V48.5h-5zM1318.9 22.8h4V48.5h-4zM1323.6 24.0h2.5V48.5h-2.5zM1326.7 22.8h4V48.5h-4zM1331.3 22.8h1.5V48.5h-1.5zM1333.4 22.8h1.5V48.5h-1.5zM1335.5 22.8h3V48.5h-3zM1339.1 22.8h3V48.5h-3zM1342.7 17.9h4V48.5h-4zM1347.3 32.2h1.5V48.5h-1.5zM1349.4 22.0h4V48.5h-4zM1354.0 22.0h2V48.5h-2zM1356.6 22.0h5V48.5h-5zM1362.3 22.0h2V48.5h-2zM1364.9 22.0h2.5V48.5h-2.5zM1368.0 22.0h2.5V48.5h-2.5zM1371.1 32.2h2V48.5h-2zM1373.7 22.0h5V48.5h-5zM1379.9 32.2h5V48.5h-5zM1385.6 22.0h3V48.5h-3zM1389.2 32.2h2V48.5h-2zM1391.8 22.0h5V48.5h-5zM1397.8 22.0h1.5V48.5h-1.5zM1399.9 22.0h5V48.5h-5zM1405.6 22.0h2.5V48.5h-2.5zM1408.7 22.0h1.5V48.5h-1.5zM1410.8 22.0h5V48.5h-5zM1416.5 22.0h3V48.5h-3zM1420.1 22.0h2V48.5h-2zM1422.7 22.0h2.5V48.5h-2.5zM1425.8 22.0h1.5V48.5h-1.5zM1427.9 22.0h5V48.5h-5zM1433.8 32.2h2V48.5h-2zM1436.4 22.0h2V48.5h-2zM1439.0 32.2h2.5V48.5h-2.5zM1442.1 22.0h2V48.5h-2zM1444.7 22.0h2.5V48.5h-2.5zM1447.8 22.0h4V48.5h-4zM1452.6 9.7h3V48.5h-3zM1456.2 9.7h2.5V48.5h-2.5zM1459.3 9.7h1.5V48.5h-1.5zM1461.4 9.7h4V48.5h-4zM1466.0 9.7h3V48.5h-3zM1469.6 9.7h3V48.5h-3zM1473.3 19.9h3V48.5h-3zM1476.9 19.9h3V48.5h-3zM1480.5 17.9h1.5V48.5h-1.5zM1482.6 17.9h4V48.5h-4zM1487.5 21.2h2.5V48.5h-2.5zM1490.6 21.2h3V48.5h-3zM1494.2 21.2h1.5V48.5h-1.5zM1496.3 21.2h4V48.5h-4zM1500.9 21.2h1.5V48.5h-1.5zM1503.0 17.9h3V48.5h-3zM1506.6 22.0h3V48.5h-3zM1510.2 17.9h2V48.5h-2zM1512.8 9.7h1.5V48.5h-1.5zM1514.9 9.7h3V48.5h-3zM1518.6 32.2h3V48.5h-3zM1522.3 32.2h5V48.5h-5zM1527.9 32.2h3V48.5h-3zM1531.5 32.2h1.5V48.5h-1.5zM1533.6 25.3h3V48.5h-3zM1537.3 22.8h2.5V48.5h-2.5zM1540.4 21.2h5V48.5h-5zM1546.0 9.7h2V48.5h-2zM1551.4 9.7h1V48.5h-1zM1556.7 9.7h1V48.5h-1zM1566.3 9.7h1V48.5h-1zM1585.3 9.7h2V48.5h-2zM1590.5 9.7h1V48.5h-1zM1593.7 9.7h1V48.5h-1zM1596.4 9.7h2V48.5h-2zM1603.0 9.7h1V48.5h-1zM1607.6 9.7h2V48.5h-2zM1616.3 9.7h1.5V48.5h-1.5zM1624.1 9.7h2V48.5h-2zM1630.7 9.7h2V48.5h-2zM1637.8 9.7h2V48.5h-2zM1646.8 18.3h1.5V48.5h-1.5zM1656.5 18.3h1.5V48.5h-1.5zM1663.0 18.3h2.5V48.5h-2.5zM1670.5 18.3h2.5V48.5h-2.5zM1679.0 18.3h1.5V48.5h-1.5zM1686.0 18.3h1.5V48.5h-1.5zM1691.0 18.3h2V48.5h-2zM1697.8 18.3h1V48.5h-1zM1701.1 18.3h2.5V48.5h-2.5zM1709.4 18.3h2.5V48.5h-2.5zM1723.9 18.3h1V48.5h-1zM1726.9 18.3h2V48.5h-2zM1735.6 18.3h2.5V48.5h-2.5zM1743.9 18.3h2V48.5h-2zM1755.4 18.3h1V48.5h-1zM1761.7 18.3h2V48.5h-2zM1775.5 18.3h1.5V48.5h-1.5zM1783.8 18.3h2V48.5h-2zM1790.1 18.3h2V48.5h-2zM1803.8 18.3h2.5V48.5h-2.5zM1815.6 18.3h2V48.5h-2zM1822.7 18.3h1.5V48.5h-1.5zM1827.3 18.3h2V48.5h-2zM1834.6 18.3h1V48.5h-1zM1841.5 18.3h2.5V48.5h-2.5zM1858.6 18.3h1.5V48.5h-1.5zM1864.9 18.3h1V48.5h-1zM1871.6 18.3h2.5V48.5h-2.5zM1879.1 18.3h1.5V48.5h-1.5zM1887.7 18.3h2V48.5h-2zM1901.3 18.3h2V48.5h-2zM1910.1 18.3h1.5V48.5h-1.5zM1918.1 18.3h1.5V48.5h-1.5zM1926.7 18.3h1.5V48.5h-1.5zM1935.8 18.3h1.5V48.5h-1.5zM1941.8 18.3h1.5V48.5h-1.5zM1949.0 18.3h1V48.5h-1zM1953.5 18.3h2.5V48.5h-2.5zM1964.9 18.3h2V48.5h-2zM1974.0 18.3h2.5V48.5h-2.5zM1986.5 18.3h1.5V48.5h-1.5zM1991.4 18.3h1V48.5h-1zM1996.2 18.3h2V48.5h-2zM2009.7 18.3h2.5V48.5h-2.5zM2022.9 18.3h2.5V48.5h-2.5zM2033.8 18.3h2.5V48.5h-2.5zM2048.7 18.3h2.5V48.5h-2.5zM2057.1 18.3h1.5V48.5h-1.5zM2062.5 18.3h2V48.5h-2zM2072.6 18.3h1V48.5h-1zM2078.1 18.3h2V48.5h-2zM2088.9 18.3h2.5V48.5h-2.5zM2103.5 18.3h1V48.5h-1zM2117.8 18.3h1.5V48.5h-1.5zM2134.6 18.3h1.5V48.5h-1.5zM2158.8 18.3h1.5V48.5h-1.5zM2178.4 18.3h2V48.5h-2zM2206.4 9.7h1V48.5h-1zM2227.2 18.3h1V48.5h-1zM2240.7 18.3h2V48.5h-2zM2269.3 18.3h1.5V48.5h-1.5zM2281.3 9.7h2.5V48.5h-2.5zM2306.9 18.3h2V48.5h-2zM2311.6 18.3h2V48.5h-2zM2315.6 18.3h2V48.5h-2zM2319.5 18.3h1.5V48.5h-1.5zM2322.0 18.3h3V48.5h-3zM2328.8 18.3h4V48.5h-4zM2337.8 9.7h1.5V48.5h-1.5zM2364.1 18.3h2V48.5h-2zM2397.2 18.3h1.5V48.5h-1.5zM2415.9 18.3h2V48.5h-2z" fill="#efefef"/><path d="M984.4 49.5V45.4H990.3V43.4H993.7V45.4H1048.3V22.8H1055.8V15.9H1057.5V13.4H1060.9V26.9H1062.6V20.8H1066.0V17.5H1072.6V13.4H1076.8V8.5H1097.9V16.7H1099.5V22.8H1107.0V31.1H1111.3V20.8H1113.8V18.8H1116.3V21.6H1121.4V31.1H1124.7V22.8H1129.8V31.1H1138.2V43.8H1147.4V45.4H1162.6V31.1H1170.0V8.5H1202.0V24.1H1205.4V21.6H1208.8V20.0H1212.0V22.8H1215.5V24.9H1219.7V20.8H1222.2V18.8H1223.9V8.5H1230.6V24.9H1233.0V17.5H1235.7V12.6H1237.4V8.5H1239.4V29.0H1244.0V31.1H1248.3V22.8H1250.8V20.8H1253.3V31.1H1256.7V8.5H1297.9V20.8H1303.7V18.8H1307.0V15.9H1311.3V13.4H1314.7V21.6H1319.7V31.1H1323.0V22.8H1326.4V21.6H1339.9V16.7H1343.2V20.8H1346.0V31.1H1348.0V20.8H1359.0V31.1H1361.0V20.8H1365.0V31.1H1366.5V20.8H1371.0V31.1H1372.5V20.8H1379.0V31.1H1381.0V20.8H1388.0V31.1H1390.0V20.8H1401.0V31.1H1403.0V20.8H1414.0V31.1H1416.0V20.8H1423.0V31.1H1424.5V20.8H1432.0V31.1H1434.0V20.8H1438.0V31.1H1439.5V20.8H1450.6V8.5H1471.5V18.8H1480.3V16.7H1483.0V20.0H1501.9V16.7H1505.3V20.8H1508.0V16.7H1512.7V8.5H1516.0V31.1H1532.2V24.1H1535.0V21.6H1538.3V20.0H1541.7V18.8H1544.4V8.5H1640.0V17.1H2203.0V8.5H2219.0V17.1H2280.0V8.5H2283.0V17.1H2335.0V8.5H2362.0V17.1H2370.0V8.5H2378.0V17.1H2425.0" fill="none" stroke="#c25050" stroke-width="1.1"/><path d="M984.4 49.5H2425.0" stroke="#c25050" stroke-width="1.9"/></svg>
<div class="b" style="left:955px;top:1010px;width:70px;height:36px;background:rgba(255,255,255,.6);"></div>
<span class="t" style="left:962.7px;top:1022.0px;font-size:18.5px;color:#555;transform:scaleX(0.9228);">2.5 GHz</span>
<svg style="left:0;top:1059px" width="2425" height="51" viewBox="0 0 2425 51"><path d="M984.4 49.5V45.4H990.3V43.4H993.7V45.4H1048.3V22.8H1055.8V15.9H1057.5V13.4H1060.9V26.9H1062.6V20.8H1066.0V17.5H1072.6V13.4H1076.8V8.5H1097.9V16.7H1099.5V22.8H1107.0V31.1H1111.3V20.8H1113.8V18.8H1116.3V21.6H1121.4V31.1H1124.7V22.8H1129.8V31.1H1138.2V43.8H1147.4V45.4H1162.6V31.1H1170.0V8.5H1202.0V24.1H1205.4V21.6H1208.8V20.0H1212.0V22.8H1215.5V24.9H1219.7V20.8H1222.2V18.8H1223.9V8.5H1230.6V24.9H1233.0V17.5H1235.7V12.6H1237.4V8.5H1239.4V29.0H1244.0V31.1H1248.3V22.8H1250.8V20.8H1253.3V31.1H1256.7V8.5H1297.9V20.8H1303.7V18.8H1307.0V15.9H1311.3V13.4H1314.7V21.6H1319.7V31.1H1323.0V22.8H1326.4V21.6H1339.9V16.7H1343.2V20.8H1346.0V31.1H1347.5V20.8H1355.0V31.1H1357.0V20.8H1364.0V31.1H1366.0V20.8H1375.0V31.1H1377.0V20.8H1388.0V31.1H1390.0V20.8H1397.0V31.1H1398.5V20.8H1408.0V31.1H1410.0V20.8H1419.0V31.1H1421.0V20.8H1432.0V31.1H1434.0V20.8H1438.0V31.1H1440.0V20.8H1447.0V31.1H1449.0V20.8H1450.6V8.5H1471.5V18.8H1480.3V16.7H1483.0V20.0H1501.9V16.7H1505.3V20.8H1508.0V16.7H1512.7V8.5H1516.0V31.1H1532.2V24.1H1535.0V21.6H1538.3V20.0H1541.7V18.8H1544.4V8.5H1640.0V17.1H2203.0V8.5H2219.0V17.1H2280.0V8.5H2283.0V17.1H2335.0V8.5H2362.0V17.1H2370.0V8.5H2378.0V17.1H2425.0V49.5Z" fill="#d7b28d"/><path d="M1054.4 22.8h2V29.5h-2zM1060.4 20.8h4V32.3h-4zM1084.4 8.5h6V18.8h-6zM1090.4 8.5h4V24.9h-4zM1174.4 8.5h2V24.9h-2zM1187.4 8.5h6V14.6h-6zM1210.4 24.9h9V34.7h-9zM1219.4 24.9h4V34.7h-4zM1223.4 18.8h4V23.4h-4zM1229.4 24.9h3V28.6h-3zM1257.4 8.5h6V14.6h-6zM1263.4 8.5h9V14.6h-9zM1274.4 8.5h9V14.6h-9zM1285.4 8.5h6V24.9h-6zM1291.4 18.8h14V23.4h-14zM1334.4 21.6h2V25.8h-2zM1336.4 21.6h6V32.8h-6zM1351.4 20.8h9V28.0h-9zM1379.4 20.8h14V28.0h-14zM1396.4 20.8h4V25.1h-4zM1400.4 20.8h2V32.3h-2zM1449.4 20.8h3V28.0h-3zM1461.4 18.8h14V31.1h-14zM1542.4 18.8h2V23.4h-2zM1544.4 8.5h4V18.8h-4zM1556.4 8.5h6V18.8h-6zM1570.4 8.5h14V18.8h-14zM1598.4 8.5h14V24.9h-14zM1621.4 8.5h9V24.9h-9zM1687.4 17.1h2V30.1h-2zM1702.4 17.1h3V25.2h-3zM1729.4 17.1h9V30.1h-9zM1738.4 17.1h6V25.2h-6zM1744.4 17.1h14V30.1h-14zM1758.4 17.1h3V25.2h-3zM1761.4 17.1h2V22.0h-2zM1777.4 17.1h6V30.1h-6zM1843.4 17.1h3V30.1h-3zM1860.4 17.1h9V25.2h-9zM1896.4 17.1h4V25.2h-4zM1902.4 17.1h3V22.0h-3zM1931.4 17.1h3V25.2h-3zM1934.4 17.1h9V30.1h-9zM1946.4 17.1h6V30.1h-6zM1966.4 17.1h9V25.2h-9zM1986.4 17.1h2V30.1h-2zM1994.4 17.1h9V22.0h-9zM2027.4 17.1h9V30.1h-9zM2036.4 17.1h2V30.1h-2zM2055.4 17.1h9V22.0h-9zM2068.4 17.1h4V22.0h-4zM2074.4 17.1h14V30.1h-14zM2091.4 17.1h2V25.2h-2zM2272.4 17.1h4V30.1h-4z" fill="#c6925e"/><path d="M984.4 46.6h2V48.5h-2zM987.0 46.6h5V48.5h-5zM992.6 44.6h2V48.5h-2zM995.2 46.6h5V48.5h-5zM1000.8 46.6h3V48.5h-3zM1004.4 46.6h2V48.5h-2zM1007.0 46.6h4V48.5h-4zM1011.6 46.6h5V48.5h-5zM1017.2 46.6h2V48.5h-2zM1019.8 46.6h1.5V48.5h-1.5zM1021.9 46.6h1.5V48.5h-1.5zM1024.0 46.6h1.5V48.5h-1.5zM1026.1 46.6h4V48.5h-4zM1030.7 46.6h3V48.5h-3zM1034.3 46.6h1.5V48.5h-1.5zM1036.4 46.6h5V48.5h-5zM1042.0 46.6h2V48.5h-2zM1044.6 46.6h1.5V48.5h-1.5zM1046.7 46.6h2.5V48.5h-2.5zM1049.8 24.0h4V48.5h-4zM1054.4 24.0h2V48.5h-2zM1057.0 17.1h2.5V48.5h-2.5zM1060.1 14.6h2.5V48.5h-2.5zM1063.2 22.0h1.5V48.5h-1.5zM1065.3 22.0h2V48.5h-2zM1067.9 18.7h4V48.5h-4zM1072.9 14.6h1.5V48.5h-1.5zM1075.0 14.6h2V48.5h-2zM1077.6 9.7h2V48.5h-2zM1090.3 9.7h2.5V48.5h-2.5zM1093.4 9.7h5V48.5h-5zM1099.4 17.9h3V48.5h-3zM1103.0 24.0h2.5V48.5h-2.5zM1106.1 24.0h2V48.5h-2zM1108.7 32.2h5V48.5h-5zM1114.8 19.9h1.5V48.5h-1.5zM1116.9 22.8h2.5V48.5h-2.5zM1120.0 22.8h2V48.5h-2zM1122.6 32.2h4V48.5h-4zM1127.2 24.0h1.5V48.5h-1.5zM1129.3 24.0h2.5V48.5h-2.5zM1132.4 32.2h3V48.5h-3zM1136.0 32.2h2.5V48.5h-2.5zM1139.1 45.0h5V48.5h-5zM1145.2 45.0h2V48.5h-2zM1147.8 46.6h2.5V48.5h-2.5zM1150.9 46.6h2V48.5h-2zM1153.5 46.6h2V48.5h-2zM1156.1 46.6h2V48.5h-2zM1158.7 46.6h4V48.5h-4zM1163.3 32.2h5V48.5h-5zM1169.3 32.2h5V48.5h-5zM1175.3 9.7h3V48.5h-3zM1178.9 9.7h4V48.5h-4zM1183.6 9.7h5V48.5h-5zM1189.2 9.7h5V48.5h-5zM1194.8 9.7h5V48.5h-5zM1200.9 9.7h2V48.5h-2zM1203.5 25.3h3V48.5h-3zM1207.2 22.8h2.5V48.5h-2.5zM1210.3 21.2h4V48.5h-4zM1214.9 24.0h5V48.5h-5zM1220.7 22.0h2V48.5h-2zM1223.3 19.9h4V48.5h-4zM1228.0 9.7h5V48.5h-5zM1233.9 18.7h3V48.5h-3zM1237.5 9.7h4V48.5h-4zM1242.1 30.2h5V48.5h-5zM1248.1 32.2h3V48.5h-3zM1251.7 22.0h2.5V48.5h-2.5zM1254.8 32.2h3V48.5h-3zM1258.4 9.7h2V48.5h-2zM1261.0 9.7h1.5V48.5h-1.5zM1263.1 9.7h5V48.5h-5zM1269.2 9.7h4V48.5h-4zM1295.3 9.7h2.5V48.5h-2.5zM1298.4 22.0h1.5V48.5h-1.5zM1300.5 22.0h4V48.5h-4zM1305.1 19.9h3V48.5h-3zM1308.7 17.1h4V48.5h-4zM1313.3 14.6h1.5V48.5h-1.5zM1315.4 22.8h2.5V48.5h-2.5zM1318.5 22.8h1.5V48.5h-1.5zM1320.6 32.2h3V48.5h-3zM1324.2 24.0h2.5V48.5h-2.5zM1327.3 22.8h2.5V48.5h-2.5zM1330.4 22.8h3V48.5h-3zM1334.0 22.8h3V48.5h-3zM1337.7 22.8h1.5V48.5h-1.5zM1339.8 22.8h5V48.5h-5zM1345.6 22.0h5V48.5h-5zM1351.2 22.0h3V48.5h-3zM1354.8 22.0h4V48.5h-4zM1359.8 22.0h3V48.5h-3zM1363.4 22.0h4V48.5h-4zM1368.1 22.0h1.5V48.5h-1.5zM1370.2 22.0h2V48.5h-2zM1372.8 22.0h3V48.5h-3zM1376.5 32.2h5V48.5h-5zM1382.6 22.0h2V48.5h-2zM1385.2 22.0h3V48.5h-3zM1388.8 32.2h2V48.5h-2zM1391.4 22.0h2.5V48.5h-2.5zM1394.5 22.0h4V48.5h-4zM1399.1 22.0h2V48.5h-2zM1401.7 22.0h2.5V48.5h-2.5zM1404.8 22.0h1.5V48.5h-1.5zM1406.9 22.0h2.5V48.5h-2.5zM1410.0 22.0h2.5V48.5h-2.5zM1413.1 22.0h5V48.5h-5zM1419.2 32.2h1.5V48.5h-1.5zM1421.3 22.0h2V48.5h-2zM1423.9 22.0h2.5V48.5h-2.5zM1427.0 22.0h3V48.5h-3zM1430.6 22.0h2.5V48.5h-2.5zM1433.7 32.2h1.5V48.5h-1.5zM1435.8 22.0h2V48.5h-2zM1438.4 32.2h4V48.5h-4zM1443.0 22.0h5V48.5h-5zM1449.0 22.0h2.5V48.5h-2.5zM1452.1 9.7h2V48.5h-2zM1454.7 9.7h2V48.5h-2zM1457.3 9.7h5V48.5h-5zM1463.4 9.7h5V48.5h-5zM1469.2 9.7h2V48.5h-2zM1471.8 19.9h3V48.5h-3zM1475.4 19.9h5V48.5h-5zM1481.4 17.9h5V48.5h-5zM1487.0 21.2h3V48.5h-3zM1490.6 21.2h5V48.5h-5zM1496.4 21.2h1.5V48.5h-1.5zM1498.5 21.2h1.5V48.5h-1.5zM1500.6 21.2h2.5V48.5h-2.5zM1503.7 17.9h4V48.5h-4zM1508.6 17.9h2.5V48.5h-2.5zM1511.7 17.9h2V48.5h-2zM1514.3 9.7h2V48.5h-2zM1516.9 32.2h1.5V48.5h-1.5zM1519.0 32.2h1.5V48.5h-1.5zM1521.1 32.2h2V48.5h-2zM1523.7 32.2h2.5V48.5h-2.5zM1526.8 32.2h2V48.5h-2zM1529.4 32.2h2V48.5h-2zM1532.0 32.2h4V48.5h-4zM1536.9 22.8h2.5V48.5h-2.5zM1540.0 21.2h2.5V48.5h-2.5zM1543.1 19.9h2V48.5h-2zM1545.7 9.7h2.5V48.5h-2.5zM1554.3 9.7h1V48.5h-1zM1557.9 9.7h2.5V48.5h-2.5zM1604.3 9.7h1.5V48.5h-1.5zM1611.5 9.7h2V48.5h-2zM1624.5 9.7h1V48.5h-1zM1631.1 9.7h2.5V48.5h-2.5zM1639.7 9.7h1.5V48.5h-1.5zM1650.2 18.3h2.5V48.5h-2.5zM1659.4 18.3h1.5V48.5h-1.5zM1668.0 18.3h1V48.5h-1zM1673.9 18.3h2.5V48.5h-2.5zM1682.8 18.3h2.5V48.5h-2.5zM1691.4 18.3h1V48.5h-1zM1696.0 18.3h1.5V48.5h-1.5zM1702.5 18.3h1V48.5h-1zM1707.7 18.3h1.5V48.5h-1.5zM1717.5 18.3h1.5V48.5h-1.5zM1726.3 18.3h1.5V48.5h-1.5zM1735.0 18.3h2V48.5h-2zM1742.9 18.3h1V48.5h-1zM1746.3 18.3h2.5V48.5h-2.5zM1754.1 18.3h1V48.5h-1zM1758.2 18.3h2.5V48.5h-2.5zM1775.0 18.3h2.5V48.5h-2.5zM1788.2 18.3h2V48.5h-2zM1797.4 18.3h1V48.5h-1zM1802.4 18.3h1.5V48.5h-1.5zM1811.3 18.3h2.5V48.5h-2.5zM1823.1 18.3h2V48.5h-2zM1836.5 18.3h1V48.5h-1zM1842.7 18.3h2V48.5h-2zM1851.3 18.3h1V48.5h-1zM1858.2 18.3h2V48.5h-2zM1872.0 18.3h2V48.5h-2zM1883.0 18.3h2V48.5h-2zM1894.7 18.3h1V48.5h-1zM1898.6 18.3h2.5V48.5h-2.5zM1910.8 18.3h2.5V48.5h-2.5zM1928.2 18.3h2V48.5h-2zM1937.8 18.3h2.5V48.5h-2.5zM1947.9 18.3h2V48.5h-2zM1959.3 18.3h1.5V48.5h-1.5zM1967.0 18.3h1.5V48.5h-1.5zM1972.8 18.3h1.5V48.5h-1.5zM1977.7 18.3h2.5V48.5h-2.5zM1986.8 18.3h2V48.5h-2zM2000.2 18.3h1.5V48.5h-1.5zM2004.8 18.3h2.5V48.5h-2.5zM2020.6 18.3h1V48.5h-1zM2025.6 18.3h2V48.5h-2zM2036.0 18.3h2.5V48.5h-2.5zM2051.0 18.3h1.5V48.5h-1.5zM2061.3 18.3h2.5V48.5h-2.5zM2072.0 18.3h1V48.5h-1zM2078.1 18.3h2.5V48.5h-2.5zM2087.9 18.3h2V48.5h-2zM2096.3 18.3h1V48.5h-1zM2109.2 18.3h1V48.5h-1zM2120.3 18.3h2V48.5h-2zM2143.1 18.3h2V48.5h-2zM2170.1 18.3h2V48.5h-2zM2199.0 18.3h1V48.5h-1zM2207.4 9.7h1V48.5h-1zM2219.0 9.7h1V48.5h-1zM2234.4 18.3h1V48.5h-1zM2244.0 18.3h2.5V48.5h-2.5zM2278.4 18.3h2V48.5h-2zM2308.0 18.3h3V48.5h-3zM2314.6 18.3h1.5V48.5h-1.5zM2317.3 18.3h4V48.5h-4zM2326.2 18.3h5V48.5h-5zM2334.3 18.3h2.5V48.5h-2.5zM2338.7 9.7h2V48.5h-2zM2372.9 9.7h1.5V48.5h-1.5zM2402.3 18.3h2V48.5h-2z" fill="#efefef"/><path d="M984.4 49.5V45.4H990.3V43.4H993.7V45.4H1048.3V22.8H1055.8V15.9H1057.5V13.4H1060.9V26.9H1062.6V20.8H1066.0V17.5H1072.6V13.4H1076.8V8.5H1097.9V16.7H1099.5V22.8H1107.0V31.1H1111.3V20.8H1113.8V18.8H1116.3V21.6H1121.4V31.1H1124.7V22.8H1129.8V31.1H1138.2V43.8H1147.4V45.4H1162.6V31.1H1170.0V8.5H1202.0V24.1H1205.4V21.6H1208.8V20.0H1212.0V22.8H1215.5V24.9H1219.7V20.8H1222.2V18.8H1223.9V8.5H1230.6V24.9H1233.0V17.5H1235.7V12.6H1237.4V8.5H1239.4V29.0H1244.0V31.1H1248.3V22.8H1250.8V20.8H1253.3V31.1H1256.7V8.5H1297.9V20.8H1303.7V18.8H1307.0V15.9H1311.3V13.4H1314.7V21.6H1319.7V31.1H1323.0V22.8H1326.4V21.6H1339.9V16.7H1343.2V20.8H1346.0V31.1H1347.5V20.8H1355.0V31.1H1357.0V20.8H1364.0V31.1H1366.0V20.8H1375.0V31.1H1377.0V20.8H1388.0V31.1H1390.0V20.8H1397.0V31.1H1398.5V20.8H1408.0V31.1H1410.0V20.8H1419.0V31.1H1421.0V20.8H1432.0V31.1H1434.0V20.8H1438.0V31.1H1440.0V20.8H1447.0V31.1H1449.0V20.8H1450.6V8.5H1471.5V18.8H1480.3V16.7H1483.0V20.0H1501.9V16.7H1505.3V20.8H1508.0V16.7H1512.7V8.5H1516.0V31.1H1532.2V24.1H1535.0V21.6H1538.3V20.0H1541.7V18.8H1544.4V8.5H1640.0V17.1H2203.0V8.5H2219.0V17.1H2280.0V8.5H2283.0V17.1H2335.0V8.5H2362.0V17.1H2370.0V8.5H2378.0V17.1H2425.0" fill="none" stroke="#c08550" stroke-width="1.1"/><path d="M984.4 49.5H2425.0" stroke="#c08550" stroke-width="1.9"/></svg>
<div class="b" style="left:955px;top:1060px;width:70px;height:36px;background:rgba(255,255,255,.6);"></div>
<span class="t" style="left:962.7px;top:1072.0px;font-size:18.5px;color:#555;transform:scaleX(0.9228);">2.5 GHz</span>
<svg style="left:0;top:1109px" width="2425" height="51" viewBox="0 0 2425 51"><path d="M984.4 49.5V45.4H990.3V43.4H993.7V45.4H1048.3V22.8H1055.8V15.9H1057.5V13.4H1060.9V26.9H1062.6V20.8H1066.0V17.5H1072.6V13.4H1076.8V8.5H1097.9V16.7H1099.5V22.8H1107.0V31.1H1111.3V20.8H1113.8V18.8H1116.3V21.6H1121.4V31.1H1124.7V22.8H1129.8V31.1H1138.2V43.8H1147.4V45.4H1162.6V31.1H1170.0V8.5H1202.0V24.1H1205.4V21.6H1208.8V20.0H1212.0V22.8H1215.5V24.9H1219.7V20.8H1222.2V18.8H1223.9V8.5H1230.6V24.9H1233.0V17.5H1235.7V12.6H1237.4V8.5H1239.4V29.0H1244.0V31.1H1248.3V22.8H1250.8V20.8H1253.3V31.1H1256.7V8.5H1297.9V20.8H1303.7V18.8H1307.0V15.9H1311.3V13.4H1314.7V21.6H1319.7V31.1H1323.0V22.8H1326.4V21.6H1339.9V16.7H1343.2V20.8H1346.0V31.1H1348.0V20.8H1355.0V31.1H1357.0V20.8H1368.0V31.1H1370.0V20.8H1377.0V31.1H1378.5V20.8H1390.0V31.1H1392.0V20.8H1398.0V31.1H1400.0V20.8H1409.0V31.1H1411.0V20.8H1420.0V31.1H1421.5V20.8H1426.0V31.1H1427.5V20.8H1437.0V31.1H1438.5V20.8H1443.0V31.1H1445.0V20.8H1450.6V8.5H1471.5V18.8H1480.3V16.7H1483.0V20.0H1501.9V16.7H1505.3V20.8H1508.0V16.7H1512.7V8.5H1516.0V31.1H1532.2V24.1H1535.0V21.6H1538.3V20.0H1541.7V18.8H1544.4V8.5H1640.0V17.1H2203.0V8.5H2219.0V17.1H2280.0V8.5H2283.0V17.1H2335.0V8.5H2362.0V17.1H2370.0V8.5H2378.0V17.1H2425.0V49.5Z" fill="#d1d68f"/><path d="M1067.4 17.5h4V30.3h-4zM1082.4 8.5h6V14.6h-6zM1091.4 8.5h3V24.9h-3zM1197.4 8.5h4V24.9h-4zM1201.4 24.1h2V34.2h-2zM1232.4 24.9h3V34.7h-3zM1248.4 22.8h9V33.5h-9zM1257.4 8.5h6V24.9h-6zM1263.4 8.5h14V24.9h-14zM1327.4 21.6h14V32.8h-14zM1404.4 20.8h9V32.3h-9zM1453.4 8.5h3V14.6h-3zM1456.4 8.5h14V18.8h-14zM1582.4 8.5h14V24.9h-14zM1624.4 8.5h6V24.9h-6zM1695.4 17.1h3V30.1h-3zM1698.4 17.1h4V30.1h-4zM1743.4 17.1h14V30.1h-14zM1757.4 17.1h9V30.1h-9zM1766.4 17.1h3V22.0h-3zM1769.4 17.1h3V30.1h-3zM1778.4 17.1h3V30.1h-3zM1781.4 17.1h9V30.1h-9zM1793.4 17.1h4V22.0h-4zM1818.4 17.1h4V25.2h-4zM1822.4 17.1h6V30.1h-6zM1828.4 17.1h14V30.1h-14zM1868.4 17.1h6V30.1h-6zM1874.4 17.1h4V30.1h-4zM1878.4 17.1h3V30.1h-3zM1883.4 17.1h2V25.2h-2zM1885.4 17.1h14V30.1h-14zM1899.4 17.1h4V30.1h-4zM1917.4 17.1h6V30.1h-6zM1926.4 17.1h6V30.1h-6zM1932.4 17.1h6V30.1h-6zM1970.4 17.1h4V22.0h-4zM1987.4 17.1h9V22.0h-9zM2040.4 17.1h6V22.0h-6zM2055.4 17.1h14V25.2h-14zM2072.4 17.1h14V30.1h-14zM2168.4 17.1h4V22.0h-4zM2188.4 17.1h2V22.0h-2zM2190.4 17.1h3V25.2h-3zM2334.4 17.1h6V30.1h-6z" fill="#bcc45c"/><path d="M984.4 46.6h5V48.5h-5zM990.0 46.6h5V48.5h-5zM995.6 46.6h5V48.5h-5zM1001.2 46.6h2V48.5h-2zM1003.8 46.6h2.5V48.5h-2.5zM1006.9 46.6h2.5V48.5h-2.5zM1010.0 46.6h4V48.5h-4zM1014.6 46.6h2V48.5h-2zM1017.2 46.6h4V48.5h-4zM1021.8 46.6h2.5V48.5h-2.5zM1024.9 46.6h2V48.5h-2zM1027.5 46.6h4V48.5h-4zM1032.1 46.6h1.5V48.5h-1.5zM1034.2 46.6h2.5V48.5h-2.5zM1037.3 46.6h2V48.5h-2zM1039.9 46.6h2V48.5h-2zM1042.5 46.6h2V48.5h-2zM1045.1 46.6h4V48.5h-4zM1049.7 24.0h4V48.5h-4zM1054.3 24.0h1.5V48.5h-1.5zM1056.4 17.1h2.5V48.5h-2.5zM1059.5 14.6h4V48.5h-4zM1064.2 22.0h2.5V48.5h-2.5zM1067.3 18.7h4V48.5h-4zM1071.9 18.7h2V48.5h-2zM1074.5 14.6h1.5V48.5h-1.5zM1076.6 14.6h2.5V48.5h-2.5zM1079.7 9.7h5V48.5h-5zM1095.3 9.7h2.5V48.5h-2.5zM1098.4 17.9h1.5V48.5h-1.5zM1100.5 24.0h4V48.5h-4zM1105.1 24.0h2V48.5h-2zM1107.7 32.2h4V48.5h-4zM1112.5 22.0h5V48.5h-5zM1118.1 22.8h5V48.5h-5zM1123.9 32.2h5V48.5h-5zM1130.0 32.2h2V48.5h-2zM1132.6 32.2h5V48.5h-5zM1138.4 45.0h2.5V48.5h-2.5zM1141.5 45.0h2.5V48.5h-2.5zM1144.6 45.0h2V48.5h-2zM1147.2 45.0h2V48.5h-2zM1149.8 46.6h3V48.5h-3zM1153.4 46.6h5V48.5h-5zM1159.0 46.6h5V48.5h-5zM1164.7 32.2h3V48.5h-3zM1168.3 32.2h2.5V48.5h-2.5zM1171.4 9.7h1.5V48.5h-1.5zM1173.5 9.7h3V48.5h-3zM1177.1 9.7h2V48.5h-2zM1179.7 9.7h4V48.5h-4zM1184.6 9.7h1.5V48.5h-1.5zM1186.7 9.7h3V48.5h-3zM1200.3 9.7h4V48.5h-4zM1204.9 25.3h3V48.5h-3zM1208.5 22.8h1.5V48.5h-1.5zM1210.6 21.2h1.5V48.5h-1.5zM1212.7 24.0h1.5V48.5h-1.5zM1214.8 24.0h5V48.5h-5zM1220.9 22.0h4V48.5h-4zM1225.8 9.7h5V48.5h-5zM1231.4 26.1h1.5V48.5h-1.5zM1233.5 18.7h2.5V48.5h-2.5zM1236.6 13.8h2V48.5h-2zM1239.2 9.7h4V48.5h-4zM1244.1 32.2h2.5V48.5h-2.5zM1247.2 32.2h3V48.5h-3zM1250.8 22.0h2V48.5h-2zM1253.4 32.2h2V48.5h-2zM1256.0 32.2h2V48.5h-2zM1258.6 9.7h2.5V48.5h-2.5zM1261.7 9.7h2.5V48.5h-2.5zM1264.8 9.7h1.5V48.5h-1.5zM1266.9 9.7h4V48.5h-4zM1271.9 9.7h3V48.5h-3zM1297.3 9.7h4V48.5h-4zM1302.0 22.0h2.5V48.5h-2.5zM1305.1 19.9h1.5V48.5h-1.5zM1307.2 17.1h5V48.5h-5zM1313.1 14.6h4V48.5h-4zM1317.9 22.8h5V48.5h-5zM1323.7 24.0h2V48.5h-2zM1326.3 24.0h4V48.5h-4zM1330.9 22.8h1.5V48.5h-1.5zM1333.0 22.8h2.5V48.5h-2.5zM1336.1 22.8h4V48.5h-4zM1341.0 17.9h2.5V48.5h-2.5zM1344.1 22.0h3V48.5h-3zM1347.7 32.2h2.5V48.5h-2.5zM1350.8 22.0h2V48.5h-2zM1353.4 22.0h4V48.5h-4zM1358.1 22.0h5V48.5h-5zM1364.3 22.0h4V48.5h-4zM1369.2 32.2h2V48.5h-2zM1371.8 22.0h5V48.5h-5zM1378.0 32.2h1.5V48.5h-1.5zM1380.1 22.0h2.5V48.5h-2.5zM1383.2 22.0h2.5V48.5h-2.5zM1386.3 22.0h3V48.5h-3zM1389.9 22.0h3V48.5h-3zM1393.5 22.0h4V48.5h-4zM1398.4 32.2h3V48.5h-3zM1402.0 22.0h2.5V48.5h-2.5zM1405.1 22.0h2V48.5h-2zM1407.7 22.0h2.5V48.5h-2.5zM1410.8 32.2h2V48.5h-2zM1413.4 22.0h1.5V48.5h-1.5zM1415.5 22.0h3V48.5h-3zM1419.1 22.0h2.5V48.5h-2.5zM1422.2 22.0h2V48.5h-2zM1424.8 22.0h4V48.5h-4zM1429.4 22.0h1.5V48.5h-1.5zM1431.5 22.0h4V48.5h-4zM1436.3 22.0h1.5V48.5h-1.5zM1438.4 32.2h1.5V48.5h-1.5zM1440.5 22.0h5V48.5h-5zM1446.6 22.0h2V48.5h-2zM1449.2 22.0h2.5V48.5h-2.5zM1452.3 9.7h1.5V48.5h-1.5zM1454.4 9.7h2.5V48.5h-2.5zM1457.5 9.7h5V48.5h-5zM1467.3 9.7h5V48.5h-5zM1473.1 19.9h2.5V48.5h-2.5zM1476.2 19.9h3V48.5h-3zM1479.8 19.9h5V48.5h-5zM1485.4 21.2h1.5V48.5h-1.5zM1487.5 21.2h2.5V48.5h-2.5zM1490.6 21.2h2V48.5h-2zM1493.2 21.2h2V48.5h-2zM1495.8 21.2h2V48.5h-2zM1498.4 21.2h1.5V48.5h-1.5zM1500.5 21.2h5V48.5h-5zM1506.1 22.0h5V48.5h-5zM1511.7 17.9h1.5V48.5h-1.5zM1513.8 9.7h5V48.5h-5zM1519.9 32.2h3V48.5h-3zM1523.5 32.2h1.5V48.5h-1.5zM1525.6 32.2h3V48.5h-3zM1529.2 32.2h4V48.5h-4zM1533.8 25.3h3V48.5h-3zM1537.4 22.8h3V48.5h-3zM1541.0 21.2h1.5V48.5h-1.5zM1543.1 19.9h3V48.5h-3zM1546.8 9.7h1V48.5h-1zM1551.0 9.7h2V48.5h-2zM1604.3 9.7h2V48.5h-2zM1611.4 9.7h1V48.5h-1zM1616.2 9.7h2V48.5h-2zM1627.8 9.7h2V48.5h-2zM1639.8 9.7h2.5V48.5h-2.5zM1648.8 18.3h2.5V48.5h-2.5zM1662.3 18.3h1V48.5h-1zM1665.5 18.3h2V48.5h-2zM1678.7 18.3h1.5V48.5h-1.5zM1685.9 18.3h1.5V48.5h-1.5zM1693.1 18.3h1.5V48.5h-1.5zM1703.2 18.3h1.5V48.5h-1.5zM1707.7 18.3h1.5V48.5h-1.5zM1716.3 18.3h2V48.5h-2zM1722.5 18.3h2.5V48.5h-2.5zM1739.3 18.3h1.5V48.5h-1.5zM1745.1 18.3h2.5V48.5h-2.5zM1759.0 18.3h2V48.5h-2zM1771.3 18.3h1.5V48.5h-1.5zM1776.5 18.3h1V48.5h-1zM1781.1 18.3h1V48.5h-1zM1787.7 18.3h2.5V48.5h-2.5zM1803.9 18.3h2V48.5h-2zM1815.7 18.3h1.5V48.5h-1.5zM1821.7 18.3h2.5V48.5h-2.5zM1837.5 18.3h2.5V48.5h-2.5zM1850.6 18.3h1V48.5h-1zM1856.7 18.3h2V48.5h-2zM1869.1 18.3h1V48.5h-1zM1873.4 18.3h1V48.5h-1zM1878.0 18.3h2.5V48.5h-2.5zM1886.8 18.3h1.5V48.5h-1.5zM1894.5 18.3h1.5V48.5h-1.5zM1901.7 18.3h1V48.5h-1zM1907.5 18.3h2V48.5h-2zM1916.4 18.3h1.5V48.5h-1.5zM1925.6 18.3h2.5V48.5h-2.5zM1938.3 18.3h1.5V48.5h-1.5zM1943.5 18.3h1.5V48.5h-1.5zM1952.8 18.3h2V48.5h-2zM1963.9 18.3h2V48.5h-2zM1975.9 18.3h1.5V48.5h-1.5zM1981.4 18.3h2.5V48.5h-2.5zM1995.9 18.3h1.5V48.5h-1.5zM2000.8 18.3h2V48.5h-2zM2014.7 18.3h1.5V48.5h-1.5zM2019.7 18.3h1V48.5h-1zM2023.7 18.3h2V48.5h-2zM2031.5 18.3h1.5V48.5h-1.5zM2037.9 18.3h1V48.5h-1zM2041.8 18.3h1V48.5h-1zM2048.1 18.3h1V48.5h-1zM2051.2 18.3h2.5V48.5h-2.5zM2061.6 18.3h1V48.5h-1zM2064.6 18.3h1V48.5h-1zM2067.6 18.3h2V48.5h-2zM2079.2 18.3h2.5V48.5h-2.5zM2093.6 18.3h1.5V48.5h-1.5zM2109.6 18.3h1.5V48.5h-1.5zM2129.8 18.3h1V48.5h-1zM2138.9 18.3h2.5V48.5h-2.5zM2172.7 18.3h2.5V48.5h-2.5zM2223.2 18.3h2.5V48.5h-2.5zM2265.2 18.3h1.5V48.5h-1.5zM2291.2 18.3h1V48.5h-1zM2305.5 18.3h1V48.5h-1zM2314.8 18.3h2.5V48.5h-2.5zM2338.6 9.7h1V48.5h-1zM2346.9 9.7h2.5V48.5h-2.5zM2377.9 9.7h2.5V48.5h-2.5z" fill="#efefef"/><path d="M984.4 49.5V45.4H990.3V43.4H993.7V45.4H1048.3V22.8H1055.8V15.9H1057.5V13.4H1060.9V26.9H1062.6V20.8H1066.0V17.5H1072.6V13.4H1076.8V8.5H1097.9V16.7H1099.5V22.8H1107.0V31.1H1111.3V20.8H1113.8V18.8H1116.3V21.6H1121.4V31.1H1124.7V22.8H1129.8V31.1H1138.2V43.8H1147.4V45.4H1162.6V31.1H1170.0V8.5H1202.0V24.1H1205.4V21.6H1208.8V20.0H1212.0V22.8H1215.5V24.9H1219.7V20.8H1222.2V18.8H1223.9V8.5H1230.6V24.9H1233.0V17.5H1235.7V12.6H1237.4V8.5H1239.4V29.0H1244.0V31.1H1248.3V22.8H1250.8V20.8H1253.3V31.1H1256.7V8.5H1297.9V20.8H1303.7V18.8H1307.0V15.9H1311.3V13.4H1314.7V21.6H1319.7V31.1H1323.0V22.8H1326.4V21.6H1339.9V16.7H1343.2V20.8H1346.0V31.1H1348.0V20.8H1355.0V31.1H1357.0V20.8H1368.0V31.1H1370.0V20.8H1377.0V31.1H1378.5V20.8H1390.0V31.1H1392.0V20.8H1398.0V31.1H1400.0V20.8H1409.0V31.1H1411.0V20.8H1420.0V31.1H1421.5V20.8H1426.0V31.1H1427.5V20.8H1437.0V31.1H1438.5V20.8H1443.0V31.1H1445.0V20.8H1450.6V8.5H1471.5V18.8H1480.3V16.7H1483.0V20.0H1501.9V16.7H1505.3V20.8H1508.0V16.7H1512.7V8.5H1516.0V31.1H1532.2V24.1H1535.0V21.6H1538.3V20.0H1541.7V18.8H1544.4V8.5H1640.0V17.1H2203.0V8.5H2219.0V17.1H2280.0V8.5H2283.0V17.1H2335.0V8.5H2362.0V17.1H2370.0V8.5H2378.0V17.1H2425.0" fill="none" stroke="#b0b84c" stroke-width="1.1"/><path d="M984.4 49.5H2425.0" stroke="#b0b84c" stroke-width="1.9"/></svg>
<div class="b" style="left:955px;top:1110px;width:70px;height:36px;background:rgba(255,255,255,.6);"></div>
<span class="t" style="left:962.7px;top:1122.0px;font-size:18.5px;color:#555;transform:scaleX(0.9228);">2.5 GHz</span>
<svg style="left:0;top:1159px" width="2425" height="51" viewBox="0 0 2425 51"><path d="M984.4 49.5V45.4H990.3V43.4H993.7V45.4H1048.3V22.8H1055.8V15.9H1057.5V13.4H1060.9V26.9H1062.6V20.8H1066.0V17.5H1072.6V13.4H1076.8V8.5H1097.9V16.7H1099.5V22.8H1107.0V31.1H1111.3V20.8H1113.8V18.8H1116.3V21.6H1121.4V31.1H1124.7V22.8H1129.8V31.1H1138.2V43.8H1147.4V45.4H1162.6V31.1H1170.0V8.5H1202.0V24.1H1205.4V21.6H1208.8V20.0H1212.0V22.8H1215.5V24.9H1219.7V20.8H1222.2V18.8H1223.9V8.5H1230.6V24.9H1233.0V17.5H1235.7V12.6H1237.4V8.5H1239.4V29.0H1244.0V31.1H1248.3V22.8H1250.8V20.8H1253.3V31.1H1256.7V8.5H1297.9V20.8H1303.7V18.8H1307.0V15.9H1311.3V13.4H1314.7V21.6H1319.7V31.1H1323.0V22.8H1326.4V21.6H1339.9V16.7H1343.2V20.8H1346.0V31.1H1348.0V20.8H1359.0V31.1H1361.0V20.8H1367.0V31.1H1369.0V20.8H1375.0V31.1H1377.0V20.8H1384.0V31.1H1386.0V20.8H1390.0V31.1H1392.0V20.8H1398.0V31.1H1399.5V20.8H1409.0V31.1H1410.5V20.8H1415.0V31.1H1416.5V20.8H1423.0V31.1H1425.0V20.8H1436.0V31.1H1438.0V20.8H1445.0V31.1H1447.0V20.8H1450.6V8.5H1471.5V18.8H1480.3V16.7H1483.0V20.0H1501.9V16.7H1505.3V20.8H1508.0V16.7H1512.7V8.5H1516.0V31.1H1532.2V24.1H1535.0V21.6H1538.3V20.0H1541.7V18.8H1544.4V8.5H1640.0V17.1H2203.0V8.5H2219.0V17.1H2280.0V8.5H2283.0V17.1H2335.0V8.5H2362.0V17.1H2370.0V8.5H2378.0V17.1H2425.0V49.5Z" fill="#acd690"/><path d="M1049.4 22.8h2V33.5h-2zM1079.4 8.5h14V18.8h-14zM1093.4 8.5h2V14.6h-2zM1118.4 22.8h9V33.5h-9zM1175.4 8.5h2V24.9h-2zM1177.4 8.5h9V24.9h-9zM1186.4 8.5h6V14.6h-6zM1192.4 8.5h4V14.6h-4zM1209.4 20.0h14V31.8h-14zM1223.4 18.8h14V31.1h-14zM1297.4 20.8h4V32.3h-4zM1301.4 20.8h2V28.0h-2zM1303.4 20.8h4V32.3h-4zM1307.4 15.9h2V29.3h-2zM1309.4 21.6h9V25.8h-9zM1341.4 20.8h4V25.1h-4zM1363.4 20.8h6V32.3h-6zM1369.4 20.8h9V32.3h-9zM1378.4 20.8h9V28.0h-9zM1421.4 20.8h14V25.1h-14zM1461.4 8.5h6V18.8h-6zM1479.4 20.0h6V24.4h-6zM1534.4 24.1h4V34.2h-4zM1547.4 8.5h3V18.8h-3zM1562.4 8.5h2V24.9h-2zM1576.4 8.5h2V18.8h-2zM1578.4 8.5h2V14.6h-2zM1580.4 8.5h3V14.6h-3zM1613.4 8.5h6V24.9h-6zM1628.4 8.5h6V24.9h-6zM1634.4 17.1h6V25.2h-6zM1642.4 17.1h6V30.1h-6zM1694.4 17.1h14V22.0h-14zM1708.4 17.1h14V30.1h-14zM1725.4 17.1h3V30.1h-3zM1730.4 17.1h14V25.2h-14zM1746.4 17.1h14V25.2h-14zM1766.4 17.1h9V30.1h-9zM1789.4 17.1h14V25.2h-14zM1803.4 17.1h2V30.1h-2zM1811.4 17.1h2V22.0h-2zM1813.4 17.1h2V30.1h-2zM1848.4 17.1h3V22.0h-3zM1854.4 17.1h6V25.2h-6zM1870.4 17.1h3V30.1h-3zM1873.4 17.1h4V25.2h-4zM1877.4 17.1h4V30.1h-4zM1883.4 17.1h14V30.1h-14zM2083.4 17.1h6V30.1h-6zM2291.4 17.1h2V30.1h-2zM2342.4 8.5h3V18.8h-3z" fill="#86c45a"/><path d="M984.4 46.6h3V48.5h-3zM988.0 46.6h1.5V48.5h-1.5zM990.1 46.6h4V48.5h-4zM994.7 46.6h5V48.5h-5zM1000.3 46.6h1.5V48.5h-1.5zM1002.4 46.6h5V48.5h-5zM1008.0 46.6h1.5V48.5h-1.5zM1010.1 46.6h2V48.5h-2zM1012.7 46.6h1.5V48.5h-1.5zM1014.8 46.6h2V48.5h-2zM1017.4 46.6h3V48.5h-3zM1021.0 46.6h1.5V48.5h-1.5zM1023.1 46.6h5V48.5h-5zM1028.8 46.6h2.5V48.5h-2.5zM1031.9 46.6h2.5V48.5h-2.5zM1035.0 46.6h3V48.5h-3zM1038.6 46.6h4V48.5h-4zM1043.2 46.6h2V48.5h-2zM1045.8 46.6h5V48.5h-5zM1051.4 24.0h2.5V48.5h-2.5zM1054.5 24.0h5V48.5h-5zM1060.1 14.6h4V48.5h-4zM1064.7 22.0h4V48.5h-4zM1069.3 18.7h1.5V48.5h-1.5zM1071.4 18.7h5V48.5h-5zM1095.3 9.7h4V48.5h-4zM1100.1 24.0h5V48.5h-5zM1106.2 24.0h5V48.5h-5zM1112.1 22.0h2.5V48.5h-2.5zM1115.2 19.9h5V48.5h-5zM1120.9 22.8h2.5V48.5h-2.5zM1124.0 32.2h4V48.5h-4zM1128.6 24.0h1.5V48.5h-1.5zM1130.7 32.2h3V48.5h-3zM1134.3 32.2h5V48.5h-5zM1139.9 45.0h2.5V48.5h-2.5zM1143.0 45.0h5V48.5h-5zM1148.6 46.6h5V48.5h-5zM1154.6 46.6h3V48.5h-3zM1158.2 46.6h1.5V48.5h-1.5zM1160.3 46.6h5V48.5h-5zM1166.3 32.2h1.5V48.5h-1.5zM1168.4 32.2h4V48.5h-4zM1192.3 9.7h2.5V48.5h-2.5zM1195.4 9.7h4V48.5h-4zM1200.4 9.7h1.5V48.5h-1.5zM1202.5 25.3h2V48.5h-2zM1205.1 25.3h1.5V48.5h-1.5zM1207.2 22.8h4V48.5h-4zM1211.9 21.2h2V48.5h-2zM1214.5 24.0h1.5V48.5h-1.5zM1216.6 26.1h4V48.5h-4zM1221.2 22.0h5V48.5h-5zM1227.2 9.7h2V48.5h-2zM1229.8 9.7h2.5V48.5h-2.5zM1232.9 26.1h2.5V48.5h-2.5zM1236.0 13.8h2V48.5h-2zM1238.6 9.7h1.5V48.5h-1.5zM1240.7 30.2h3V48.5h-3zM1244.3 32.2h2.5V48.5h-2.5zM1247.4 32.2h2.5V48.5h-2.5zM1250.5 24.0h4V48.5h-4zM1255.1 32.2h2V48.5h-2zM1257.7 9.7h3V48.5h-3zM1261.3 9.7h3V48.5h-3zM1264.9 9.7h2.5V48.5h-2.5zM1296.3 9.7h5V48.5h-5zM1302.2 22.0h2.5V48.5h-2.5zM1305.3 19.9h3V48.5h-3zM1308.9 17.1h3V48.5h-3zM1312.5 14.6h3V48.5h-3zM1316.1 22.8h2V48.5h-2zM1318.7 22.8h4V48.5h-4zM1323.3 24.0h3V48.5h-3zM1326.9 22.8h4V48.5h-4zM1331.5 22.8h5V48.5h-5zM1337.4 22.8h4V48.5h-4zM1342.1 17.9h4V48.5h-4zM1346.7 32.2h4V48.5h-4zM1351.3 22.0h2.5V48.5h-2.5zM1354.4 22.0h2.5V48.5h-2.5zM1357.5 22.0h5V48.5h-5zM1363.1 22.0h1.5V48.5h-1.5zM1365.2 22.0h5V48.5h-5zM1370.9 22.0h5V48.5h-5zM1376.5 32.2h3V48.5h-3zM1380.1 22.0h3V48.5h-3zM1383.8 22.0h5V48.5h-5zM1389.4 22.0h3V48.5h-3zM1393.1 22.0h5V48.5h-5zM1398.7 32.2h2.5V48.5h-2.5zM1401.8 22.0h2.5V48.5h-2.5zM1404.9 22.0h1.5V48.5h-1.5zM1407.0 22.0h1.5V48.5h-1.5zM1409.1 32.2h1.5V48.5h-1.5zM1411.2 22.0h4V48.5h-4zM1416.0 32.2h2V48.5h-2zM1418.6 22.0h3V48.5h-3zM1422.2 22.0h4V48.5h-4zM1427.1 22.0h2.5V48.5h-2.5zM1430.2 22.0h3V48.5h-3zM1433.9 22.0h5V48.5h-5zM1440.0 22.0h2.5V48.5h-2.5zM1443.1 22.0h1.5V48.5h-1.5zM1445.2 32.2h2V48.5h-2zM1447.8 22.0h3V48.5h-3zM1451.4 9.7h2V48.5h-2zM1454.0 9.7h4V48.5h-4zM1458.8 9.7h5V48.5h-5zM1464.4 9.7h1.5V48.5h-1.5zM1466.5 9.7h4V48.5h-4zM1471.3 9.7h3V48.5h-3zM1474.9 19.9h3V48.5h-3zM1478.5 19.9h2V48.5h-2zM1481.1 17.9h4V48.5h-4zM1485.9 21.2h5V48.5h-5zM1491.9 21.2h5V48.5h-5zM1497.8 21.2h1.5V48.5h-1.5zM1499.9 21.2h2V48.5h-2zM1502.5 17.9h2.5V48.5h-2.5zM1515.3 9.7h2V48.5h-2zM1517.9 32.2h5V48.5h-5zM1524.1 32.2h2V48.5h-2zM1526.7 32.2h5V48.5h-5zM1532.9 25.3h3V48.5h-3zM1536.5 22.8h5V48.5h-5zM1542.1 19.9h1.5V48.5h-1.5zM1544.2 19.9h2V48.5h-2zM1550.2 9.7h1V48.5h-1zM1554.3 9.7h1.5V48.5h-1.5zM1604.3 9.7h1V48.5h-1zM1607.6 9.7h2.5V48.5h-2.5zM1619.0 9.7h2V48.5h-2zM1629.5 9.7h2V48.5h-2zM1639.9 9.7h2.5V48.5h-2.5zM1655.3 18.3h1V48.5h-1zM1660.7 18.3h1.5V48.5h-1.5zM1669.4 18.3h1V48.5h-1zM1674.6 18.3h1V48.5h-1zM1681.6 18.3h2V48.5h-2zM1687.9 18.3h1.5V48.5h-1.5zM1693.9 18.3h1.5V48.5h-1.5zM1701.4 18.3h1.5V48.5h-1.5zM1708.0 18.3h1V48.5h-1zM1713.4 18.3h2V48.5h-2zM1725.9 18.3h2.5V48.5h-2.5zM1737.6 18.3h1V48.5h-1zM1741.9 18.3h1.5V48.5h-1.5zM1747.7 18.3h2V48.5h-2zM1759.9 18.3h2V48.5h-2zM1767.4 18.3h2V48.5h-2zM1777.0 18.3h2V48.5h-2zM1789.4 18.3h2.5V48.5h-2.5zM1797.9 18.3h2.5V48.5h-2.5zM1807.8 18.3h1V48.5h-1zM1814.7 18.3h1V48.5h-1zM1819.3 18.3h1V48.5h-1zM1822.9 18.3h1V48.5h-1zM1829.1 18.3h2V48.5h-2zM1842.0 18.3h1V48.5h-1zM1848.5 18.3h2.5V48.5h-2.5zM1865.5 18.3h1.5V48.5h-1.5zM1875.7 18.3h1V48.5h-1zM1882.1 18.3h1V48.5h-1zM1888.9 18.3h1.5V48.5h-1.5zM1898.0 18.3h2V48.5h-2zM1906.6 18.3h2.5V48.5h-2.5zM1916.9 18.3h2V48.5h-2zM1926.5 18.3h2.5V48.5h-2.5zM1938.3 18.3h1V48.5h-1zM1942.8 18.3h1.5V48.5h-1.5zM1953.2 18.3h2V48.5h-2zM1961.2 18.3h1.5V48.5h-1.5zM1967.0 18.3h1.5V48.5h-1.5zM1974.7 18.3h2V48.5h-2zM1983.3 18.3h1V48.5h-1zM1988.7 18.3h2V48.5h-2zM1999.8 18.3h2.5V48.5h-2.5zM2008.8 18.3h1V48.5h-1zM2015.8 18.3h2.5V48.5h-2.5zM2030.5 18.3h2V48.5h-2zM2040.7 18.3h1.5V48.5h-1.5zM2050.5 18.3h1V48.5h-1zM2056.5 18.3h1.5V48.5h-1.5zM2064.1 18.3h1V48.5h-1zM2068.4 18.3h2.5V48.5h-2.5zM2080.1 18.3h1.5V48.5h-1.5zM2089.1 18.3h1V48.5h-1zM2101.0 18.3h2.5V48.5h-2.5zM2126.8 18.3h2.5V48.5h-2.5zM2168.4 18.3h1V48.5h-1zM2177.6 18.3h2V48.5h-2zM2213.3 9.7h1.5V48.5h-1.5zM2243.6 18.3h1.5V48.5h-1.5zM2274.4 18.3h1.5V48.5h-1.5zM2287.9 18.3h1.5V48.5h-1.5zM2307.7 18.3h1V48.5h-1zM2318.0 18.3h1V48.5h-1zM2328.2 18.3h1.5V48.5h-1.5zM2355.2 9.7h1.5V48.5h-1.5zM2369.9 18.3h2.5V48.5h-2.5zM2394.1 18.3h2.5V48.5h-2.5z" fill="#efefef"/><path d="M984.4 49.5V45.4H990.3V43.4H993.7V45.4H1048.3V22.8H1055.8V15.9H1057.5V13.4H1060.9V26.9H1062.6V20.8H1066.0V17.5H1072.6V13.4H1076.8V8.5H1097.9V16.7H1099.5V22.8H1107.0V31.1H1111.3V20.8H1113.8V18.8H1116.3V21.6H1121.4V31.1H1124.7V22.8H1129.8V31.1H1138.2V43.8H1147.4V45.4H1162.6V31.1H1170.0V8.5H1202.0V24.1H1205.4V21.6H1208.8V20.0H1212.0V22.8H1215.5V24.9H1219.7V20.8H1222.2V18.8H1223.9V8.5H1230.6V24.9H1233.0V17.5H1235.7V12.6H1237.4V8.5H1239.4V29.0H1244.0V31.1H1248.3V22.8H1250.8V20.8H1253.3V31.1H1256.7V8.5H1297.9V20.8H1303.7V18.8H1307.0V15.9H1311.3V13.4H1314.7V21.6H1319.7V31.1H1323.0V22.8H1326.4V21.6H1339.9V16.7H1343.2V20.8H1346.0V31.1H1348.0V20.8H1359.0V31.1H1361.0V20.8H1367.0V31.1H1369.0V20.8H1375.0V31.1H1377.0V20.8H1384.0V31.1H1386.0V20.8H1390.0V31.1H1392.0V20.8H1398.0V31.1H1399.5V20.8H1409.0V31.1H1410.5V20.8H1415.0V31.1H1416.5V20.8H1423.0V31.1H1425.0V20.8H1436.0V31.1H1438.0V20.8H1445.0V31.1H1447.0V20.8H1450.6V8.5H1471.5V18.8H1480.3V16.7H1483.0V20.0H1501.9V16.7H1505.3V20.8H1508.0V16.7H1512.7V8.5H1516.0V31.1H1532.2V24.1H1535.0V21.6H1538.3V20.0H1541.7V18.8H1544.4V8.5H1640.0V17.1H2203.0V8.5H2219.0V17.1H2280.0V8.5H2283.0V17.1H2335.0V8.5H2362.0V17.1H2370.0V8.5H2378.0V17.1H2425.0" fill="none" stroke="#7cba4e" stroke-width="1.1"/><path d="M984.4 49.5H2425.0" stroke="#7cba4e" stroke-width="1.9"/></svg>
<div class="b" style="left:955px;top:1160px;width:70px;height:36px;background:rgba(255,255,255,.6);"></div>
<span class="t" style="left:962.7px;top:1172.0px;font-size:18.5px;color:#555;transform:scaleX(0.9228);">2.5 GHz</span>
<div class="b" style="left:953px;top:76px;width:2px;height:29px;background:#8c8c8c;"></div>
<div class="b" style="left:1051px;top:76px;width:2px;height:9px;background:#7a7a7a;"></div>
<div class="b" style="left:1151px;top:76px;width:2px;height:9px;background:#7a7a7a;"></div>
<div class="b" style="left:1251px;top:76px;width:2px;height:9px;background:#7a7a7a;"></div>
<div class="b" style="left:1351px;top:76px;width:2px;height:9px;background:#7a7a7a;"></div>
<div class="b" style="left:1451px;top:76px;width:2px;height:29px;background:#8c8c8c;"></div>
<div class="b" style="left:1551px;top:76px;width:2px;height:9px;background:#7a7a7a;"></div>
<div class="b" style="left:1651px;top:76px;width:2px;height:9px;background:#7a7a7a;"></div>
<div class="b" style="left:1751px;top:76px;width:2px;height:9px;background:#7a7a7a;"></div>
<div class="b" style="left:1851px;top:76px;width:2px;height:9px;background:#7a7a7a;"></div>
<div class="b" style="left:1951px;top:76px;width:2px;height:29px;background:#8c8c8c;"></div>
<div class="b" style="left:2051px;top:76px;width:2px;height:9px;background:#7a7a7a;"></div>
<div class="b" style="left:2151px;top:76px;width:2px;height:9px;background:#7a7a7a;"></div>
<div class="b" style="left:2251px;top:76px;width:2px;height:9px;background:#7a7a7a;"></div>
<div class="b" style="left:2351px;top:76px;width:2px;height:9px;background:#7a7a7a;"></div>
<span class="t" style="left:965.3px;top:96.0px;font-size:18px;color:#8d8d8d;transform:scaleX(0.9738);-webkit-text-stroke:0.25px #8d8d8d;">00:00:00</span>
<span class="t" style="left:1462.9px;top:96.0px;font-size:18px;color:#8d8d8d;transform:scaleX(0.9753);-webkit-text-stroke:0.25px #8d8d8d;">00:00:05</span>
<span class="t" style="left:1962.9px;top:96.0px;font-size:18px;color:#8d8d8d;transform:scaleX(0.9738);-webkit-text-stroke:0.25px #8d8d8d;">00:00:10</span>
<div class="b" style="left:455px;top:214px;width:1970px;height:2px;background:#d5d5d5;"></div>
<span class="t" style="left:466.8px;top:217.6px;font-size:21px;color:#8d8d8d;transform:scaleX(0.9293);-webkit-text-stroke:0.3px #8d8d8d;">3d00:33:07</span>
<span class="t" style="left:577.0px;top:217.6px;font-size:21px;color:#8d8d8d;transform:scaleX(0.9709);">+</span>
<span class="t" style="left:466.8px;top:238.0px;font-size:21px;color:#8d8d8d;transform:scaleX(0.8730);-webkit-text-stroke:0.3px #8d8d8d;">012 114 381</span>
<span class="t" style="left:965.3px;top:217.6px;font-size:21px;color:#8d8d8d;transform:scaleX(0.9202);-webkit-text-stroke:0.3px #8d8d8d;">00:00:00</span>
<span class="t" style="left:965.3px;top:238.0px;font-size:21px;color:#8d8d8d;transform:scaleX(0.8681);-webkit-text-stroke:0.3px #8d8d8d;">000 000 000</span>
<span class="t" style="left:1463.0px;top:217.6px;font-size:21px;color:#8d8d8d;transform:scaleX(0.9213);-webkit-text-stroke:0.3px #8d8d8d;">00:00:05</span>
<span class="t" style="left:1463.0px;top:238.0px;font-size:21px;color:#8d8d8d;transform:scaleX(0.8681);-webkit-text-stroke:0.3px #8d8d8d;">000 000 000</span>
<div class="b" style="left:1453px;top:216px;width:2px;height:114px;background:#9a9a9a;"></div>
<span class="t" style="left:1963.0px;top:217.6px;font-size:21px;color:#8d8d8d;transform:scaleX(0.9202);-webkit-text-stroke:0.3px #8d8d8d;">00:00:10</span>
<span class="t" style="left:1963.0px;top:238.0px;font-size:21px;color:#8d8d8d;transform:scaleX(0.8681);-webkit-text-stroke:0.3px #8d8d8d;">000 000 000</span>
<div class="b" style="left:1953px;top:216px;width:2px;height:114px;background:#9a9a9a;"></div>
<div class="b" style="left:952px;top:215px;width:5px;height:115px;background:#9b9b9b;"></div>
<div class="b" style="left:953px;top:76px;width:2px;height:140px;background:#9a9a9a;"></div>
<div class="b" style="left:949px;top:116px;width:10px;height:40px;background:#999;"></div>
<div class="b" style="left:2422px;top:116px;width:3px;height:40px;background:#999;"></div>
<svg style="left:461px;top:288.9px" width="31.7" height="31.7" viewBox="0 0 24 24"><path fill="#1a1a1a" d="M12 5.83L15.17 9l1.41-1.41L12 3 7.41 7.59 8.83 9 12 5.83zm0 12.34L8.83 15l-1.41 1.41L12 21l4.59-4.59L15.17 15 12 18.17z"/></svg>
<svg style="left:497.3px;top:287.8px" width="31.7" height="31.7" viewBox="0 0 24 24"><path fill="#1a1a1a" d="M5 13h14v-2H5v2zm-2 4h14v-2H3v2zM7 7v2h14V7H7z"/></svg>
<span class="t" style="left:536.2px;top:288.0px;font-size:31.3px;color:#7d7d7d;transform:scaleX(0.9370);-webkit-text-stroke:0.4px #7d7d7d;">Filter tracks...</span>
<div class="b" style="left:533px;top:326px;width:364px;height:2.4px;background:#1a2433;"></div>
<svg style="left:913.0px;top:294.4px" width="24" height="19" viewBox="0 0 24 19"><path d="M7 1.2 H22.8 V17.7 H7 L1.5 9.45 Z" fill="none" stroke="#111" stroke-width="2.45" stroke-linejoin="miter"/><path d="M10.3 5.4 L18.7 13.8 M18.7 5.4 L10.3 13.8" stroke="#111" stroke-width="2.6"/></svg>
<div class="b" style="left:455px;top:0px;width:1970px;height:76px;background:#f2f2f2;box-shadow:0 2px 5px rgba(0,0,0,.28);"></div>
<div class="b" style="left:841px;top:0px;width:1200px;height:67.3px;background:#fff;border-radius:0 0 5px 5px;"></div>
<svg style="left:855.0px;top:10.0px" width="44" height="44" viewBox="0 0 44 44"><circle cx="17" cy="17" r="11.3" fill="none" stroke="#9b9b9b" stroke-width="4"/><path d="M25.5 25.5 L38 38" stroke="#9b9b9b" stroke-width="4.6"/></svg>
<span class="t" style="left:931.6px;top:13.0px;font-size:37.4px;color:#abaeb3;transform:scaleX(0.8440);-webkit-text-stroke:0.4px #abaeb3;">Search or type '&gt;' for commands or ':' for SQL mode</span>
<div class="b" style="left:455px;top:1236px;width:1970px;height:54px;background:#f2f2f2;border-top:2px solid #d6d6d6;box-shadow:inset 0 -4px 5px -2px rgba(0,0,0,.2);"></div>
<div class="b" style="left:478.7px;top:1249.1px;width:7.8px;height:7.8px;background:#111;border-radius:50%;"></div>
<div class="b" style="left:478.7px;top:1260.8px;width:7.8px;height:7.8px;background:#111;border-radius:50%;"></div>
<div class="b" style="left:478.7px;top:1272.5px;width:7.8px;height:7.8px;background:#111;border-radius:50%;"></div>
<div class="b" style="left:515px;top:1244px;width:208px;height:46px;background:#e9e9e9;border-radius:6px 6px 0 0;border:1px solid #dcdcdc;border-bottom:none;box-shadow:inset 0 -3px 4px -2px rgba(0,0,0,.15);"></div>
<div class="b" style="left:725px;top:1244px;width:329px;height:46px;background:#fff;border-radius:6px 6px 0 0;border:1px solid #d6d6d6;border-bottom:none;"></div>
<span class="t" style="left:530.9px;top:1254.3px;font-size:27px;color:#3a4a5c;transform:scaleX(0.8487);-webkit-text-stroke:0.3px #3a4a5c;">Current Selection</span>
<span class="t" style="left:741.0px;top:1254.3px;font-size:27px;color:#3a4a5c;transform:scaleX(0.8418);-webkit-text-stroke:0.3px #3a4a5c;">Standalone Query (10000)</span>
<svg style="left:1024.0px;top:1258.0px" width="18" height="18" viewBox="0 0 18 18"><path d="M2 2 L16 16 M16 2 L2 16" stroke="#222" stroke-width="2.3"/></svg>
<svg style="left:2332.0px;top:1243.0px" width="40" height="42" viewBox="0 0 40 42"><path d="M3 5 H35" stroke="#111" stroke-width="3.8"/><path d="M19 39 V14 M10.3 22.5 L19 13.8 L27.7 22.5" fill="none" stroke="#111" stroke-width="3.8"/></svg>
<svg style="left:2385.0px;top:1254.0px" width="30" height="20" viewBox="0 0 30 20"><path d="M3.3 3.3 L13.9 14 L24.5 3.3" fill="none" stroke="#111" stroke-width="3.8"/></svg>
<div class="b" style="left:455px;top:1290px;width:1970px;height:296px;background:#fff;"></div>
<span class="t" style="left:470.5px;top:1311.5px;font-size:36.6px;color:#000;transform:scaleX(0.8685);-webkit-text-stroke:0.65px #000;">Query result (10000 rows) - 169.3ms</span>
<span class="t" style="left:999.5px;top:1318.5px;font-size:28px;color:#000;transform:scaleX(0.8342);-webkit-text-stroke:0.35px #000;">SELECT * FROM sched;</span>
<div class="b" style="left:1722px;top:1313.5px;width:253px;height:40px;background:#dfdfdf;border-radius:4px;"></div>
<span class="t" style="left:1734.2px;top:1313.5px;font-size:31.3px;color:#000;transform:scaleX(0.8969);-webkit-text-stroke:0.6px #000;">Show debug track</span>
<span class="t" style="left:1998.7px;top:1313.5px;font-size:31.3px;color:#000;transform:scaleX(0.8801);-webkit-text-stroke:0.6px #000;">Copy query</span>
<span class="t" style="left:2179.4px;top:1313.5px;font-size:31.3px;color:#000;transform:scaleX(0.9181);-webkit-text-stroke:0.6px #000;">Copy result (.tsv)</span>
<div class="b" style="left:455px;top:1364px;width:1970px;height:2px;background:#d9d9d9;"></div>
<div class="b" style="left:461px;top:1373px;width:95px;height:36.5px;background:#e1e5ea;"></div>
<span class="t" style="left:497.1px;top:1377.3px;font-size:28px;color:#262f3c;transform:scaleX(1.0440);-webkit-text-stroke:0.3px #262f3c;">id</span>
<div class="b" style="left:564.3px;top:1373px;width:483.29999999999995px;height:36.5px;background:#e1e5ea;"></div>
<span class="t" style="left:782.6px;top:1377.3px;font-size:28px;color:#262f3c;transform:scaleX(0.8949);-webkit-text-stroke:0.3px #262f3c;">type</span>
<div class="b" style="left:1056px;top:1373px;width:315.79999999999995px;height:36.5px;background:#e1e5ea;"></div>
<span class="t" style="left:1203.5px;top:1377.3px;font-size:28px;color:#262f3c;transform:scaleX(0.9804);-webkit-text-stroke:0.3px #262f3c;">ts</span>
<div class="b" style="left:1380px;top:1373px;width:168.5999999999999px;height:36.5px;background:#e1e5ea;"></div>
<span class="t" style="left:1445.8px;top:1377.3px;font-size:28px;color:#262f3c;transform:scaleX(0.8997);-webkit-text-stroke:0.3px #262f3c;">dur</span>
<div class="b" style="left:1557px;top:1373px;width:66px;height:36.5px;background:#e1e5ea;"></div>
<span class="t" style="left:1569.5px;top:1377.3px;font-size:28px;color:#262f3c;transform:scaleX(0.9220);-webkit-text-stroke:0.3px #262f3c;">cpu</span>
<div class="b" style="left:1631.3px;top:1373px;width:84.40000000000009px;height:36.5px;background:#e1e5ea;"></div>
<span class="t" style="left:1651.2px;top:1377.3px;font-size:28px;color:#262f3c;transform:scaleX(0.9856);-webkit-text-stroke:0.3px #262f3c;">utid</span>
<div class="b" style="left:1724px;top:1373px;width:150.70000000000005px;height:36.5px;background:#e1e5ea;"></div>
<span class="t" style="left:1744.9px;top:1377.3px;font-size:28px;color:#262f3c;transform:scaleX(0.8865);-webkit-text-stroke:0.3px #262f3c;">end_state</span>
<div class="b" style="left:1883px;top:1373px;width:112.79999999999995px;height:36.5px;background:#e1e5ea;"></div>
<span class="t" style="left:1899.2px;top:1377.3px;font-size:28px;color:#262f3c;transform:scaleX(0.9367);-webkit-text-stroke:0.3px #262f3c;">priority</span>
<div class="b" style="left:2004px;top:1373px;width:82.80000000000018px;height:36.5px;background:#e1e5ea;"></div>
<span class="t" style="left:2017.2px;top:1377.3px;font-size:28px;color:#262f3c;transform:scaleX(0.9282);-webkit-text-stroke:0.3px #262f3c;">ucpu</span>
<div class="b" style="left:2095px;top:1373px;width:325.5999999999999px;height:36.5px;background:#e1e5ea;"></div>
<span class="t" style="left:2221.4px;top:1377.3px;font-size:28px;color:#262f3c;transform:scaleX(0.8791);-webkit-text-stroke:0.3px #262f3c;">ts_end</span>
<span class="t" style="left:468.5px;top:1424.0px;font-size:30px;color:#111;font-family:'Liberation Mono', monospace;transform:scaleX(0.9333);-webkit-text-stroke:0.3px #111;">0</span>
<span class="t" style="left:566.1px;top:1424.0px;font-size:30px;color:#111;font-family:'Liberation Mono', monospace;transform:scaleX(0.9333);-webkit-text-stroke:0.3px #111;">__intrinsic_sched_slice</span>
<span class="t" style="left:1054.7px;top:1424.0px;font-size:30px;color:#111;font-family:'Liberation Mono', monospace;transform:scaleX(0.9333);-webkit-text-stroke:0.3px #111;">261187012170995</span>
<span class="t" style="left:1378.2px;top:1424.0px;font-size:30px;color:#111;font-family:'Liberation Mono', monospace;transform:scaleX(0.9333);-webkit-text-stroke:0.3px #111;">247188</span>
<span class="t" style="left:1555.6px;top:1424.0px;font-size:30px;color:#111;font-family:'Liberation Mono', monospace;transform:scaleX(0.9333);-webkit-text-stroke:0.3px #111;">2</span>
<span class="t" style="left:1630.2px;top:1424.0px;font-size:30px;color:#111;font-family:'Liberation Mono', monospace;transform:scaleX(0.9333);-webkit-text-stroke:0.3px #111;">767</span>
<span class="t" style="left:1724.7px;top:1424.0px;font-size:30px;color:#111;font-family:'Liberation Mono', monospace;transform:scaleX(0.9333);-webkit-text-stroke:0.3px #111;">S</span>
<span class="t" style="left:1881.8px;top:1424.0px;font-size:30px;color:#111;font-family:'Liberation Mono', monospace;transform:scaleX(0.9333);-webkit-text-stroke:0.3px #111;">130</span>
<span class="t" style="left:2002.8px;top:1424.0px;font-size:30px;color:#111;font-family:'Liberation Mono', monospace;transform:scaleX(0.9333);-webkit-text-stroke:0.3px #111;">2</span>
<span class="t" style="left:2093.6px;top:1424.0px;font-size:30px;color:#111;font-family:'Liberation Mono', monospace;transform:scaleX(0.9333);-webkit-text-stroke:0.3px #111;">261187012418183</span>
<div class="b" style="left:458.8px;top:1462px;width:99.4px;height:41px;background:#eef1f5;"></div>
<div class="b" style="left:562.0999999999999px;top:1462px;width:487.69999999999993px;height:41px;background:#eef1f5;"></div>
<div class="b" style="left:1053.8px;top:1462px;width:320.19999999999993px;height:41px;background:#eef1f5;"></div>
<div class="b" style="left:1377.8px;top:1462px;width:172.99999999999991px;height:41px;background:#eef1f5;"></div>
<div class="b" style="left:1554.8px;top:1462px;width:70.4px;height:41px;background:#eef1f5;"></div>
<div class="b" style="left:1629.1px;top:1462px;width:88.8000000000001px;height:41px;background:#eef1f5;"></div>
<div class="b" style="left:1721.8px;top:1462px;width:155.10000000000005px;height:41px;background:#eef1f5;"></div>
<div class="b" style="left:1880.8px;top:1462px;width:117.19999999999996px;height:41px;background:#eef1f5;"></div>
<div class="b" style="left:2001.8px;top:1462px;width:87.20000000000019px;height:41px;background:#eef1f5;"></div>
<div class="b" style="left:2092.8px;top:1462px;width:329.9999999999999px;height:41px;background:#eef1f5;"></div>
<span class="t" style="left:468.2px;top:1469.0px;font-size:30px;color:#111;font-family:'Liberation Mono', monospace;transform:scaleX(0.9333);-webkit-text-stroke:0.3px #111;">1</span>
<span class="t" style="left:566.1px;top:1469.0px;font-size:30px;color:#111;font-family:'Liberation Mono', monospace;transform:scaleX(0.9333);-webkit-text-stroke:0.3px #111;">__intrinsic_sched_slice</span>
<span class="t" style="left:1054.7px;top:1469.0px;font-size:30px;color:#111;font-family:'Liberation Mono', monospace;transform:scaleX(0.9333);-webkit-text-stroke:0.3px #111;">261187012418183</span>
<span class="t" style="left:1378.2px;top:1469.0px;font-size:30px;color:#111;font-family:'Liberation Mono', monospace;transform:scaleX(0.9333);-webkit-text-stroke:0.3px #111;">12812</span>
<span class="t" style="left:1555.6px;top:1469.0px;font-size:30px;color:#111;font-family:'Liberation Mono', monospace;transform:scaleX(0.9333);-webkit-text-stroke:0.3px #111;">2</span>
<span class="t" style="left:1630.3px;top:1469.0px;font-size:30px;color:#111;font-family:'Liberation Mono', monospace;transform:scaleX(0.9333);-webkit-text-stroke:0.3px #111;">2790</span>
<span class="t" style="left:1723.6px;top:1469.0px;font-size:30px;color:#111;font-family:'Liberation Mono', monospace;transform:scaleX(0.9333);-webkit-text-stroke:0.3px #111;">D</span>
<span class="t" style="left:1881.8px;top:1469.0px;font-size:30px;color:#111;font-family:'Liberation Mono', monospace;transform:scaleX(0.9333);-webkit-text-stroke:0.3px #111;">120</span>
<span class="t" style="left:2002.8px;top:1469.0px;font-size:30px;color:#111;font-family:'Liberation Mono', monospace;transform:scaleX(0.9333);-webkit-text-stroke:0.3px #111;">2</span>
<span class="t" style="left:2093.6px;top:1469.0px;font-size:30px;color:#111;font-family:'Liberation Mono', monospace;transform:scaleX(0.9333);-webkit-text-stroke:0.3px #111;">261187012430995</span>
<span class="t" style="left:468.2px;top:1514.0px;font-size:30px;color:#111;font-family:'Liberation Mono', monospace;transform:scaleX(0.9333);-webkit-text-stroke:0.3px #111;">2</span>
<span class="t" style="left:566.1px;top:1514.0px;font-size:30px;color:#111;font-family:'Liberation Mono', monospace;transform:scaleX(0.9333);-webkit-text-stroke:0.3px #111;">__intrinsic_sched_slice</span>
<span class="t" style="left:1054.7px;top:1514.0px;font-size:30px;color:#111;font-family:'Liberation Mono', monospace;transform:scaleX(0.9333);-webkit-text-stroke:0.3px #111;">261187012421099</span>
<span class="t" style="left:1378.2px;top:1514.0px;font-size:30px;color:#111;font-family:'Liberation Mono', monospace;transform:scaleX(0.9333);-webkit-text-stroke:0.3px #111;">220000</span>
<span class="t" style="left:1556.2px;top:1514.0px;font-size:30px;color:#111;font-family:'Liberation Mono', monospace;transform:scaleX(0.9333);-webkit-text-stroke:0.3px #111;">4</span>
<span class="t" style="left:1630.2px;top:1514.0px;font-size:30px;color:#111;font-family:'Liberation Mono', monospace;transform:scaleX(0.9333);-webkit-text-stroke:0.3px #111;">683</span>
<span class="t" style="left:1723.6px;top:1514.0px;font-size:30px;color:#111;font-family:'Liberation Mono', monospace;transform:scaleX(0.9333);-webkit-text-stroke:0.3px #111;">D</span>
<span class="t" style="left:1881.8px;top:1514.0px;font-size:30px;color:#111;font-family:'Liberation Mono', monospace;transform:scaleX(0.9333);-webkit-text-stroke:0.3px #111;">120</span>
<span class="t" style="left:2003.4px;top:1514.0px;font-size:30px;color:#111;font-family:'Liberation Mono', monospace;transform:scaleX(0.9333);-webkit-text-stroke:0.3px #111;">4</span>
<span class="t" style="left:2093.6px;top:1514.0px;font-size:30px;color:#111;font-family:'Liberation Mono', monospace;transform:scaleX(0.9333);-webkit-text-stroke:0.3px #111;">261187012641099</span>
<div class="b" style="left:458.8px;top:1552px;width:99.4px;height:41px;background:#eef1f5;"></div>
<div class="b" style="left:562.0999999999999px;top:1552px;width:487.69999999999993px;height:41px;background:#eef1f5;"></div>
<div class="b" style="left:1053.8px;top:1552px;width:320.19999999999993px;height:41px;background:#eef1f5;"></div>
<div class="b" style="left:1377.8px;top:1552px;width:172.99999999999991px;height:41px;background:#eef1f5;"></div>
<div class="b" style="left:1554.8px;top:1552px;width:70.4px;height:41px;background:#eef1f5;"></div>
<div class="b" style="left:1629.1px;top:1552px;width:88.8000000000001px;height:41px;background:#eef1f5;"></div>
<div class="b" style="left:1721.8px;top:1552px;width:155.10000000000005px;height:41px;background:#eef1f5;"></div>
<div class="b" style="left:1880.8px;top:1552px;width:117.19999999999996px;height:41px;background:#eef1f5;"></div>
<div class="b" style="left:2001.8px;top:1552px;width:87.20000000000019px;height:41px;background:#eef1f5;"></div>
<div class="b" style="left:2092.8px;top:1552px;width:329.9999999999999px;height:41px;background:#eef1f5;"></div>
<span class="t" style="left:468.5px;top:1559.0px;font-size:30px;color:#111;font-family:'Liberation Mono', monospace;transform:scaleX(0.9333);-webkit-text-stroke:0.3px #111;">3</span>
<span class="t" style="left:566.1px;top:1559.0px;font-size:30px;color:#111;font-family:'Liberation Mono', monospace;transform:scaleX(0.9333);-webkit-text-stroke:0.3px #111;">__intrinsic_sched_slice</span>
<span class="t" style="left:1054.7px;top:1559.0px;font-size:30px;color:#111;font-family:'Liberation Mono', monospace;transform:scaleX(0.9333);-webkit-text-stroke:0.3px #111;">261187012430995</span>
<span class="t" style="left:1378.1px;top:1559.0px;font-size:30px;color:#111;font-family:'Liberation Mono', monospace;transform:scaleX(0.9333);-webkit-text-stroke:0.3px #111;">72396</span>
<span class="t" style="left:1555.6px;top:1559.0px;font-size:30px;color:#111;font-family:'Liberation Mono', monospace;transform:scaleX(0.9333);-webkit-text-stroke:0.3px #111;">2</span>
<span class="t" style="left:1630.3px;top:1559.0px;font-size:30px;color:#111;font-family:'Liberation Mono', monospace;transform:scaleX(0.9333);-webkit-text-stroke:0.3px #111;">2791</span>
<span class="t" style="left:1723.6px;top:1559.0px;font-size:30px;color:#111;font-family:'Liberation Mono', monospace;transform:scaleX(0.9333);-webkit-text-stroke:0.3px #111;">D</span>
<span class="t" style="left:1881.8px;top:1559.0px;font-size:30px;color:#111;font-family:'Liberation Mono', monospace;transform:scaleX(0.9333);-webkit-text-stroke:0.3px #111;">120</span>
<span class="t" style="left:2002.8px;top:1559.0px;font-size:30px;color:#111;font-family:'Liberation Mono', monospace;transform:scaleX(0.9333);-webkit-text-stroke:0.3px #111;">2</span>
<span class="t" style="left:2093.6px;top:1559.0px;font-size:30px;color:#111;font-family:'Liberation Mono', monospace;transform:scaleX(0.9333);-webkit-text-stroke:0.3px #111;">261187012503391</span>
<div class="b" style="left:1603.5px;top:910.6px;width:485.5px;height:378.6px;background:#fff;border:2px solid #ababab;border-radius:5px;box-shadow:0 5px 22px rgba(0,0,0,.26),0 0 5px rgba(0,0,0,.1);"></div>
<svg style="left:1833.0px;top:1287.5px" width="30" height="15" viewBox="0 0 30 15"><path d="M1 0 L15 12.5 L29 0" fill="#fff" stroke="#ababab" stroke-width="2"/><rect x="2.5" y="-2.5" width="25" height="3" fill="#fff"/></svg>
<span class="t" style="left:1613.0px;top:924.2px;font-size:31.3px;color:#000;transform:scaleX(0.8945);-webkit-text-stroke:0.6px #000;">Track name</span>
<span class="t" style="left:1613.0px;top:984.3px;font-size:31.3px;color:#000;transform:scaleX(0.8999);-webkit-text-stroke:0.6px #000;">Track type</span>
<span class="t" style="left:1613.2px;top:1043.8px;font-size:31.3px;color:#000;transform:scaleX(0.9782);-webkit-text-stroke:0.6px #000;">ts</span>
<span class="t" style="left:1613.5px;top:1102.9px;font-size:31.3px;color:#000;transform:scaleX(0.8856);-webkit-text-stroke:0.6px #000;">value</span>
<span class="t" style="left:1611.7px;top:1163.0px;font-size:31.3px;color:#000;transform:scaleX(0.9499);-webkit-text-stroke:0.6px #000;">pivot</span>
<span class="t" style="left:1777.8px;top:925.9px;font-size:31.3px;color:#000;transform:scaleX(0.8980);-webkit-text-stroke:0.6px #000;">Priority on CPU</span>
<div class="b" style="left:1775px;top:1160.5px;width:305px;height:41px;background:#ececec;"></div>
<span class="t" style="left:1782.8px;top:986.0px;font-size:31.3px;color:#000;transform:scaleX(0.9250);-webkit-text-stroke:0.6px #000;">counter</span>
<svg style="left:2054.0px;top:995.0px" width="22" height="14" viewBox="0 0 22 14"><path d="M2 2.5 L11 11 L20 2.5" fill="none" stroke="#111" stroke-width="2.3"/></svg>
<span class="t" style="left:1783.6px;top:1045.4px;font-size:31.3px;color:#000;transform:scaleX(0.9607);-webkit-text-stroke:0.6px #000;">ts</span>
<svg style="left:2054.0px;top:1054.4px" width="22" height="14" viewBox="0 0 22 14"><path d="M2 2.5 L11 11 L20 2.5" fill="none" stroke="#111" stroke-width="2.3"/></svg>
<span class="t" style="left:1782.1px;top:1105.2px;font-size:31.3px;color:#000;transform:scaleX(0.9510);-webkit-text-stroke:0.6px #000;">priority</span>
<svg style="left:2054.0px;top:1114.2px" width="22" height="14" viewBox="0 0 22 14"><path d="M2 2.5 L11 11 L20 2.5" fill="none" stroke="#111" stroke-width="2.3"/></svg>
<span class="t" style="left:1782.8px;top:1164.7px;font-size:31.3px;color:#000;transform:scaleX(0.9534);-webkit-text-stroke:0.6px #000;">cpu</span>
<svg style="left:2054.0px;top:1173.7px" width="22" height="14" viewBox="0 0 22 14"><path d="M2 2.5 L11 11 L20 2.5" fill="none" stroke="#111" stroke-width="2.3"/></svg>
<div class="b" style="left:1775px;top:962.5px;width:305px;height:2.2px;background:#111827;"></div>
<div class="b" style="left:1775px;top:1022.5px;width:305px;height:2.2px;background:#111827;"></div>
<div class="b" style="left:1775px;top:1082px;width:305px;height:2.2px;background:#111827;"></div>
<div class="b" style="left:1775px;top:1142.5px;width:305px;height:2.2px;background:#111827;"></div>
<div class="b" style="left:1775px;top:1201px;width:305px;height:3.6px;background:#3b5488;"></div>
<div class="b" style="left:1979px;top:1232px;width:101px;height:48px;background:#3f5589;border-radius:5px;"></div>
<span class="t" style="left:1995.6px;top:1240.8px;font-size:31.3px;color:#fff;transform:scaleX(0.8701);-webkit-text-stroke:0.4px #fff;">Show</span>
<div class="b" style="left:0px;top:574.5px;width:442px;height:90px;border:6px solid #ff3d00;border-left-width:6px;box-shadow:3px 3px 6px rgba(0,0,0,.35);"></div>
<div class="b" style="left:1600px;top:1151px;width:494px;height:68px;border:6px solid #ff3d00;box-shadow:3px 3px 6px rgba(0,0,0,.35);"></div>
<div class="b" style="left:1716px;top:1307.5px;width:268px;height:55.5px;border:6px solid #ff3d00;box-shadow:3px 3px 6px rgba(0,0,0,.35);"></div>
</div>
</body></html>
